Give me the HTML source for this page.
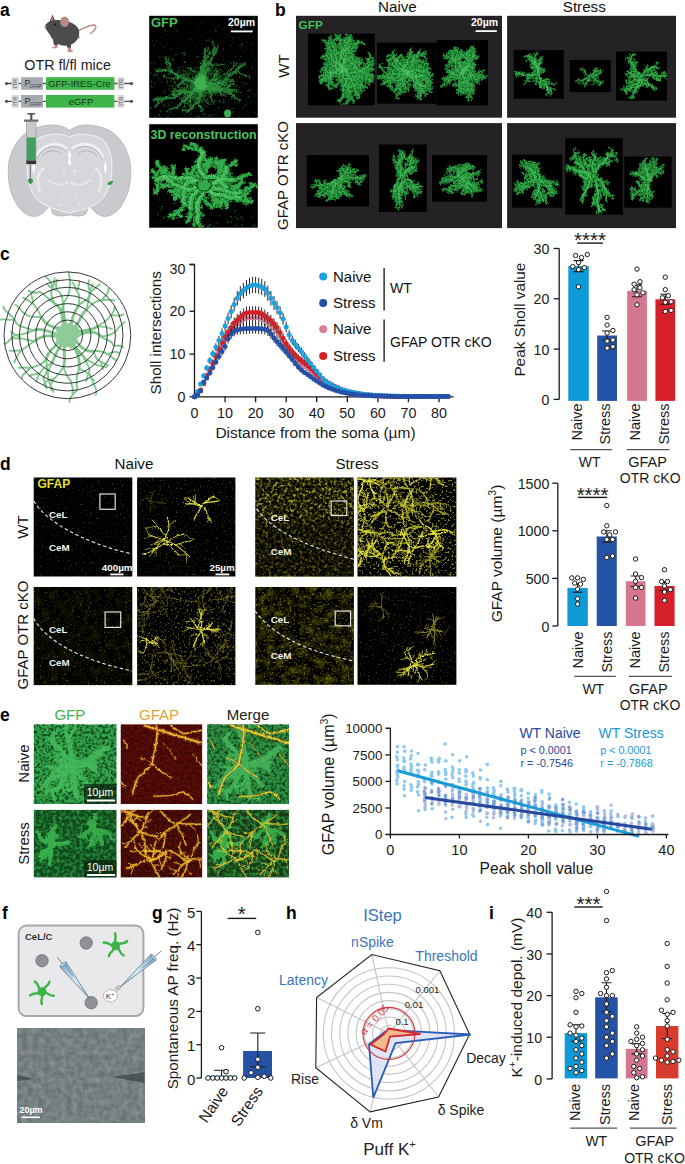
<!DOCTYPE html>
<html><head><meta charset="utf-8"><style>
html,body{margin:0;padding:0;background:#fff;}
body{width:685px;height:1164px;overflow:hidden;}
svg{display:block;font-family:"Liberation Sans", sans-serif;}
</style></head><body>
<svg width="685" height="1164" viewBox="0 0 685 1164">
<rect x="149.2" y="15.8" width="108.6" height="102.0" fill="#000"/>
<rect x="149.2" y="124.2" width="108.6" height="103.5" fill="#000"/>
<rect x="296" y="15.8" width="206.0" height="101.9" fill="#242224"/>
<rect x="507.1" y="15.8" width="168.9" height="101.9" fill="#242224"/>
<rect x="296" y="123.1" width="206.0" height="105.0" fill="#242224"/>
<rect x="507.1" y="123.1" width="168.9" height="105.0" fill="#242224"/>
<defs><path id="D10" d="M4 3l5 0l5 2l3 5l3 3l2 5l2 5l4 3l5-1l5 3l1 5l4 3l4 3M5-1l4 3l4 4l5 1l4 3l5-1l5-2l4 2l5 1l5-1l5-3l4-3l3-4l5-3l5 1l4-3l2-5l4-2M-1-5l5-1l4 2l4 3l3 5l1 5l2 5l-2 5l-3 4l-2 5l2 5l-2 4l-4 4l-2 5l-1 5l3 5M4 2l2 5l2 4l4 3l3 5l3 4l5 1l4 3l2 5l3 4l1 6l3 4l1 5l2 4l-1 6l3 4l6 0M1-6l4 4l4 2l5-1l5 0l5-1l6 0l4-3l5 0l4 3l3 4l5 1l5 3l3 4l1 5l5 3l4 3M2 1l-2 5l3 4l1 5l2 5l3 4l4 4l1 5l-3 4l1 5l3 5l4 3l2 5l3 4l0 5M-2 1l-6 0l-3-3l-3-5l-5-1l-6 0l-4 3l-2 4l1 5l2 5l0 5l0 6l-1 5M4 5l-5 1l-5-2l-5-1l-5 2l-5 0l-4 3l-4 4l-3 4l-3 4l1 6M3 4l-4 4l-5 2l-5 1l-4-2l-5 1l-6 1l-4-2l-6-1l-4-3l-2-5l0-5M0-4l-3-4l1-5l-3-5l0-5l2-5l2-5l0-5l1-5l2-5l0-5l2-4M2-2l-4-3l-3-5l-3-4l-3-4l-1-5l-2-5l0-5l-3-4l-2-4l0-5l0-6l-2-4l-3-5l-3-4l1-5M-4 1l-5-1l-5-3l-2-5l2-5l-2-5l-4-4l-4-2l-2-5l-1-5l-2-5l1-5l-2-5l-3-4l-2-4l-5-3M3-3l0-6l2-5l1-5l4-4l0-5l0-5l-4-3l-1-6l3-4l4-2l6 0l5 1l4-3l3-4l5-2M3-5l-1-5l3-4l2-5l-1-5l-4-3l-1-5l-2-5l1-5l4-3l3-5l4-2l6-1l4-2l2-5l2-5l2-5M-3-1l1-5l2-4l4-4l3-4l5-1l5 0l5 1l4 4l5 0l5 2l3 4l2 5l3 4l5 1M2 3l4-3l3-4l2-5l0-5l0-5l0-5l-1-5l1-5l2-5l0-6l-2-5l0-5l1-5l0-5l-3-5"/><path id="D11" d="M9 3l5-2l5-2l3-4l6 0l5-1M17 10l3 4l5 2l2 4l5 2M20 13l5 3l5 2l2 4l2 5M24 23l5-1l3-4l3-5M28 26l3 4l1 5l-2 5M33 25l1 5l2 5l0 5M38 28l5-1l4 4l5 1l3 5l3 3M39 33l-5 1l-2 5l2 5l3 4M43 36l5 2l5 1l4 4l4 3M9 2l-2 5l3 5l-1 5l3 4M13 6l3 4l1 5l1 5l3 4l5 1l5-2M18 7l4 3l2 4l5 2l3 5l2 4M32 7l5 2l5 1l4 3l4 3l6 0l4 2l3 5M36 9l1 5l3 4l0 6l-3 4M41 10l4 4l3 5l4 2l3 5l0 5l-2 5l-4 4M51 6l5-1l5 1l4 3l3 4l0 6l0 5l-1 5l-2 5M55 3l4-3l4-4l5-1l5-3l2-4l1-5M63-4l4-3l5-2l3-4l3-4M68-3l5 1l5 0l5 1l5 1M72-6l4-3l5-2l5-1M74-11l1-5l-1-5l1-5l2-5l1-5l-1-5M78-13l1-6l4-3l1-5M8-4l3-5l2-5l3-4l5-2l5 0l5-1M16 9l-2 5l2 4l-1 6l-2 5l-1 5l-4 3l-4 2M18 14l4 3l4 2l5 1l6 1l5 2l4 2M16 19l5 2l5 2l3 4l2 4l3 5l4 3l1 5M13 23l2 5l5 2l3 4l4 4l0 5l-4 4l-4 2M5 46l0 5l-2 5l2 5l2 5M4 51l-1 5l1 5l0 6l1 4M7 56l0 5l-1 5l-5 2l-1 5l-2 5l-1 5M8 11l5 1l5 2l5-1l4 4l5 1l5 1M12 14l1 5l1 5l1 5l4 3l1 5l2 5l3 4M18 23l-1 5l-1 5l3 4l0 6l-4 4l-3 3M23 24l5 1l5-1l5-1l3-4l3-4l4-4M27 27l5 2l3 4l3 4l3 5l4 3l5 1M29 32l-2 4l0 5l2 5l4 3l6 0l4-3l4-3M32 36l5 0l4 3l5 1l5 3l2 5l-2 5l3 4M37 51l-1 5l0 5l4 3l5 3M47 65l2 5M5-2l5-2l4-3l5 0l5 1l5 3l4 3M14-1l5 2l3 5l2 4l5 2M24-2l6 1l3 4l4 2l4 4l4 4M30-2l4 2l3 4l1 6l2 4l5 3l3 4M34-5l5-1l4-3l5-2l3-4l5-2M43-2l5 0l5 2l5-1l6 1l5 1l4 3M46 2l2 5l1 5l3 4l5 3l5 2l5-2l4-3M51 3l5 3l5 0l5 2l4 4M56 6l1 5l0 5l4 5l3 3l5 3M59 10l4 4l4 2l5-1l4-3l6 0l3 4M60 15l4 4l5 1l3 4l4 5l4 2M65 18l5-2l5 0l5 2l5 0M69 21l4 3l5 2l5 2M0 6l0 5l1 5l1 5l-1 5l-3 4M3 10l-5 3l-5-1l-5-1l-5 3l-5-2M4 15l0 5l1 6l-2 4l1 5l1 5l2 5M6 20l4 2l2 5l3 5l3 4M9 24l4 3l3 5l4 2l6 0l4 2M14 33l3 4l-1 5l1 5l2 5M11 37l3 5l4 2l5 2l5 0M12 42l3 5l0 5l0 5l1 5l4 3l1 5M15 47l-1 5l0 5l2 5l-1 5M24 59l-1 5l3 4l2 5l3 4l3 4M24 64l-2 5l-1 5l-4 3l-3 4l-2 5M-8 1l-2 5l-4 2l-5-1M-11-2l-2-5l-2-5l0-5l-2-5l-4-3l-4-3M-19-8l1-5l1-5l4-4l1-5M-25-8l-2-5l0-5l-2-5l-4-3l-5-2M-31-1l-4 3l-4 4l-4 3M-28 9l5 2l4-4l-2-5l1-5M-28 14l-5 3l-4 2l-5 0l-5 2l-4 4l-5 1M-28 20l-2 4l-3 5l-1 5l-1 5l0 5l3 4M-29 25l1 5l3 4l2 5l4 3l5 2M-1 6l-5 1l-3 4l-5 2l-5 0M-16 5l-4 4l-1 5l-3 4M-21 5l-1 6l-3 4l-5 1l-4 2M-25 8l-4 3l-3 5l-1 5l0 5M-29 12l-5 2l-5-1l-4-3M-32 16l-5-1l-6 0l-4-3M-35 20l-5 1l-4 3l-5 2l-4 3l-4 4M-34 26l-5 1l-5 1l-5 0M-1 8l-1 5l-3 4l-5 2M-6 10l-1 5l0 5l3 5l-2 4l-1 6M-15 9l-5-2l-5 2l-3 4l-4 3M-20 10l-4-3l-2-5l-3-4M-26 11l-3-3l-2-5M-36 8l-1 5l-4 3l-5 0l-4-3M-42 0l-5 2l-5-2M-42-5l4-3l-1-5l0-6M-3-8l-5-2l-5 1l-4-3l-6 0M-5-18l-1-5l1-5l0-5l-2-5l-4-3M-5-23l-1-5l1-5l3-4M-3-28l5-2l4-3l5 0l5-2M0-43l-5-1l-6 0l-4-3M2-48l-1-5l2-4l4-3l6-1M2-53l-5 0l-5-3l-5 0l-5 1M4-57l5-3l2-5l0-5M-2-5l-5-1l-5-3l-2-5l-1-5M-5-10l-3-4l-4-3l-3-5l-4-3l-3-4l-4-3l-5-1M-8-14l-5-1l-4 3l-6 0l-4-2M-11-18l-3-4l1-5l0-5l-1-6M-14-33l2-5l-2-5l0-5l-2-5l-4-2l-5 0M-21-56l-5-3l-4-3l-5-2l-4-3l-4-4l-3-3M-27-65l0-6l-2-4l-4-4M-26-70l5-2l3-4l4-3l4-4l5-1l3-4M-14-3l-5-2l-5 0l-4 3l-1 5l-5 1l-5 1M-16-8l-4-3l-1-5l1-5l-3-5l-2-4l-2-5M-14-13l0-5l0-5l-3-5l0-5M-20-22l-3-3l-5-1l-5-3l-4-3M-24-24l-3 5l-1 5l-5 1l-4 4l-5 1l-4 4M-26-29l0-5l0-5l-1-5l-4-4l-4-3l-3-4l-1-5M-27-34l4-3l1-5l-1-5l2-5l3-4M-29-39l-5 1l-4 3l-5 1l-5 1l-4 4M-33-53l3-4l4-3l4-3M-40-60l2-5l5-2l5-1M3-9l4-3l5-1l4-4l4-2l6-1M6-19l-1-5l0-5l4-4l0-5l3-4M10-23l4-3l5 0l3-3l6-1l5 0M10-28l-4-2l-6 1l-5 1l-5-1M10-33l-1-5l-1-5l-4-4l-1-5M6-36l3-5l5-2l5 1l4-3l6-1l5 1l4-2M5-42l5-1l4-4l2-4l-1-5l-2-5M8-46l4 2l5 3l5 0l5 0M12-48l4-4l4-3l5 0l5-3M18-48l4 3l3 4l4 3l1 5l0 6l4 3M23-47l3 4l1 5l1 5l0 5l4 4l5 1l5 0M27-50l1-5l3-4l5-2l5-2M2-10l-1-5l3-4l3-5l4-3l4-3M5-14l5-2l5-2l2-5l-1-5M7-19l-1-5l-3-4l2-5l4-4M2-27l-4 2l-5-2l-4-3l-4-4l-4-2l-5-2M1-32l-4-4l-2-4l2-5l3-4M0-42l2-5l5-2l5-2l4-3l2-5l4-3l4-4M7-50l-3-4l-5-2l-2-5l-3-4l2-5l1-6l-2-4M11-52l5-3l2-5l-1-5l-3-4l-4-3M17-53l-1-5l2-5l0-5l3-4l0-5l2-5M21-55l3-5l0-5l-1-5l0-5l-2-5M23-60l0-5l1-5l0-5l2-5l-1-5M25-65l5 1l5-2l5 2l5-2l4-3l5 0M4-14l4-3l0-5l3-4l0-6l-2-4M12-19l2 5l5 2l5-3l4-3l5 1M17-19l2 5l4 4l5 1l5 2l3 4M22-18l3 5l4 3l5 1M26-14l5 0l4-4l4-3l4-3l4-3M31-14l5-2l5-2l5-1l4-4M36-12l3-4l5-1l5 0l5-1M39-8l-2 5l-2 5l2 5l4 3l1 5M41-3l-4 4l-3 3l-3 5M44 1l5 1l4 4l2 4l1 5l0 6l-1 5M49 2l5 2l5 1l5-2l4-4l5 0l4-2M6 0l5 1l5 1l4 3l4 4l5 2M9-4l5-2l3-4l2-5l5-1l4-3M11-9l4-4l3-4l3-4l4-3M11-14l3-5l4-2l3-4l0-5l4-3M11-24l0-6l3-4l1-5l2-5l3-4l5-2l4-3M10-29l0-6l-3-3l-3-5l-2-5l-2-4l-1-6M11-34l0-6l-3-4l-3-4l-1-5l-2-5l-2-5M13-39l-3-4l-5-3l-3-4l-5-2M11-50l5 0l6 0l3-4l4-3M11-55l-2-4l-2-5l-1-5l3-5M12-60l1-5l3-5l2-4l2-5M12-65l-3-4l-3-4l-5-2l-5 1l-4-4M9-70l3-4l3-5l-1-5l-2-5"/><path id="D12" d="M9 3l1 5M14 1l0-5M19-1l-4-5M22-5l-4-7M28-5l4 4M33-6l3-9M14 5l1 6M20 14l-2 3M25 16l-2 6M27 20l-2 8M32 22l1 8M20 13l-3 4M25 16l-4 6M30 18l7-6M34 27l4 0M22 18l6-2M24 23l-3 3M29 22l9 3M32 18l8-2M35 13l-2-4M28 26l5-6M31 30l6 0M30 40l3 6M34 30l-5 6M36 35l-6 4M36 40l6-1M38 28l-3 6M43 27l7 6M47 31l6-2M52 32l0 7M55 37l0 8M58 40l6 0M39 33l-4 4M34 34l-2-7M32 39l4 8M34 44l-4 4M37 48l-1 7M43 36l9-4M48 38l7-7M53 39l4-4M57 43l3-2M61 46l9-2M47 39l0 5M9 2l-3 5M7 7l-6 1M12 21l-4 4M13 6l9-2M16 10l0 5M17 15l-3 4M18 20l4 2M21 24l4-2M26 25l2 9M31 23l9 3M18 7l1-6M22 10l-5 6M24 14l7 1M29 16l4-2M32 21l-7 6M34 25l-2 7M27 9l1-5M32 7l-1-5M37 9l6-4M42 10l3 7M46 13l4 0M50 16l7-5M56 16l-1 6M60 18l3-9M63 23l6 2M36 9l4-5M37 14l8-1M40 24l9 4M37 28l-9-1M41 10l-2 4M45 14l5-5M48 19l4-3M52 21l1 9M55 26l7-1M55 31l-6 6M53 36l7 7M46 9l6 6M51 6l6 3M56 5l3 8M61 6l0-7M65 9l-4 6M68 13l7-4M68 19l8 3M68 24l7 4M65 34l7 3M55 3l4 6M59 0l4 0M63-4l-3-6M68-5l0-5M73-8l6 4M75-12l8-1M76-17l9 3M58-1l-3-3M63-4l2 5M67-7l-2-5M72-9l-4-6M75-13l-5-7M78-17l10 0M68-3l1-5M73-2l4-4M78-2l4-4M83-1l0 6M72-6l6 3M76-9l1-5M81-11l4 2M86-12l3-3M74-11l-4-4M75-16l5-2M74-21l-7-7M75-26l-7-1M77-31l4 2M78-36l-7-7M78-13l-4-6M79-19l-9 0M83-22l9 0M84-27l4-3M4-6l2-6M8-4l8-4M11-9l6 0M13-14l-2-9M16-18l6 0M21-20l-1-5M26-20l1 7M31-21l2 10M15 4l-7 7M16 9l-9 0M14 14l3 5M16 18l-8 1M13 29l4 6M12 34l5 2M8 37l-6 1M4 39l-5-2M18 14l8 1M26 19l0 7M31 20l6 7M37 21l0 8M42 23l-3 6M46 25l-1 9M16 19l-5 1M21 21l-3 7M26 23l2-9M29 27l-2 8M31 31l-5 7M34 36l5 2M38 39l-5 5M39 44l-6 2M13 23l-5-5M15 28l-3 8M20 30l2-4M27 38l0 8M27 43l-8 0M23 47l4 8M19 49l2 4M11 28l-4-2M13 33l5 2M11 37l-9-1M7 41l-8 1M5 46l-7 4M5 51l4 5M5 61l5-3M7 66l-3 6M4 51l7 3M3 56l5 5M4 61l5 0M4 67l8 3M5 71l-3 3M7 56l5 2M7 61l-3 4M6 66l3 3M1 68l-1 4M0 73l-8 3M-2 78l-7 1M6 7l-2 7M8 11l-3 5M13 12l2 4M23 13l0-4M27 17l6-3M32 18l3-8M37 19l2 5M12 14l-1 10M13 19l8-1M14 24l9 1M15 29l-6 4M19 32l6-5M20 37l9 0M22 42l-9 3M25 46l10 1M15 19l5-3M18 23l6-3M17 28l3 3M16 33l-8-2M19 37l-6 3M19 43l4 5M15 47l-5-4M12 50l2 6M23 24l-2 5M28 25l0 9M33 24l-1-4M38 23l1-6M41 19l6 6M44 15l-2-7M48 11l-7-5M27 27l8-2M32 29l1-4M35 33l-1 5M38 37l-8 3M41 42l-6 3M50 46l3-7M29 32l5 1M27 36l6 4M27 41l7 1M29 46l7 4M33 49l-2 7M39 49l-2-9M43 46l8 5M47 43l5 2M32 36l-1 9M37 36l4 3M41 39l4-7M46 40l5 8M51 43l-3 6M53 48l8-3M51 53l-5 0M54 57l8-6M33 42l-7 4M36 46l6-2M37 51l6 5M36 56l-5 1M36 61l4 2M40 64l6-8M45 67l4-8M38 61l-5 3M47 65l-1 8M49 70l-8 2M5-2l6-4M10-4l-4-8M14-7l-2-6M19-7l-2 9M24-6l1-5M29-3l-2 7M33 0l5-8M9 0l1 4M14-1l-1-4M19 1l6 0M22 6l7-4M24 10l4-3M29 12l3-6M19-1l4 9M30-1l3-4M33 3l-2 7M37 5l5-1M41 9l-3 5M30-2l0 7M34 0l-2 8M37 4l-1 5M38 10l-5 2M40 14l6-4M45 17l7-7M48 21l-4 2M34-5l0-7M39-6l3-4M48-11l2 7M56-17l5 3M48-2l4 7M53 0l5 7M58-1l5-4M64 0l4 7M69 1l2 9M73 4l7-5M46 2l-4 8M48 7l6-2M49 12l5 5M52 16l7-2M57 19l-3 4M62 21l3 5M67 19l-1-5M51 3l6-3M56 6l3-4M61 6l7-5M70 12l6-6M56 6l-2 9M57 11l-9 1M57 16l7-1M61 21l-5 4M64 24l-6 4M69 27l-2 9M59 10l-3 4M63 14l0 5M67 16l3-7M72 15l-4-8M76 12l8 5M82 12l2 4M85 16l-6 6M60 15l-4 5M64 19l7-1M69 20l6-4M72 24l-6 4M76 29l-1 9M80 31l5-1M65 18l3-4M70 16l4-9M80 18l2 4M85 18l1 9M69 21l9-4M73 24l-6 8M78 26l3-3M0 6l-4 2M1 16l4 3M2 21l-9 3M1 26l-6 1M-2 30l-7 1M3 10l-5 6M-2 13l0 9M-7 12l-3 6M-12 11l-3 4M-17 14l-5-2M-22 12l-3 8M4 15l-5 5M4 20l6 0M5 26l7 1M3 30l2 8M4 35l-5 5M5 40l7-3M7 45l-5 1M6 20l9 1M10 22l3 6M12 27l7 3M15 32l-4 4M18 36l9 0M9 24l5 1M13 27l-1 7M16 32l-4 8M20 34l1 4M26 34l-1 7M30 36l0 9M13 28l7-1M14 33l-9 0M17 37l-2 9M19 52l9 1M11 37l3 8M14 42l8-5M18 44l2-4M23 46l-3 4M15 47l-3 3M15 52l-4 2M15 57l-5 1M16 62l-6 0M20 65l4-4M21 70l-4 8M15 47l5-4M14 52l-6 3M14 57l3 4M16 62l-3 3M15 67l4 8M19 50l6-6M21 55l5 0M24 59l4-3M23 64l3 2M26 68l-1 7M28 73l-5 5M34 81l-2 4M24 64l8 5M22 69l-7-1M21 74l4 2M17 77l0 10M12 86l-8 0M-8 1l1-7M-14 8l-2-5M-19 7l-9 4M-11-2l2-7M-13-7l-5 2M-15-12l-5 0M-15-17l4-5M-17-22l-4-2M-21-25l3-5M-25-28l-6 0M-14-7l4-4M-19-8l0 4M-18-13l-4-1M-17-18l6 3M-13-22l-7-5M-25-8l0-5M-27-13l-6 0M-27-18l-8 0M-29-23l7-6M-33-26l-4 7M-38-28l-6 3M-29-5l-8-5M-31-1l3 3M-35 2l-7-5M-43 9l-4-8M-30 4l7-1M-28 9l-6 3M-23 11l4-5M-19 7l-6-7M-21 2l4-1M-20-3l6-3M-28 14l6-1M-33 17l-2-6M-37 19l1 5M-42 19l1 4M-47 21l-2 9M-51 25l1 4M-56 26l-4-8M-28 20l5 0M-30 24l1 6M-33 29l-6 1M-34 34l8 4M-35 39l-6 1M-35 44l5 6M-32 48l8-1M-29 25l9 2M-28 30l-2 4M-25 34l-6 3M-23 39l7-2M-19 42l8-4M-14 44l2-8M-1 6l-4-6M-9 11l5 7M-14 13l0 4M-19 13l-4 3M-6 4l-1-5M-11 3l-1 8M-16 5l-6-5M-20 9l1 8M-21 14l-5 4M-24 18l-6-4M-22 11l-4 3M-25 15l4 5M-30 16l-6-5M-34 18l-2 8M-25 8l-4-7M-29 11l0 6M-32 16l-8 4M-33 26l4 6M-34 14l-3 6M-39 13l-2-3M-43 10l1-5M-37 15l-5 5M-47 12l2-5M-35 20l4 8M-40 21l-4 5M-44 24l-1 4M-49 26l-2 4M-53 29l0 7M-57 33l-4-5M-34 26l-9 4M-39 27l0-4M-2 13l-6 1M-5 17l2 5M-10 19l-6-7M-7 15l1 4M-7 20l-6 4M-6 29l-8-3M-7 35l-6 4M-11 11l-4 8M-15 9l-1-4M-20 7l4-7M-25 9l4 9M-32 16l-8-2M-24 7l3-3M-26 2l6-1M-29-2l-8 2M-29 8l1-5M-36 8l-1 4M-37 13l5 1M-46 16l-6 5M-50 13l-7 3M-40 5l-9 3M-42 0l-5 3M-47 2l-3-3M-52 0l-6 7M-42-5l5-5M-38-8l-4-9M-39-13l3-3M-39-19l3-3M-3-8l1-4M-8-10l-6 3M-13-9l-3 5M-17-12l1-5M-2-13l-8-6M-5-18l-7-3M-6-23l4-4M-5-28l8 4M-5-33l-9 3M-7-38l8-2M-11-41l-8 1M-5-23l7-4M-6-28l5-4M-2-37l-6-8M-3-28l5 2M2-30l1-9M6-33l5 2M16-35l3 8M-1-33l6-4M-1-38l5-7M0-43l-6-5M-5-44l-1 9M-11-44l0 7M-15-47l-1-10M2-48l10-2M1-53l-7-3M3-57l-7-6M7-60l3 4M13-61l1 5M2-53l5-3M-3-53l-2 5M-8-56l-1-8M-13-56l-3-8M-18-55l1 7M4-57l-2-9M9-60l4 7M11-65l6-1M-2-5l-4 2M-7-6l-4 4M-12-9l-3 8M-14-14l6-7M-15-19l5-1M-5-10l1-4M-8-14l-6 6M-12-17l2-6M-15-22l-8 4M-19-25l-7 7M-22-29l-4 4M-26-32l-4 5M-31-33l-2 6M-8-14l-10 1M-13-15l3-7M-17-12l-2 5M-23-12l-1 6M-27-14l-2 5M-11-18l0-4M-14-22l-10 2M-13-27l5 3M-13-32l6-4M-14-38l-5-1M-12-23l5-6M-14-28l-8-4M-14-33l6-1M-12-38l-4-1M-14-43l-6 1M-14-48l-5-4M-16-53l3-5M-20-55l6-7M-25-55l-6-7M-17-37l2-5M-19-41l-6 2M-19-46l-4-3M-19-52l-7-7M-21-56l3-6M-26-59l4-8M-30-62l-7 7M-39-67l-3 3M-43-71l-4 2M-46-74l-8 1M-24-61l6-7M-27-65l4-9M-27-71l-9-1M-29-75l-7 3M-33-79l5-5M-26-70l-9 0M-21-72l2-6M-18-76l4 1M-10-83l-8-6M-5-84l1-9M-2-88l-6-6M-9 0l3-5M-14-3l4-5M-19-5l-2-5M-24-5l-4 8M-29 3l3 6M-34 4l-8-4M-39 5l-5 8M-20-11l-6 3M-21-16l-5-1M-20-21l-7 0M-23-26l4-8M-25-30l-6-2M-27-35l-4 0M-14-13l-4-7M-14-18l-8 1M-14-23l-7 1M-17-28l4-7M-17-33l-8-1M-16-18l4-3M-20-22l-5 5M-23-25l-8 5M-28-26l-3-5M-33-29l0-9M-37-32l-2-8M-24-24l-1-6M-27-19l2 7M-37-9l-7-3M-42-8l-6-6M-46-4l-6 0M-26-34l4-4M-27-44l-6-3M-31-48l-5 7M-35-51l-6 7M-38-55l-6 4M-39-60l3-4M-27-34l5-3M-23-37l9 3M-23-47l8-4M-21-52l5-1M-18-56l6 5M-29-39l-7-3M-38-35l-5-5M-43-34l2 5M-48-33l-2 5M-28-44l5-1M-33-53l-5-1M-30-57l-4-8M-26-60l9 1M-22-63l-2-5M-35-57l5-2M-40-60l1-4M-38-65l8 4M-33-67l7 2M-28-68l0-5M7-12l7 6M12-13l3-7M16-17l-6-8M20-19l4 5M26-20l4 6M5-14l-6-1M6-19l10-2M5-24l5 0M5-29l-8-2M9-33l0-4M9-38l-4-1M12-42l5 4M22-29l0-9M28-30l4-8M33-30l2-4M6-30l0-10M0-29l-6 6M-5-28l-6 7M-10-29l-3 3M10-33l9-4M9-38l-7-6M8-43l6-2M4-47l-8 3M3-52l-7 2M6-36l0-4M9-41l5 0M14-43l-3-9M19-42l0-8M29-46l0 6M38-47l-1-6M5-42l-9-3M10-43l0-4M14-47l-4-5M15-56l9-2M13-61l6-2M12-44l2 5M17-41l4-1M22-41l1-6M27-41l4-4M12-48l0-7M16-52l-3-7M20-55l-3-6M25-55l2 5M30-58l-1-5M18-48l4 9M25-41l-5 6M29-38l5 0M30-33l-4 3M34-24l8-3M23-47l2 6M26-43l5-3M27-38l-5 3M28-33l9 3M37-23l3 6M42-23l0-7M27-50l4 2M28-55l6-5M31-59l-8-4M36-61l7 5M41-63l2-9M30-54l-2-6M35-56l6 3M2-10l5-8M1-15l10 0M4-19l-1-5M7-24l8 0M11-27l-4-8M15-30l6 3M5-14l-3-8M10-16l2 7M15-18l5 7M17-23l-4-1M7-19l-4-1M6-24l4-5M3-28l4-7M5-33l-5-5M9-37l0-8M2-27l-2-6M-2-25l-3 5M-7-27l2-4M-11-30l-7 5M-15-34l-6 7M-19-36l3-6M-24-38l4-7M1-32l-9 2M-3-36l0-5M0-49l8 1M-1-37l-8 3M0-42l4-3M2-47l9 3M7-49l1-6M12-51l2 4M16-54l0-6M18-59l5 1M22-62l-6-7M26-66l-6-5M4-45l-7-6M7-50l-5-2M4-54l-9 3M-1-56l-3 9M-3-61l-6 0M-6-65l7-7M-4-70l-4-6M-3-76l-9-4M-5-80l4-9M11-52l1-4M16-55l4 2M18-60l-4-2M17-65l6-5M14-69l-6-1M10-72l6-5M18-63l4-2M18-68l5 0M21-72l6 3M21-77l-6-2M23-82l-6-1M21-55l1-6M24-60l-8-4M24-65l-5 1M23-70l6-7M23-75l3-4M21-80l7-4M23-65l-7-2M26-80l-4-3M25-85l-10-1M25-65l7 4M35-66l-1-6M40-64l4-6M45-66l1-9M49-69l8 3M54-69l8 6M27-70l6-3M0-10l7 5M4-14l1-8M8-17l9 3M8-22l6-1M11-26l6 0M11-32l9-1M9-36l-4-1M7-18l8 0M12-19l4 3M14-14l9 2M19-12l4 7M24-15l-1-8M28-18l4 3M33-17l8 6M17-19l-3-9M19-14l-3 4M23-10l-8 4M28-9l7-5M33-7l4 6M36-3l-3 5M22-18l0 5M25-13l6 2M29-10l-2 8M31-14l3 9M35-18l9 1M39-21l2-8M43-24l3 5M47-27l3 4M31-14l0 9M36-16l3 3M41-18l3-5M46-19l-3-8M50-23l-3-7M36-12l1 7M44-17l3 9M49-17l4-8M54-18l3-8M39-8l6-2M37-3l2 5M35 2l-7-3M37 7l-7 7M41 10l-4 6M42 15l6 5M41-3l-9 3M37 1l-7-4M34 4l-6-4M31 9l-5-2M49 2l-2 8M53 6l-5 4M55 10l5-3M56 15l-5 0M56 21l6 4M55 26l6 3M49 2l-3 9M54 4l5-7M59 5l-2 4M64 3l1-4M68-1l10 0M73-1l-1 7M77-3l2-6M6 0l3 4M11 1l1-5M16 2l4-4M24 9l7-2M29 11l6-5M9-4l7 4M17-10l4-1M19-15l-3-2M24-16l1 5M28-19l5 1M11-9l8 4M15-13l5-1M18-17l-4-4M21-21l5 0M25-24l4 5M11-14l5 0M14-19l-8-6M18-21l3 4M21-25l7 1M21-30l8-3M25-33l6 2M11-19l-4-3M11-24l-3-5M11-30l-7-1M14-34l7 0M15-39l-6-2M17-44l-7-5M25-50l4-5M29-53l2-6M10-35l-7-1M7-38l3-6M4-43l4-4M2-48l-6 3M-1-58l-6-2M11-34l6-2M11-40l3-3M8-44l-6 3M5-48l-7 2M4-53l-6 1M2-58l-6 4M0-63l7-4M13-39l-4-3M10-43l6-7M5-46l5-6M2-50l-6 1M-3-52l0-9M13-45l-7-2M16-50l4-6M22-50l1-4M25-54l9-1M29-57l8 5M11-55l3-3M7-64l7-5M6-69l3-5M9-74l7 1M12-60l9 1M13-65l7-6M16-70l9 3M18-74l-3-7M20-79l-7-4M9-69l6-3M6-73l5-7M1-75l-8 2M-4-74l-3-6M-8-78l-6 5M9-70l5-8M12-74l-5-5M14-84l-7-7M12-89l6-4"/><path id="D20" d="M2 2l5-3l4-3l4-3l6 0l4-2l4-3l4-4l1-5l5-2l4-3l5-3l5 0l5 0M1-5l3 4l2 5l2 5l-2 5l-2 4l-3 4l-3 5l-1 5l-3 4l-5 2l-4 3l-5 0l-5-1l-5 2l-2 5l-5 3M-2-4l5 2l5 2l5 0l5-1l4-4l4-3l6 1l3 4l6 0l5 1l5 0l4 2l5 1M-5-1l-2 5l2 5l2 4l2 5l2 5l4 3l5 2l5 2l2 5l-1 5l-3 5l1 5l4 3l5 2M-2-5l-4 4l-5 1l-4 4l-3 4l-4 3l-5-1l-6-1l-5 1l-5-1l-5-1l-5-2M4-3l-5 1l-5-2l-4-3l-5-2l-5 0l-5 2l-5 0l-5-1l-5-1l-6 0l-4 2M0-3l-5 0l-5-1l-4-3l-2-5l-1-5l-2-5l-2-5l-2-4l-3-5l1-5l4-4M-3-3l-5 2l-4 3l-5 0l-5 1l-5 1l-5-2l-5 1l-5-1l-3-5l-3-4l-5-2l-5-1l-5 3M3 2l-5 2l-3 4l-4 4l-3 4l-1 5l-1 5l-3 4l-5 2l-4 3l-2 5l-2 4l-5 2l-5-1l-4-3l-6-1M1 0l-1-5l-4-4l-1-5l1-5l-1-5l1-5l-2-4l-3-5l-1-5l3-4l-1-5l-2-5l-1-5l-2-5l2-5M-6 5l-4-3l-5-2l-4-3l-3-4l-1-5l2-5l4-3l2-5l1-5l1-5l2-5l4-3M3 4l5-3l2-5l4-3l5-3l5 1l4 3l5 3l4 3l3 4l0 5l3 5l5 1l5 2l5 1l5 2l2 5M2 0l1-5l-1-5l2-5l4-3l2-5l5-3l4-2l6 1l4-2l5-3l1-5l4-4l5-1l5 0l5 2l4 3M3-5l3-4l3-4l5-3l5-1l5 2l4 2l6 1l3-4l2-5l2-4M0 6l4-2l6 1l4-2l6-1l5-1l4 3l4 3l6-1l4-3l5 1l5-2l5 0l4-3l5-2l5 1"/><path id="D21" d="M7-1l5 0l4 3l5 2l4-2M29-12l6 1l5 0l3 4M43-26l5 2l5-2l5 1l5 2l2 5l5 1M48-29l1-5l4-3l2-4M53-29l4 3l3 4l4 4l1 5l0 5l-1 5M8 9l-2 5l1 5l1 5l-1 5l1 5M6 14l-2 4l-4 4l0 5l-3 5l-5 3M4 18l-3 5l-2 4l-2 5l2 5l4 3l1 5l-2 5M1 22l-5 3l-1 5l-3 4l-3 4l-5 2l-5-2l-4 3M-6 36l3 4l3 4l4 3l3 5l-1 5l-2 4M-15 41l-5 1l-3 4l-3 4l-3 5l-1 5l-2 4M-20 41l-2 5l1 5l3 4l2 5l3 4l5 1l6 1M-30 42l-4 3l-5 2l-4 3l-2 5M-32 47l3 4l1 5l-1 5l-5 3M-37 50l-4-2l-5 1l-5 2l-2 5l-3 4l-5 2M3-2l5 1l6 0l4 2l3 5M13 0l3 5l1 5l1 5l2 5l5 1l5 2M22-5l5 0l4-3l2-5l-1-5M26-8l6 0l4-3l3-4l4-4l5-1M35-3l5 2l3 4l2 5M46-2l5-2l5 0l5 1l4 4l0 5M51-2l0-6l-3-4l3-5l3-4l5-2M55 0l4 4l3 5l4 2l5 3l2 4M60 1l5 3l5-2l3-4l5-2l3-4l5-1M-7 4l-4 2l-5 0l-5-1l-5-2M-5 9l-1 5l3 4l2 5l-2 5M-3 13l-2 5l0 5l3 4l3 4l6 1l4 3M-1 18l5 2l4 3l3 4l-1 5l2 5M1 23l5 0l5 3l1 5l3 4M10 28l2-5l4-4l2-5M15 30l4 3l5 2l5 0l5 3M17 35l-1 5l-2 5l-1 5l3 4l4 4M13 45l-5 0l-5 0l-6-1l-5 0M14 50l-5 2l-1 5l-1 5l1 5M18 53l5-2l5-1l4-4M23 55l-1 5l-1 5l-1 5l0 6M-6-1l0 5l-4 3l-6 0l-4-3l-5 1M-11 0l-4 3l-1 5l-1 5l-2 5l-2 5M-15 4l0 5l4 4l2 5l2 4l4 3M-18 8l-4 2l-2 5l-1 5l-3 5l-4 2M-27 10l-5-2l-4-4l-5 1l-5 0l-5-1M-33 9l-3-3l-3-5l-1-5l-5-2M-38 10l-5-1l-4-2l-2-5l1-5l-4-5M-43 9l-5 2l-5-1l-5 0l-5 0l-5-2M-6-4l-3-4l-2-5l0-5M-10-7l-5-1l-5 1l-5 2M-15-9l-5-2l-4-4l-2-4l-2-5M-20-9l-1 5l3 5l3 4M-30-7l-5-1l-4-4l0-5l2-5M-35-8l-3 4l-2 5l-3 4l-5 2l-2 5M-40-9l-5-3l-2-4l0-6l-3-4M-50-7l-5 2l-5 1l-4 3l-2 5l-3 5M-10-4l-5 2l-5-3l-3-4l-3-4M-14-7l-4-4l-5 0l-4-3M-16-12l3-4l2-5l0-5M-19-22l-3-5l-2-4l-1-5l3-5M-21-27l-5 0l-5 2l-5 2l-5-1M-23-31l2-5l-2-5l-5-2l-2-5l-3-4M-26-36l-1-5l1-5l-1-5M-21-45l2-4l2-5l3-5l4-3l3-4M-12 2l-4-3l-5-2l-5-3l-3-3l-4-4l-5-2M-27 4l-4-3l-5-3l-4-3M-32 2l1-5l-4-4l-3-4M-45-3l-1-5l-1-5l-4-3l0-5l1-6l3-3M-48-7l-4-3l-6-1l-3-4l-5-1l-5-3l-3-4M-53-9l-5 1l-5-3l-5 1l-5 2l-5 1M-63-7l-3 4l0 5l-1 5M-2 4l-1 5l-4 3l-3 5l0 5l2 5l3 4M-5 8l-2 5l-5 2l-5 1l-3 4M-12 16l-3 4l-5 3l-4 2l-4 4l-4 3l-3 4l-5 2M-13 21l2 5l-1 5l-4 4l-2 4l-2 5l-4 4l-5 1M-14 26l-4 2l-3 4l-5 2l-5 3M-17 30l-4 3l-3 5l0 5l0 5l-1 5M-22 32l-4-2l-5-3l-3-4l-5-1l-5 2l-5 0l-5 3M-26 35l-4-3l-4-4l-3-4l0-6l1-5l-4-4l-4-3M-28 40l-2 4l0 6l0 5l-1 5l0 5l-1 5l-5 3M-30 44l-4 4l-5 2l-5 2l-3 3l0 6M-35 46l-3-4l0-5l-3-5l-2-5l-5-1l-5-2l-5 1M-44 42l-5-1l-6 0l-4-2l-6 0l-4-3l-5 1l-5-1M0-5l-4-3l-3-4l-4-4l-5-1M-4-19l3-4l2-5l1-5l3-4M-5-24l0-5l1-5l0-5l2-5l3-4l2-5l4-4M-4-29l-3-4l-3-4l-3-4l-1-6M-6-33l3-4l4-4l5-2l5 1l5 1M-9-38l-5-2l-4-3l-5-3l-4-2l-4-3l-2-5l-4-4M-10-43l-4-3l-5 0l-5-2l-4-3l-5-2M-7-47l5-2l5-2l4-2l6 0l3-3l1-5M-8-52l-5 0l-4 3l-2 5l-4 3M-13-67l5-2l5 1l5-1l4-3l5-1M-11-72l4-2l5-2l4-3l3-4M-19-3l-4 4l-2 5l-4 3l-5 2M-21-17l0-5l2-4l-1-5M-17-20l1 4l1 6l3 4M-14-30l0-5l1-6l-4-4l0-5M8 1l5 0l5 0l5-2l4-2l2-5M10-4l5 2l5-1l6 1l4 3l5-1l4-4l0-5l4-3M19-10l4-3l3-4l2-5l5-1l4-3l2-5l0-5M24-9l4 3l6-1l5 0l5-2M40 4l4 3l4 4l5 1l3 4l2 5M48 15l5 1l5 1l5 1l5-2l4-4l5-1l5 2l4 3M58 18l5 2l3 4l1 5l2 5l4 3M63 20l5 1l4 3l4 3l2 5l3 4M3-5l0-5l-3-5l1-5l-3-4M2-10l5-2l2-4l1-6l2-4l4-4l3-4M4-15l2-5l4-2l2-5l4-3l4-4l-1-5l-1-5l-1-6M10-23l2-5l0-5l3-5l4-3l5 0M15-26l3-3l5-1l5-2l5-1l3-5M19-28l5-2l5 0l4-3l3-5l3-4l1-5M25-27l3-4l3-4l1-5l-3-5l-3-4l-2-5l0-5l1-5M34-32l5 1l4-3l2-4l-1-5l-2-5l-4-3l-5-2M35-37l0-5l3-4l1-6l4-3l5 0M39-41l5 1l5-2l5 0l5 2l3 4l2 5l6 1M58-37l4 3l3 5l1 5l4 3M6-9l-2-5l1-5l-2-5l2-5M9-13l5-2l3-4l3-4M14-16l-3-4l-2-5l-5-2M24-15l2 5l3 4l3 4l2 5M10 5l4-3l4-3l5 1l4-3l3-4M14 3l2-5l0-5l0-5l-2-5M25 1l4 3l5 2l3 4l1 5l4 4l5 1M33 7l5 3l5 2l5 1l5-1l5 0M39 6l5-1l4 3l5 0l5 3l5-1l5-2M43 3l2-4l4-4l0-5l0-6l-3-4l-4-3l-2-5M48 4l5 2l3 4l3 4l4 3l5 3l5 3l4 1M53 2l3 4l3 5l4 2l2 5l5 3l4 3M58 2l3 5l4 3l5-1l5-1l4-4M62-1l5-3l5-1l5-1l5 2l4 2M67-3l3-5l3-4l3-4l0-5l-3-5l-4-4"/><path id="D22" d="M7-1l-1-5M12-1l1-7M16 2l-2 4M21 4l5-8M25 2l4-9M11-4l4 2M15-7l-3-4M21-7l5-4M29-12l5 3M40-11l2-6M43-7l8-5M33-16l5 0M34-21l-7-3M39-23l-5-6M43-26l-3-4M48-24l3-8M53-26l6 1M63-23l2 8M65-18l5-4M70-17l0 9M48-29l8 2M49-34l6-3M55-41l-3-7M53-29l0-5M57-26l0 8M60-22l3-2M64-18l3-4M65-13l4 2M64-3l-4-2M58-29l-1 6M4-1l-5 5M6 4l-6 7M8 9l-4 1M6 14l-5 1M7 19l3 4M8 24l8-2M7 29l-8 5M8 34l4 3M6 14l4 3M0 22l-7-1M0 27l4 4M-3 32l2 8M-8 35l-6-3M4 18l7 4M1 23l0 7M-1 27l-4 1M-3 32l-6 2M-1 37l-3 3M3 40l9-1M2 50l3 9M1 22l1 7M-4 25l-7-3M-5 30l3 4M-8 34l-4 1M-11 38l-5 1M-16 40l-4-3M-21 38l2-5M-25 41l-2 6M-2 27l-8-5M-3 32l6-1M-6 36l4 3M0 44l7 1M4 47l-4 4M7 52l-6 8M-11 38l4 6M-15 41l3 7M-20 42l-5-4M-23 46l1 9M-26 50l7 7M-29 55l8 5M-30 60l-4 3M-32 64l-4-2M-20 41l-2-6M-22 46l-9-3M-21 51l5-1M-18 55l0 8M-16 60l8 0M-13 64l-6 4M-8 65l5 6M-2 66l0-5M-25 40l-1-4M-30 42l-4-5M-34 45l5 8M-39 47l-4 8M-43 50l5 5M-45 55l5 2M-32 47l4 3M-29 51l7 0M-29 61l-6 2M-34 64l-7 0M-37 50l-9-3M-41 48l-1-7M-51 51l2 9M-53 56l-5 1M-56 60l0 8M-61 62l1 7M3-2l1-4M8-1l3-9M14-1l6 5M18 1l-1 6M21 6l8 1M8 0l2-5M13 0l1-4M16 5l8-6M18 15l7-3M20 20l-6 3M25 21l4-2M30 23l3 6M18-1l4 5M22-5l7 7M27-5l3 4M31-8l2-6M33-13l-3-3M32-18l-9 3M26-8l3-9M32-8l2 8M36-11l4 7M43-19l7 3M48-20l0 9M32-7l-2 9M35-3l3-3M40-1l3 6M43 3l-4 4M45 8l9 1M46-2l1 5M51-4l7 6M56-4l1-6M61-3l-1 8M65 1l4-6M65 6l8 4M51-2l2-4M48-12l-8 2M51-17l8-1M54-21l5 4M59-23l1 8M55 0l6-1M59 4l3-3M66 11l-1 8M71 14l4-6M73 18l5-4M60 1l8-5M65 4l5-7M78-4l2 6M81-8l8-3M86-9l2-7M-7 4l5 6M-11 6l4 9M-16 6l0-9M-21 5l2-5M-5 9l9-3M-6 14l6 6M-3 18l-6 8M-1 23l7 3M-3 28l-8 4M-3 13l8 2M-5 23l-8-1M-2 27l6-6M1 31l-4 4M7 32l0-7M11 35l-3 9M-1 18l6 2M4 20l0 5M8 23l2-5M11 27l-3 6M10 32l-7 4M12 37l-7 4M1 23l7-1M6 23l3-7M11 26l-4 4M12 31l-5 6M15 35l-2 9M5 26l-3 3M10 28l3 7M12 23l7 2M16 19l8 2M18 14l-3-4M15 30l1 10M19 33l0 8M24 35l1 9M29 35l-2-9M34 38l4-2M17 35l-8 6M16 40l6 1M14 45l4 8M13 50l8 2M16 54l0 8M20 58l7-3M16 40l-5 1M13 45l7 3M3 45l-4 5M-3 44l1-7M14 50l8 6M9 52l-4-6M8 57l-5 2M7 62l-7 7M18 53l4-5M23 51l1 7M28 50l2 4M32 46l-2-5M23 55l5-2M22 60l6 3M21 65l-7 4M20 70l4 8M20 76l10 0M-6-1l0 8M-6 4l6 0M-10 7l1 8M-25 5l-3 9M-11 0l-5 8M-15 3l-5-5M-16 8l7 5M-17 13l-9 3M-19 18l-6 2M-21 23l6 7M-15 4l1 5M-15 9l-4 1M-11 13l-2 4M-9 18l-5 8M-7 22l-2 4M-3 25l8-1M-18 8l-4-5M-24 15l6 4M-25 20l6 1M-28 25l3 7M-32 27l1 7M-22 11l3 3M-27 10l-2 4M-32 8l-2 8M-36 4l1-9M-41 5l-4-7M-46 5l0-9M-51 4l-4-8M-33 9l-5 4M-36 6l-5 8M-39 1l4-5M-40-4l-7-6M-45-6l-8 2M-38 10l-3-3M-43 9l0-5M-47 7l-7 1M-49 2l8-2M-48-3l9 0M-52-8l1-6M-43 9l-2 6M-48 11l-1-5M-53 10l-6 6M-58 10l-4-2M-63 10l-5-6M-68 8l-5 0M-48 8l-1-7M-53 6l1-6M-1-2l0 9M-6-4l-1 4M-9-8l-9 3M-11-13l-4 2M-11-18l6-1M-15-8l-1 9M-20-7l-6-6M-25-5l2 6M-15-9l1-5M-24-15l1-5M-26-19l-4-1M-28-24l-9 4M-20-9l-2 8M-21-4l-5 3M-15 5l-4 5M-25-7l-3-7M-30-7l-2 10M-35-8l-3 4M-39-12l-9 3M-39-17l6-6M-37-22l-4-8M-35-8l4-8M-38-4l-7-3M-40 1l-5 2M-43 5l8 4M-48 7l-3-6M-50 12l-5 1M-45-12l-6 5M-47-16l-6-2M-47-22l-7 0M-50-26l6-2M-46-9l-6 6M-50-7l-1 5M-55-5l-1-9M-60-4l-4 6M-64-1l-4-2M-66 4l-5 1M-69 9l7 2M-5-3l-4 7M-10-4l-3 9M-15-2l-2 4M-20-5l-7 5M-23-9l-5 3M-26-13l1-6M-14-7l5-8M-18-11l-7 7M-23-11l-6 6M-27-14l-7 2M-16-12l9-2M-13-16l-3-8M-11-21l9 2M-11-26l6-1M-17-17l5-7M-19-22l3-9M-24-31l-9 3M-25-36l-4-4M-22-41l-3-7M-26-27l-1 5M-31-25l-6-5M-41-24l-4-4M-23-31l5-1M-21-36l-4-8M-23-41l-7 0M-28-43l3-5M-30-48l1-9M-33-52l-6 3M-26-36l-9-2M-27-41l-8-5M-26-46l-6-5M-27-51l-6-3M-25-41l6-6M-21-45l5 5M-19-49l4-2M-17-54l-3-5M-14-59l4 2M-10-62l9 4M-7-66l0-4M-8-1l-1 5M-12 2l2 4M-26-6l2-6M-29-9l-1-4M-33-13l-3 5M-38-15l-1-4M-17 2l-1 9M-22 3l-3-6M-36-2l4-3M-40-5l-4 5M-32 2l2-9M-31-3l-6-2M-35-7l-4 5M-38-11l0-9M-37 3l-4-2M-42 2l-5 6M-45-3l-5-1M-46-8l-5 1M-47-13l-9 1M-51-16l-1-7M-51-21l5-8M-50-27l6-3M-47-30l-1-4M-48-7l-3 5M-52-10l1-5M-58-11l-4-6M-61-15l0-9M-66-16l-3 6M-74-23l3-6M-58-8l-7-6M-63-11l-2-6M-68-10l-5-8M-78-7l2 7M-63-7l-5-7M-66-3l6 6M-67 7l6 5M-3 9l3 7M-10 17l-6-3M-10 22l8 3M-8 27l10 0M-5 31l-6 7M-5 8l-9-1M-7 13l-9-1M-17 16l-4-6M-20 20l-4-5M-9 12l0 9M-12 16l-5-5M-20 23l4 6M-24 25l-9-3M-28 29l7 4M-32 32l0 4M-35 36l-4-1M-40 38l1 5M-13 21l-8 1M-11 26l5 4M-12 31l-8-2M-18 39l2 8M-20 44l-6 0M-24 48l3 6M-29 49l-2 5M-18 28l-6-4M-21 32l-6 0M-26 34l-7-6M-31 37l-6-8M-17 30l3 5M-21 33l-8-3M-24 38l0 8M-24 43l5 6M-24 48l-5 2M-25 53l3 6M-22 32l-7-2M-26 30l-4 3M-31 27l-5 1M-34 23l-6 2M-39 22l-4 8M-44 24l2 8M-49 24l-1-6M-54 27l-2-6M-26 35l-5-2M-30 32l6-7M-34 28l-8 0M-37 24l-5 4M-37 18l9 0M-36 13l-8-4M-40 9l8-5M-44 6l-3 6M-28 40l8 3M-30 44l-7-1M-30 50l5 3M-30 55l-6 0M-31 65l9 1M-32 70l-6 5M-37 73l-1 5M-30 44l2 4M-34 48l-5-2M-39 50l-2 4M-44 52l-2 9M-47 55l-7-6M-47 61l-5 4M-38 42l-8 5M-38 37l-6-1M-41 32l0-4M-43 27l-6 2M-48 26l3-8M-53 24l-1-5M-58 25l-5 6M-44 42l-1-6M-49 41l0-7M-55 41l1 6M-65 39l-2-5M-69 36l-7 5M-74 37l-7-4M-79 36l3-8M-50 41l3-6M0-5l-5 1M-4-8l2-8M-7-12l-4 3M-11-16l1-5M-16-17l-1-6M-4-9l-1-7M-4-19l8-4M-1-23l5 2M1-28l5 0M2-33l-8-2M5-37l-5-5M-5-24l-5-4M-4-34l-5-1M-4-39l-7-5M-2-44l-4-3M1-48l6 0M3-53l-6-2M7-57l9 4M-4-29l10 1M-7-33l-8-1M-10-37l0-7M-13-41l-4 3M-14-47l-6-1M-6-33l-8 1M-3-37l-3-6M1-41l4 0M6-43l5 3M11-42l-1 6M16-41l7-5M-14-40l4-5M-18-43l2-4M-23-46l-5 6M-27-48l0-6M-31-51l-8 3M-37-60l-2-7M-10-43l8-2M-14-46l-8 5M-19-46l0-7M-24-48l-8 3M-28-51l-4 8M-33-53l6-8M-7-47l-1-5M-2-49l4 4M3-51l0-5M7-53l6 4M13-53l-1-9M17-61l4-2M-8-52l5 0M-13-52l0-6M-17-49l-4-3M-23-41l4 8M-10-57l-7 4M-11-62l5-3M-13-67l6-3M-8-69l5 3M-3-68l3-5M2-69l3-8M6-72l6 1M11-73l8 4M-11-72l-4-9M-7-74l2 9M-2-76l0-5M2-79l-3-6M5-83l-4-5M-10 2l0-4M-15 0l-5 5M-19-3l-4 4M-23 1l-7-1M-25 6l5 7M-29 9l4 5M-34 11l3 6M-22-7l4-8M-23-12l-6 0M-21-17l-5-3M-21-22l-4 1M-19-26l-8-5M-20-31l-7-2M-17-20l-4-5M-16-16l-6 3M-15-10l-5 2M-14-35l5-1M-13-41l-7-4M-17-45l-3 3M-17-50l4 0M-13-35l6-2M-11-40l6 1M-7-43l-5-5M8 1l6 3M13 1l3-4M18 1l4 8M23-1l-5-8M27-3l0-8M29-8l5 0M10-4l6 3M15-2l5-3M20-3l1-4M26-2l2 5M30 1l4-2M35 0l3 4M39-9l-8 1M14-7l-6-5M19-10l-5-6M23-13l6 2M26-17l6 0M28-22l9-1M33-23l2 5M37-26l7 6M39-31l6-2M39-36l4-5M28-6l2 6M34-7l0 7M39-7l3 6M44-9l3 7M28-6l10-1M33-3l0 4M37 0l4-1M40 4l5-1M44 7l4-1M48 11l-3 5M53 12l8-4M56 16l7 1M58 21l-6 0M40 9l4 4M48 15l1-9M53 16l-1 8M58 17l4-7M63 18l0 8M68 16l-1-6M72 12l5 0M77 11l0-8M82 13l7-5M53 17l0 6M63 20l2-6M66 24l-5 3M67 29l9 1M69 34l-7 4M73 37l4-7M63 20l7-4M68 21l5-7M72 24l0 8M76 27l-3 3M78 32l-8 4M81 36l3-3M65 25l5 0M3-5l-7-3M3-10l5-3M0-15l-5-1M1-20l8 2M-2-24l1-5M2-10l-3-3M7-12l3 8M9-16l-8-5M10-22l5-4M12-26l5-1M16-30l5-2M19-34l5 4M4-15l-2-4M6-20l7-1M10-22l-2-9M12-27l5 1M16-30l9 2M20-34l3 4M19-39l-6-7M18-44l-5 1M17-50l-5 1M8-18l9 0M12-28l-4-4M12-33l-5-8M15-38l-7-6M19-41l-1-4M24-41l3-7M15-26l7 2M18-29l7 2M23-30l1-6M28-32l2-4M33-33l1-5M36-38l-3-9M19-28l4 3M24-30l1-5M29-30l5 7M33-33l3 4M36-38l3 2M39-42l7-1M25-27l5 4M28-31l-2-8M31-35l-3-6M29-45l7-5M24-54l-7 1M24-59l8-4M29-29l6 6M34-32l9 2M39-31l0 7M43-34l0-5M45-38l8-4M42-48l-7 3M38-51l3-4M33-53l-2-6M35-37l-3-3M35-42l4-4M38-46l8 3M39-52l-9-4M43-55l1-5M39-41l1-6M44-40l-1 5M49-42l-3-4M59-40l4-8M64-31l-6 7M70-30l1-5M44-42l-1-4M49-42l4-7M54-40l9-4M58-37l-4 5M62-34l-5 5M65-29l7 2M66-24l10 1M70-21l4-4M6-9l0-9M5-19l-5-3M5-29l4-3M9-13l-5-2M14-15l4 3M17-19l4 2M20-23l-5-5M14-16l1 5M9-25l6-3M4-27l-5 7M19-17l0 6M24-15l1 5M26-10l-8 3M29-6l9 2M32-2l-5 4M34 3l6-2M28-13l6-2M37-16l2-8M41-25l-4-5M4 4l0-4M10 5l0-5M14 2l3 7M18-1l0-5M23 0l4-9M27-3l-1-9M30-7l-7-6M14 3l5 1M16-2l7-5M16-7l-5-8M16-12l-4-2M14-17l-8-3M20 2l4 4M25 1l6 3M29 4l-4 6M34 6l7-6M37 10l4-1M38 15l-3 3M47 20l5-7M29 4l-1 4M33 7l3-6M38 10l4-2M43 12l4 8M48 13l0 5M53 12l2-4M58 12l-2-9M39 6l4-4M44 5l-1-8M48 8l-3 6M58 11l3-8M63 10l6-7M68 8l6 5M43 3l1-8M45-1l5-1M49-5l0-7M49-10l-7 0M49-16l-4 1M46-20l-6 1M42-23l-5 7M40-28l-10 0M48 4l-3 6M53 6l2 5M56 10l-3 4M59 14l-1 6M63 17l6-8M68 20l0 8M77 24l-1 9M53 2l6 3M56 6l10 2M59 11l-7 3M63 13l-1 8M65 18l-2 5M70 21l3 6M74 24l3 9M61 7l-6 7M65 10l-1 6M70 9l3-9M75 8l-1-5M79 4l-4-4M67-4l1-6M72-5l5-7M77-6l4-8M86-2l9-2M67-3l-1-7M70-8l8 3M73-12l4 0M76-16l6 0M76-21l-8 0M73-26l5-2M69-30l-7-1M72-2l0-5"/><path id="D30" d="M-5-1l2-5l-2-5l-2-4l-5-3l-3-4l0-6l-3-4l-5-1l-4-4l-5-1l-5-2l-2-5l-5-2l-5 1l-5 0M1 3l4 3l2 5l-1 5l-2 5l-2 4l-3 4l-1 5l0 6l3 4l4 3l3 4l5 2l4 3l5 1M-5-2l-1 5l-2 5l-3 4l1 5l-4 4l-5 1l-5 0l-5-1l-6 0l-5 0l-5 0l-4-3l-3-4l-5-2M1-2l5 1l6 1l4-3l5 0l4-3l4-4l4-2l5-2l5-2l5 1l5 2l5 2l4-2l4-4l5-2M3-5l-1 5l-1 6l-3 4l-2 5l-3 4l-3 4l1 6l2 5l2 4l-2 5l-5 2l-5 1M4 4l2 5l4 3l3 4l5 1l5 0l5-2l4-3l3-4l5-3l2-5l2-5l5-2l4-2l5-2l6-1M-4 2l-5 1l-5-2l-5 2l-4 3l-5 1l-3 4l-3 4l-2 5l-4 4l-3 4l-5 1l-5-2l-5 2l-5-2l-4 2l-6 0M-3-3l-5-1l-4-4l-2-4l1-5l5-3l3-4l4-4l5-2l5-1l3-4l5-3l1-5M3 3l-5 1l-5-3l-5-1l-5 2l-4 3l-5 0l-5-1l-4 3l-5 3l-3 4l0 5l-1 5l-3 4l-3 4l-3 4M-2 2l-5-2l-2-5l0-5l-2-5l-2-5l-3-4l-5-1l-3-4l-4-3l-6 1l-4-3l-3-5l0-5l-3-4l-4-4l-5 0l-4-4M-2-1l-4-3l-1-5l0-5l3-4l4-4l5-2l2-4l5-2l5 1l5 3l3 3l2 5l2 5l2 5l-1 5l2 5M-2 2l-3-4l-5-2l-4-3l-1-5l-1-6l2-4l2-5l3-5l-1-5l0-5M3-4l-2-5l-3-3l-5-2l-5-1l-5-2l-5-3l-4-3l-4-2l-6 0l-4 3l-4 3l-2 5l-4 3l-5-1M1 2l6-1l5 1l4-2l5-3l5 1l3 5l3 4l-1 5l4 5l4 2l5-1l3-5l3-4l0-5M-2-4l5-2l2-4l2-5l3-4l4-3l1-5l4-4l3-4l3-5l4-2l2-5l-1-5l-2-5l-2-4"/><path id="D31" d="M-5-11l-1-5l2-5l-2-4l2-6l-3-4l-1-5M-7-15l5-2l5 2l4 3l5 2l5-1l3-4l1-5M-12-18l-5-1l-5 1l-5 1l-5 1l-4-3M-15-22l0-6l1-5l-2-5l-2-4l-5-3M-27-37l-4 4l-5 0l-5 2l-5 1M-32-38l-5 0l-6-1l-4-3l-2-5M-44-47l-2 5l-5 0l-5-2l-4-3l-5-3l-3-4M-49-46l-4 3l-5 1l-5 0l-5-3M5 6l5 2l5-1l5-3l3-4l4-2M7 11l5-2l5 3l4 3l5 2M-1 29l-4 4l-5 1l-5 2l-5-1l-5 0l-5 1M-2 34l-2 5l-3 5l-1 5l-3 4l-4 4M-2 40l1 5l2 5l1 5l3 3M1 44l5 3l3 4l0 5l-1 5l3 5l1 5M5 47l5 3l2 4l0 6l-2 4l-4 4l-4 4M13 53l4 4l4 3l4 3l1 5l-2 4l1 6l4 3M-6 3l-4 3l-5 0l-5-1l-4-3l-5 0l-6-1M-8 8l-5 2l-5-1l-4-3l-4-4l-5-1l-5 1M-11 12l3 4l3 4l5 3l5 2l5-1l5 0M-35 21l-3 4l-4 3l-5 1M-40 21l-4 3l-1 5l1 5l2 5l1 5M-45 21l-4 4l-5-1l-5 2l-5-1l-3-5M-49 18l1-5l1-5l-1-5l0-5l-3-4l-5-1l-3-4M-52 14l-3-4l-4-4l-5 1l-5 2l-5 1M-57 12l-5-1l-5 1l-5 2l-5 0M6-1l5-3l4-2l6 0l4 2l3 4M16-3l1-5l5-2l5-1l5-2l5-2l4-3l4-4M25-6l5 0l6 0l4-2l5-3l2-5M29-10l5 0l4-1l3-5l5-1M33-12l1-5l4-3l5-3l2-5l3-4M43-16l4-3l5-2l4-3l5-3l3-4M58-11l2 5l3 4l1 5l-1 5l-1 5M62-13l-1-5l-2-5l-1-5l1-5M66-17l3 5l4 3l5 1l5 0l6 0M-2 10l3 5l4 2l4 4M-4 15l-5-2l-5-1l-4-2l-6-1l-5 1M-7 19l4 4l2 4l5 3l3 4l1 5M-10 23l3 5l2 5l4 3l5 0M-9 29l0 5l1 5l-3 4M-7 34l0 5l-4 3l-4 3M-5 38l5-1l5-1l5-1l5 2M-12 45l-2 5l-4 4l-5 2l-5-1l-5 0M6 9l5-1l5-1l5-2l5-2l5 1l5 2M13 16l2 5l-1 5l-4 4l-5 1l-3 4M28 15l5 0l5 2l5 0l5-3l5 2l4 3M35 8l-1-5l1-5l-3-5l-3-4l-1-5M40 5l5 1l5 1l5 1l4 3M42 0l4-3l3-4l6-1l3-4l-1-5M44-5l2-4l4-4l1-5l0-5M49-7l4 2l6-1l4-2l2-5l2-5M53-9l3-5l-1-5l-1-5l3-5M64-12l5-1l4-2l5-2l3-4M-9 3l-3-5l-5-2l-1-5l-2-5l-3-5l-4-3M-14 1l-4 4l-3 4l0 5l3 4l2 5l3 4l5 3l3 4M-23 6l-5 2l-5 0l-3 4l-5 3l-5 1l-5-2l-3-4M-31 11l-5 1l-5-1l-5-3l-1-5M-34 15l-5 1l-4-3l-5-2l-5-1l-5 0l-5 1M-40 24l-1 5l2 5l2 5l-1 5M-43 28l-3 4l-3 4l-4 4l-3 4l-4 3l-4 3M-53 27l-4-3l-5-2l-5 1l-4 3M-58 29l-2 4l-2 5l-5 2l-5-1M-67 29l-4-4l-1-5l-3-5l-4-3M-8-4l-3 4l-3 4l-4 4l-2 5l-3 4l-2 5M-14-12l-2-5l1-6l0-5l-3-3l-4-5M4-30l0-5l2-5l2-4l5-2l5 0M9-31l2 4l5 1l4-2l2-5M17-38l4-3l4-2l2-5l3-5l4-2M-7 1l-5 2l-5-2l-4-2l-4-3l-4-3M-21 5l-2 5l-5 2l-4 3l-3 4l-3 4l-5 3l-3 5M-26 5l-5 0l-4 4l-3 4l-5 1M-31 4l-5 1l-5-1l-5-2l-4-4M-35 7l-4-4l-3-4l-4-4l-5-1l-4-3l-5-1l-4-3M-40 10l-3 4l-2 5l-4 2l-5 2l-5 0l-5 1l-5-2M-43 14l-5-3l-3-4l-4-3l-3-4l-3-4l-4-4M-43 19l2 5l2 4l0 6l1 5l-1 5M-53 36l-4 4l-1 5l-1 5l0 5l-4 4M-13-20l1-5l-3-4l0-6l-2-4M-21-25l1-5l4-4l3-4l5-3l5 0l5 2l5-1M-24-29l-4-3l-5 0l-6 1l-3 4l-2 5l-4 3l-5 0M-28-32l-1-5l-4-4l0-5l0-5l-1-5l-1-5l-4-4M-38-34l-4 3l-5 2l-4 2l-3 4l-3 5M-57-56l-4 3l-5-1l-5 0M-7-9l-3-5l-5-2l-5 0l-5 0l-4-3l-2-5l1-5M-7-14l3-4l2-5l1-5l0-5M-4-18l0-5l-4-4l-3-4l-4-3l-2-5l1-5M0-22l5-1l5 2l5-3l5 0M5-24l5 1l5 1l5 3l4 3l4 4M7-28l-3-4l-1-5l2-5l4-3l5-2l3-4M17-29l2 4l4 4l5 2l5 2l3 4M22-26l1 5l0 5l0 5l1 5l0 5l-2 5M29-13l5 2l2 5l5 3l5 0l5 0l5-2M31-8l-4 3l-5-1l-4-4l0-5l4-4l4-4M30-3l4 4l3 4l3 4l5 1l5 1l4 4l5-1M32 2l5 1l5-3l5 1l5 1l5-2M-5-2l-5 2l-5 0l-5 2l-4 4l-2 4M-10-4l-5-2l-5-1l-5 1l-4 2l-4 4M-15-12l-3-5l-2-5l-1-5M-14-22l0-5l1-6l1-5l2-5M-12-27l3-4l2-5l4-3M-9-32l-4-3l-4-4l-2-4l-3-5M1-9l-5-2l-5 1l-4-3l-5-2l-5 2l-3 4l-5 0M-2-12l-4-4l-3-4l-2-5l-4-4l0-5l-1-5l-2-5M-12-15l-4-4l-4-3l-5-1M-17-17l-5 2l-5 1l-5-2l-5 0l-5-1M-30-25l-5-3l-5-1l-3-4l-4-4l-5-1l-5 0M-36-25l-5-2l-3-4l-4-2l-5 1l-5-2l-3-4l-3-5M-40-22l-3-4l-5-2l-5-2l-5 1l-5-2M-46-14l0 5l-5 3l-4 2l-5 1l-5 2M7 1l5 0l5-2l4-3l4-3l2-5M21-3l5 2l5 0l5-1l4-4l5-1l4 3M29 3l3 4l2 5l0 5l0 5l-1 5l-3 5M32 7l5 1l4 3l5 0l5 2l4-2l6 0M31 12l6 1l4 2l5 2l5 2l4 3l1 5M35 17l0 5l-1 5l-3 4l0 6l3 4M39 19l5 1l5 2l5 1l4 3M44 18l3-5l4-4l4-2l5 3M50 9l-1-5l3-4l3-5l4-3l4-3l3-5M50 4l5-2l4-3l2-5l1-5M3-6l0-5l4-4l4-3l1-5l-2-5M10-19l1-5l-3-5l-1-5l-4-3M14-22l5-3l2-5l1-5l-1-5l2-4l5-2M19-31l-2-5l-2-5l0-5l4-4l2-4l2-5M22-35l5 1l5 1l4 4l5 2l3 4l4 4l3 4M29-42l6-1l2-4l0-5M31-47l-5-1l-1-5l-3-5l-3-4l-2-4l2-5l1-5M30-52l-3-4l-5-2l-5-1l-5-2l-2-5l0-5M26-61l2-5l-1-5l1-5l1-5"/><path id="D32" d="M-3-6l-4-2M-5-11l-7 1M-6-16l-6-2M-4-21l-5-6M-6-25l-5-1M-7-35l4-4M-8-40l-8-4M-7-15l3-5M-2-17l1 7M3-15l3 4M7-12l5-3M12-10l5-3M17-11l1-5M21-20l8-6M-12-18l6-8M-17-19l3-8M-22-18l-3-3M-27-17l2 4M-32-16l0 10M-36-19l2-7M-15-22l-8 2M-15-28l-8 1M-14-33l-5-1M-16-38l-8-1M-18-42l8-4M-23-45l-1-5M-15-28l3-6M-18-32l5-4M-23-33l3-6M-27-37l-5 3M-31-33l3 6M-36-33l1 7M-41-31l-6 7M-46-30l-5-8M-32-38l-3 4M-37-38l-3-4M-43-39l0-7M-47-42l-2 5M-49-47l-7-5M-37-40l1-4M-39-45l-4-2M-44-47l1-5M-46-42l-4-2M-51-42l-4-6M-56-44l-2 6M-60-47l2-5M-68-54l5-4M-49-46l-2-10M-53-43l-1 4M-58-42l-2-4M-63-42l-2-6M-68-45l-2-8M-54-46l-3 7M5 6l-3 7M10 8l7-7M15 7l1 7M20 4l-1-8M23 0l8-1M27-2l1 5M7 11l-4 2M12 9l5 5M17 12l6-1M21 15l7-3M26 17l5-3M6 16l-6 1M2 25l3 3M-1 29l-6-3M-5 33l-8-5M-10 34l-5-4M-15 36l-1 6M-25 35l-3-6M-30 36l3 9M-4 39l-4-2M-7 44l-6 0M-11 53l-7-2M-15 57l-5-3M-2 40l9 4M-1 45l7 1M1 50l-1 4M2 55l6 5M5 58l4 0M1 44l-3 8M6 47l1 7M9 51l7-5M8 61l4 5M11 66l6-2M12 71l-6 5M5 47l-1 4M10 50l1 9M12 54l6-3M12 60l-5 3M10 64l5 2M6 68l-5-6M8 51l8-2M13 53l-1 7M17 57l6-8M21 60l-4 4M25 63l3 7M26 68l-4 5M24 72l-8-3M25 78l4 2M29 81l-4 6M17 56l6-2M22 57l0-8M-6 3l-8 0M-10 6l-4-1M-15 6l0-5M-20 5l-1 6M-24 2l-2-6M-35 1l-4 4M-8 8l-7-5M-18 9l-6 7M-22 6l4-7M-26 2l3-7M-36 2l-5 7M-8 16l-4 2M0 23l-3 7M5 25l-1 5M10 24l8 5M15 24l3-6M-10 17l6-2M-14 21l-10-1M-19 22l-7-4M-29 21l-4 3M-35 21l-5 4M-38 25l-6 0M-42 28l-4-1M-47 29l-2 9M-40 21l-4-9M-44 24l4 5M-44 34l8 0M-42 39l-1 6M-41 44l4 2M-45 21l-2 8M-49 25l-7-3M-54 24l2-9M-59 26l-9-2M-64 25l3-6M-67 20l2-5M-49 18l-8 5M-48 13l5-3M-47 8l-3-4M-48 3l4-3M-48-2l5 1M-51-6l5-5M-56-7l-4 5M-59-11l3-4M-52 14l-5-2M-55 10l0-10M-59 6l-10 1M-64 7l0 5M-69 9l-7-6M-74 10l-3-7M-57 12l2-4M-62 11l-7 4M-67 12l0 8M-72 14l-4 6M-77 14l-5 4M6-1l0 9M11-4l4 3M15-6l4-7M21-6l4-3M25-4l5-4M28 0l-4 2M16-3l6 5M17-8l-4-8M22-10l5 7M27-11l2 6M32-13l8 3M41-18l-3-6M45-22l10 2M21-3l-2-10M25-6l-1-5M30-6l5-5M36-6l3-5M40-8l-4-8M45-11l-3-9M47-16l6 1M29-10l-5-6M34-10l2-8M38-11l7 7M46-17l-1-8M33-12l4 1M38-20l-3-7M43-23l0-4M45-28l-7-6M48-32l-4-5M38-14l5 2M43-16l2-8M47-19l6 5M52-21l1-9M56-24l-2-4M61-27l-2-7M64-31l8 1M48-15l0 6M53-13l2 5M58-11l1 6M60-6l5-2M63-2l0 6M64 3l-6 6M62 13l4 6M62-13l-2-7M61-18l4-2M59-23l5-6M58-28l7-5M59-33l-3-5M66-17l5 7M69-12l7-3M73-9l1 8M78-8l-2 9M83-8l4 5M71-19l-3-9M2 0l4 7M1 6l-6-2M-2 10l-4 1M1 15l-7 6M5 17l4-6M9 21l5-1M-4 15l-7 1M-9 13l-3 6M-18 10l-2 5M-24 9l-1 7M-29 10l0-7M-7 19l-3-3M-3 23l0 7M4 30l-4 9M7 34l-2 9M8 39l-3 7M-10 23l-5 1M-7 28l-5 5M-5 33l-4 1M-1 36l6-4M4 36l5-6M-9 29l5 1M-9 34l8-1M-7 34l-5 8M-7 39l8 2M-15 45l0 10M-5 38l-7 2M0 37l3 5M5 36l2 5M10 35l4 8M15 37l1-5M-7 43l-8-5M-12 45l3 4M-14 50l-5-3M-18 54l-9 2M-23 56l1 7M-28 55l3-8M-33 55l-1 4M-17 46l-3 8M6 9l6 0M11 8l2-7M16 7l-2-6M21 5l9 4M26 3l5 2M31 4l3 4M36 6l5-4M10 12l7-3M13 16l6 1M14 26l-7 2M10 30l0 9M5 31l-1-5M2 35l0 5M18 17l9-4M23 17l3-7M28 15l-2-6M33 15l-2 7M38 17l4-3M43 17l-1-7M48 14l-2-8M53 16l-1 7M57 19l5-7M32 12l4 2M35 8l6 3M34 3l-10 2M35-2l-8-1M32-7l4-4M29-11l6-4M28-16l9-1M40 5l6 3M45 6l5-6M50 7l3 6M55 8l-2 8M59 11l5-2M42 0l-8-6M46-3l5 5M49-7l-4-9M55-8l3 7M58-12l7 1M57-17l4-3M44-5l-5-9M46-9l-2-7M50-13l3 3M51-18l6-2M51-23l-7 2M49-7l2-9M53-5l5-2M59-6l2 10M63-8l3 4M65-13l7 2M67-18l-8-5M53-9l6 6M56-14l5-2M55-19l-5-1M54-24l6-1M57-29l-5-3M58-11l2 8M64-12l4 3M69-13l4 2M73-15l5 3M78-17l-2-4M81-21l7 2M-9 3l-4-7M-17-4l-6 2M-18-9l-9 4M-20-14l3-3M-23-19l2-4M-27-22l4-5M-14 1l-6 8M-18 5l-5-2M-21 9l-6 1M-21 14l9 3M-18 18l-6 8M-16 23l9-1M-13 27l7 0M-5 34l-5 4M-28 8l-1-4M-33 8l-3 6M-36 12l-6-2M-41 15l-6-3M-46 16l-3-3M-51 14l-2 6M-54 10l-6 3M-28 7l-3-6M-31 11l-8-6M-36 12l-1-4M-41 11l-7 6M-46 8l4-8M-47 3l6-2M-34 15l-4-1M-43 13l-5 2M-48 11l2-8M-63 11l4 7M-36 20l-7-3M-40 24l-7-5M-41 29l8 2M-39 34l-8 5M-37 39l7-2M-38 44l6 8M-43 28l-5-2M-46 32l-8-5M-49 36l-7-5M-53 40l2 8M-56 44l3 9M-60 47l4 4M-48 29l-6-3M-53 27l-3-6M-57 24l3-5M-62 22l-8 5M-67 23l-4-4M-71 26l0 8M-58 29l-7-4M-60 33l4 9M-62 38l-6-1M-67 40l2 9M-72 39l-4-6M-63 27l-2-7M-67 29l-6-6M-71 25l1-8M-72 20l8-4M-75 15l7-4M-79 12l-3 3M-8-4l0-5M-11 0l0 5M-14 4l2 8M-18 8l-7-4M-20 13l-9-3M-23 17l6 5M-25 22l7 4M-12-8l-2-10M-14-12l3-4M-16-17l5-7M-18-31l-8 0M-13-17l-5-2M-8-20l1-6M-5-24l-8-6M-1-28l-3-8M4-30l5 2M4-35l6 1M6-40l7 3M13-46l1 6M18-46l6-8M11-27l7 3M16-26l2-5M22-33l5-4M17-38l10-1M21-41l-3-4M25-43l-3-7M27-48l8 1M30-53l6 0M34-55l6 4M18-43l9 3M-2 4l0-5M-7 1l-5 5M-12 3l-2-5M-17 1l-1-5M-21-1l-3 4M-25-4l0-9M-29-7l3-5M-12 0l-1-6M-17 2l-3-3M-21 5l5 4M-23 10l8 4M-28 12l1 9M-32 15l-8-2M-38 23l-9-4M-43 26l-5-6M-46 31l-6-4M-26 5l-5-5M-31 5l1-5M-35 9l-3-2M-38 13l3 6M-43 14l-5-5M-31 4l-2-4M-36 5l-2 7M-41 4l1-4M-46 2l-7 6M-50-2l-1-9M-35 7l-2-8M-39 3l4-5M-42-1l-10 0M-46-5l3-9M-55-9l-6 6M-60-10l-3-4M-64-13l-6 5M-40 10l-4-3M-43 14l-7-1M-49 21l-4-2M-54 23l-8-5M-59 23l-5 7M-64 24l2 8M-69 22l-3-7M-43 14l5 3M-48 11l4-8M-51 7l-7 5M-55 4l-4 7M-58 0l2-6M-61-4l2-8M-65-8l-5 3M-43 19l7 2M-41 24l7-2M-39 28l7-6M-39 34l-6-1M-38 39l5 4M-39 44l7 5M-44 24l3 3M-47 28l-9 0M-53 36l-5 0M-57 40l-3-4M-58 45l5 3M-59 50l8 0M-59 55l3 5M-63 59l-6 0M-7 0l2-8M-9-5l3-7M-9-10l-6-1M-11-15l7-3M-13-20l-9-4M-12-25l6-2M-15-29l-5 0M-17-39l-5 0M-16-24l1-9M-21-25l-4 6M-20-30l9-1M-16-34l6 6M-13-38l-7-4M-8-41l7 5M2-39l1 6M7-40l-2-8M-24-29l5-6M-28-32l-1-6M-33-32l0-10M-42-27l-9-2M-44-22l-4 2M-48-19l-1 8M-53-19l-2-9M-28-32l2-8M-33-41l0-5M-33-46l-6-2M-33-51l-7-4M-34-56l-8 3M-35-61l-5 1M-39-65l-1-4M-34-31l-4-6M-38-34l-4 5M-42-31l-5-8M-47-29l4 7M-54-23l5 7M-57-18l1 4M-41-39l5-4M-41-44l5 0M-44-48l6-8M-48-52l5-7M-53-52l-1-6M-57-56l-5 1M-61-53l2 7M-66-54l-2 5M-71-54l-2 10M-6-4l-6 3M-7-9l9-4M-15-16l1-8M-20-16l-4-4M-25-16l-5 3M-29-19l4-5M-30-29l-6 1M-7-14l-5 0M-4-18l6 2M-2-23l9-3M-1-28l-6-7M-1-33l-8-3M-4-18l8 5M-4-23l8 1M-8-27l-5 3M-11-31l5-7M-15-34l-6 2M-17-39l-7-2M0-22l-5-5M5-23l3-9M10-21l2-5M15-24l-4-5M10-23l7 6M15-22l2 4M20-19l-4 7M24-16l4-4M28-12l10 1M7-28l-6-5M4-32l6-6M3-37l7-6M5-42l8-5M9-45l4 2M14-47l0-5M17-51l6-2M12-30l0-5M17-29l4-5M19-25l6-4M23-21l-2 7M28-19l-2 8M33-17l-1 10M22-26l-1 6M23-21l-9 3M23-16l3 4M23-11l-6 1M24-6l-4 4M24-1l4 3M22 4l-5-1M25-23l4-3M27-18l6-3M34-11l8-3M36-6l-9 5M41-3l-3 7M46-3l3 4M51-3l2 9M56-5l2-7M31-8l-4 6M27-5l-9 0M22-6l-7 7M18-10l4-6M18-15l4-2M22-19l5 4M26-23l-2-4M30-3l6 1M34 1l-2 8M37 5l4-2M45 10l-1-8M50 11l2 4M54 15l-3 3M59 14l5-9M32 2l-6 6M37 3l1-9M42 0l4 5M47 1l0 8M52 2l4-6M57 0l5 7M-5-2l-8 5M-10 0l-3-8M-15 0l-4 7M-20 2l5 9M-24 6l2 9M-15-6l-5 8M-20-7l-3-8M-25-6l3 7M-29-4l-4-2M-33 0l2 9M-14-7l-6 0M-15-12l-5-2M-18-17l5-3M-20-22l-6-2M-21-27l-5-4M-13-33l6 1M-12-38l-2-5M-10-43l-4-9M-12-27l-2-5M-9-31l-5-7M-7-36l-2-6M-3-39l9 3M-9-32l4 1M-13-35l-5 3M-17-39l-2-8M-19-43l-8 5M-22-48l7-4M-10-37l-5-3M-10-42l6-5M1-9l7-5M-4-11l1-5M-9-10l0 7M-13-13l-3-8M-18-15l-4-9M-23-13l-3 5M-26-9l2 4M-31-9l1-6M-2-12l7-5M-6-16l6-3M-9-20l-5 2M-11-25l-6 1M-15-29l-6-1M-15-34l-8 1M-16-39l-8-2M-18-44l3-10M-7-14l1-5M-16-19l-6 1M-20-22l-4 8M-25-23l0-10M-17-17l-1-7M-22-15l3 8M-27-14l-6-3M-32-16l1-6M-37-16l1-10M-42-17l-2-7M-22-20l0-7M-26-23l-7 5M-30-25l-1-9M-40-29l-6-8M-43-33l8-5M-47-37l-1-6M-57-38l0-5M-41-27l-5-6M-44-31l1-8M-48-33l2-5M-53-32l-5-4M-58-34l3-7M-61-38l-8 1M-64-43l-5-1M-40-22l-2-4M-43-26l-5 2M-48-28l-2-7M-53-30l-2-8M-63-31l-4 3M-44-19l-5 1M-46-14l-5 0M-51-6l-1 5M-55-4l2 3M-60-3l-8-5M-50-11l2 7M-55-12l-6 5M7 1l1-4M17-1l0-6M21-4l8 5M25-7l-2-3M27-12l7 0M12 2l7-7M16 0l3 8M21-3l2 5M31-1l5-6M36-2l3 6M40-6l3 4M45-7l4 5M49-4l-5 7M26-2l-3 9M34 12l8-4M34 22l9-1M33 27l4 5M30 32l2 8M32 7l6-1M37 8l1 9M46 11l6-7M51 13l4-1M61 11l2 5M31 12l-5 4M37 13l3-5M41 15l0 4M46 17l0 9M51 19l3-9M55 22l-6 7M56 27l8 0M35 17l9-2M35 22l-3 4M34 27l4 4M31 31l-8 0M31 37l-5 4M39 19l5-1M49 22l1 8M54 23l4 8M58 26l5 1M47 13l-3-9M51 9l6 8M55 7l7 4M60 10l-3 6M47 13l-4-9M50 9l-6-5M49 4l-4-2M52 0l-2-5M55-5l4 1M59-8l-2-7M63-11l-4-7M66-16l7 1M50 4l5-4M55 2l1 9M59-1l4 5M61-6l6 3M3-6l0-5M3-11l-6-2M7-15l-7-6M11-18l6 1M12-23l9 2M10-28l-4-2M5-10l-3-8M7-15l8 0M10-19l9 3M8-29l-8 6M7-34l-8-1M3-37l0-8M14-22l6 8M19-25l2-5M21-30l-4-5M22-35l6 3M21-40l-8-5M28-46l1-9M19-31l9 3M17-36l6-1M15-41l2-7M15-46l-5-6M19-50l0-7M21-54l8 2M23-59l-8-5M22-35l-9-4M27-34l1 8M32-33l4 7M36-29l7 1M41-27l2-7M44-23l9-3M48-19l-3 3M51-15l8-1M25-40l-2-5M29-42l1-5M35-43l1 5M37-47l6-1M37-52l8-5M31-47l-4-3M26-48l-1-5M25-53l-4-1M22-58l-8 3M19-62l5-3M17-66l9-4M19-71l-8-3M20-76l7-2M30-52l4-6M27-56l-7 0M22-58l-7 3M17-59l-2 6M12-61l-9 2M10-66l-7 2M10-71l-5-8M28-57l-9-2M26-61l3-6M28-66l8 0M27-71l5 0M28-76l-4-4M29-81l-4-9"/><path id="S10" d="M-5-1l3-5l2-5l-1-6l-3-5l-3-4l-1-6l-4-4l-2-5l-2-5l-2-5M-3-1l2 5l4 4l1 6l2 5l-1 6l2 5l-1 6l-1 5l0 6M-2 3l3 5l4 4l2 5l5 4l5 2l5 2l4 4l2 6l1 5l2 5l2 5l0 6l-1 5M-2 0l-6 1l-5-1l-6 0l-5 2l-6 1l-5-1l-5-1l-6 1l-6 0l-5-1l-5-3l-5-1l-5-2l-6 0l-5 1M5-4l-4-3l-3-5l-1-6l-3-5l-4-4l-3-4l-4-4l-4-4l-3-5l1-5l-2-6l-2-5l-5-3l-4-4M2-5l-4-4l-2-5l0-6l-3-5l-1-5l0-6l-3-5l-2-5l-1-5l-1-6l-1-5M-6 3l1-6l2-5l1-5l1-6l0-6l0-5l2-5l3-5l2-5l-1-6"/><path id="S11" d="M-2-6l3-5l4-4l5-2M0-11l4-4l5-3l4-3M-7-26l-6-1l-5 0l-6 1M-14-41l-6 1l-5 2l-6 1M-1 4l-3 5l-4 3l-6 2M5 25l-3 4l-1 6M5 12l1 6l0 5l0 6l0 5M7 17l4 4l5 4l3 4l2 5M12 21l3 4l5 3l5 2M17 23l6-1l5-2l5-3l5 1M22 25l0 6l0 6l-2 5l0 5M26 29l5 2l5 2l6 0l6 0l5 2l4 4M33 50l5 3l6 0l5 1l6 0l5 3M33 56l6 1l4 4l4 4l3 5M32 61l3 5l4 4l3 5M-8 1l0 6l1 5l0 6l0 6l-3 5l-2 5M-13 0l-4 4l-5 3l-5 1l-5 2l-4 5M-24 2l-3 4l-5 4l-5 0l-6-1M-35 2l-3 5l-3 5l-2 5l-1 6l-4 4l-1 5M-40 1l-6 2l-5 0l-6 0l-5 0l-6-1l-5-1l-6-1M-72-5l-6-2l-5 0l-5-3M-78-5l-4 4l-5 2M1-7l0-6l-3-5l-2-5l-3-5M-6-23l-5 0l-6 0l-6 0l-5-2M-13-31l1-6l3-4l2-6l-1-5M-24-44l-4-4l-4-4l-4-4l-2-5l-3-4l-1-6M-25-55l-4-4l-4-3l-5-3l-5-2l-6-1M-2-9l-5 1l-5-2l-5-3M-4-14l-3-5l-5-3l-3-5l-5-3M-4-20l-5-3l-6 0l-5-3M-8-36l4-3l5-3l5-2M-16-62l3-5l3-5l3-5l3-4M-5-3l4-3l5-4l4-3l4-4M-3-8l6 0l5 2l6-1l4-2M-1-25l-2-5l-2-5l-2-5l-3-5M6-45l-1-6l-1-5l1-6"/><path id="S12" d="M-2-6l9 5M1-11l-9-5M5-15l11 2M4-15l6 0M9-18l-1-9M13-21l10 2M-1-17l8-5M-4-22l-6 0M-7-26l3-4M-24-26l-3-11M-12-36l-6 4M-20-40l-2 4M-25-38l-1-8M-31-37l-3 4M-16-46l-8 0M-18-51l6-3M-1 4l-7 3M-4 9l-4 1M-8 12l-4-8M3 8l-1 11M4 14l-9 2M6 19l-5 5M5 25l6 10M2 29l-10-5M1 35l5 10M6 36l6 7M5 47l10 4M5 12l-1 12M6 23l-9 4M6 29l11 2M6 34l5 2M7 17l-5 11M11 21l-3 7M16 25l8-8M19 29l-6 9M21 34l-6 4M25 30l-3 11M17 23l5-4M23 22l1 12M28 20l5 11M38 18l1 10M22 31l-5 5M20 42l-6-3M20 47l-7 5M26 29l-2 7M31 31l-4 9M36 33l-4 9M42 33l3 3M48 33l5 4M53 35l3 5M57 39l7-6M29 40l5 0M31 45l10 4M33 50l-4 6M44 53l6-6M39 57l4 8M43 61l4-4M35 66l-7 10M39 70l8-3M42 75l6-3M-7 12l5 3M-7 18l-9-1M-7 24l-10-2M-10 29l-9-4M-12 34l5 5M-13 0l5-10M-17 4l-7-5M-22 7l3 9M-27 8l2 8M-32 10l-4-4M-36 15l1 12M-19 0l1 5M-27 6l-4-4M-32 10l7 7M-37 10l-2-9M-43 9l-2 7M-30 3l-7-7M-35 2l-4 5M-38 7l5 2M-43 17l6 8M-44 23l10 1M-48 27l-6-3M-49 32l-8 6M-40 1l-7 6M-46 3l1 9M-51 3l-6-6M-57 3l-6-8M-62 3l2-10M-68 2l-3-6M-73 1l-1-11M-46 2l2 5M-52 2l0-5M-57 1l-3 3M-62-2l4-7M-67-3l-5-4M-72-5l-4 3M-78-5l-7-5M-82-1l0 12M-83-4l-1 5M1-7l4-11M1-13l8 2M-2-18l-9-2M-4-23l5-1M-3-18l-10-3M-11-23l-1 9M-23-23l-5-6M-28-25l-3 3M-10-27l6-4M-12-37l8-1M-9-41l-2-4M-7-47l-2-4M-8-52l11-2M-17-35l8-6M-21-39l-5 5M-24-44l-5 3M-28-48l-4 4M-36-56l-11 5M-38-61l7-7M-41-65l1-8M-23-49l-11 2M-25-55l-9 1M-29-59l0-4M-33-62l6-9M-38-65l-3 3M-49-68l-3 5M-36-67l3-9M-7-8l-2-7M-17-13l-7 8M-4-14l5-1M-7-19l3-8M-12-22l2-6M-15-27l8-6M-20-30l-5 11M-4-20l-9 0M-9-23l3-9M-15-23l-1 5M-20-26l1-6M-7-25l-8 4M-8-36l-4-2M1-42l11 4M-11-41l2-5M-14-51l3-6M-15-57l-10-4M-16-62l-7 0M-13-67l-3-3M-10-72l-8-7M-7-77l-1-4M-4-81l8 0M-5-3l-11-3M-1-6l7 5M4-10l-6-7M8-13l-1-6M-3-8l9 6M3-8l3 11M8-6l1-6M14-7l2-6M18-9l-2-9M-1-19l11-2M-1-25l9 1M-5-35l3-10M-7-40l2-5M-10-45l7-3M-1-30l-7-2M4-40l-1-5M6-45l-4-6M5-51l5-1M4-56l8-2M5-62l10-4M5-51l9-5"/><path id="S20" d="M1 4l5 0l6 1l5 0l5 3l4 4l4 3l6 2l5 0l6 1l5-1M-5 6l5 3l4 4l3 4l4 4l5 3l5 2l3 5l3 5l4 4l2 5l2 5l-1 6l-2 5l-4 4l-4 4M-2 3l-4 4l-3 4l-3 5l-2 6l-4 4l-5 2l-6 0l-4 3l-5 2l-6 1l-5 2M6-4l-5-3l-5-1l-6-2l-4-3l-6-2l-4-3l-5-3l-4-4l-2-5l-1-6l-1-5l1-6M1 3l-5-4l-2-4l-5-4l-4-3l-4-4l-5-2l-4-5l-4-4l-3-5l0-5l0-6l-2-5l-2-5l-1-6M5 2l-1-5l-3-5l-3-5l0-6l-1-5l-3-5l-3-5l-4-3l-2-6l-4-4l-2-5M2-2l4-4l3-4l2-6l3-4l5-2l4-4l5-3l4-4l3-5l3-4l3-5l5-3l5-3l4-3l5-3"/><path id="S21" d="M17 5l6 0l5-1l5-2M47 18l3 4l3 5l4 4l4 3M52 17l5 3l5 3l4 4l5 3l5 0M16 24l5-3l5-2l4-4l4-4l3-5l5-2M27 36l6 1l5 2l6 0l5-1l6 0M33 45l2 5l4 4l5 3l4 4l4 4M28 65l4 5l3 4l4 5M-29 28l-3 5l-4 3l-5 3l-3 5l-4 4M-38 33l-3 5l-1 5l-2 6l-4 4M-44 34l-5 3l-4 4l-5 2M-4-8l0-6l-2-5l0-6l-4-4M-24-18l-5-2l-5-3l-6-1l-5-2l-6 0M-33-25l-5-2l-5-3l-5-3M-36-36l3-5l4-4l2-5l0-6l-1-5M-4-1l2-5l1-5l0-6l-3-5M-6-5l-2-6l-2-5l0-6l0-5l-2-5M-11-9l-3-4l-4-4l-4-4l-5-2l-6-2l-5 1M-19-16l-4-4l-6-1l-4-5l-4-3l-6-1l-5-1l-4-3M-32-27l-5-1l-6-2l-3-4l-6-2l-5-2l-5-2M1-8l-4-4l-5-3l-2-5M-2-13l-2-5l0-5l-1-6l1-6l-1-5M-2-19l0-5l4-5l3-4M-3-24l-6-1l-5-1l-6-1M-13-37l-4-4l-4-4l-2-6l1-5M-19-47l-1-5l1-6l2-5M-21-52l-5-2l-4-4l-5-3l-5-2M6-6l4-4l5-3l3-5l5-2l5-1M14-20l3-5l0-6l-1-5l-3-5l-3-4M23-26l4-4l4-4l2-5l3-5l4-4M28-29l5 3l5 3l5 2l6 1l5 1l6 0M41-47l5-2l6 2l5 1l6 2l5-2M46-50l2-5l0-6l1-5l0-6M51-53l5 1l6-1l5-1M60-59l4 2l5 4"/><path id="S22" d="M6 4l1-5M12 5l1 10M17 5l1 5M28 4l3-11M33 2l-2-4M22 8l6-8M26 12l-5 7M30 15l-3 11M36 17l5-7M47 18l0-9M50 22l6-3M53 27l5-1M57 31l12 0M61 34l-2 8M52 17l7 8M57 20l-1 7M62 23l8-3M66 27l4-2M71 30l2-7M0 9l-7 6M7 17l5 1M11 21l5-3M16 24l4-5M21 21l2 9M26 19l1-4M30 15l-7-6M34 11l6 1M37 6l5 3M42 4l8 8M24 31l-3 4M27 36l9-1M44 39l8 6M49 38l7 9M55 38l2-10M31 40l-1 10M33 45l-3 7M35 50l9-2M39 54l4-5M48 61l10-4M52 65l7-5M35 50l-8 7M34 56l4 2M32 61l-5-3M28 65l-4-2M32 70l9 1M35 74l-6 4M39 79l-3 4M-14 22l6 4M-18 26l7 9M-23 28l4 6M-29 28l-3-6M-32 33l-12-3M-36 36l-2 5M-41 39l-6 0M-44 44l-4 2M-48 48l-4-5M-33 31l-4-5M-38 33l-4 8M-42 43l-6 3M-44 49l-9 3M-48 53l5 8M-49 37l-3 9M-58 43l5 7M-49 36l-3 6M-4-8l-2-6M-4-14l6-6M-6-19l5-2M-10-10l3-6M-29-20l5-10M-34-23l3-4M-40-24l-8 5M-45-26l-2 5M-29-21l-7 8M-33-25l2-8M-35-30l-5-2M-36-36l-9 3M-33-41l7-3M-29-45l8 6M-27-50l9 3M-28-61l-5 1M-37-41l-11 4M-4-1l-8 6M-1-11l-6-8M-1-17l9 0M-4-22l4-6M-8-11l-8 0M-10-16l-4-1M-10-27l-7-5M-12-32l6-8M-14-13l3-3M-22-21l-4 4M-27-23l-7 9M-33-25l-7 3M-33-26l-7 9M-37-29l-5 6M-43-30l-4 4M-48-31l-4 8M-52-34l-4 6M-24-18l-1 4M-28-23l2-8M-32-27l-6 6M-37-28l-3 8M-43-30l-5-11M-46-34l3-4M-52-36l-7 8M-57-38l-10 7M-35-32l8-5M-35-37l6-3M-37-48l-4 2M-40-59l3-6M4-3l8-3M1-8l-6 2M-3-12l-3 4M-2-13l5-2M-4-18l1-7M-4-23l8-4M-4-35l-6-5M-2-19l-8-1M-2-24l11 3M5-33l1-9M-9-25l-4 2M-6-29l2-6M-9-34l-10 3M-13-37l-6 0M-17-41l2-4M-23-51l-9-2M-22-56l5-5M-19-47l5-6M-20-52l7-9M-19-58l9-5M-17-63l8 1M-26-54l2-6M-30-58l-4 2M-40-63l-1-10M10-10l-7-9M15-13l7 6M18-18l-1-7M23-20l11 1M9-10l10-3M17-31l-4-3M16-36l-7-1M13-41l5-3M19-22l7 8M23-26l8 3M31-34l9-1M33-39l8 1M36-44l10-1M40-48l1-8M33-26l0 4M38-23l1 11M43-21l5-7M49-20l5-5M60-19l3 9M35-38l8 1M38-42l-2-5M46-49l3-9M63-44l2 9M68-46l-5-10M46-50l5 8M48-61l-10 0M49-66l-4-4M49-72l-10 1M51-53l-7-8M56-52l5-6M62-53l0 8M55-56l9 3M60-59l-6-8M64-57l2 9M69-53l-4 4"/><path id="S30" d="M-4 1l2 5l-1 5l-1 6l-2 5l1 6l1 5l1 6l-1 5l1 5l-1 6l-1 5l0 6M2 3l4 3l5 3l5 3l5 0l6 3l5 2l5 3l5 1l5 2l5 3l5 2M1 4l2 5l1 6l4 4l2 5l-1 6l-2 5l-3 5l-2 5l-5 4l-1 5l0 6l-2 5l-2 5M5 5l0 5l-3 5l-1 6l-3 4l-3 5l-4 4l-5 3l-2 5l-4 4l-1 6l-1 5l0 6M6 5l-6-1l-5 0l-6 2l-5 1l-5 3l-6 0l-5-1l-5-3l-6-2l-5 1M-3 4l-3-5l-4-3l-6 0l-5-2l-5-3l-4-4l-4-3l-3-5l-4-4l-4-4l-5-3l-5-1l-6 0M5 0l3-5l4-3l5-3l6-1l5-2l4-4l6-1l5 0l6-1l5 0l6-1l4-3l6-2l5-2l5-3M-3-1l4-4l2-5l3-5l1-5l3-5l3-4l5-3l4-5l3-5l4-3l6-1"/><path id="S31" d="M-4 17l-6 1l-5 1l-5 3l-3 5l-4 3l-4 4M-3 39l-1 5l-1 5l0 6l3 5M-3 49l2 5l1 6l0 6M-5 66l-1 6l-2 5l-1 5l0 6M6 6l5 2l5 3l5 2M11 9l5-3l5-3l5 0M52 26l5-2l6 0l5 0M4 15l0 5l-3 5l-3 5l-5 3l-4 4M8 19l5 2l5 1l6-1M10 24l5 0l5-3l6 1l5 3l5 3M9 30l-3 5l-4 3l-5 3l-3 5l0 6l-1 5M-6 65l0 6l1 5l1 6l2 5M5 10l-5 3l-5 3l-5 3l-4 3M2 15l2 6l0 5l-2 5l-4 4M-9 34l3 5l3 4l1 6M-14 37l-5-1l-6-2l-5 2l-5 2l-5 3l-5 1M-20 46l-5 1l-5 2l-4 4l-5 4M-21 52l-4 4l-5 3l-3 4l-4 4l-3 4M-22 57l-5 2l-5 2l-5 3l-5 2l-4 4l-5 3M-22 63l-5 2l-4 5l-4 4M0 4l-5-2l-5-3l-5 0M-5 4l-5-2l-5-4l-3-4M-16 7l-4 5l-2 5l-1 5M-21 10l-4 4l-5 2l-6 1l-5-1M-32 9l-5 4l-3 4l-3 5M-48 5l-2 5l-2 5M-6-1l-5 1l-6 1l-5 2l-5 0l-5 3l-5 3M-10-4l-6 2l-5 1l-6 1l-5 3M-16-4l-5-2l-6 0l-5 1l-6 0l-5 2M-21-6l-2-5l-4-3l-6-3M-26-9l-4-3l-5-4l-4-3l-6-1l-4-4M-30-13l-2-5l-2-5l-3-5l-2-5l-1-6M-37-21l-1-5l-2-6l-1-5l-2-5l-2-6M-50-32l-3-4l-5-3l-5-3l-5-2l-5-3M-55-33l-1-6l-2-5l-1-6l0-5l2-5l4-5M12-8l6-1l5-2l4-4l3-4l4-4l5-3l3-5M28-14l6 0l5 1l5 2l6 2l5 1l5-1l6-2M32-18l6 2l5 0l6 0l5-3M38-19l5 1l5-3l6-2l5-1M49-20l4 4l2 5l5 3l5 2l6-1M70-26l0-6l1-5l2-6l1-5M80-31M6-15l0-5l1-6l0-5l0-6l2-5M7-20l6-1l4-3l2-5l3-5l4-4M18-32l5 2l6-1l4-3l3-5M29-45l2-5l2-5l3-5l0-6M35-46l5-1l6 1l5-2"/><path id="S32" d="M-2 6l-5 8M-3 11l6 10M-4 17l-6-3M-10 18l-1 4M-15 19l-4 11M-20 22l-10-6M-23 27l6 6M-31 34l-10-5M-5 28l-3 4M-4 33l9-4M-3 39l8-3M-4 44l4 7M-2 60l8-3M-1 54l-2 5M0 60l6 4M-4 55l5 2M-5 60l-6-1M-6 72l5 5M-8 77l5 5M-9 82l5 9M-9 88l11-3M6 6l6-7M11 8l-3 9M21 13l0 6M11 9l0 6M21 3l8 8M26 3l0 12M16 12l8-3M21 12l-3 9M27 15l4-1M37 20l-3 10M42 21l1-4M47 23l3-9M52 26l8-4M57 24l6 10M68 24l-1 5M57 28l8-6M4 15l7 1M1 25l4 2M-2 30l2 6M-7 33l0 4M-11 37l0 4M13 21l3 10M18 22l2 6M24 21l2 6M10 24l9-5M15 24l3 9M20 21l2 5M26 22l5-8M36 28l-6 7M9 30l-7 4M6 35l-9-5M2 38l-8 1M-3 41l-3-10M-6 46l6 4M-6 52l-11-3M-7 57l6 2M4 40l-8-5M-3 49l-7-8M-4 54l-10-5M-4 60l-11 0M-6 65l-7 1M-6 71l7 7M-2 87l-12 2M-8 70l5 5M-5 16l-2-5M-10 19l-9-2M4 21l6-1M4 26l-10 4M-2 35l6 4M1 21l6 0M-9 34l-5-2M-3 43l7-6M-2 49l6-1M-19 36l-3 4M-25 34l-7 9M-30 36l-8-6M-40 41l-8-7M-45 42l-2-9M-16 42l3 5M-20 46l-11-1M-25 47l-1-9M-30 49l-7-2M-34 53l-6-3M-25 56l-4-4M-30 59l0 6M-33 63l2 6M-37 67l-5-3M-27 59l-3-5M-32 61l-5 6M-42 66l-7-9M-51 73l-7-5M-31 70l2 8M-35 74l6 8M0 4l-2-12M-5 2l-6 9M-10-1l0-5M-15-1l-7-5M-5 4l-7-7M-18-6l0-4M-11 6l-3 4M-16 7l-2-6M-20 12l0 10M-22 17l7 10M-21 10l-3-4M-36 17l2 11M-32 9l-2 11M-37 13l0 10M-43 4l-4 1M-48 5l-7-4M-50 10l-6 3M-52 15l-9-3M-11 0l-7-5M-17 1l0 9M-22 3l3 6M-27 3l-6-6M-32 6l-11-3M-37 9l-5-1M-10-4l4-5M-16-2l-5-2M-21-1l-1 10M-32 3l3 4M-16-4l-4 5M-21-6l2-5M-27-6l-1 5M-38-5l-3-11M-43-3l-6-9M-21-6l-4 5M-27-14l-10 3M-30-12l2-7M-35-16l-8 4M-39-19l-1-4M-45-20l-2 4M-49-24l2-10M-32-18l-8 4M-34-23l-9 2M-39-33l-6 2M-40-39l5 0M-34-16l-1-7M-37-21l-6 2M-40-32l9-3M-41-37l7-7M-43-42l-7 2M-45-48l-4-2M-41-25l6-10M-45-29l-4 6M-53-36l10-5M-58-39l2-7M-68-44l5-9M-73-47l-4 11M-55-33l-6 5M-59-55l-10-6M-57-60l8-2M-53-65l6-2M-61-33l-1-4M8-5l-10-3M12-8l8 2M34-23l-3-7M42-31l5 5M23-12l5 3M39-13l8-9M44-11l2-4M50-9l0 5M55-8l1-5M38-16l6-3M43-16l6 8M49-16l0 7M54-19l-4-9M38-19l-2-9M43-18l6 8M48-21l0-11M59-24l5 4M43-19l1 8M53-16l11 0M60-8l7-3M54-20l2-7M60-21l1 11M64-24l4 8M70-32l-7-6M73-43l9 5M75-28l9 6M80-31l11 2M6-15l-6-8M6-20l-5-5M7-31l11-3M7-37l-4-3M9-42l-2-5M7-20l11-1M13-21l7 4M17-24l-1-9M19-29l8-5M10-25l8 8M18-32l4 3M23-30l-4 11M29-31l-1 8M36-39l4 1M22-37l8 6M25-42l6 0M31-50l8 2M36-66l7-1M35-46l4-11M46-46l7-5"/><path id="M10" d="M-4 2l5 1l5 3l2 5l2 5l2 5l-1 5l-3 4l-1 6l-3 4l-1 6M-4 1l2 5l0 6l3 4l5 4l3 4l3 4l4 4l2 5l2 5l2 4l3 5l5 3M0-3l6 1l5-1l5 0l5 3l5 1l5 2l4 4l1 6l0 5l-2 5M-3 3l-3 4l-2 6l-5 2l-2 5l-2 5l-1 5l3 5l-1 6l1 5l-2 5l0 5M-3 3l-3 4l-1 6l-3 4l1 6l-1 5l-4 4l-2 5l-4 3l-1 6l0 5l0 5l-1 6l-2 5M-5-4l-5 2l-4 4l-1 5l-4 5l-3 4l-5 1l-4 4l-3 4l-5 3l-4 4l-4 3l-4 4l-3 5l-3 4l-3 4M2 4l-6 1l-5 0l-5 2l-5 0l-6 1l-4 3l-5 2l-6 0l-5 0l-5 2l-5 2l-5 2l-6-1l-4-2M4 2l-5 2l-3 4l-2 5l-2 5l-3 5l-2 5l0 5l-2 5l2 6l-1 5M3-4l1-5l3-5l2-5l3-4l5-2l5-3l5 0l5-3l5-2l5-2M4-5l4-4l6 0l5 0l6-1l4-3l5-1l6-1l5 3l5 2l5-1l5-2l5 2l5 1l5-2l6-1M-3 0l3-4l4-4l3-4l5-3l3-4l3-4l4-4l2-5l1-5l3-5l3-5l1-5"/><path id="M11" d="M1 3l4 4l4 4M6 6l5-2l5-1l5-3l5-1M10 16l0 5l0 5l0 6M12 21l5 0l6 1M11 26l-4 3l-2 5l-2 5l-1 6M8 30l-3 5l-3 4M7 36l4 3l2 5l-1 5l-2 5l0 6M-2 6l4 4l4 4l2 5l0 5M-2 12l5 3l2 5l2 5M6 20l-3 4l-3 5l0 5M18 37l-3 5l-4 3l-5 1M20 42l4 2l5 3l2 5M22 46l1 6l2 5l5 2M30 54l4 3l6 1l5 0M6-2l3-5l0-5l0-5l3-5M16-3l4 4l5 1M21 0l5-1l5-1l4-4l3-4l5-2M-6 7l3 4l3 5l1 6l1 5M-18 30l1 6l2 4l5 4l2 4l4 4M-17 51l0 5l-1 6l-2 5l0 5M-17 56l2 5l1 6l-2 5M-6 7l-5-1l-5 2l-3 5l-5 2M-9 23l-1 5l3 5l0 5l0 5M-10 28l-2 5l-5 3l-5 1l-3 4M-14 32l2 5l-2 5l-1 5l-1 5l-4 4M-16 37l-6 0l-5 2l-4 3l-5 1M-20 40l-5 1l-3 5l-2 5l-1 5M-21 46l-5 3l-5 0l-5 0l-6 1l-3 4l-2 5M-21 51l6 0l4 3l4 3l3 5l-1 5l0 6M-24 67l-5 1l-2 5l-2 5M-10-2l1 6l3 4l3 4l2 5l1 6l-1 5l2 5M-22 16l-5 0l-5 2l-4 4l0 5l3 5l2 5M-31 21l-5-1l-5 0l-6-1l-5 1l-5 0M-39 28l-4 4l-5 1l-5-1l-6-2M-43 32l-5 2l-3 4l-1 5l-4 5l-4 2M-47 35l2 5l4 5l3 3l4 5M-51 39l-4 3l-3 4l-6 2l-4 3l-5 2M-54 44l0 5l-1 5l-5 3l-2 5M-4 5l-5-1l-5-1l-6 0M-9 5l-1 6l1 5l0 5l2 5l0 6l0 5M-14 7l-2 6l1 5l-2 5l-3 4M-34 13l-4-4l-4-4l-2-5M-45 13l-2 5l-2 5l-5 3l-4 3M-55 17l-2-5l-1-5l-3-5l-5-3l-5-2M-66 18l-4 3l-6 0l-5 3l-5-1M-4 8l-1 6l-3 4l0 5M-8 18l-6 1l-5-1l-6 0M-13 28l-5-1l-5-3l-5 0M-13 33l3 5l5 3l3 4M-15 38l4 4l0 6M-14 49l4 2l5 3l5 2M7-14l3-4l5-2l5-1l5-1M12-23l0-5l-2-5l-4-3M27-28l-1-5l-4-4l-3-4l-1-6M37-33l4-3l4-4l4-3l4-4M42-35l5-1l5 0l5-2l5-3M19-9l5-3l5 0l6-1l5-1l4-4l5-1l4-4M25-10l0-6l-1-5l-3-4l-3-5l1-5l-1-5M50-10l4 3l4 3l3 5l1 5l3 5l1 5M55-11l5-3l5 1l5 0l5-2l6 0l5-1M65-11l3 4l4 4l0 5l-1 6l-1 5M81-13l1-6l4-4M0-4l5 2l4 4l4 3l2 5M7-12l0-6l0-5l-1-5l1-6l0-5l-1-5M12-15l5-1l5-2l5-2l5-2l5-3l4-3M15-19l-3-5l-2-5l-1-5l-2-5M22-27l-2-5l-2-5l-3-5l0-5l-3-5M24-32l-4-4l-3-4l-2-5l-2-5M28-42l-1-6l-1-5l-2-5M31-47l1-5l2-5l4-4"/><path id="M12" d="M1 3l1-5M5 7l4-7M9 11l0 5M6 6l1 4M11 4l0-8M16 3l6 7M21 0l-1-5M26-1l2 5M8 11l-2 6M10 21l10 0M10 26l6 0M10 32l-5 4M12 21l-5 6M17 21l5 4M7 29l-1 5M5 34l2 4M3 39l-7-3M2 45l7 6M8 30l-6-1M5 35l-4-1M2 39l-4-2M7 36l-7-3M11 39l8-1M13 44l5-1M12 49l6 2M10 54l-9 0M10 60l-8 1M4 40l8 5M3 46l-10 0M-2 6l-6 1M6 14l-3 3M8 24l-7 0M-2 12l-8 4M5 20l-5 4M7 25l8-3M1 16l9-1M6 20l-2 8M0 29l-8-5M0 34l9-1M9 24l7 0M12 28l-4 3M16 32l6-4M18 37l7-1M6 46l-4-2M20 42l5 0M24 44l4-2M29 47l6-4M31 52l10-2M22 46l-4 7M23 52l7 6M30 59l4-2M30 54l-2 4M34 57l2 9M45 58l-1 5M6-2l0-8M9-7l-4-2M9-12l-5-2M9-17l7-1M11-3l3-8M16-3l-2 9M20 1l-5 7M25 2l2 5M26-1l5 5M31-2l5-7M35-6l6 0M38-10l-6-6M43-12l3 6M26 1l8-4M31 3l2-8M35 7l4 0M36 13l-7 4M36 18l4 2M34 23l6 3M-6 7l-9 2M-3 11l-5 7M0 16l-1 5M1 22l-5 5M2 27l7-3M-8 13l-6 4M-13 15l-8-5M-15 20l-4-3M-17 36l6 2M-15 40l-7 5M-4 52l-3 9M-16 41l6 1M-15 46l-4 5M-17 51l-8-5M-17 56l-9 4M-18 62l-5 3M-20 72l-8 2M-17 56l8 5M-15 61l5 1M-14 67l-5 6M-16 72l-8 1M-6 7l0 9M-16 8l-1-7M-24 15l-1-5M-7 13l8 0M-10 17l0 5M-9 23l7 1M-10 28l-6 4M-7 33l-2 5M-7 38l4 1M-7 43l4 5M-10 28l-6 3M-12 33l1 6M-17 36l-2-5M-22 37l-4 9M-25 41l6 4M-14 32l3 3M-12 37l-9 4M-14 42l6 4M-15 47l-9-3M-16 52l4 5M-20 56l2 8M-16 37l1 7M-22 37l-5-6M-27 39l-9-3M-31 42l-6-2M-36 43l0-6M-20 40l-1 5M-25 41l-6-4M-30 51l5 3M-31 56l6 3M-21 46l6 4M-26 49l2 10M-31 49l-3 7M-36 49l-1 6M-42 50l-2-5M-45 54l1 9M-47 59l-6-4M-21 51l-5-1M-15 51l6-5M-11 54l8-4M-7 57l8 0M-4 62l-2 4M-5 67l9 2M-5 73l-3 3M-21 56l-4 5M-22 62l4 4M-24 67l4 6M-29 68l-2-5M-33 78l-6 0M-10-2l-3-4M-9 4l8 4M-3 12l0 8M-1 28l5 0M1 33l5 1M-14 2l-1 7M-15 7l5 4M-19 12l-6-3M-22 16l-1 10M-27 16l-2-4M-32 18l-5-6M-36 22l-6-4M-36 27l-9 1M-33 32l10 2M-27 17l-4 5M-36 20l0-5M-41 20l-7-7M-52 20l1 4M-34 25l1 7M-39 28l-2-7M-43 32l-10-2M-53 32l-5 3M-59 30l2-4M-43 32l0 7M-48 34l-4-6M-52 43l2 5M-56 48l-3-3M-47 35l-9-2M-45 40l8-1M-41 45l-4 3M-38 48l5-7M-34 53l-7 5M-51 39l-10-1M-58 46l-8-5M-64 48l-4 6M-73 53l1 6M-54 44l-7-1M-54 49l6 4M-55 54l2 4M-60 57l2 4M-62 62l7 4M-57 48l7 5M-60 52l1 4M-4 5l1 8M-9 4l2-8M-14 3l0-4M-20 3l-4 7M-9 5l-1 6M-10 11l7 5M-9 16l-7 0M-9 21l5-1M-7 32l6 2M-7 37l7 3M-14 7l-2-7M-16 13l4 4M-15 18l-4 5M-17 23l5 6M-20 27l-8-1M-19 7l1 8M-25 8l-5 9M-29 11l2 10M-34 13l-5 8M-38 9l-7 3M-42 5l-1-5M-44 0l7-3M-45 13l-1 7M-47 18l3 6M-49 23l-8-1M-58 29l-3-4M-50 15l0 5M-55 17l1 9M-57 12l-7 2M-58 7l3-3M-61 2l3-4M-66-1l-3 9M-71-3l-3 7M-60 19l2 5M-66 18l-2-6M-70 21l-5-8M-76 21l-5-6M-81 24l2 6M-4 8l4 3M-5 14l9 3M-8 18l3 4M-8 23l5 2M-6 13l-7 0M-8 18l6 7M-14 19l-5-8M-19 18l-1-4M-25 18l0-5M-11 23l1 8M-18 27l-2-7M-23 24l0-7M-28 24l-2 9M-13 33l-7 7M-10 38l-1 4M-2 45l-5 6M-15 38l4 7M-11 42l9-2M-11 48l-5 1M-13 44l7 1M-14 49l-4 1M-10 51l3-7M-5 54l3-9M0 56l5 7M4-9l-4-1M7-14l3 3M10-18l8 0M15-20l2-9M20-21l6-7M25-22l6 6M9-19l4-1M12-23l6 6M10-33l-5 2M6-36l-1-9M17-25l4 8M22-28l4 2M27-28l2-4M26-33l-6 0M22-37l5-5M19-41l-5 0M18-47l6-4M32-31l4 2M37-33l2-7M41-36l-1-9M49-43l1-4M53-47l0-4M42-35l3 9M47-36l1-10M52-36l-1 6M57-38l3-5M8-9l5 0M14-9l2 6M19-9l6 4M24-12l-2-4M29-12l0 5M35-13l1 8M40-14l1-8M44-18l0-7M49-19l3-6M53-23l5 2M25-10l8 5M25-16l5-2M24-21l7-7M21-25l1-8M18-30l-9 1M19-35l9-3M18-40l-7 2M29-13l-5-8M34-14l0-8M40-15l0-7M45-12l1 9M50-10l3 7M61 1l-7 5M62 6l-9 4M65 11l-2 4M66 16l5-2M55-11l4 9M60-14l-2-4M65-13l4-5M70-13l5-4M75-15l3-7M81-15l-1-6M86-16l3-9M60-13l4 8M65-11l-2 4M68-7l6 2M72-3l6-2M72 2l9-1M71 8l-7-3M70 13l5 2M70-10l5-4M75-12l7 3M81-13l2 7M82-19l-5-2M86-23l6 3M0-4l10-1M5-2l4-2M9 2l8-3M13 5l3-8M15 10l-2 5M4-8l-6-6M7-12l-2-4M7-18l8 1M7-23l5-4M6-28l4-2M7-39l7 0M6-44l7-6M17-16l5 5M22-18l5 5M27-20l7 3M32-22l0-5M37-25l-6-8M41-28l6 6M15-19l7 6M9-34l-5-1M7-39l-10 0M18-23l4-1M20-32l9-3M18-37l-5-1M15-42l-4-1M15-47l9-1M12-52l1-5M24-32l-9-4M15-45l-5-1M13-50l-8 3M25-37l4 2M28-42l9-1M27-48l5-3M24-58l-9-1M31-47l5 0M32-52l9 0M34-57l-2-6M38-61l-2-7"/><path id="M20" d="M4 6l4 2l3 5l3 4l4 4l2 5l-1 5l3 5l1 5l3 4l4 4l1 5M3 3l5 2l4 3l1 6l4 3l4 4l2 5l4 3l4 3l6 0l5 2l4 3l5 3M0 3l4 4l5 3l5 1l5 3l5 2l3 4l2 5l4 3l5 2l6 0l5 2l5 2l5 1l4 3M-3 6l-1 5l-1 5l3 5l5 3l3 4l2 5l3 5l3 4l4 4l4 4M-6 4l-4 4l-6-1l-5 3l-5-1l-5 1l-5 2l-5-2l-4-4l-4-4l-2-5l-4-3l-3-5l-3-5l-4-3l-5-2l-3-4M-4-1l-5 3l-5 1l-6 0l-5-2l-5-2l-4-3l-5-1l-5 3l-4 4l-5 1l-5-2M2-3l-4-3l-5-3l-3-4l-2-5l-1-5l-3-4l-2-5l-5-4l-3-4l-4-3l-5-3l-3-4l-4-4l-3-5M5-2l1-5l2-5l3-5l2-5l3-4l5-3l5 1l5-3l3-5l4-3l5-3l2-5l1-5M-3 3l-2-5l-4-4l-3-4l-2-5l0-6l-1-5l0-5l1-6l-2-5l-1-5l3-5l1-5M6 3l4-3l4-4l4-4l5-1l5-3l3-4l5-3l2-5l0-5l4-4l4-3l6 1l4-3l4-4"/><path id="M21" d="M8 8l4 4l5 2l5 2l6 0M11 13l3 4l3 5l0 5l2 5M14 17l5-1l5-1l6 0l4 4l5 2M20 26l5 3l4 3l2 5l-2 5l-4 4M19 31l2 5l3 4l4 4M23 41l3 5l4 2l5 3l4 4l3 4M26 45l3 5l3 4l2 5M8 5l4-3l3-5l1-5l3-5l1-5M12 8l5 2l5 1l5-1M13 14l1 5l1 5l3 5l1 5l1 6M17 17l3 5l0 5l0 5M37 32l3 5l1 5l3 5M42 34l5-2l5-1l5 3M46 37l-1 6l-2 5l-3 4l-3 5l-5 3M9 10l3-5l4-4l4-2l6 1l5 0M14 11l4 3l3 5l5 3l2 5M19 14l5-1l5-2l5 2M24 16l4 3l6-1l5 0l5 0M27 20l5-2l4-4l3-4l4-4l4-4l1-5M33 28l3 5l-1 5l0 6l-2 5l-2 5M49 32l4 3l2 5l0 6l-2 5M54 34l5-1l5 2l6-1l5-1l5 0M59 35l4 3l5 3l5 2l5 0M63 38l-2 5l1 5l3 5l5 3M-4 11l-6 0l-5 1l-3 4l-2 5M3 24l5-2l5-2M6 28l5-1l6 0l5 1M11 38l3 4l4 4l3 4M18 46l1 6l0 5l0 5M-10 8l1 5l3 4l4 4l2 5l4 3M-16 7l-5 1l-5 0l-6 0l-5 2l-5 1M-26 9l-2-5l-3-4l-5-3l-5 1M-36 12l-6-2l-5-2l-3-4l-3-4M-41 10l-1-6l1-5l-3-4l-3-5l-4-3l-5-2l-5-2l-5-2M-45 6l-5 3l-3 4l-5 2l-5-2l-5-2l-5 3l-6-1M-51-3l-1-6l0-5l0-5l-3-4l-6-1l-4-4l-3-4M-55-6l-5-2l-5-3l-3-4l-3-4l-5-2M-58-11l-6 0l-5 0l-5-2l-4-4M-61-16l2-4l3-5l5-3l4-3l2-5l-1-6l-2-4l-5-3M-9 2l-4-4l-3-4l-4-3l-5-2M-14 3l-6-1l-4 3l-5 2M-20 3l-3-4l-3-4l-4-3M-25 1l-5 0l-4 3M-30-1l-5 1l-5 0l-5-2l-3-5M-44-2l-1 6l-2 4l-5 2l-5 3M-48 2l1 6l0 5l0 5M-7-9l-5-2l-3-5l-4-3l-5-2l-5 0l-5-1M-13-23l2-5l3-4l5-3l3-4M-16-27l-1-6l3-4l5-3l2-5l0-5M-18-32l-6-2l-5 2l-4 3l-2 5M-23-36l-2-4l-4-4l0-6l-3-4l0-6l-3-4M-26-40l-4-3l0-6l2-5l1-5l-3-5l-4-4M-30-43l-1-6l1-5l1-5l2-5M-35-46l-5 1l-5 0l-4-4l-2-5l-2-4l-3-5M21-29l4-4l5-1l5 0M31-31l4 4l5 2l5 1M43-42l5 2l5-1l5-3l3-5l2-5M46-52l0-5l2-5l2-5M-9-6l1-5l4-4l2-5M-14-21l2-4l0-6l-3-4l-2-5M-15-26l3-5l2-5l-2-5l-1-5M-15-31l-5-3l-4-3l-5-3l-5-2M-14-37l-2-5l-1-5l-5-3M-16-42l4-3l4-3l3-5l3-4l1-5M-17-47l-4-2l-5-3l-4-3M-13-57l-4-4l-3-4l-3-4l-3-5M14-4l3 4l5 3l5 3l4 3M28-12l4 4l5 2l4 3l3 5l4 3l3 4M36-19l5-2l4-3l5-3l5 0M38-24l5-1l6 0l5-1l5-3l5 0l5 1M38-29l-2-5l-1-5l1-5l2-6l-2-5M52-35l3-4l6-1l4 2l6-1M60-42l1-6l1-5l4-4"/><path id="M22" d="M8 8l1 4M12 12l0 7M17 14l7-4M28 16l3-4M11 13l6-2M14 17l0 7M17 22l-2 7M17 27l-3 3M19 32l6 2M14 17l5-5M19 16l3 8M24 15l7 2M30 15l6 8M34 19l10 1M18 21l2-4M20 26l-5 5M25 29l5-5M29 32l-2 6M31 37l9 1M29 42l-7 5M25 46l3 6M19 31l-7 1M21 36l7 0M24 40l-4 4M28 44l-1 6M22 36l6 3M30 48l3-3M35 51l0 6M39 55l-1 4M42 59l9-2M26 45l5-1M29 50l5-1M34 59l7 0M30 49l4-3M31 54l-6 0M8 5l4-4M12 2l-4-5M16-8l9-4M19-13l5 5M20-18l4-3M12 8l-3 9M17 10l-1 7M22 11l2 8M27 10l3-5M14 19l7-2M15 24l6 3M18 29l-6 7M19 34l-9 0M20 40l-8 1M20 22l4 0M20 27l-7 3M20 32l4 0M21 21l4-4M27 29l-2 9M31 32l8-4M37 32l5-4M40 37l0 8M41 42l7 3M44 47l6-1M42 34l0 6M47 32l-2-7M52 31l1-8M57 34l4-8M46 37l-5 5M45 43l9 2M43 48l8 5M40 52l-9-1M37 57l2 5M51 40l5-5M4 7l3-5M9 10l-2 9M12 5l-4-3M16 1l-1-5M20-1l6 3M26 0l-1 9M31 0l3-5M14 11l2 5M18 14l6 0M21 19l-2 7M28 27l-4 1M19 14l-1 7M24 13l2 5M29 11l-5-8M34 13l5-8M24 16l3 7M28 19l3 9M34 18l1 4M39 18l0-6M44 18l-2 9M27 20l8-4M32 18l0-5M36 14l-1-5M39 10l8-1M47 2l-2-8M48-3l-4-3M29 25l-6 5M33 28l5-7M35 38l-6 4M35 44l5 8M33 49l4 3M38 30l3 5M44 30l2-4M49 32l-6 8M53 35l7-3M55 40l5 2M55 46l-4 2M54 34l8-3M59 33l4-4M64 35l6-5M70 34l5-8M59 35l-2 8M63 38l6-1M73 43l0 6M78 43l2 6M61 43l-6-1M62 48l-5 0M65 53l7 1M-10 11l-7-6M-15 12l1 7M-18 16l7 4M-20 21l6 5M-5 16l4 6M3 24l7-5M8 22l0-6M13 20l-6-7M6 28l5-4M11 27l1 7M17 27l2-5M22 28l-2 6M8 33l-3 7M11 38l5 0M14 42l-2 4M18 46l1 8M21 50l8-2M14 42l-8 5M18 46l7-6M19 52l-4 8M19 62l-6-2M-10 8l-1 8M-2 21l-3 6M0 26l9 1M4 29l3-6M-16 7l1-6M-21 8l-1 8M-26 8l-3-6M-32 8l-3-5M-42 11l-8-5M-21 10l-4 7M-26 9l1-9M-28 4l5-1M-31 0l5-2M-36-3l3-5M-41-2l-8-6M-31 10l1 7M-36 12l-1 7M-42 10l-5 4M-47 8l-3 4M-50 4l3-6M-53 0l2-7M-41 10l4-7M-42 4l7 1M-41-1l6-1M-44-5l-7 0M-51-13l-8 4M-56-15l-1 7M-50 9l4 6M-53 13l-5-2M-63 13l-4 9M-73 14l0 4M-49 2l-8-2M-51-3l6-6M-52-9l-4-3M-52-14l7 1M-52-19l-4-6M-55-23l-9-1M-61-24l1-4M-65-28l4-4M-68-32l-4 2M-60-8l-5 6M-68-15l5-4M-71-19l9-3M-76-21l-5 5M-58-11l2-8M-64-11l-5 6M-69-11l0 9M-74-13l-3 4M-78-17l-5 5M-61-16l6-3M-59-20l-8-5M-56-25l-2-6M-47-31l-3-4M-45-36l9 1M-46-42l-6-1M-48-46l4-6M-65-19l-5 3M-9 2l1 8M-13-2l1-7M-16-6l-9-3M-20-9l1-6M-25-11l-2 5M-14 3l-3-9M-20 2l0-6M-24 5l-1 10M-29 7l2 5M-20 3l-1 9M-23-1l1-6M-26-5l7-4M-30-8l-5 4M-25 1l-1 6M-34 4l1 4M-30-1l0-4M-35 0l0 7M-40 0l0 7M-45-2l-1-7M-48-7l2-9M-34-4l2-7M-39-5l-3-7M-44-2l1 5M-47 8l6 7M-57 13l1 10M-48 2l2 4M-47 13l8 2M-47 18l5 1M-53 3l-2-9M-58 1l-4-6M-2-6l-7 0M-7-9l-1 4M-12-11l-3-8M-15-16l4-4M-24-21l-6 3M-34-22l-5-6M-10-13l-9 1M-12-18l7-2M-13-23l5-4M-11-28l-4-5M-8-32l6 3M-3-35l3-7M0-39l-6-5M-16-27l1-5M-17-33l-4-4M-14-37l9 4M-9-40l-3-4M-7-45l6-1M-7-50l5-2M-18-32l-8-3M-33-29l3 7M-35-24l2 4M-23-36l-10 2M-25-40l-5 1M-29-44l-4 2M-29-50l-8-4M-32-54l-3 2M-32-60l4 1M-35-64l1-7M-26-40l4-4M-30-43l-5 1M-30-49l-4 0M-28-54l4 1M-30-64l-8 4M-34-68l0-5M-30-43l3-8M-31-49l-5 1M-29-59l9-4M-27-64l-1-6M-35-46l-4 4M-40-45l-3 7M-45-45l-3 5M-51-54l2-5M-53-58l-8-1M-56-63l-7-4M-38-50l2-9M-42-54l1-5M-45-59l2-4M6-7l6-3M11-17l-8-3M16-26l3 2M21-29l3 5M25-33l-2-8M30-34l3 4M35-34l5-6M26-28l6 7M31-31l0-8M35-27l-3 6M40-25l4-6M45-24l5-4M38-39l-3-7M43-42l-2-8M48-40l2 9M53-41l0-6M58-44l6 2M61-49l-2-7M63-54l-9-3M45-47l8 0M46-52l8 1M46-57l-5-2M50-67l6 4M-5-2l4-8M-4-15l-6-4M-2-20l9 0M-12-10l1-9M-14-15l2-3M-14-21l5 1M-12-25l-1-7M-12-31l4 1M-15-35l-6 3M-17-40l7-5M-15-26l3-3M-12-31l3 3M-12-41l3-4M-13-46l-7-2M-20-34l2-10M-29-40l-2-4M-34-42l-5 4M-16-42l-7-2M-17-47l5 0M-22-50l-6 3M-16-42l9-3M-12-45l5 2M-8-48l7 4M-2-57l-8-5M-17-47l9 1M-21-49l-2 8M-26-52l-3 6M-30-55l-7 5M-14-52l6 4M-13-57l6-6M-17-61l6-6M-20-65l-10-3M-23-69l-7 3M-26-74l2-7M10 0l-4-8M14-4l1-8M22 3l0 7M27 6l0 5M31 9l3 8M23-9l-3-6M28-12l6 1M32-8l-3 4M41-3l-2 8M44 2l-6 6M48 5l0 4M51 9l10 2M31-16l5-1M36-19l6 5M41-21l-5-6M45-24l-6-7M50-27l-5-5M55-27l6-6M38-24l5 2M59-29l6 3M64-29l4 3M69-28l-2 6M38-29l-9-2M36-34l-5 1M35-39l4-2M38-50l-6-7M42-33l4 4M46-36l5 3M52-35l1 5M55-39l-3-6M61-40l2-6M71-39l-2-5M60-42l-3-3M61-48l4-1M66-57l-3-5"/><path id="M30" d="M2 5l5-2l6 0l4-3l6 0l5 3l4 3l2 5l0 6l4 4l5 2l5 2M3-2l6 1l4 3l5 3l3 4l4 2l6 2l5 2l4 3l5 1l5 2l4 4l4 3l5 3l4 3l3 4M1-4l6 1l4 4l5 0l5 2l5 0l6-1l5 3l4 3l5 0l5 2l5 2l5 2l5 3l5 0M4-1l2 5l2 5l0 6l2 5l4 3l6 1l5-1l5 2l5 0l5 2l5 1l3 4M3 6l-3 4l-4 4l-1 5l-1 6l1 5l3 4l0 6l-2 5l-1 5l-1 5l3 5l0 6l3 4M-4-4l-4 3l-5 2l-4 4l-3 5l-1 5l-3 4l-4 4l-2 5l-4 3l-2 5l1 6M-5-4l-5-2l-4-4l-2-5l0-5l2-5l2-5l3-5l0-5l-2-5l-1-5M4-6l-5-3l-5-2l-4-3l-5-3l-3-5l0-5l-3-4l-5-3l-5-1l-5 2l-5 1l-4 4l-3 4l-5 2M-5 3l-1-6l-3-4l-1-5l1-6l3-4l-1-6l1-5l2-5l5-3l3-4l1-6l2-5l1-5l0-5M3-1l3-5l3-4l4-4l5-2l5-3l3-4l0-5l2-6l1-5l1-5M-1 2l-1-5l3-5l1-5l4-5l4-3l2-5l3-5l5-2l4-3l5-2l3-5M4-2l4-4l5-3l5-2l5 0l5 2l4 4l4 4l3 4l5 1l6 1l5-1l5 2l5 2l4 4"/><path id="M31" d="M7 3l-1-5l0-5l1-5l-2-5M23 0l3-4l0-5l-2-5l2-5l-1-6M28 3l5 0l5 2l6-1l5 1l4 3M34 11l5 3l5 0l4 3M38 21l4 4l5 0l4 4M43 23l1 5l4 3l5 3l4 4l4 3M48 25l5-2l5-2l3-5M9-1l2-5l3-4l4-4l3-4l5-2l6 1l5 1M13 2l5 0l6 1l3 4l6 2l5 0l4 3M21 9l0 6l0 5l-1 5l-3 4l0 6M31 13l-2 5l-2 6l-3 4l-3 5M36 15l3 4l2 5l5 3l3 4l3 5M40 18l5 0l5-1l5 2l6-1l5-2l5-2M45 19l2 5l-1 6l-2 5l-2 4l0 6M54 25l4 3l6-1l5-2l3-4M58 28l4-4l3-5l1-5l-2-5l3-5M63 31l3-5l1-5l3-5l1-5l3-5M70 38l2 5l5 3M7-3l4 4l1 5l4 4l3 5l1 5M11 1l2 5l-1 5l-3 5l-3 5l-2 4l-3 5M16 1l3-5l5-2l4-4l5 0M32 2l3 5l5 2l5 0l4-3l4-4l2-5M37 5l5 0l5-3l5 0l5-3l4-2l4-5M41 8l5 0l5-1l6-1l5-1l5-2M51 10l5-2l5 0l5-3M56 12l3 4l5 2l3 5l1 5l-1 5M66 17l5-2l5 3l5 0l6 0M71 17l6 1l5-1l4-3l3-5M6 4l0 5l4 4l3 5l1 5l3 5M8 9l5 2l5 3l2 5l3 4l3 5M8 15l2 5l2 5l2 5l2 4l5 4M20 24l5 1l5 1l3 5M30 25l4 4l5 1l6-1l5-1M40 27l-1 5l-2 5l2 5l0 6l-3 4M45 28l2 5l1 5l3 4M48 32l4 5l1 5l-2 5l-3 5l-3 4M0 10l-5 1l-4 4l-4 3l-5 3l-5 0M-4 14l-5 1l-5 1l-5-3M-5 19l-5 3l-5 1l-5 2l-6 2M-2 34l5 0l4 3l4 4l3 4l4 4l4 4M-2 40l5-1l5 3l3 4l0 6l3 4M-4 45l4 3l2 5l3 4l1 6l2 5l4 4M-5 50l-2 5l2 5l2 5l3 5M-3 60l-4 4l-5 2l-5 3l-4 4l-4 2M-8-1l-4 4l-1 5l0 5l0 6M-13 1l-6 0l-4 4l-4 2l-6 1l-5 2M-17 5l-5-2l-5 0l-5-3l-3-4M-21 15l-5-1l-5 3l-4 3M-24 19l1 6l1 5l1 5M-28 23l-5-3l-5 1l-5 1l-4 4l-2 5M-30 28l-2 5l-1 5l-5 3l-5 1M-34 31l-3 4l-6 2l-5-1M-36 36l-4 4l-4 3l-4 4M-9-40l-5 0l-5-3l-3-4M-11-45l0-5l0-6l3-5l3-4M-12-50l6-2l4-3l2-5M-1-9l-5-2l-3-4l-4-4l-5-2l-4-3l-2-5M-10-14l-2-5l-4-3l-2-5l0-6l-1-5l-3-4M-15-17l-5-1l-5 3l-4 3M-18-22l-5-1l-3-4l-2-6l1-5l-4-4l0-6l-2-5M-18-27l0-5l-1-6l2-5l4-4l1-5l0-6l-4-4M-31-35l-5 1l-5 1l-5 3l-5 0l-5-2M-45-28l-2 5l-2 5l-2 5M-48-24l3 5l0 5l1 5l-3 5l-2 5M-9-7l3-4l4-4l5-3l3-4l0-6l2-5M-10-12l-5-1l-4-4l-5-1l-6 0l-5 0l-4 3M-9-18l5-3l5-2l5 0l5 0l6 0l4-4M-7-28l4-4l4-3l6 0l5 2l5-2M-6-33l5-2l2-5l-1-6M-4-38l-1-5l0-5l0-6l0-5l3-5M1-41l1-5l3-4l5-3l3-5l-1-5l-2-5M7-56l1-5l3-5l4-3l5-2M8-61l-4-3l-4-4l-5-2l-5-3M6-6l4-3l3-5l3-4M9-10l-1-6l-4-4l-4-2M13-14l5-2l4-3l5-4M18-16l2-5l3-5l4-3l4-4M23-19l0-5l3-5l2-5M26-28l6-1l5 1l5 2M30-44l6-1l4-4l1-5l5-3M-2-3l-1-6l-1-5l-2-5M10-21l4 3l5-1l5-1M15-31l5-2l4-3l5-2l6 1M20-33l4-3l5-3M24-36l5-2l5-3l1-6l0-5l-1-5M29-38l5-2l2-5l5-3M32-43l5-1l5-2M8-6l4 3l2 5l5 3l6 0l4 2l4 4M13-9l4-3l5-2l2-5l5-2M23-11l4-4l5-1l4-3l5-2l6 0M28-9l3 5l1 5l4 4M32-5l5 1l5 0l6-1l4 3l6 1l5-1M36-1l5-1l5-1l5-2l5-2M39 3l4 3l4 4l2 5l2 5M44 4l5-2l6 0l5 2l2 5M55 4l-1-6l3-4l3-5l4-3l3-5l0-5l3-5M60 6l2 5l-1 5l-3 5l-3 4l-2 5l-1 5M69 12l3 4l5 1l4 5l4 3"/><path id="M32" d="M7 3l8 4M6-7l8-1M13 3l2 5M23 0l1-7M26-9l7 1M26-19l-6-6M25-25l-5-1M28 3l7-5M33 3l2 7M44 4l3-3M49 5l6-2M53 8l4-8M32 6l9-3M34 11l10 1M39 14l6-3M44 14l4-5M48 17l-3 6M34 17l-8-1M38 21l6 0M42 25l7 0M47 25l1 5M51 29l-2 8M43 23l5-1M44 28l8 0M48 31l8 0M53 34l3-3M57 38l-6 7M61 41l5-3M48 25l3 8M53 23l-2-7M58 21l3-6M61 16l-8-6M9-1l2 4M11-6l5 1M14-10l1-7M18-14l6 4M21-18l-1-8M26-20l5 6M32-19l3-4M13 2l1 9M24 3l2 9M27 7l-6 6M33 9l2 5M38 9l3-6M42 12l4-3M18 5l8-4M21 15l4 4M21 20l-3 4M20 25l9 3M17 35l9 2M25 11l3 8M31 13l3-5M27 24l-7 1M24 28l-7 1M21 33l5 3M36 15l2 4M39 19l8-5M41 24l9-1M46 27l-7 6M49 31l-4 5M52 36l5 0M45 18l2 7M50 17l5 4M61 18l5-5M66 16l3 3M45 19l5-4M47 24l-6 2M46 30l-4 4M44 35l4 6M42 39l4 6M42 45l9 1M50 21l7-2M54 25l4 0M58 28l4-2M64 27l-1-7M69 25l5 1M72 21l7 1M58 28l-3 9M65 19l8 2M66 14l6 1M64 9l7-2M67 4l9-1M63 31l1 9M66 26l5-1M67 21l-5-1M70 16l-1-4M71 11l6 1M74 6l6-1M67 34l7-5M72 43l-4 1M77 46l-1 6M7-3l5-5M11 1l4-6M12 6l-5 7M16 10l7-4M19 15l9 1M20 20l-9 2M11 1l-1 9M12 11l4 5M9 16l-4 1M4 25l-9 4M1 30l-6 1M16 1l-1 5M19-4l4 1M24-6l4 2M28-10l-3-2M33-10l7 4M26 3l1-5M32 2l6-7M35 7l6-2M40 9l-3 3M45 9l-1-5M49 6l-5-8M53 2l-1-5M55-3l-7-6M37 5l1 7M42 5l3 7M47 2l0-5M57-1l-7-6M61-3l7 5M65-8l8 4M46 8l1-7M51 7l1 6M62 5l2-8M67 3l-1-8M46 8l1 5M51 10l2-6M56 8l3-9M61 8l0 6M66 5l4 2M56 12l0-8M59 16l4-2M64 18l5-5M67 23l5-1M68 28l9-1M67 33l-6 3M66 17l7-5M71 15l1 6M76 18l-5 6M81 18l0-7M77 18l1-9M82 17l4-4M86 14l1-8M89 9l8 0M6 4l-5 5M6 9l7 5M10 13l7 1M14 23l-5 1M17 28l-7 7M8 9l7-4M13 11l-3 5M18 14l-4 6M20 19l-5 3M23 23l-9 4M26 28l-4 5M8 15l-4 4M10 20l-8 6M12 25l-2 3M14 30l-1 5M16 34l-5 8M21 38l4-6M10 20l-2 8M14 23l1 5M20 24l0-6M30 26l3-5M33 31l-7 4M25 23l6 5M30 25l2 8M39 30l2 7M35 25l4 3M40 27l-4 5M39 32l5 4M37 37l3 6M39 42l9 3M39 48l-7 0M36 52l4 4M47 33l-8 5M48 38l9-2M51 42l6-7M48 32l5-5M52 37l6-3M53 42l-5 2M51 47l2 4M48 52l4 7M45 56l-5 1M0 10l2 7M-9 15l7 6M-23 21l-2-7M-4 14l0 6M-9 15l0 7M-14 16l-5-5M-19 13l2-5M-5 19l-6-2M-10 22l-5-7M-15 23l-4 4M-20 25l-5-5M-6 25l3 6M-5 30l9 0M3 34l0-8M7 37l5-3M11 41l6-2M14 45l8-3M18 49l7-1M-2 40l-7 3M3 39l6 7M8 42l8-4M11 46l4 1M11 52l-5 1M14 56l8-6M-4 45l7 5M0 48l2 9M2 53l-7 2M5 57l-2 8M6 63l-3 3M8 68l-2 6M12 72l4-7M-5 50l-8 3M-5 60l-6 4M-3 65l-7 4M0 70l-3 6M-6 55l-8-3M-3 60l9 0M-7 64l0 7M-12 66l-5-4M-17 69l-7-2M-21 73l2 5M-3 66l-9 0M-8-1l-3-5M-13 8l3 7M-13 13l-3 3M-13 19l8 5M-13 1l2 7M-23 5l2 8M-27 7l-3 8M-33 8l-2-7M-38 10l-3 7M-17 5l4 7M-22 3l-2 6M-27 3l-1 5M-32 0l1-5M-35-4l-3 3M-20 10l-7 3M-21 15l-6 1M-26 14l-1-4M-31 17l-3 4M-35 20l0 8M-24 19l-9 2M-23 25l4 4M-22 30l-6 7M-21 35l-5 4M-28 23l3 5M-38 21l0 7M-43 22l-6-7M-49 31l8 6M-30 28l5 4M-32 33l-9-3M-33 38l-8 2M-38 41l6 7M-43 42l-4 4M-34 31l-4-6M-37 35l-10 1M-43 37l-2-8M-48 36l-1 9M-40 40l3 6M-44 43l4 6M-48 47l5 7M-35 42l6 0M-10-6l-7 5M-14-10l-4 1M-16-15l-7-2M-16-20l4 1M-14-25l-5-4M-12-30l-6-4M-9-35l5 5M-9-40l-5-1M-14-40l-2 3M-19-43l-5 5M-22-47l5-5M-11-45l-8 4M-11-50l-6-3M-11-56l-9-2M-5-65l-2-8M-12-50l-5-3M-2-55l9 1M0-60l7-1M-1-9l-5 8M-9-15l0-8M-13-19l1-8M-18-21l0-6M-22-24l-1-9M-24-29l-8 1M-6-11l-4 2M-10-14l-5 7M-12-19l-7 1M-16-22l2-4M-18-27l1-4M-18-33l-4-2M-22-42l-4 1M-20-18l-3-4M-25-15l-8-4M-29-12l3 6M-18-22l-6 1M-23-23l2-9M-26-27l-5 0M-28-33l4 0M-31-42l-9 0M-31-48l9-2M-33-53l3-3M-18-27l3-4M-19-38l-4-3M-12-52l-7-3M-12-58l9-4M-16-62l-7 5M-26-34l-3 9M-31-35l-4-6M-36-34l-4-4M-41-33l-2 5M-46-30l4 5M-56-32l-6 1M-36-33l-2 9M-41-32l-3-6M-45-28l-6-2M-47-23l-4 3M-49-18l-9-1M-51-13l-6-2M-48-24l5 4M-45-19l9 0M-45-14l-8 4M-44-9l5 3M-47-4l-5-3M-53-22l-4 6M-6-3l5-8M-9-7l2-4M-6-11l6 0M3-18l-1-7M6-22l8 1M6-28l7-1M8-33l-4-1M-10-12l-7-1M-15-13l2-5M-19-17l-5 0M-24-18l2-5M-39-15l-9-3M-9-18l-2-4M-4-21l8 6M1-23l0-5M6-23l0 5M17-23l1 9M21-27l6 5M-6-22l-3-4M-7-28l-5 0M-3-32l-3-5M1-35l6 7M12-33l3-4M17-35l5 5M-6-33l5-1M-1-35l8 4M1-40l-2-6M0-46l4-2M-4-38l5 0M-5-43l3-9M-5-48l-5 0M-5-54l-6-2M-5-59l-5 0M-2-64l0-6M2-46l-4-6M5-50l-2-9M10-53l2-6M13-58l9 1M12-63l3-5M10-68l7-2M4-45l-1-7M5-51l-5 0M7-56l-7-1M8-61l-5-2M11-66l8 2M15-69l5 6M4-64l1-6M-5-70l-1-6M-10-73l-6 5M8-66l4-5M10-9l9 1M9-10l-2-10M8-16l3-4M4-20l-8-1M0-22l-5 4M13-14l-6-6M18-16l2-5M22-19l-5-5M27-23l-6-5M20-21l7 0M23-26l5 1M27-29l1-10M31-33l-4-2M23-19l-4-4M23-24l6-6M26-29l0-4M28-34l-3-6M26-23l-1-9M26-28l9 1M32-29l2-8M37-28l-2 8M28-34l-5-2M29-39l-4-3M40-49l3 3M41-54l4-3M-2-3l-5-2M-3-9l9-2M-4-14l3-2M-6-19l-8-2M1-8l-4-5M6-18l-3-6M10-21l3 6M14-18l0 6M19-19l5 4M12-26l7 5M15-31l7 2M29-38l-2-4M35-37l0-10M20-33l2-9M29-39l1-5M24-36l0-6M29-38l4 6M34-41l4 2M35-47l-8-1M35-52l10 2M34-57l7-6M29-38l1 5M36-45l7 4M41-48l8 5M32-43l-5-2M37-44l-2-7M42-46l0-8M8-6l-5-9M12-3l6-2M14 2l-4 4M19 5l3-4M25 5l8 5M29 7l2 4M33 11l5-1M17-12l-3-6M22-14l5 5M24-19l5 0M29-21l3-7M18-11l8 4M23-11l2-3M27-15l9 0M32-16l6-7M36-19l0-6M41-21l7 6M47-21l8-5M28-9l6-2M31-4l-7 4M32 1l-4 8M36 5l9 1M32-5l-1 5M37-4l3-3M42-4l-1 9M48-5l5-6M52-2l3-6M58-1l3 8M63-2l1-8M36-1l6-3M41-2l3 7M46-3l1 6M51-5l8 4M56-7l6 3M39 3l7-2M43 6l4-1M47 10l-5 6M49 15l-5 3M49 2l6 8M55 2l7 6M60 4l6-5M62 9l7 1M50 5l1-6M60-11l5 0M64-14l0-5M67-19l9-1M67-24l8-2M70-29l-5-4M62 11l-3 3M61 16l-7 3M55 25l-4-6M53 30l-5-1M52 35l5 5M65 8l3-7M69 12l-2 4M72 16l-5 8M77 17l3 7"/><path id="R0" d="M-4 6l7 1l6-1l5-5l5-5l4-5l6-3l7 1l6 1l7 0M3-1l6 3l6 3l6 3l7 1l6 2l7 3l6 3l7 0l6-3M1 2l6 4l3 6l4 5l6 3l7 0l7 1l5 4l7 2l6-2l7 1M-4 1l-1 6l-5 5l-4 5l-5 5l-2 7l-1 7l-1 6l2 7M-6 1l-5 4l-6 3l-7 2l-6-2l-6-4l-6-2l-7-3l-4-5l-5-4l-6-4l-7 0l-6 4M5-2l-3 6l0 7l-3 6l-3 6l-3 6l-3 6l-1 6l0 7l1 7l1 7l-2 6l1 7M-5-3l-6-4l-7 0l-7 1l-5 5l-2 6l0 7l-1 7l0 6l-1 7l2 7M-5-4l-5-5l-6-2l-7-3l-7 0l-6 1l-7 0l-7-2l-6-2l-7 0l-6 2l-6 4M6-2l-4-6l-1-7l-2-6l-5-5l-1-7l-2-6l1-7l2-6l4-6l0-7l-3-5M-4 2l4-5l2-7l4-5l7-2l6 1l6 4l3 6l4 6l5 4M-3-2l7-1l7 0l6 0l7-3l4-5l3-6l4-5l2-7l0-7"/><path id="R1" d="M3 7l6 3l7-1l6 2l6 4l6 2M14 1l-3-6l-3-6l-5-5M23-9l2-7l4-6M42-10l7-2l6-1l6-4l7-2l6-3M49-10l7-1l6-1M15 5l7-2l6-3l6-2l7-2l5-5M21 8l-1 6l2 7l-1 7l1 7M28 9l4 6l2 6l-1 7l3 6M34 11l-2 6l-2 7l0 7l-3 6l0 6M41 14l5-4l7-3l4-5M47 17l6-3l7 1l7 1M54 17l6-3l6-3l6-3l6-4l5-5M60 14l5 4l2 6l3 7l6 3M7 6l7 0l6 2l7 2l6 3M10 12l1 7l3 6l2 6M14 17l1 7l2 7l0 6l-2 7M20 20l7 1l6 4l6 1M27 20l6 3l6 2l5 5M34 21l6 3l6 2l7-1M39 25l-1 7l-2 6l1 7M46 27l7 0l6-3l5-5l7-1M52 25l6 4l6 3l7 1l7 0M-5 7l-7-1l-6-2l-7-3l-6 0M-10 12l-7-1l-6 3l-7 1l-6-1M-14 17l-7 1l-6 2l-6 4M-19 22l3 7l0 7l-3 6l-1 6l-1 7M-21 49l-2 6l1 7l-2 7l-4 5M-17 8l-6-3l-5-5l-2-6l-2-7M-24 10l-5-4l-6-4l-4-5l-5-5l-4-5l-4-6l-5-4M-30 8l0-7l3-6l1-7l-2-7l1-6l-1-7M-42 2l-7 2l-6-2l-7 1l-7 1M-49-1l-6 1l-7 2l-6-2M-58-10l-2-7l-3-6l-1-7l-1-6M-71-14l-5-4l-4-6l-5-5M-77-10l0 6l1 7l0 7l-4 6M2 4l-7 0l-6-2l-4-6l-1-7l-4-5l-4-5M-1 17l-6-1l-6-4l-6-4l-4-5l-7-1l-5-4M-4 23l2 6l5 5l4 5l5 5M-7 29l-6 0l-7-1l-7 0l-6-2l-7-3l-5-4M-10 55l-3 6l-2 6l1 7l-2 7M-10 75l3 6l5 5M-11-7l-4 6l-3 6l-1 7l-1 7M-18-7l-7 1l-7-1l-6-3l-6-1l-6-3M-25-6l-3 6l-1 7l-1 7l-1 7l-2 6M-30-1l-5 4l-3 6l-5 6l-2 6l-2 7M-32 5l-1 7l2 6l4 5l2 7l-1 7M-32 12l4 6l5 4l4 5l5 5M-33 19l-7 1l-6-1l-6-4M-34 32l5 5l7 1l6 4l4 5l3 6l4 6M-32 39l-4 6l-3 6l-4 5l-6 3l-7 2M-10-9l0-6l-1-7l2-7l4-5l4-5l6-4M-16-11l-3-6l-1-7l3-6l1-7M-30-14l-4 6l-3 6l-2 6l-5 5l-6 3l-7 0M-43-13l-5-4l-3-6l1-7l1-7M-50-15l-5-4l-7-1l-7 0M-63-17l-3-7l-4-4l-2-7l-4-6l-1-6M-69-15l-7-1l-7 0M2-8l-6-1l-7-3l-4-5M-1-21l4-6l2-6l3-6l3-6M-6-26l4-6l2-7l5-4l2-7M-7-33l6-4l5-5l2-6l6-4M-6-52l7 1l6 3l6 2l7 0l7-1l6-2M-2-65l-4-5l-5-5l-4-5l-6-3M-5-70l-7-1l-7-1l-6-3l-6-3M0-3l-5-5l-2-6M13-17l6 2l7-2l6-1l7 0M19-16l4-6l2-7l1-6l-1-7M25-12l-3 6l-5 5l-3 6l-4 5M28-6l-4 6l-5 5l-3 6M32 0l6-4l4-5l4-6M37 4l7-2l7 1l6-4l5-4M4-3l4 5l4 5l6 4M11-3l3 6l5 5l6 3M17-3l6-3l7-1l7 2M28-11l0-7l4-5M31-17l0-7l-3-6l1-7l3-6M37-29l-5-5l-6-3l-5-4M37-36l6-3l5-4l4-6"/><path id="R2" d="M9 10l6-2M9 6l1 6M3-16l-5 4M19-4l-2-7M23-9l6 0M25-16l-5-3M29-12l8 4M49-10l1-4M62-12l2 8M15 5l5-4M21 8l3-8M20 14l4 2M21 28l-7 4M32 15l4 0M32 17l4 5M30 31l-6 3M27 43l-9-1M41 14l6-3M47 17l2 6M53 14l5 3M60 15l6-5M67 16l3-8M54 17l2 4M60 14l-3-7M66 11l3-6M78 4l-1-8M83-1l4 5M70 31l6-3M14 6l4 6M27 10l0 6M17 37l5 2M20 20l6-4M27 21l3 5M33 25l5-2M39 26l3-6M33 23l3 7M44 30l-7 6M53 25l6 5M46 27l1-5M53 27l0 5M64 19l2-8M71 18l4-5M52 25l5 7M58 29l4-4M64 32l7-4M71 33l-2 5M-5 7l-7 5M-12 6l-3 5M-10 12l4 7M-30 15l1-9M-36 14l-3-6M-14 17l6 5M-33 24l3 3M-19 22l-6-3M-16 36l-5 0M-19 42l-7-5M-20 48l7 4M-21 29l-5 2M-21 49l-4 8M-23 55l7 1M-22 62l-7 0M-28 0l-4 1M-39-3l-5 0M-27-5l-6-6M-26-12l5 1M-28-19l-5-2M-27-25l4-1M-36 4l3-5M-49 4l-5-4M-69 4l0-5M-68 0l-4-5M-64-30l4-3M-71-14l-3-5M-76 3l4 2M-76 10l-5-1M2 4l-8-3M-5 4l-1 8M-15-4l-6 4M-20-16l-6 4M-24-21l-3 3M-7 16l-2-8M-30 2l-3 4M-35-2l-5 5M-2 29l6-3M-7 29l-5-4M-20 28l-5 4M-33 26l-2 7M-10 35l-8-3M-10 55l5 1M-14 74l-3 4M-2 86l1 5M-11-7l-5 2M-38-10l-2 4M-25-6l1 7M-28 0l5 5M-31 21l6 0M-33 27l-5-2M-30-1l-7-5M-35 3l1 4M-38 9l6 4M-32 5l5 6M-33 12l7 6M-28 18l7-3M-33 19l4 6M-46 19l-2 4M-16 42l5-6M-12 47l8-2M-9 53l-1 6M-5 59l4 2M-36 45l2 5M-39 51l-8 1M-43 56l5 7M-49 59l-2 8M-10-9l5-6M-10-15l-7-3M-16-11l-3-8M-17-30l5 4M-34-8l-7-5M-37-2l-5-1M-50-30l-2-4M-49-37l-4-2M-55-19l-6 2M-69-20l-6-7M-56-17l-3 8M-63-17l-5-6M-66-24l7-4M-70-28l-4 2M-75-11l3 7M-11-12l-5 3M-1-21l2-4M0-39l-4-2M5-43l0-5M-7-33l5-6M-9-39l5-6M-8-46l-5-1M13-46l2 7M20-46l0-7M-2-65l-6-2M-11-75l-7 2M-5-70l-7-1M-31-78l-3 7M0-3l-2-5M26-17l2-6M23-22l5-1M26-35l-7-5M17-1l-7 0M42-9l7 0M37 4l4-6M44 2l3 3M4-3l1-9M12 7l-6 5M11-3l2-5M23-6l0-5M37-5l3 4M28-11l-1-7M32-23l0-5M31-17l-3-3M32-43l-5-5M35-22l8-1M32-34l-4 2M26-37l-7 2M48-43l5 3"/><clipPath id="cpa3d"><rect x="149.2" y="142" width="108.6" height="85.7"/></clipPath><filter id="rough2" x="-5%" y="-5%" width="110%" height="110%" color-interpolation-filters="sRGB"><feTurbulence type="fractalNoise" baseFrequency="0.5" numOctaves="2" seed="7" result="t"/><feDisplacementMap in="SourceGraphic" in2="t" scale="3" xChannelSelector="R" yChannelSelector="G"/></filter><g id="D1" fill="none" stroke-linecap="round" stroke-linejoin="round" transform="scale(0.5)">
<use href="#D12" stroke="#0b4d18" stroke-width="5.2"/>
<use href="#D12" stroke="#2fa645" stroke-width="3.0"/>
<use href="#D11" stroke="#0b4d18" stroke-width="6.2"/>
<use href="#D11" stroke="#2fa645" stroke-width="4.0"/>
<use href="#D10" stroke="#0b4d18" stroke-width="7.4"/>
<use href="#D10" stroke="#2fa645" stroke-width="5.2"/>
<use href="#D10" stroke="#6fd882" stroke-width="1.6" opacity="0.5" x="-1" y="-1"/>

</g>
<g id="D2" fill="none" stroke-linecap="round" stroke-linejoin="round" transform="scale(0.5)">
<use href="#D22" stroke="#0b4d18" stroke-width="5.2"/>
<use href="#D22" stroke="#2fa645" stroke-width="3.0"/>
<use href="#D21" stroke="#0b4d18" stroke-width="6.2"/>
<use href="#D21" stroke="#2fa645" stroke-width="4.0"/>
<use href="#D20" stroke="#0b4d18" stroke-width="7.4"/>
<use href="#D20" stroke="#2fa645" stroke-width="5.2"/>
<use href="#D20" stroke="#6fd882" stroke-width="1.6" opacity="0.5" x="-1" y="-1"/>

</g>
<g id="D3" fill="none" stroke-linecap="round" stroke-linejoin="round" transform="scale(0.5)">
<use href="#D32" stroke="#0b4d18" stroke-width="5.2"/>
<use href="#D32" stroke="#2fa645" stroke-width="3.0"/>
<use href="#D31" stroke="#0b4d18" stroke-width="6.2"/>
<use href="#D31" stroke="#2fa645" stroke-width="4.0"/>
<use href="#D30" stroke="#0b4d18" stroke-width="7.4"/>
<use href="#D30" stroke="#2fa645" stroke-width="5.2"/>
<use href="#D30" stroke="#6fd882" stroke-width="1.6" opacity="0.5" x="-1" y="-1"/>

</g>
<g id="S1" fill="none" stroke-linecap="round" stroke-linejoin="round" transform="scale(0.5)">
<use href="#S12" stroke="#0b4d18" stroke-width="5.2"/>
<use href="#S12" stroke="#2fa645" stroke-width="3.0"/>
<use href="#S11" stroke="#0b4d18" stroke-width="6.6"/>
<use href="#S11" stroke="#2fa645" stroke-width="4.4"/>
<use href="#S10" stroke="#0b4d18" stroke-width="9.4"/>
<use href="#S10" stroke="#2fa645" stroke-width="7.2"/>
<use href="#S10" stroke="#6fd882" stroke-width="2.2" opacity="0.5" x="-1" y="-1"/>
<circle r="8" fill="#2fa645" stroke="#0b4d18" stroke-width="2"/>

</g>
<g id="S2" fill="none" stroke-linecap="round" stroke-linejoin="round" transform="scale(0.5)">
<use href="#S22" stroke="#0b4d18" stroke-width="5.2"/>
<use href="#S22" stroke="#2fa645" stroke-width="3.0"/>
<use href="#S21" stroke="#0b4d18" stroke-width="6.6"/>
<use href="#S21" stroke="#2fa645" stroke-width="4.4"/>
<use href="#S20" stroke="#0b4d18" stroke-width="9.4"/>
<use href="#S20" stroke="#2fa645" stroke-width="7.2"/>
<use href="#S20" stroke="#6fd882" stroke-width="2.2" opacity="0.5" x="-1" y="-1"/>
<circle r="8" fill="#2fa645" stroke="#0b4d18" stroke-width="2"/>

</g>
<g id="S3" fill="none" stroke-linecap="round" stroke-linejoin="round" transform="scale(0.5)">
<use href="#S32" stroke="#0b4d18" stroke-width="5.2"/>
<use href="#S32" stroke="#2fa645" stroke-width="3.0"/>
<use href="#S31" stroke="#0b4d18" stroke-width="6.6"/>
<use href="#S31" stroke="#2fa645" stroke-width="4.4"/>
<use href="#S30" stroke="#0b4d18" stroke-width="9.4"/>
<use href="#S30" stroke="#2fa645" stroke-width="7.2"/>
<use href="#S30" stroke="#6fd882" stroke-width="2.2" opacity="0.5" x="-1" y="-1"/>
<circle r="8" fill="#2fa645" stroke="#0b4d18" stroke-width="2"/>

</g>
<g id="M1" fill="none" stroke-linecap="round" stroke-linejoin="round" transform="scale(0.5)">
<use href="#M12" stroke="#0b4d18" stroke-width="5.2"/>
<use href="#M12" stroke="#2fa645" stroke-width="3.0"/>
<use href="#M11" stroke="#0b4d18" stroke-width="6.2"/>
<use href="#M11" stroke="#2fa645" stroke-width="4.0"/>
<use href="#M10" stroke="#0b4d18" stroke-width="8.2"/>
<use href="#M10" stroke="#2fa645" stroke-width="6.0"/>
<use href="#M10" stroke="#6fd882" stroke-width="1.8" opacity="0.5" x="-1" y="-1"/>
<circle r="6" fill="#2fa645" stroke="#0b4d18" stroke-width="2"/>

</g>
<g id="M2" fill="none" stroke-linecap="round" stroke-linejoin="round" transform="scale(0.5)">
<use href="#M22" stroke="#0b4d18" stroke-width="5.2"/>
<use href="#M22" stroke="#2fa645" stroke-width="3.0"/>
<use href="#M21" stroke="#0b4d18" stroke-width="6.2"/>
<use href="#M21" stroke="#2fa645" stroke-width="4.0"/>
<use href="#M20" stroke="#0b4d18" stroke-width="8.2"/>
<use href="#M20" stroke="#2fa645" stroke-width="6.0"/>
<use href="#M20" stroke="#6fd882" stroke-width="1.8" opacity="0.5" x="-1" y="-1"/>
<circle r="6" fill="#2fa645" stroke="#0b4d18" stroke-width="2"/>

</g>
<g id="M3" fill="none" stroke-linecap="round" stroke-linejoin="round" transform="scale(0.5)">
<use href="#M32" stroke="#0b4d18" stroke-width="5.2"/>
<use href="#M32" stroke="#2fa645" stroke-width="3.0"/>
<use href="#M31" stroke="#0b4d18" stroke-width="6.2"/>
<use href="#M31" stroke="#2fa645" stroke-width="4.0"/>
<use href="#M30" stroke="#0b4d18" stroke-width="8.2"/>
<use href="#M30" stroke="#2fa645" stroke-width="6.0"/>
<use href="#M30" stroke="#6fd882" stroke-width="1.8" opacity="0.5" x="-1" y="-1"/>
<circle r="6" fill="#2fa645" stroke="#0b4d18" stroke-width="2"/>

</g>
<g id="R" fill="none" stroke-linecap="round" stroke-linejoin="round" transform="scale(0.5)">
<use href="#R2" stroke="#0a4416" stroke-width="6.8"/>
<use href="#R2" stroke="#33aa4a" stroke-width="4.6"/>
<use href="#R1" stroke="#0a4416" stroke-width="8.2"/>
<use href="#R1" stroke="#33aa4a" stroke-width="6.0"/>
<use href="#R0" stroke="#0a4416" stroke-width="11.0"/>
<use href="#R0" stroke="#33aa4a" stroke-width="8.8"/>
<use href="#R0" stroke="#86e696" stroke-width="2.6" opacity="0.5" x="-1" y="-1"/>
<circle r="12" fill="#33aa4a" stroke="#0a4416" stroke-width="2"/>

</g></defs>
<rect x="308" y="33.7" width="66.7" height="71.6" fill="#000"/>
<rect x="377" y="42.7" width="59.7" height="61.0" fill="#000"/>
<rect x="436.7" y="40" width="51.3" height="65.3" fill="#000"/>
<rect x="513.8" y="50" width="50.0" height="48.8" fill="#000"/>
<rect x="569.8" y="59.9" width="41.0" height="32.3" fill="#000"/>
<rect x="616" y="51.5" width="51.0" height="49.1" fill="#000"/>
<rect x="306.7" y="155" width="62.3" height="51.5" fill="#000"/>
<rect x="379" y="144.5" width="47.8" height="67.5" fill="#000"/>
<rect x="432" y="155" width="55.0" height="46.7" fill="#000"/>
<rect x="512" y="154.7" width="50.3" height="53.0" fill="#000"/>
<rect x="565.3" y="138.3" width="57.5" height="76.3" fill="#000"/>
<rect x="624.3" y="156.5" width="47.3" height="51.2" fill="#000"/>
<defs><clipPath id="cb0"><rect x="308" y="33.7" width="66.7" height="71.6"/></clipPath><clipPath id="cb1"><rect x="377" y="42.7" width="59.7" height="61.0"/></clipPath><clipPath id="cb2"><rect x="436.7" y="40" width="51.3" height="65.3"/></clipPath><clipPath id="cb3"><rect x="513.8" y="50" width="50.0" height="48.8"/></clipPath><clipPath id="cb4"><rect x="569.8" y="59.9" width="41.0" height="32.3"/></clipPath><clipPath id="cb5"><rect x="616" y="51.5" width="51.0" height="49.1"/></clipPath><clipPath id="cb6"><rect x="306.7" y="155" width="62.3" height="51.5"/></clipPath><clipPath id="cb7"><rect x="379" y="144.5" width="47.8" height="67.5"/></clipPath><clipPath id="cb8"><rect x="432" y="155" width="55.0" height="46.7"/></clipPath><clipPath id="cb9"><rect x="512" y="154.7" width="50.3" height="53.0"/></clipPath><clipPath id="cb10"><rect x="565.3" y="138.3" width="57.5" height="76.3"/></clipPath><clipPath id="cb11"><rect x="624.3" y="156.5" width="47.3" height="51.2"/></clipPath></defs>
<g clip-path="url(#cb0)"><g filter="url(#rough2)"><use href="#D1" transform="translate(341.4,69.5) scale(0.741,0.796) rotate(0)"/></g></g>
<g clip-path="url(#cb1)"><g filter="url(#rough2)"><use href="#D2" transform="translate(406.9,73.2) scale(0.663,0.663) rotate(40)"/></g></g>
<g clip-path="url(#cb2)"><g filter="url(#rough2)"><use href="#D3" transform="translate(462.4,72.7) scale(0.542,0.656) rotate(80)"/></g></g>
<g clip-path="url(#cb3)"><g filter="url(#rough2)"><use href="#S1" transform="translate(538.8,74.4) scale(0.542,0.542) rotate(0)"/></g></g>
<g clip-path="url(#cb4)"><g filter="url(#rough2)"><use href="#S2" transform="translate(590.3,76.0) scale(0.359,0.269) rotate(90)"/></g></g>
<g clip-path="url(#cb5)"><g filter="url(#rough2)"><use href="#S3" transform="translate(641.5,76.0) scale(0.546,0.546) rotate(20)"/></g></g>
<g clip-path="url(#cb6)"><g filter="url(#rough2)"><use href="#M1" transform="translate(337.9,180.8) scale(0.629,0.515) rotate(0)"/></g></g>
<g clip-path="url(#cb7)"><g filter="url(#rough2)"><use href="#M2" transform="translate(402.9,178.2) scale(0.478,0.690) rotate(70)"/></g></g>
<g clip-path="url(#cb8)"><g filter="url(#rough2)"><use href="#M3" transform="translate(459.5,178.3) scale(0.597,0.441) rotate(30)"/></g></g>
<g clip-path="url(#cb9)"><g filter="url(#rough2)"><use href="#M2" transform="translate(537.1,181.2) scale(0.559,0.559) rotate(200)"/></g></g>
<g clip-path="url(#cb10)"><g filter="url(#rough2)"><use href="#S3" transform="translate(594.0,176.4) scale(0.639,0.831) rotate(100)"/></g></g>
<g clip-path="url(#cb11)"><g filter="url(#rough2)"><use href="#M1" transform="translate(648.0,182.1) scale(0.499,0.552) rotate(150)"/></g></g>
<text x="298.5" y="28.7" font-size="11.8" font-weight="bold" fill="#47bf5c">GFP</text>
<text x="484.5" y="26" font-size="10.5" font-weight="bold" fill="#fff" text-anchor="middle">20µm</text>
<rect x="475.6" y="30.2" width="21.2" height="1.8" fill="#fff"/>
<path d="M150.8 27.4h0M164.5 27.4h0M239.8 116.4h0M243.3 82.1h0M170.3 109.5h0M256.6 36.0h0M206.1 88.8h0M199.9 29.6h0M229.9 111.7h0M226.3 71.0h0M228.9 100.0h0M246.2 42.3h0M170.9 37.8h0M242.2 47.3h0M209.4 38.5h0M223.4 101.1h0M198.2 56.7h0M177.6 108.0h0M161.2 95.8h0M196.2 23.9h0M208.0 65.3h0M238.4 50.1h0M165.0 114.9h0M158.1 76.3h0M233.4 63.0h0M223.5 113.1h0M252.5 63.4h0M182.4 60.6h0M239.2 45.3h0M205.9 99.7h0M229.9 36.3h0M217.4 59.0h0M153.7 46.4h0M196.5 75.9h0M225.2 16.0h0M151.3 98.6h0M240.4 56.8h0M151.8 80.5h0M197.0 90.3h0M200.6 110.2h0M203.2 117.1h0M166.2 115.0h0M164.2 29.5h0M254.4 57.4h0M212.4 21.2h0M175.1 93.6h0M159.6 70.8h0M254.7 37.0h0M228.1 61.5h0M181.4 117.2h0M257.3 117.1h0M190.5 86.9h0M209.1 79.9h0M162.4 36.9h0M202.8 66.1h0M162.2 19.0h0M246.5 67.2h0M196.1 47.6h0M154.4 86.7h0M170.0 30.3h0M150.8 63.4h0M182.2 60.9h0M168.9 101.0h0M247.6 84.6h0M210.3 92.7h0M255.6 70.8h0M224.9 85.0h0M195.0 93.4h0M252.1 50.4h0M223.7 57.0h0M250.7 94.0h0M183.6 80.9h0M194.2 76.8h0M202.9 23.4h0M211.2 85.0h0M216.9 31.8h0M185.5 54.9h0M199.1 71.9h0M245.6 104.0h0M230.8 27.6h0M244.4 29.5h0M159.2 79.6h0M202.6 73.2h0M208.0 17.5h0M211.0 64.2h0M246.0 104.2h0M185.4 51.3h0M160.7 37.4h0M161.4 51.5h0M175.9 41.8h0M177.1 70.9h0M187.6 94.6h0M163.8 107.2h0M186.4 22.5h0M197.8 27.5h0M248.0 38.0h0M226.9 107.5h0M246.3 31.4h0M155.7 50.0h0M196.3 67.6h0M184.3 74.4h0M179.6 95.3h0M150.9 40.1h0M192.9 76.4h0M175.5 103.9h0M157.0 116.9h0M185.4 107.6h0M157.9 35.8h0M200.6 67.5h0M193.1 94.7h0M178.2 48.5h0M237.8 79.1h0M218.2 111.3h0M212.5 88.6h0M244.6 64.8h0M233.1 38.6h0M172.4 114.6h0M167.8 73.0h0M240.4 47.9h0" stroke="#2f9a3e" stroke-width="1.0" stroke-linecap="round" opacity="0.4"/>
<path d="M165.4 91.2h0M252.5 101.1h0M228.3 35.7h0M256.8 96.2h0M216.9 71.4h0M197.5 96.1h0M160.2 115.8h0M215.7 80.6h0M187.2 17.1h0M154.9 78.3h0M189.3 94.3h0M181.6 64.1h0M212.1 57.0h0M164.7 20.8h0M193.7 70.7h0M228.0 50.4h0M209.6 95.7h0M212.7 104.4h0M221.8 50.8h0M240.9 71.7h0M209.1 76.1h0M241.9 115.0h0M207.2 99.0h0M198.5 34.3h0M169.8 29.8h0M218.3 45.4h0M237.1 102.1h0M157.4 58.0h0M205.0 32.4h0M227.0 105.6h0M165.6 86.2h0M166.8 63.5h0M215.0 53.8h0M231.5 54.7h0M237.8 117.1h0M173.7 63.8h0M239.0 117.1h0M226.3 37.4h0M215.6 91.3h0M239.0 91.4h0M255.8 67.9h0M218.9 52.8h0M208.9 84.3h0M160.9 29.1h0M189.1 39.5h0M155.1 43.7h0M187.9 74.3h0M229.9 27.2h0M188.0 110.1h0M177.7 46.1h0M150.6 113.8h0M188.0 67.5h0M177.0 68.2h0M247.9 103.3h0M213.8 85.8h0M209.0 117.5h0M186.8 83.5h0M216.0 113.9h0M218.5 59.6h0M252.0 96.5h0M194.0 39.6h0M165.8 101.4h0M249.6 75.0h0M167.1 92.9h0M182.9 38.5h0M249.1 58.9h0M165.0 102.5h0M162.1 99.0h0M180.3 91.5h0M236.1 60.7h0M234.8 24.4h0M152.2 18.4h0M178.9 33.5h0M183.3 56.3h0M199.6 96.2h0M254.6 24.9h0M216.6 76.0h0M243.9 114.9h0M202.5 36.7h0M252.9 54.4h0M201.7 72.6h0M190.2 99.7h0M154.8 69.0h0M242.2 85.1h0M176.1 46.6h0M230.2 90.0h0M212.9 67.6h0M239.0 97.3h0M190.1 28.8h0M190.9 107.1h0M243.3 34.7h0M245.3 107.4h0M244.3 84.3h0M211.8 43.6h0M168.7 114.4h0M191.8 39.9h0M241.9 83.7h0M249.1 113.8h0M237.5 77.2h0M218.2 38.7h0M245.7 99.7h0M224.8 28.8h0M237.0 85.3h0M253.2 48.8h0M195.7 91.1h0M204.0 90.1h0M173.8 47.9h0M255.4 93.6h0M192.3 101.4h0M231.0 62.0h0M155.1 98.4h0M228.5 70.2h0M220.8 79.3h0M185.6 52.9h0M227.5 94.5h0M223.7 67.7h0M181.1 74.6h0M212.3 83.7h0M248.1 96.4h0M245.3 23.2h0M229.4 91.2h0M216.7 82.1h0M203.8 88.6h0M150.2 89.0h0M165.5 39.5h0M203.5 92.1h0M184.9 54.8h0M163.6 64.1h0M171.2 70.5h0M239.5 116.1h0M181.1 74.7h0M211.1 58.2h0M216.5 100.3h0M225.1 52.9h0M200.6 53.8h0" stroke="#2f9a3e" stroke-width="1.0" stroke-linecap="round" opacity="0.2"/>
<path d="M207.4 61.4h0M170.9 49.5h0M164.4 89.6h0M232.4 41.9h0M168.5 20.6h0M217.0 64.7h0M190.5 92.9h0M175.7 87.6h0M156.2 41.2h0M242.3 21.8h0M184.3 55.5h0M190.7 39.2h0M225.9 78.0h0M244.2 52.1h0M242.1 95.8h0M246.7 49.0h0M152.5 40.4h0M214.5 43.8h0M224.6 79.5h0M250.3 33.3h0M196.3 116.6h0M169.8 108.3h0M221.8 56.3h0M176.9 30.4h0M236.7 72.7h0M185.8 93.5h0M157.3 100.1h0M170.4 25.1h0M202.0 44.0h0M239.3 112.6h0M231.5 77.0h0M154.8 63.4h0M255.2 60.8h0M242.4 77.9h0M188.5 115.2h0M191.0 87.4h0M193.8 104.2h0M224.8 66.3h0M196.7 108.7h0M237.6 66.2h0M241.0 46.3h0M170.8 71.3h0M154.5 45.1h0M231.1 45.7h0M229.1 50.6h0M247.0 73.1h0M176.4 75.4h0M226.9 34.7h0M252.1 36.8h0M239.8 37.3h0M212.8 30.2h0M173.6 69.9h0M163.7 70.2h0M218.0 25.9h0M177.3 29.8h0M163.4 16.6h0M234.2 109.1h0M170.0 113.4h0M189.8 100.0h0M221.6 97.0h0M162.1 60.7h0M188.4 45.3h0M157.5 77.8h0M212.4 67.6h0M161.8 46.2h0M204.4 101.5h0M198.4 84.9h0M176.2 30.8h0M232.5 38.0h0M243.5 108.1h0M214.3 42.2h0M257.4 114.6h0" stroke="#2f9a3e" stroke-width="1.0" stroke-linecap="round" opacity="0.5"/>
<path d="M159.6 18.1h0M247.8 91.0h0M215.8 31.1h0M151.0 72.8h0M185.8 97.7h0M173.5 21.7h0M208.5 40.2h0M187.3 103.4h0M238.7 71.0h0M252.0 67.4h0M254.3 17.4h0M161.7 82.3h0M214.0 103.4h0M163.7 106.0h0M185.9 101.2h0M235.4 56.4h0M205.6 50.1h0M168.8 104.8h0M203.6 82.3h0M198.8 103.4h0" stroke="#2f9a3e" stroke-width="2.0" stroke-linecap="round" opacity="0.3"/>
<path d="M172.2 38.0h0M154.0 50.1h0M185.7 88.4h0M203.3 96.0h0M238.1 46.3h0M224.6 69.2h0M167.4 102.6h0M164.7 54.6h0M188.8 56.7h0M179.5 34.4h0M214.9 101.9h0M159.9 74.3h0M208.1 111.5h0M152.0 97.5h0M195.0 47.8h0M201.6 22.3h0M208.4 95.9h0M225.9 90.9h0M181.7 99.3h0M215.0 109.7h0M248.2 83.0h0M199.8 88.7h0M210.7 115.6h0M198.4 32.1h0M192.6 63.2h0M176.9 23.0h0M210.6 31.6h0M158.9 23.5h0M214.6 104.6h0M212.8 24.3h0M235.3 83.1h0M187.5 55.0h0M247.7 98.7h0M210.4 37.5h0M189.7 112.5h0M182.7 57.3h0M157.8 99.2h0M248.2 34.5h0M233.4 64.5h0M254.6 95.9h0M246.0 66.2h0M177.1 103.1h0M191.4 108.8h0M218.1 108.8h0M235.6 20.5h0M164.1 35.0h0M228.5 87.8h0M207.6 51.5h0M234.0 108.7h0M256.4 115.0h0M250.8 103.0h0M185.0 48.9h0M253.0 16.1h0M211.6 39.5h0M165.8 42.0h0M245.3 51.8h0M166.6 34.9h0M247.7 109.9h0M182.7 95.0h0M244.5 67.2h0M170.7 112.5h0M201.8 35.1h0M223.7 29.6h0M223.3 38.4h0M225.7 65.0h0M158.3 58.2h0M239.3 59.1h0M178.1 82.4h0M231.4 45.0h0M212.6 102.6h0M185.2 103.5h0M198.4 23.6h0M255.9 85.7h0M236.3 78.2h0M241.9 92.1h0M246.5 94.3h0M219.9 111.2h0M178.6 111.9h0M215.1 51.2h0M214.2 66.9h0M177.0 31.3h0M219.1 26.3h0M237.6 55.2h0M221.2 72.3h0M244.3 36.3h0M254.0 86.8h0M239.1 19.3h0M195.3 72.7h0M185.7 93.4h0M174.1 48.6h0M167.0 106.2h0M214.9 107.1h0M160.6 44.2h0M206.5 95.7h0M246.7 32.3h0M162.8 63.5h0M250.5 55.6h0M187.1 49.8h0M246.6 97.3h0M229.0 33.7h0M230.2 27.2h0M214.4 78.2h0M183.4 53.7h0M188.7 66.4h0M244.2 75.4h0M216.2 114.5h0M236.3 103.9h0M216.6 52.7h0M205.2 24.9h0M182.8 42.9h0M214.9 33.1h0M214.2 90.3h0M154.0 60.7h0M170.2 57.0h0M202.3 95.4h0M217.1 20.5h0M185.1 89.7h0M247.7 22.7h0M183.2 101.4h0M252.0 18.1h0" stroke="#2f9a3e" stroke-width="1.0" stroke-linecap="round" opacity="0.3"/>
<path d="M219.4 100.9h0M219.3 83.2h0M241.9 44.5h0M184.7 62.0h0M231.9 98.4h0" stroke="#2f9a3e" stroke-width="2.0" stroke-linecap="round" opacity="0.5"/>
<path d="M159.8 56.5h0M223.4 48.9h0M201.1 85.6h0M218.9 107.6h0M224.6 112.5h0M151.1 107.7h0M165.5 30.7h0M170.3 81.6h0M153.9 75.8h0M232.5 111.9h0M168.7 74.3h0M187.2 84.6h0M166.5 96.9h0M231.5 26.8h0M184.5 52.7h0" stroke="#2f9a3e" stroke-width="2.0" stroke-linecap="round" opacity="0.4"/>
<path d="M251.4 44.6h0M218.2 95.7h0M193.4 77.6h0M257.4 89.4h0M196.0 107.3h0M222.8 80.1h0M175.7 16.0h0M209.1 88.9h0M228.4 79.5h0M215.5 29.0h0M171.0 111.4h0M205.3 77.1h0M195.4 76.4h0M198.6 62.1h0" stroke="#2f9a3e" stroke-width="2.0" stroke-linecap="round" opacity="0.2"/>
<defs><filter id="rough" x="-5%" y="-5%" width="110%" height="110%" color-interpolation-filters="sRGB"><feTurbulence type="fractalNoise" baseFrequency="0.6" numOctaves="2" seed="4" result="t"/><feDisplacementMap in="SourceGraphic" in2="t" scale="4" xChannelSelector="R" yChannelSelector="G"/></filter></defs>
<defs><clipPath id="cpagfp"><rect x="149.2" y="15.8" width="108.6" height="102"/></clipPath></defs>
<g clip-path="url(#cpagfp)"><g filter="url(#rough)">
<path d="M202.0 87.9h0M200.0 85.7h0M205.4 85.5h0M200.5 84.2h0M201.5 85.4h0M200.2 86.1h0M195.5 88.1h0M203.1 91.9h0M202.3 86.5h0M205.0 87.5h0M201.9 87.1h0M197.9 85.3h0M201.6 91.1h0M205.1 82.5h0M203.0 85.1h0M204.5 89.8h0M202.1 91.5h0M206.7 86.1h0M205.8 88.4h0M206.7 87.3h0M206.5 89.0h0M209.8 93.8h0M204.4 89.4h0M209.3 85.2h0M209.6 83.9h0M207.0 85.6h0M212.6 85.1h0M206.6 92.3h0M212.4 81.9h0M208.2 85.2h0M209.3 90.8h0M213.3 91.7h0M210.1 82.8h0M212.1 91.3h0M208.1 86.8h0M213.0 87.8h0M218.4 85.1h0M216.4 92.5h0M213.1 87.5h0M211.9 86.0h0M214.3 89.1h0M217.1 84.9h0M215.6 91.6h0M208.6 91.7h0M216.2 92.0h0M218.7 82.7h0M216.5 93.1h0M217.7 89.3h0M212.9 84.2h0M215.7 88.8h0M203.7 88.1h0M204.0 83.9h0M198.4 86.9h0M202.0 88.4h0M201.2 90.8h0M202.6 86.7h0M197.1 84.8h0M204.5 88.1h0M206.2 86.8h0M207.1 84.5h0M197.2 89.4h0M204.8 90.2h0M205.6 92.2h0M207.2 89.6h0M205.6 83.8h0M206.2 89.3h0M209.0 83.4h0M204.6 85.2h0M208.7 89.4h0M206.2 90.9h0M208.0 91.7h0M201.9 89.6h0M208.6 88.9h0M209.8 89.5h0M207.4 85.2h0M206.4 86.3h0M209.7 86.6h0M212.3 93.1h0M209.9 85.6h0M209.0 84.3h0M214.5 89.3h0M212.8 83.1h0M211.1 85.8h0M214.3 85.5h0M218.6 87.8h0M215.0 85.8h0M215.6 86.2h0M214.4 89.9h0M212.7 85.0h0M214.6 86.7h0M217.2 82.1h0M215.7 82.9h0M217.0 84.4h0M210.4 86.2h0M215.8 85.1h0M212.4 81.8h0M216.1 86.5h0M212.7 82.4h0M217.7 89.6h0M221.0 91.3h0M202.4 85.5h0M202.5 82.3h0M203.1 85.5h0M204.9 81.1h0M200.9 85.2h0M202.0 84.5h0M201.8 82.7h0M203.3 85.1h0M203.3 85.1h0M200.6 84.2h0M202.5 85.9h0M207.3 85.5h0M202.7 84.1h0M205.1 81.4h0M210.1 89.9h0M205.6 90.1h0M207.1 88.8h0M210.2 83.0h0M209.3 84.6h0M203.4 87.3h0M205.7 89.6h0M206.9 87.3h0M206.7 84.5h0M205.0 83.8h0M209.3 86.3h0M204.8 85.0h0M213.1 87.6h0M209.7 90.4h0M210.3 83.5h0M209.7 89.5h0M212.4 92.6h0M210.0 88.9h0M214.4 86.0h0M204.8 85.6h0M208.1 84.4h0M211.1 91.4h0M211.8 93.0h0M212.5 90.9h0M215.2 93.8h0M208.8 92.3h0M212.9 89.3h0M213.0 84.8h0M208.5 91.6h0M213.1 86.9h0M216.4 86.0h0M217.4 89.9h0M220.3 88.9h0M213.6 92.5h0M214.6 90.5h0M209.2 92.0h0M200.3 82.4h0M203.2 90.3h0M200.4 92.4h0M198.6 86.8h0M199.6 86.0h0M202.5 84.9h0M196.4 86.8h0M200.4 87.7h0M195.7 86.8h0M202.2 85.4h0M202.9 89.2h0M199.8 84.9h0M195.3 93.4h0M202.5 84.4h0M200.0 88.7h0M204.6 89.9h0M200.2 88.5h0M205.5 93.4h0M203.0 90.3h0M197.1 91.8h0M200.4 93.5h0M199.3 90.8h0M203.5 93.7h0M203.1 98.0h0M200.9 92.6h0M195.2 91.5h0M200.3 92.8h0M196.1 91.6h0M201.3 94.7h0M205.4 95.1h0M196.6 95.6h0M199.2 95.7h0M199.7 97.5h0M195.8 95.7h0M198.8 95.8h0M196.1 96.3h0M194.7 98.1h0M198.3 97.7h0M196.0 94.2h0M197.7 96.5h0M196.9 97.4h0M197.1 98.5h0M193.1 98.1h0M198.5 100.1h0M190.5 98.5h0M192.7 98.4h0M195.6 100.0h0M193.6 96.6h0M197.4 95.0h0M189.9 97.9h0M196.4 93.2h0M205.7 82.1h0M198.3 83.3h0M201.5 86.8h0M196.7 81.7h0M200.4 86.4h0M195.3 85.5h0M198.8 89.5h0M195.8 89.7h0M197.4 85.0h0M199.5 87.0h0M196.1 93.2h0M198.1 89.3h0M201.4 89.1h0M196.9 86.3h0M198.2 89.2h0M196.8 87.8h0M195.4 87.5h0M191.8 87.9h0M195.3 85.7h0M193.3 88.8h0M199.3 89.0h0M195.3 93.4h0M191.7 89.1h0M194.1 92.3h0M191.7 91.9h0M195.8 94.3h0M196.6 94.2h0M193.2 94.1h0M193.4 91.5h0M196.2 93.0h0M187.7 90.7h0M194.2 90.7h0M192.8 92.6h0M196.6 87.4h0M188.1 95.5h0M188.3 92.1h0M193.7 96.9h0M189.4 93.5h0M190.6 88.9h0M188.8 95.7h0M187.3 96.6h0M189.5 93.1h0M190.3 96.5h0M188.2 94.6h0M186.5 99.2h0M187.4 96.3h0M186.5 97.6h0M186.4 94.0h0M189.6 91.8h0M199.9 88.5h0M200.4 85.4h0M200.8 90.9h0M194.6 90.5h0M199.4 86.7h0M200.6 88.5h0M200.3 83.4h0M196.8 87.7h0M196.6 87.7h0M197.6 92.1h0M192.5 89.7h0M194.4 89.3h0M195.1 85.3h0M195.1 87.7h0M195.6 89.2h0M196.9 89.9h0M194.9 87.2h0M190.6 86.4h0M199.4 88.4h0M191.8 87.6h0M192.0 86.6h0M189.7 95.5h0M190.2 88.9h0M192.0 86.1h0M195.1 91.5h0M188.8 90.4h0M190.6 92.2h0M190.8 87.2h0M187.3 94.9h0M191.4 89.4h0M191.4 89.4h0M192.7 93.4h0M186.4 88.6h0M192.4 93.6h0M190.6 93.0h0M184.6 96.5h0M191.6 91.3h0M192.6 93.1h0M192.3 94.0h0M184.3 88.6h0M187.3 92.1h0M183.6 90.8h0M185.6 89.3h0M184.8 94.7h0M187.8 91.2h0M186.9 93.0h0M182.8 90.1h0M181.8 89.1h0M184.3 88.0h0M184.8 92.7h0M178.2 91.6h0M178.6 86.6h0M179.8 87.9h0M185.3 96.0h0M184.0 92.6h0M184.3 91.3h0M182.0 91.8h0M181.4 98.4h0M181.0 89.3h0M183.1 88.4h0M184.9 92.4h0M181.0 94.0h0M179.2 91.5h0M175.5 96.5h0M174.7 92.0h0M195.5 81.9h0M203.2 84.4h0M200.7 88.8h0M200.1 84.5h0M200.7 85.0h0M194.0 84.0h0M190.1 85.7h0M194.8 84.1h0M196.1 84.6h0M198.1 81.9h0M195.7 81.0h0M198.6 80.5h0M197.1 84.8h0M196.6 82.6h0M190.9 80.6h0M193.7 82.1h0M189.5 82.2h0M191.3 84.0h0M194.0 82.3h0M196.4 81.4h0M190.1 81.7h0M188.7 77.2h0M192.0 82.0h0M195.7 82.3h0M192.2 84.2h0M191.0 80.1h0M187.1 83.6h0M185.6 79.2h0M190.0 77.6h0M185.5 78.0h0M186.3 82.0h0M184.0 81.5h0M185.5 84.0h0M184.1 83.8h0M191.5 81.2h0M184.5 77.9h0M183.2 75.0h0M188.0 78.3h0M189.9 78.6h0M192.8 77.1h0M188.5 73.8h0M183.4 82.2h0M187.9 76.3h0M187.7 75.3h0M186.3 74.7h0M180.6 77.4h0M182.6 77.3h0M183.8 80.2h0M188.5 74.6h0M185.9 81.7h0M177.7 79.9h0M180.1 76.5h0M182.9 78.0h0M181.1 77.9h0M181.4 77.1h0M174.9 77.7h0M179.0 77.4h0M178.6 76.3h0M177.0 77.0h0M178.8 78.7h0M175.9 75.5h0M177.2 80.8h0M181.2 76.0h0M177.2 77.4h0M178.2 75.4h0M196.0 85.2h0M199.6 83.1h0M194.5 87.6h0M198.2 87.7h0M197.7 88.4h0M201.9 84.3h0M195.5 88.0h0M201.6 86.4h0M199.3 86.3h0M199.3 86.7h0M197.1 81.1h0M203.8 78.1h0M196.0 85.4h0M199.4 85.3h0M202.7 77.8h0M197.0 87.8h0M203.2 82.3h0M202.6 82.6h0M200.2 77.8h0M199.3 77.9h0M199.2 76.7h0M198.8 81.3h0M204.0 79.3h0M196.5 81.4h0M202.1 86.0h0M202.0 74.8h0M199.2 73.7h0M200.9 78.2h0M200.9 74.5h0M203.7 77.6h0M199.6 79.0h0M200.1 78.2h0M202.6 81.7h0M201.0 74.2h0M201.1 75.0h0M198.1 75.5h0M200.8 74.4h0M201.8 75.1h0M199.8 77.1h0M205.3 74.9h0M205.0 74.1h0M203.4 77.3h0M205.7 72.4h0M202.6 74.4h0M203.8 73.0h0M208.1 69.7h0M204.0 71.5h0M211.0 72.7h0M204.1 76.9h0M208.6 75.7h0M206.7 73.3h0M205.5 70.4h0M206.5 69.5h0M205.7 73.9h0M202.8 71.5h0M202.1 68.7h0M211.8 68.8h0M204.4 69.2h0M208.7 70.0h0M205.7 69.7h0M208.5 71.8h0M206.4 66.8h0M205.7 64.9h0M212.9 70.1h0M210.9 70.9h0M204.9 69.4h0M205.0 67.9h0M208.6 67.7h0M213.0 64.7h0M206.3 67.7h0M202.1 83.7h0M198.5 87.0h0M199.2 84.0h0M199.8 85.4h0M198.4 89.0h0M201.5 82.6h0M200.5 81.0h0M202.4 82.4h0M200.3 84.7h0M199.9 86.8h0M203.7 85.1h0M201.3 84.9h0M209.0 78.8h0M196.5 86.0h0M201.6 81.7h0M204.4 77.4h0M201.3 74.2h0M199.7 79.6h0M200.3 77.2h0M200.7 83.7h0M200.1 81.2h0M201.6 79.0h0M204.5 80.6h0M201.1 80.2h0M197.8 82.3h0M202.9 80.8h0M202.6 75.4h0M204.5 76.7h0M203.7 75.7h0M197.2 76.3h0M199.1 73.5h0M199.1 74.7h0M205.0 75.6h0M199.7 75.4h0M200.6 75.9h0M200.3 75.6h0M208.9 72.7h0M197.6 68.5h0M204.4 75.2h0M196.4 74.8h0M200.3 70.7h0M202.4 71.4h0M202.0 77.3h0M204.5 73.6h0M202.7 73.4h0M200.8 73.5h0M198.8 67.4h0M203.6 69.2h0M204.9 72.3h0M199.1 71.4h0M205.9 67.4h0M201.4 68.6h0M203.3 69.6h0M198.6 71.8h0M200.4 68.8h0M205.5 70.8h0M203.3 68.3h0M200.9 67.4h0M200.7 65.4h0M201.9 67.0h0M200.8 86.7h0M200.1 89.7h0M201.1 88.5h0M198.1 86.0h0M200.6 88.0h0M209.8 85.3h0M202.7 85.2h0M204.9 82.6h0M201.1 84.9h0M204.7 90.0h0M204.6 84.2h0M209.7 86.0h0M207.6 85.6h0M204.1 87.1h0M205.3 85.7h0M204.0 87.6h0M203.8 87.8h0M206.3 83.0h0M206.2 87.0h0M205.5 88.3h0M207.2 77.8h0M206.4 87.9h0M208.6 87.9h0M212.3 85.5h0M206.4 84.0h0M210.6 81.1h0M207.5 78.9h0M210.0 87.8h0M208.3 86.1h0M206.8 83.9h0M207.2 85.5h0M208.6 85.4h0M212.2 81.5h0M211.5 84.6h0M209.9 85.9h0M213.7 85.2h0M213.9 79.8h0M211.6 83.9h0M210.1 77.8h0M207.0 83.3h0M217.6 84.6h0M218.4 80.1h0M213.2 83.8h0M214.7 81.3h0M216.5 76.5h0M217.4 76.9h0M215.8 82.1h0M212.6 79.3h0M214.4 79.4h0M217.8 76.9h0M210.8 80.8h0M215.2 75.5h0M221.1 79.4h0M211.8 82.4h0M219.8 78.3h0M217.0 79.5h0M221.0 76.7h0M224.7 77.7h0M219.2 77.5h0M220.5 80.8h0M213.7 89.0h0M213.2 85.1h0M209.0 84.8h0M214.5 90.4h0M209.7 85.3h0M213.1 89.9h0M214.5 89.8h0M212.9 92.3h0M214.2 86.5h0M218.3 90.2h0M215.0 92.7h0M216.0 91.6h0M221.1 89.9h0M219.8 89.9h0M220.5 89.3h0M215.3 87.1h0M216.1 88.1h0M210.3 88.5h0M216.2 86.9h0M221.1 89.5h0M214.1 87.3h0M215.6 91.4h0M214.4 88.1h0M218.3 89.4h0M220.3 89.4h0M218.2 91.0h0M219.9 93.1h0M222.1 93.0h0M222.8 91.0h0M220.9 91.6h0M201.7 86.2h0M203.2 87.4h0M204.1 92.1h0M205.0 83.8h0M204.5 83.4h0M207.2 83.5h0M204.4 88.2h0M206.8 85.7h0M206.4 84.7h0M206.8 86.5h0M210.4 82.4h0M211.6 90.1h0M213.4 87.2h0M210.4 86.6h0M212.4 88.3h0M206.8 87.2h0M204.1 89.2h0M204.5 89.3h0M210.3 89.2h0M199.6 86.5h0M206.2 84.1h0M203.8 96.6h0M203.9 87.6h0M203.5 90.1h0M204.4 91.3h0M204.6 90.3h0M202.7 89.3h0M208.5 96.5h0M206.1 95.6h0M209.0 97.2h0M207.7 84.3h0M202.7 87.7h0M207.5 86.8h0M205.7 86.4h0M209.0 88.0h0M208.3 83.8h0M204.1 80.1h0M207.5 82.7h0M207.8 82.8h0M209.7 81.9h0M208.6 81.9h0M207.2 83.6h0M210.1 86.9h0M208.1 86.6h0M207.1 86.2h0M208.1 85.9h0M212.3 83.3h0M207.9 90.2h0M212.9 85.5h0M211.5 90.4h0M209.4 89.9h0M210.3 84.7h0M211.1 83.6h0M213.6 82.7h0M209.2 86.9h0M204.8 89.2h0M207.0 87.4h0M208.5 87.0h0M211.9 87.5h0M210.9 87.3h0M212.6 80.2h0M212.8 85.7h0M211.8 90.6h0M214.1 82.0h0M212.1 82.6h0M213.4 85.5h0M215.6 86.4h0M217.1 84.5h0M213.1 86.3h0M212.8 90.8h0M219.3 87.0h0M217.5 89.1h0M217.2 89.1h0M212.0 84.0h0M210.5 91.8h0M215.1 94.1h0M214.3 89.6h0M213.2 86.8h0M215.4 86.9h0M218.7 92.9h0M214.7 90.4h0M211.7 87.2h0M219.4 88.2h0M211.5 84.2h0M209.0 82.6h0M210.4 85.4h0M216.0 87.8h0M218.0 83.5h0M217.9 85.9h0M214.7 85.2h0M217.8 83.2h0M215.7 86.0h0M218.2 85.3h0M204.4 91.6h0M199.9 84.4h0M207.6 87.2h0M206.2 85.9h0M204.2 84.6h0M211.1 86.9h0M208.1 86.0h0M205.9 86.2h0M206.2 81.8h0M209.3 78.7h0M205.3 83.3h0M203.9 82.9h0M206.7 86.1h0M204.7 85.3h0M205.8 87.1h0M204.9 89.0h0M210.4 85.5h0M207.7 91.6h0M208.2 90.5h0M208.1 92.0h0M211.0 89.3h0M214.6 89.6h0M211.4 90.0h0M208.9 92.7h0M213.3 93.5h0M211.7 83.5h0M214.2 93.1h0M210.1 89.1h0M209.2 89.3h0M216.2 86.4h0M213.7 84.6h0M210.9 87.9h0M215.0 92.0h0M213.6 87.9h0M214.7 84.2h0M218.0 88.8h0M220.2 82.8h0M222.7 85.5h0M212.9 84.4h0M210.8 87.0h0M214.2 89.6h0M216.0 94.0h0M217.4 89.6h0M215.7 90.9h0M216.4 89.2h0M216.9 91.5h0M211.5 89.8h0M217.3 92.0h0M215.2 91.6h0M223.5 93.5h0M218.3 96.0h0M199.6 88.1h0M200.0 87.0h0M200.2 90.8h0M199.1 83.5h0M199.1 92.6h0M199.0 94.7h0M199.7 88.2h0M198.6 90.7h0M200.8 84.4h0M197.0 92.6h0M198.9 92.8h0M198.5 97.0h0M195.4 94.1h0M195.6 93.6h0M195.4 92.9h0M199.2 101.1h0M202.9 102.1h0M193.9 97.6h0M197.9 94.8h0M198.7 94.6h0M200.9 97.2h0M203.2 98.8h0M201.1 99.8h0M205.3 99.7h0M192.7 91.0h0M196.1 98.3h0M191.0 101.2h0M190.5 104.1h0M194.9 97.5h0M191.3 97.5h0M192.2 97.2h0M196.0 101.0h0M190.8 100.0h0M197.9 86.7h0M197.8 88.1h0M195.2 84.8h0M195.8 87.0h0M198.1 93.1h0M200.2 84.9h0M198.8 93.0h0M201.8 88.1h0M197.2 93.6h0M200.9 92.7h0M201.7 92.7h0M201.0 90.4h0M195.6 92.1h0M194.4 87.2h0M191.8 89.7h0M194.2 88.5h0M196.5 97.0h0M196.7 97.1h0M197.9 90.7h0M194.6 98.4h0M193.6 97.5h0M195.2 97.7h0M201.6 95.6h0M194.9 95.8h0M195.5 96.5h0M199.0 97.5h0M193.9 98.1h0M189.8 95.7h0M194.8 96.1h0M191.8 93.4h0M189.8 95.1h0M191.5 97.0h0M195.1 92.5h0M193.8 94.9h0M192.3 94.9h0M192.9 99.6h0M189.8 101.4h0M187.9 93.5h0M185.4 101.1h0M182.4 92.3h0M189.5 92.7h0M188.2 96.4h0M184.7 102.2h0M185.1 95.4h0M188.0 95.5h0M181.7 100.7h0M183.2 100.0h0M181.9 100.0h0M191.4 95.7h0M193.9 89.3h0M196.3 93.2h0M191.7 89.4h0M190.9 88.0h0M191.1 89.9h0M189.0 90.6h0M190.0 92.1h0M190.8 92.9h0M188.4 90.4h0M182.5 83.0h0M185.4 90.3h0M190.8 88.5h0M188.7 90.3h0M189.2 88.4h0M185.1 89.5h0M189.0 90.4h0M185.3 87.9h0M182.9 88.4h0M183.4 90.0h0M185.4 90.2h0M177.1 90.1h0M185.6 89.4h0M184.7 89.6h0M184.5 88.1h0M181.9 89.6h0M183.2 90.4h0M175.4 93.9h0M180.8 91.0h0M179.5 95.6h0M176.7 91.6h0M175.5 92.1h0M178.4 93.4h0M181.6 88.7h0M179.5 89.8h0M188.6 87.3h0M181.8 89.7h0M179.2 92.6h0M185.4 93.8h0M180.7 97.5h0M179.5 92.9h0M175.2 95.3h0M183.3 95.1h0M177.1 93.0h0M184.1 94.1h0M175.0 93.9h0M176.4 88.9h0M175.4 94.5h0M179.5 98.5h0M181.9 92.4h0M178.6 91.4h0M179.5 93.6h0M179.2 92.4h0M180.7 93.4h0M173.1 95.0h0M183.4 98.3h0M177.8 93.4h0M171.6 91.5h0M179.5 94.1h0M173.7 97.5h0M179.4 89.8h0M175.1 90.6h0M179.5 96.0h0M175.9 92.3h0M174.8 91.9h0M172.6 94.5h0M191.5 90.4h0M189.9 75.5h0M192.3 82.3h0M193.6 86.6h0M189.9 81.7h0M189.7 77.4h0M191.8 85.0h0M192.1 82.6h0M191.7 83.1h0M190.0 87.1h0M187.5 84.8h0M188.9 82.5h0M186.5 88.7h0M184.9 84.6h0M190.5 85.9h0M188.7 88.8h0M185.9 90.0h0M188.3 90.3h0M190.9 83.9h0M189.7 82.1h0M191.0 80.1h0M191.0 84.4h0M184.4 82.7h0M187.5 79.8h0M188.2 85.7h0M188.4 79.4h0M183.3 80.4h0M187.2 79.7h0M183.6 82.4h0M181.0 81.0h0M182.2 79.9h0M187.0 78.1h0M181.4 89.4h0M185.7 77.2h0M181.9 80.9h0M180.8 76.2h0M181.2 82.5h0M183.3 81.4h0M187.6 79.0h0M187.7 78.6h0M186.4 77.8h0M188.0 79.4h0M182.2 77.9h0M184.1 74.6h0M182.8 74.6h0M184.1 75.9h0M182.4 79.3h0M187.9 73.0h0M190.3 73.0h0M185.7 76.0h0M183.8 76.0h0M185.9 71.1h0M184.5 72.9h0M181.6 71.5h0M182.0 75.4h0M184.9 78.3h0M182.0 83.4h0M188.8 79.7h0M181.5 78.7h0M181.7 78.8h0M178.7 73.5h0M190.2 77.9h0M181.3 75.0h0M183.5 76.2h0M181.9 72.1h0M184.2 74.0h0M183.1 74.9h0M185.1 76.5h0M178.6 71.9h0M184.2 71.8h0M185.7 72.0h0M182.4 70.0h0M193.8 81.9h0M198.5 80.9h0M201.1 82.1h0M197.7 79.5h0M202.6 81.3h0M194.6 80.8h0M195.6 79.4h0M192.0 81.3h0M193.1 79.1h0M192.8 75.1h0M192.3 78.4h0M196.7 81.2h0M194.8 73.3h0M193.4 73.8h0M194.8 79.4h0M203.0 74.9h0M202.2 74.7h0M202.4 76.4h0M207.1 78.3h0M201.1 73.7h0M206.1 70.7h0M206.7 76.4h0M204.5 72.3h0M201.9 74.4h0M203.5 70.2h0M204.7 71.0h0M203.5 71.7h0M200.9 74.1h0M201.7 77.9h0M205.6 77.2h0M202.1 72.2h0M206.1 77.7h0M205.8 78.6h0M209.8 74.2h0M207.1 73.2h0M208.7 78.6h0M213.9 75.7h0M212.1 76.5h0M207.1 75.7h0M210.3 74.2h0M211.1 76.6h0M212.0 73.6h0M210.4 72.5h0M215.4 71.6h0M212.9 74.1h0M203.3 70.7h0M210.7 75.0h0M205.5 74.5h0M210.2 68.4h0M203.1 70.4h0M203.7 71.3h0M209.2 71.2h0M200.0 75.6h0M203.2 68.8h0M210.1 68.5h0M199.9 71.6h0M205.7 62.3h0M202.6 77.5h0M203.3 70.2h0M207.3 71.5h0M210.0 69.4h0M209.7 70.1h0M205.2 65.5h0M208.5 68.9h0M209.8 69.3h0M206.9 65.0h0M207.7 67.4h0M208.5 69.0h0M208.9 69.2h0M209.6 62.9h0M211.7 65.8h0M208.1 66.8h0M210.5 69.6h0M208.1 71.8h0M205.5 67.6h0M201.0 67.7h0M206.3 69.9h0M204.3 70.1h0M202.3 62.7h0M203.2 65.0h0M201.1 65.8h0M202.4 66.3h0M205.5 67.6h0M201.5 68.2h0M210.2 69.6h0M201.3 66.8h0M211.2 71.5h0M211.0 70.7h0M206.8 69.6h0M211.5 66.1h0M201.2 65.7h0M205.8 67.4h0M209.8 64.8h0M205.9 67.5h0M208.6 68.3h0M207.4 65.3h0M206.6 68.0h0M211.2 65.3h0M209.4 61.2h0M203.8 62.2h0M204.7 64.0h0M207.0 60.0h0M201.3 81.8h0M202.4 80.0h0M201.3 81.0h0M201.6 83.3h0M202.2 78.7h0M197.7 80.5h0M198.6 80.6h0M198.7 82.7h0M194.8 80.0h0M202.0 76.9h0M197.7 79.0h0M198.9 74.7h0M204.9 81.1h0M207.6 82.7h0M201.2 82.1h0M202.8 80.9h0M206.4 79.6h0M199.3 81.7h0M201.6 78.5h0M199.2 80.5h0M197.5 80.1h0M198.7 80.8h0M201.2 76.2h0M200.8 77.3h0M204.0 73.7h0M197.3 78.1h0M205.6 72.9h0M204.9 77.6h0M201.2 81.5h0M201.7 81.3h0M207.4 79.3h0M206.3 81.3h0M202.3 77.0h0M206.8 78.9h0M205.9 74.0h0M202.1 76.0h0M198.9 79.4h0M202.6 78.8h0M199.5 77.6h0M201.4 77.6h0M201.2 73.8h0M201.5 70.1h0M204.9 76.5h0M206.1 76.3h0M203.4 70.7h0M206.9 70.9h0M203.9 73.2h0M200.8 75.1h0M209.0 73.2h0M205.8 73.5h0M203.5 72.2h0M207.9 66.8h0M207.9 71.5h0M206.0 72.3h0M201.4 74.9h0M205.4 72.9h0M198.5 75.5h0M202.0 73.4h0M203.5 67.9h0M205.0 71.6h0M210.7 65.8h0M206.4 69.3h0M207.4 72.3h0M204.1 65.6h0M203.0 68.9h0M204.7 70.5h0M202.3 89.0h0M199.6 89.0h0M209.2 84.9h0M205.5 86.5h0M204.0 86.4h0M203.0 83.1h0M205.7 86.7h0M204.9 81.9h0M206.9 79.1h0M206.1 81.0h0M204.9 83.3h0M203.9 82.7h0M208.5 81.2h0M206.4 82.3h0M210.3 80.0h0M212.5 84.7h0M210.2 76.9h0M205.2 76.8h0M203.9 87.4h0M204.7 85.2h0M202.3 87.6h0M207.3 82.5h0M211.6 83.9h0M206.9 87.1h0M208.5 83.1h0M206.1 85.8h0M209.9 85.7h0M209.6 82.9h0M211.9 84.3h0M213.6 83.6h0M213.4 88.8h0M214.9 83.2h0M216.4 87.9h0M212.8 86.1h0M206.8 82.7h0M210.9 85.3h0M209.8 87.2h0M209.7 86.2h0M210.4 82.0h0M212.7 82.1h0M216.2 83.1h0M218.2 83.7h0M215.0 84.3h0M218.9 85.0h0M216.3 80.2h0M215.2 85.1h0M219.6 83.6h0M220.0 81.2h0M208.1 89.9h0M215.4 85.5h0M213.9 78.9h0M216.3 82.0h0M213.0 84.4h0M215.3 85.1h0M213.5 76.6h0M214.6 74.7h0M216.4 80.5h0M210.3 75.0h0M218.9 81.4h0M214.1 74.4h0M218.3 81.5h0M212.3 83.4h0M217.9 85.6h0M217.2 82.8h0M217.8 80.4h0M216.6 78.1h0M215.2 79.6h0M213.4 79.7h0M212.8 80.2h0M217.8 79.4h0M216.0 75.9h0M216.2 76.4h0M214.0 70.9h0M215.1 73.6h0M219.9 77.4h0M217.2 71.1h0M210.3 77.7h0M218.8 74.4h0M216.5 79.0h0M214.4 81.8h0M216.3 82.7h0M218.4 79.6h0M218.1 74.5h0M219.7 82.1h0M215.8 74.2h0M217.9 78.7h0M219.4 81.3h0M218.6 77.4h0M219.5 76.9h0M217.1 70.7h0M219.8 70.1h0M220.9 80.8h0M221.0 69.8h0M224.0 75.2h0M226.1 73.5h0M224.7 74.0h0M216.9 76.2h0M214.1 80.3h0M218.3 79.1h0M223.6 78.5h0M219.9 79.1h0M222.5 76.7h0M218.0 75.9h0M221.0 81.3h0M219.3 76.5h0M222.4 74.6h0M217.2 74.0h0M219.1 77.8h0M224.7 75.0h0M220.2 72.2h0M222.6 73.9h0M214.5 78.1h0M218.6 76.3h0M221.9 82.2h0M218.4 85.8h0M220.1 78.3h0M219.9 80.7h0M222.1 75.5h0M223.6 80.3h0M223.1 81.6h0M227.1 84.7h0M224.0 84.9h0M220.4 84.6h0M222.7 78.0h0M224.1 83.5h0M227.6 79.5h0M172.1 92.5h0M201.4 89.1h0M200.1 90.4h0M180.7 102.8h0M207.9 90.9h0M157.8 78.5h0M203.9 97.6h0M190.7 70.6h0M209.8 90.7h0M196.3 101.7h0M217.0 86.9h0M200.5 89.9h0M240.5 81.6h0M184.1 115.1h0M167.9 106.8h0M200.5 85.4h0M195.3 91.7h0M176.7 92.2h0M193.3 88.1h0M177.5 68.6h0M192.7 98.3h0M174.3 88.7h0M158.4 68.5h0M209.4 104.1h0M231.3 62.7h0M191.8 85.5h0M204.2 114.8h0M188.7 82.1h0M197.9 92.4h0M212.4 76.7h0M194.8 98.3h0M209.4 69.4h0M200.5 88.8h0M194.0 86.8h0M203.4 100.1h0M199.2 92.6h0M191.2 101.1h0M197.7 99.7h0M207.2 101.2h0M191.1 104.2h0M198.0 87.6h0M191.8 91.1h0M199.4 89.0h0M200.6 94.4h0M203.1 76.6h0M199.7 90.0h0M196.0 98.8h0M228.9 89.4h0M185.9 76.9h0M168.1 116.8h0M151.4 82.0h0M201.2 89.1h0M195.0 94.8h0M184.8 76.2h0M182.8 110.4h0M206.5 40.4h0M188.4 73.4h0M200.0 90.1h0M200.7 90.5h0M204.3 82.9h0M212.6 90.3h0M216.3 78.3h0M181.1 101.8h0M156.9 75.2h0M200.4 86.5h0M204.8 97.0h0M184.1 105.9h0M209.6 96.5h0M151.4 109.2h0M194.7 67.9h0M207.6 93.3h0M176.7 76.9h0M178.9 67.9h0M184.4 99.7h0M202.3 113.6h0M186.9 91.7h0M172.5 58.8h0M205.1 84.6h0M168.6 85.6h0M219.6 81.5h0M193.4 91.3h0M169.0 89.1h0M199.6 90.5h0M198.2 86.3h0M200.7 90.9h0M184.1 97.2h0M205.7 100.8h0M174.6 82.4h0M202.6 90.3h0M202.4 93.1h0M200.6 90.0h0M231.5 68.1h0M196.1 92.5h0M198.1 90.9h0M199.8 92.2h0M206.9 82.8h0M209.0 92.2h0M169.8 64.1h0M209.2 99.7h0M221.0 80.8h0M188.9 85.7h0M200.2 89.6h0M196.5 91.5h0M209.2 83.3h0M195.9 84.1h0M195.4 92.2h0M206.1 86.7h0M205.7 96.2h0M200.1 85.1h0M192.8 87.0h0M210.7 75.1h0M200.3 90.1h0M209.0 115.7h0M197.0 68.6h0M202.6 108.5h0M199.2 95.3h0M190.9 107.8h0M180.1 74.5h0M195.0 86.0h0M195.8 86.3h0M181.5 98.7h0M203.2 90.8h0M190.5 96.4h0M204.7 93.4h0M197.9 105.6h0M179.5 90.9h0M205.9 103.3h0M204.4 105.9h0M224.2 94.0h0M197.4 94.5h0M191.9 97.6h0M208.2 81.9h0M184.3 73.7h0M179.6 91.8h0M201.4 94.0h0M183.3 109.2h0M175.5 97.2h0M230.4 89.1h0M164.6 99.6h0M184.9 54.3h0M164.9 70.1h0M200.3 88.6h0M194.0 97.6h0M200.5 89.4h0M195.3 92.9h0M193.9 101.6h0M158.5 112.9h0M207.6 99.0h0M213.0 67.0h0M196.8 84.5h0M218.6 89.8h0M155.6 83.9h0M175.5 107.4h0M207.6 102.8h0M194.0 67.9h0M206.4 88.5h0M180.4 84.4h0M203.8 85.8h0M208.9 84.2h0M180.1 98.8h0M200.8 90.5h0M203.1 84.6h0M196.2 85.4h0M187.7 102.9h0M190.1 90.9h0M223.9 100.8h0M235.3 98.3h0M198.3 89.0h0M196.7 88.8h0M178.1 78.5h0M236.5 73.6h0M191.1 92.3h0M190.9 113.8h0M191.8 87.1h0M180.9 89.1h0M196.4 83.1h0M188.9 72.6h0M239.5 77.1h0M208.5 85.9h0M210.3 85.4h0M226.2 66.9h0M181.6 100.9h0M236.2 91.9h0M190.0 98.5h0M201.2 107.3h0M188.1 102.7h0M217.5 72.7h0M215.3 88.3h0M210.3 103.4h0M200.6 89.6h0M199.6 75.6h0M221.9 88.5h0M210.7 83.6h0M185.6 95.3h0M193.2 100.1h0M153.1 87.8h0M222.1 82.3h0M205.9 86.1h0M202.3 92.4h0M185.0 96.2h0M171.3 102.1h0M215.2 90.9h0M194.0 91.9h0M200.6 79.5h0M173.0 78.5h0M200.3 89.3h0M191.4 80.0h0M208.0 60.5h0M234.5 62.9h0M213.0 114.7h0M182.6 98.1h0M195.2 88.6h0M234.8 86.3h0M249.1 91.2h0M209.2 84.4h0M215.5 91.8h0M202.5 35.5h0M155.1 116.2h0M179.2 97.2h0M255.1 112.1h0M206.2 90.6h0M231.4 108.0h0M209.0 91.0h0M201.5 106.7h0M238.9 72.4h0M201.5 86.9h0M167.8 81.5h0M194.1 72.9h0M160.7 105.4h0M203.1 81.2h0M200.1 90.1h0M202.2 96.4h0M193.9 82.6h0M202.3 79.0h0M161.7 93.6h0M203.8 85.8h0M238.5 91.9h0M200.3 101.4h0M184.3 84.6h0M203.6 96.4h0M195.8 99.9h0M200.6 90.0h0M181.0 84.3h0M243.7 107.6h0M192.2 96.9h0M204.7 99.7h0M191.9 93.1h0M208.2 94.0h0M250.3 103.7h0M193.8 98.5h0M193.6 82.7h0M204.2 92.3h0M227.3 77.3h0M160.2 110.6h0M164.5 46.3h0M186.2 95.0h0M197.8 88.9h0M179.6 83.5h0M216.0 78.9h0M205.6 70.1h0M196.2 80.2h0M164.6 75.0h0M189.6 109.2h0M213.1 84.6h0M192.6 90.6h0M220.7 102.1h0M202.1 106.9h0M191.6 87.8h0M189.1 91.6h0M189.8 83.8h0M205.4 83.4h0M200.4 88.6h0M193.2 88.2h0M187.0 101.6h0M200.9 105.6h0M199.9 95.6h0M197.2 56.9h0M211.4 89.8h0M171.4 71.7h0M166.3 71.1h0M183.2 83.7h0M193.5 99.8h0M185.0 54.0h0M215.4 78.7h0M214.0 84.6h0M203.6 108.9h0M203.7 94.9h0M240.7 92.8h0M159.0 115.0h0M236.8 86.7h0M195.7 88.1h0M207.5 103.7h0M190.4 83.5h0M155.9 74.0h0M201.1 88.2h0M198.5 116.2h0M210.2 90.0h0M170.8 70.0h0M200.5 90.4h0M179.4 87.1h0M188.0 91.6h0M189.9 83.5h0M204.5 87.7h0M188.1 104.7h0M191.8 98.3h0M216.3 68.9h0M209.9 91.1h0M239.8 87.5h0M196.8 71.3h0M194.7 101.8h0M224.2 91.5h0M182.5 87.8h0M165.1 104.6h0M183.2 98.9h0M192.0 71.9h0M245.0 83.6h0M174.7 77.5h0M200.2 90.5h0M222.6 102.9h0M166.3 65.1h0M167.3 81.8h0M238.8 66.5h0M224.0 88.4h0M187.1 96.9h0M194.6 89.9h0M203.2 90.2h0M202.4 91.1h0M197.0 92.2h0M213.0 85.6h0M200.4 85.5h0M151.1 63.8h0M198.6 80.1h0M167.5 66.1h0M227.5 92.7h0M215.8 81.6h0M195.5 100.1h0M207.3 86.8h0M221.8 95.0h0M223.6 106.5h0M210.0 92.4h0M200.9 90.8h0M211.0 79.8h0M214.3 101.5h0M200.9 83.7h0M200.4 90.1h0M184.8 99.7h0M178.5 83.6h0M184.8 79.7h0M199.8 89.3h0M218.1 88.9h0M194.5 83.0h0M200.0 91.2h0M200.6 89.7h0M210.3 81.8h0M151.4 87.0h0M201.7 84.8h0M192.9 75.3h0M198.2 91.0h0M182.5 67.1h0M175.0 83.5h0M197.5 93.2h0M225.8 79.0h0M201.1 90.4h0M211.2 104.1h0M200.2 89.7h0M197.8 88.3h0M200.1 89.9h0M195.9 92.4h0M202.3 90.6h0M179.6 67.5h0M185.4 63.8h0M198.7 89.8h0M164.5 91.9h0M206.7 86.2h0M208.6 93.8h0M200.4 91.2h0M210.0 83.9h0M212.5 82.0h0M176.4 54.7h0M215.5 69.2h0M199.3 91.8h0M213.0 81.7h0M206.2 93.6h0M209.3 93.4h0M206.1 116.9h0M223.4 102.8h0M190.6 89.0h0M201.2 96.7h0M247.7 96.6h0M171.1 85.8h0M221.4 91.4h0M215.5 89.8h0M200.2 89.9h0M192.4 91.9h0M169.8 62.3h0M195.7 77.3h0M192.6 71.2h0M182.7 90.1h0M198.4 90.1h0M225.6 95.1h0M173.0 61.0h0M201.0 71.1h0M196.5 90.1h0M194.6 100.9h0M239.5 103.2h0M186.6 87.6h0M200.0 95.3h0M181.9 53.0h0M179.4 70.2h0M196.8 86.2h0M223.8 60.3h0M202.3 89.1h0M202.2 87.8h0M197.5 89.7h0M190.2 79.0h0M191.6 68.5h0M200.8 87.5h0M200.6 87.5h0M198.3 89.8h0M200.4 89.5h0M204.0 68.6h0M201.8 94.0h0M208.0 83.0h0M245.5 105.0h0M204.4 100.4h0M184.3 87.3h0M205.5 89.0h0M237.6 90.1h0M239.9 64.2h0M194.2 85.0h0M240.9 56.8h0M200.2 90.2h0M209.6 92.7h0M199.2 95.8h0M208.0 105.4h0M202.6 94.4h0M200.1 89.8h0M229.1 86.4h0M201.8 109.4h0M213.2 72.6h0M189.0 80.2h0M229.8 85.4h0M210.6 116.4h0M194.9 80.6h0M201.7 90.9h0M235.2 101.9h0M219.7 76.8h0M198.3 98.6h0M200.5 86.2h0M184.5 84.9h0M213.4 100.9h0M172.4 86.1h0M190.7 93.9h0M250.0 89.4h0M182.6 96.8h0M200.3 91.3h0M219.6 87.2h0M223.1 71.2h0M196.0 78.6h0M198.0 91.1h0M188.8 81.4h0M200.8 103.1h0M225.1 102.6h0M179.9 75.9h0M199.6 91.0h0M215.1 76.9h0M192.1 83.7h0M173.0 91.2h0" stroke="#2e9e40" stroke-width="1.5" stroke-linecap="round" opacity="0.6"/>
<g transform="translate(200,86) scale(0.62,0.55)" fill="none" stroke="#33a646" stroke-linecap="round" stroke-linejoin="round" opacity="0.7"><path d="M2 4l5 2l6 0l6 0l6 1l6-1l6 1l6-1l6 2l6-1M5 2l5 3l6 2l6 0l6 1l5 0l6-1l5-4l5-4l5-2M4-5l4 4l6 3l6 0l6 0l6 1l5 3l4 4l6 3l4 4M1 1l0 6l0 6l0 6l-2 6l-3 5l-5 3l-3 6l-4 4l-5 4M-1-1l-4 4l-2 6l-5 4l-4 4l-4 5l-4 4l-5 3l-4 5l-3 5M-3 6l-6 2l-5 2l-6 1l-6 0l-6 2l-5 4l-4 4l-6 1l-6-1l-6 1l-6 1l-6 0M-5-6l-6-1l-5-3l-6-1l-5-4l-6-1l-4-4l-6-3l-5-3l-5-2l-6-1l-6 1l-6 1M3 1l-1-5l-2-6l1-6l-1-6l2-6l2-5l4-5l4-4l5-4l3-6l2-5l0-6l1-6M2-2l4-5l1-6l2-6l-1-6l-2-5l0-6l0-6l1-6l0-6l1-6l0-6M3 2l6-2l6-1l5-2l6-1l6-2l6-2l4-4l4-4l4-5l5-3l5-3" stroke-width="4"/><path d="M37 7l5 3l6 0l6 0l6 1M49 8l3 6l3 4l4 5l6 3M10 5l5-3l5-2l6 2l5 3M16 7l1 5l1 6l1 6l1 6M22 7l4-5l2-6l2-5M28 8l3-4l4-5l3-5M33 8l4-5l4-5l2-5l5-4M39 7l5 3l5 3l6 3M44 3l2-5l4-5l5-3M14 2l3-5l4-5l4-5M26 2l3 5l3 6l4 4l5 2M41 10l6 0l6 0l6-2M47 13l5 3l4 4l4 4M1 7l-1 6l-2 6l-3 5M-4 30l2 5l4 5l1 6M-16 43l-6 1l-6 1M-5 3l2 6l2 5l1 6M-16 17l0 6l0 6l1 6l1 6M-24 26l0 6l0 6M-36 39l-6 1l-6 2l-4 3M-20 11l-6-2l-6 0l-6 0M-37 17l-6-2l-5 2l-6 3l-4 3l-6 2l-6 0M-53 21l-5 3l-4 5l-5 3l-5 3M-65 23l-3 5l-1 6l-4 4M-71 23l-5 3M-22-11l-5 2l-5 4l-4 5l-3 5l-3 5M-33-16l-5 3l-6-1l-6 0l-6-2l-5-4M-43-23l-3-5l-2-5l-1-6l-2-6l0-6M-48-26l-3-5l-2-5l-1-6l-1-6l-1-6M0-22l-5-2l-5-3l-5-4l-5-2M8-38l0-6l2-6l2-5M12-42l5 3l6 1l6 0l6-1l6-2M17-46l2-6l2-6l-1-6M20-52l3-4l3-6l1-5l2-6M22-57l-5-4l-4-4l-2-6M22-63l4-5l3-5M23-69l-1-6l-2-6M7-13l-2-6l-3-4l-1-6M9-19l-4-4l-3-5l0-6l-1-6M8-25l4-4l4-5M6-30l3-5l5-4l3-5l2-6l2-5M7-48l5-3l3-6l0-6M15-1l1-6l3-5l4-5l3-5l1-6M20-3l6 0l6 1l6 1l6 0M32-6l6 1l6-2l5-2l5-4M42-12l1-6l1-5l2-6M46-16l2-6l1-6l3-5l4-4l3-5M50-21l4-5l4-4l4-4l5-4l4-4M55-24l4-4l4-5l5-3l5-4M60-27l5 4l5 2l5 3l6 2" stroke-width="2.4"/></g>
<ellipse cx="200.5" cy="83" rx="6" ry="7.5" fill="#43b556"/>
<ellipse cx="200.5" cy="83" rx="8.5" ry="9.5" fill="#3aa84c" opacity="0.5"/>
</g></g>
<ellipse cx="227.6" cy="113.5" rx="3.5" ry="4" fill="#3fae50"/>
<text x="151" y="27.4" font-size="13" font-weight="bold" fill="#4cc45e">GFP</text>
<text x="241.5" y="25.8" font-size="10.5" font-weight="bold" fill="#fff" text-anchor="middle">20µm</text>
<rect x="230.9" y="30.5" width="21.9" height="1.8" fill="#fff"/>
<path d="M223.0 202.5h0M158.0 207.8h0M220.0 215.5h0M154.0 203.9h0M250.7 216.0h0M229.2 208.9h0M176.7 218.2h0M167.5 221.2h0M157.4 213.4h0M238.6 201.1h0M177.4 209.4h0M150.7 213.7h0M254.5 213.4h0M211.5 212.7h0M158.3 222.8h0M194.8 203.1h0M184.9 219.6h0M185.9 213.2h0M207.7 226.6h0" stroke="#2f9a3e" stroke-width="1.0" stroke-linecap="round" opacity="0.5"/>
<path d="M239.3 213.9h0M212.1 200.6h0M156.9 204.2h0M205.7 224.7h0M153.0 216.0h0M166.3 213.4h0M177.5 212.9h0M233.5 202.1h0M208.7 206.6h0M243.0 217.7h0M166.4 221.3h0M183.7 205.4h0M247.9 205.5h0M199.9 214.0h0M234.5 206.0h0M187.5 220.1h0M200.0 212.2h0M162.9 200.3h0M181.2 205.1h0M185.7 213.1h0M187.8 225.7h0M172.6 216.8h0M252.3 218.3h0M206.1 218.6h0" stroke="#2f9a3e" stroke-width="1.0" stroke-linecap="round" opacity="0.3"/>
<path d="M206.5 202.9h0M238.5 215.2h0M153.6 214.2h0M172.8 216.7h0M206.8 212.8h0M181.5 205.7h0M182.1 200.1h0M251.2 216.8h0M234.6 216.6h0M251.8 217.6h0M231.7 219.4h0M162.7 216.2h0M210.4 221.3h0M157.3 226.5h0M230.5 210.0h0M189.8 216.8h0M194.5 218.3h0M159.0 201.4h0M217.4 215.4h0M208.6 220.9h0M162.8 218.8h0M253.4 210.0h0M243.3 221.2h0M203.3 219.0h0" stroke="#2f9a3e" stroke-width="1.0" stroke-linecap="round" opacity="0.4"/>
<path d="M180.2 210.2h0M216.9 207.6h0M210.3 201.5h0M242.0 225.2h0M235.8 225.6h0M164.4 217.5h0M235.1 210.7h0M231.4 221.7h0" stroke="#2f9a3e" stroke-width="2.0" stroke-linecap="round" opacity="0.4"/>
<path d="M252.7 226.2h0M150.9 217.7h0M183.9 205.2h0M187.1 214.8h0M154.6 222.3h0M235.9 216.9h0" stroke="#2f9a3e" stroke-width="2.0" stroke-linecap="round" opacity="0.2"/>
<path d="M242.1 219.7h0M158.0 214.8h0M188.7 203.9h0M199.7 211.0h0M216.3 223.5h0M241.3 216.7h0M161.4 220.7h0" stroke="#2f9a3e" stroke-width="2.0" stroke-linecap="round" opacity="0.3"/>
<path d="M226.9 218.9h0M219.5 209.2h0M240.9 218.2h0M157.3 212.1h0M168.7 219.2h0M199.2 214.5h0M206.2 206.7h0M195.0 224.2h0M214.1 226.2h0M175.8 212.3h0M163.7 217.9h0M234.3 213.6h0" stroke="#2f9a3e" stroke-width="1.0" stroke-linecap="round" opacity="0.6"/>
<path d="M209.6 200.1h0M167.7 206.3h0M160.6 226.0h0M219.7 216.4h0M165.1 202.6h0M208.6 220.0h0" stroke="#2f9a3e" stroke-width="1.0" stroke-linecap="round" opacity="0.2"/>
<path d="M237.9 219.0h0M230.9 216.7h0M174.1 211.8h0M227.7 222.0h0M177.0 217.7h0M221.8 201.7h0M208.4 225.9h0M162.1 206.4h0M180.3 212.1h0M161.5 209.6h0" stroke="#2f9a3e" stroke-width="2.0" stroke-linecap="round" opacity="0.5"/>
<path d="M174.3 203.1h0M221.9 208.6h0M210.0 224.4h0M254.5 225.6h0" stroke="#2f9a3e" stroke-width="2.0" stroke-linecap="round" opacity="0.6"/>
<g clip-path="url(#cpa3d)"><g filter="url(#rough)"><use href="#R" transform="translate(204,185) scale(1.22,1.0)"/></g></g>
<text x="150.5" y="139" font-size="12.4" font-weight="bold" fill="#4cc45e">3D reconstruction</text>
<defs><filter id="ysp1" x="0" y="0" width="100%" height="100%" color-interpolation-filters="sRGB"><feTurbulence type="fractalNoise" baseFrequency="0.5" numOctaves="2" seed="3"/><feColorMatrix type="matrix" values="0 0 0 0 0.85 0 0 0 0 0.85 0 0 0 0 0.15 10 0 0 0 -6.6"/></filter><filter id="ysp2" x="0" y="0" width="100%" height="100%" color-interpolation-filters="sRGB"><feTurbulence type="fractalNoise" baseFrequency="0.5" numOctaves="2" seed="5"/><feColorMatrix type="matrix" values="0 0 0 0 0.85 0 0 0 0 0.85 0 0 0 0 0.15 10 0 0 0 -5.9"/></filter><filter id="ysp3" x="0" y="0" width="100%" height="100%" color-interpolation-filters="sRGB"><feTurbulence type="fractalNoise" baseFrequency="0.32" numOctaves="2" seed="7"/><feColorMatrix type="matrix" values="0 0 0 0 0.9 0 0 0 0 0.9 0 0 0 0 0.2 8 0 0 0 -4.5"/></filter><filter id="ysp4" x="0" y="0" width="100%" height="100%" color-interpolation-filters="sRGB"><feTurbulence type="fractalNoise" baseFrequency="0.45" numOctaves="2" seed="9"/><feColorMatrix type="matrix" values="0 0 0 0 0.9 0 0 0 0 0.9 0 0 0 0 0.2 10 0 0 0 -6.0"/></filter><filter id="yhz1" x="0" y="0" width="100%" height="100%" color-interpolation-filters="sRGB"><feTurbulence type="fractalNoise" baseFrequency="0.12" numOctaves="3" seed="12"/><feColorMatrix type="matrix" values="0 0 0 0 0.8 0 0 0 0 0.8 0 0 0 0 0.1 1.6 0 0 0 -0.6"/></filter><filter id="yhz2" x="0" y="0" width="100%" height="100%" color-interpolation-filters="sRGB"><feTurbulence type="fractalNoise" baseFrequency="0.12" numOctaves="3" seed="14"/><feColorMatrix type="matrix" values="0 0 0 0 0.8 0 0 0 0 0.8 0 0 0 0 0.1 1.8 0 0 0 -0.55"/></filter><filter id="yhz3" x="0" y="0" width="100%" height="100%" color-interpolation-filters="sRGB"><feTurbulence type="fractalNoise" baseFrequency="0.35" numOctaves="2" seed="16"/><feColorMatrix type="matrix" values="0 0 0 0 0.8 0 0 0 0 0.8 0 0 0 0 0.12 2.0 0 0 0 -0.75"/></filter><filter id="rough3" x="-5%" y="-5%" width="110%" height="110%" color-interpolation-filters="sRGB"><feTurbulence type="fractalNoise" baseFrequency="0.7" numOctaves="2" seed="9" result="t"/><feDisplacementMap in="SourceGraphic" in2="t" scale="2.5" xChannelSelector="R" yChannelSelector="G"/></filter><linearGradient id="dk1" x1="0" y1="0" x2="0" y2="1"><stop offset="0" stop-color="#000" stop-opacity="0"/><stop offset="0.35" stop-color="#000" stop-opacity="0.1"/><stop offset="0.5" stop-color="#000" stop-opacity="0.45"/><stop offset="1" stop-color="#000" stop-opacity="0.5"/></linearGradient></defs>
<rect x="33.7" y="477.5" width="98.6" height="99.0" fill="#000"/>
<rect x="137.1" y="477.5" width="98.3" height="99.0" fill="#000"/>
<rect x="255.3" y="477.5" width="98.6" height="99.0" fill="#000"/>
<rect x="357.5" y="477.5" width="98.9" height="99.0" fill="#000"/>
<rect x="33.7" y="587" width="98.6" height="98.1" fill="#000"/>
<rect x="137.1" y="587" width="98.3" height="98.1" fill="#000"/>
<rect x="255.3" y="587" width="98.6" height="97.8" fill="#000"/>
<rect x="357.5" y="587" width="98.9" height="97.8" fill="#000"/>
<defs><clipPath id="cpn1"><rect x="33.7" y="477.5" width="98.6" height="99.0"/></clipPath><clipPath id="cpn2"><rect x="137.1" y="477.5" width="98.3" height="99.0"/></clipPath><clipPath id="cps1"><rect x="255.3" y="477.5" width="98.6" height="99.0"/></clipPath><clipPath id="cps2"><rect x="357.5" y="477.5" width="98.9" height="99.0"/></clipPath><clipPath id="cpc1"><rect x="33.7" y="587" width="98.6" height="98.1"/></clipPath><clipPath id="cpc2"><rect x="137.1" y="587" width="98.3" height="98.1"/></clipPath><clipPath id="cpd1"><rect x="255.3" y="587" width="98.6" height="97.8"/></clipPath><clipPath id="cpd2"><rect x="357.5" y="587" width="98.9" height="97.8"/></clipPath></defs>
<rect x="33.7" y="477.5" width="98.6" height="99.0" filter="url(#ysp1)" opacity="0.22"/>
<rect x="137.1" y="477.5" width="98.3" height="99.0" filter="url(#ysp1)" opacity="0.28"/>
<g clip-path="url(#cpn2)"><g filter="url(#rough3)">
<g transform="translate(164.9,541) scale(0.5)" fill="none" stroke="#e6e33a" stroke-linecap="round" opacity="1.0"><path d="M-4 6l8 1l8 0l8 0l8-1l8-3l8-2l7-1M4 0l8 3l7 4l6 4l7 5l6 5l6 5l6 6M2-2l5 7l4 6l6 6l6 5l5 6M-1-5l-5 6l-6 6l-5 6l-5 6l-5 6M5 2l-7 4l-7 4l-7 4l-7 3l-7 5l-7 3l-8 1M5 0l-8-2l-7-3l-8-2l-7-3l-8-3M5-4l-5-7l-5-6l-5-7l-5-5l-5-7l-5-6M-3 6l2-8l3-8l3-7l3-8l0-7l-1-8l-2-8M4 4l5-6l7-5l7-3l8-2l7-2" stroke-width="2.0"/><path d="M4 7l6-6l6-5M20 7l7 4l6 5M28 6l7 4l6 5M51 0l7-4M44 26l-1 8l0 8M28 28l8 0l8-1M-6 1l-8 2l-8 1M-12 7l-8-1l-8 1M-17 13l-1 8l1 8M-16 14l-7 1l-8 0l-8 2M-23 17l-3 8l-5 6M-3-2l-8 2l-7 3M-10-5l-6 6l-5 6M-25-10l-8 2l-8 3M-33-13l-3-8l-4-6M-15-29l-8 0l-8 2l-8 2M8-32l7-4l7-5M38-14l7 4l6 5" stroke-width="1.2"/><path d="M23 22l-4 4M38-14l1 5" stroke-width="0.8"/></g>
<g transform="translate(201.7,505.7) scale(0.5)" fill="none" stroke="#e6e33a" stroke-linecap="round" opacity="1.0"><path d="M1-4l8-2l8-1l8-1l8-1M5 4l4 7l3 7l3 8l4 7M1-1l-4 7l-4 7l-5 7l-3 7M1 0l-7 0l-8-3l-8-1l-8 1M0 4l-6-6l-7-4l-7-4l-6-5M4-5l7-5l6-5l7-4" stroke-width="2.4"/><path d="M33-9M15 26l-4 7M-14-3l-1-8l-2-8M-22-4l-6-6l-6-4M-30-3l-7-4M-13-6l1-8l-1-8M-26-15l-8-1M24-19l7 5l6 5" stroke-width="1.4"/></g>
<g transform="translate(150,500) scale(0.5)" fill="none" stroke="#e6e33a" stroke-linecap="round" opacity="0.5"><path d="M-1 3l8 1l8 0l8 2l8 1M2-3l-1 8l1 8l-1 8M0-4l-8 1l-8 3l-6 5M1 3l2-7l2-8l3-7" stroke-width="1.2"/><path d="M23 6l5-6l6-5M1 5l6 6l6 5" stroke-width="0.8"/></g>
</g></g>
<rect x="255.3" y="477.5" width="98.6" height="99.0" filter="url(#yhz3)" opacity="0.55"/>
<rect x="255.3" y="477.5" width="98.6" height="99.0" filter="url(#ysp3)" opacity="0.6"/>
<rect x="255.3" y="477.5" width="98.6" height="99.0" fill="url(#dk1)"/>
<rect x="357.5" y="477.5" width="98.9" height="99.0" filter="url(#ysp2)" opacity="0.6"/>
<g clip-path="url(#cps2)"><g filter="url(#rough3)">
<g transform="translate(365.6,479.9) scale(0.5)" fill="none" stroke="#e6e33a" stroke-linecap="round" opacity="0.99"><path d="M-4 3l6 1l6-1l6 1l5 3l6 2M6-3l2 5l1 6l1 6l2 6l4 5l5 3M-6 6l0 6l-2 6l-3 5l-1 6l-3 5l-2 5l-1 6M-1 1l-6-2l-6 0l-6-2l-5-2l-4-5M0-5l-1-6l-2-5l-2-6l-3-5l-4-4M-6-6l4-4l5-4l5-2l6-1l6-2" stroke-width="2.6"/><path d="M2 4l3 5l4 4M8 3l6-3l6-1M14 4l4-4l5-3M25 9l5 4l5 3M8 2l6 1l6-2M12 20l3 5l3 6l0 6M16 25l0 6l2 5M-6 12l-1 6l-4 5M-8 18l4 4l2 6l2 6M-12 29l5 3l6 3M-17 39l-6 2l-6 1M-18 45M-19-3l-5 2l-6 3M-28-10l-6-2l-5-3M3-14l5-4l5-2M8-16l4-5l4-4M14-17l4-5l4-4M20-19l6 0l6-2" stroke-width="1.5"/><path d="M19 7l3-3M10 14l8 1M18 37l-4 1M16 25l5-5M-2 28l6-3M-11 23l2 4M-1 35l5-1M-13-1l1-7M-8-27l-7 3M-12-31l-4 3" stroke-width="0.9"/></g>
<g transform="translate(358.9,509.9) scale(0.5)" fill="none" stroke="#e6e33a" stroke-linecap="round" opacity="0.9"><path d="M-2-6l6-1l5-3l6-1l6-1l6 1l5 1M5-6l3 6l3 5l1 6l0 6l-2 6l-1 6l-2 5M4-3l-3 6l-3 5l-2 5l-1 6l-1 6l0 6M2 2l-5 3l-3 5l-2 6l-4 5l-4 3l-4 6l-3 4l-3 6M3-3l-2-6l-2-6l0-6l-2-5l-3-5l-5-5M3 3l5-3l5-4l2-6l1-6l0-6l1-6l1-6" stroke-width="2.6"/><path d="M4-7l5 4l3 5M9-10l1-6l0-6M21-12l5 3l4 4M27-11l5-4l4-4M32-10l5 3l4 5M12 11l-3 5l-3 5M12 17l3 5l2 6l4 4M10 23l5 4l3 5l5 3M7 34l1 6l2 5M1 3l-6 2l-6 0M-2 8l-6 1l-6 2M-4 13l5 4l4 4M-5 19l-1 6l1 6M-6 25l-6 2l-5 4M-6 10l0 6l-1 6l1 6M-8 16l4 4l2 6l3 5M-16 24l1 6l2 6l0 6l0 6M-23 34l-2 6M-26 40M-1-15l-5-3l-4-4l-3-5M-1-21l-5-3l-6-2M-11-36l-1-6l1-5M13-4l5-2l6-1M16-16l-6-3l-5-3M16-22l-5-4l-2-5l-3-6" stroke-width="1.5"/><path d="M9-3l1 5M9-10l3 6M27-11l4 5M8 0l7-3M6 21l6 2M15 27l-3 4M23 35l4-3M10 45l6-4M-5 5l-2-6M-11 5l1 6M5 21l6-1M-5 19l-7 3M-17 31l-4-5M-6 28l-7 2M-8 16l7 2M-13 36l7 4M-6-18l2-5M-10-22l-5 3M-12-42l-7-1M8 0l0-4M13-4l-4-3M18-6l4 3M18-34l5-2" stroke-width="0.9"/></g>
<g transform="translate(357.4,529.7) scale(0.5)" fill="none" stroke="#e6e33a" stroke-linecap="round" opacity="0.9"><path d="M2-1l6 2l5 1l6 2l6 2l6 0M-6 5l3 6l2 5l1 6l-1 6l-2 6l-4 4l-5 4l-5 3M0 3l-2 6l-4 4l-4 5l-2 6l-4 4l-5 4M2-1l-6-2l-4-4l-4-5l-5-3l-5-3l-6-1l-5-3l-6 0M-2 5l-5-2l-6-1l-6 0l-6 2l-6-2l-6 1l-5 2M-4 1l3-5l1-6l0-6l-1-6l-1-6l-2-6" stroke-width="2.6"/><path d="M8 1l5 2l5 3M13 2l6-1l6 0M19 4l5-4l5-3M25 6l2 5l4 5M31 6l4 3l6 3M-3 11l5 3l3 5l2 6M-1 16l5 4l5 3l6 1M-3 34l4 4l4 5M-7 38l1 6l4 5M-17 45l-6 0M-2 9l2 5l0 6M-6 13l-6-2l-6-1M-12 24l-1 6l1 6M-4-3l-4-5l-3-5l-2-5M-8-7l-6-1l-6-1l-5-2M-33-22l-6 0l-6 0M-39-22l-2 5l0 6M-7 3l-5 4l-4 4l-6 1M-25 4l-5 3l-5 3l-4 4M-31 2l-4-4l-5-3M-42 5l0 6l-1 6M0-10l-1-6l1-6M0-16l4-5l5-3M-1-22l4-5l3-5M-2-28l2-6l2-5M-4-34l4-4l4-4" stroke-width="1.5"/><path d="M24 0l5 1M29-3l-3-6M-1 28l-3 4M-12 24l-6-1M-13 30l7 2M-16 28l-4 1M-39-22l-3 4M-41-17l-6 2M-16 11l-1 4M-25 4l-1-6M-1-4l5-1M-1-22l-8 1M-2-28l-6 0M2-39l-8-2" stroke-width="0.9"/></g>
<g transform="translate(362.7,555.3) scale(0.5)" fill="none" stroke="#e6e33a" stroke-linecap="round" opacity="0.94"><path d="M4 1l6 0l6 1l6 0l6-1l5-2M-4 0l1 6l-1 6l-1 6l-4 4l-4 5l-4 5M-5-5l-3 5l-4 5l-5 3l-6 0l-6 1M3-1l-6-3l-4-4l-6-2l-5-3l-6 0l-6 1l-6 2M6 5l0-6l3-5l2-6l0-6l0-6M4-1l4-4l3-6l3-5l4-4l5-4l5-4" stroke-width="2.6"/><path d="M28 1l5-3l5-3M-3 6l-3 5l-1 6M-4 12l-2 6l-4 4M-17 32l-2 5l-3 5M-8 0l-5 2l-6 2M-12 5l1 6l-1 6M-17 8l-5 3l-5 2M-29 9l-4-4l-2-6M-3-4l-1-6l-2-6l-2-5M-18-13l-5-4l-2-5l-4-4M-30-12l-6-1l-5-3M-36-10l-4 4l-5 3M6-1l-4-5l-2-5M11-24l-2-6l-1-5M11-11l-2-6l-2-6M14-16l0-6l-2-5M18-20l1-6l2-6" stroke-width="1.5"/><path d="M22 2l5-4M-4 12l3 4M-5 18l8 1M-8 0l2 5M-12 5l-7-2M-17 8l-4-2M-23 8l-2-6M-18-13l-6 4M-36-13l-2-5M-41-16l-5 1M-45-3l-2 5M12-27l7-2" stroke-width="0.9"/></g>
<g transform="translate(381.7,483.6) scale(0.5)" fill="none" stroke="#e6e33a" stroke-linecap="round" opacity="0.64"><path d="M-5 1l6 0l6-1l5-2l6-1l6-2M4 3l3 5l2 6l1 6l1 6l2 6l-1 6l0 6l-1 5M4 2l-2 6l-3 5l-2 6l0 6l0 6l0 6l-2 5M6 2l-5-4l-5-2l-6-2l-6-2l-6-1l-5 1l-6 1l-6 1M3 1l0-6l1-6l2-5l3-6l4-4l4-5M-3-6l5-3l6-2l6-1l6-1l6 2l6 1l5 3" stroke-width="2.6"/><path d="M7 0l4-4l5-3M12-2l5 4l5 3M24-5l5 3l6 2M9 14l-2 6l-1 6l-2 5M11 26l-4 4l-4 4l-5 4M13 32l-2 5l0 6M-1 13l4 4l5 3l6 2M-3 25l5 3l5 3M-3 31l3 4l4 5M-3 37l5 3l4 4M-5 42l6 3l5 3M-4-4l-6 1l-6 1l-6 2M-16-8l-5 2l-6 1l-6 0M-27-8l-1 6l-1 6M4-11l3-5l2-6l1-6M13-26l-1-6l0-6M17-31l-2-5l-3-6M8-11l4-5l2-5M14-12l5 2l6 2M20-13l5-3l6-2M26-11l6 0l6 1M32-10l5-3l5-3M37-7l6-3l4-3" stroke-width="1.5"/><path d="M4 31l-6-2M3 17l8 0M6 44l5-3M-28-2l8 2M-33-7l0-6M14-12l3-6M25-16l-5-5M47-13l-2-4" stroke-width="0.9"/></g>
<g transform="translate(386.0,510.2) scale(0.5)" fill="none" stroke="#e6e33a" stroke-linecap="round" opacity="0.78"><path d="M3 0l6 2l5 2l6 1l5 4l5 3l3 5M-1 2l2 6l-2 6l1 6l1 6l2 5M-4-4l-3 5l-5 4l-5 2l-5 4l-6 2M0 3l-6 1l-5 2l-5 3l-5 4l-4 5l-2 5l-3 5M3-5l-3-5l-5-4l-4-4l-5-4l-6-1l-6-1M4-2l1-6l1-6l2-5l4-5l3-6l2-5l4-4" stroke-width="2.6"/><path d="M25 9l1 6l3 5M33 17l6-2l6-1M3 31l5 3l6 2M-12 5l-6-1l-6-1M-22 11l-6-1l-6-1M-28 13l-3 5l-4 5M-6 4l-5 3l-5 2l-6 0M-11 6l-3 5l-5 4l-3 5M-16 9l-6 0l-6 2M-5-14l0-6l1-6M-9-18l-6-2l-6 0M-14-22l0-6l-2-5M-20-23l-5 1l-6 2M-26-24l-3 5l-4 4M6-14l-2-5l-2-6l0-6M8-19l0-6l1-6M15-30l5-1l6-1l6 0M17-35l1-6l1-6M21-39l3-6" stroke-width="1.5"/><path d="M14 4l6-3M29 20l5-4M-12 5l-3-3M-31 18l2 5M-22 9l-4 3M-19 15l-2-4M-9-18l-4 3M-29-19l-7-4M5-8l4-1M8-19l-2-4M20-31l5 4M19-47l-4-2" stroke-width="0.9"/></g>
<g transform="translate(380.3,535.5) scale(0.5)" fill="none" stroke="#e6e33a" stroke-linecap="round" opacity="0.63"><path d="M-2 3l6 1l6 1l6 0l5 2l6-1l6 0l6 0l6-2M3 2l4 4l4 5l4 4l6 1l6 2l6 2l5 2M-6 1l-1 6l-3 5l-3 5l-5 5l-3 4l-4 5l-3 5M5-4l-6 1l-6-2l-6-1l-6 0l-5-1l-6 0l-6-2l-6-2M-1-2l-6-3l-5-3l-6 0l-6 1l-5 3l-5 4l-4 4l-2 6M-2 2l1-6l2-5l3-5l4-5l2-6" stroke-width="2.6"/><path d="M4 4l1 6l1 6M16 5l2 5l4 4l6 3l5 3M27 6l5 4l6 2l5 1M33 6l6 1l6 0M11 11l5 3l6 2l5 2M15 15l6 0l6-2l6 0M21 16l6 0l6 1M-7 7l2 5l2 6M-18 22l4 5l3 5l3 5M-28 36l-5 4M-7-5l-6 2l-5 2M-13-6l-1-6l-3-5M-19-6l-4-3l-5-4l-4-5M-24-7l-5 4l-5 3l-6 1M-36-9l-1-6l1-6M-42-11l-6-1M-12-8l-6 3l-5 3l-3 4M-24-7l-6 0l-6 1l-6 1M-34 0l-6-1l-6 2M-40 10l2 5l2 6l1 6M-1-4l6-1l6 0M10-25l1-6l3-5" stroke-width="1.5"/><path d="M5 10l6 2M38 12l-3 6M11 11l-1 5M27 16l5 6M-7-5l-3 6M-23-2l-5-4M-18-8l-3-3M5-5l7 3" stroke-width="0.9"/></g>
<g transform="translate(382.1,557.8) scale(0.5)" fill="none" stroke="#e6e33a" stroke-linecap="round" opacity="0.91"><path d="M2 4l6-1l5-3l6-1l6-1l6 1M0 0l1 6l3 5l2 6l5 4l5 3l5 3l3 5M6-3l-1 6l-1 6l0 6l2 6l4 5l4 4l3 5M-3 0l-6-1l-5-3l-5-4l-5-3l-6 0l-5-2l-6 0l-6-1M1-2l-4-5l-4-4l-5-3l-4-5l-5-3l-4-4M0-3l3-5l1-6l2-6l3-5l3-5" stroke-width="2.6"/><path d="M8 3l4 4l6 3M13 0l1-6l-1-6M19-1l5-4l4-4M4 11l-1 6l0 6M11 21l6 0l6 1M16 24l3 5l5 4M21 27l6 2l5 2l5 4M24 32l6-1l6 1M10 26l6 0l5 3M-14-4l-2-5l-1-6l-1-6M-19-8l3-5l1-6l-2-6l-3-5M-24-11l-5 2l-5 4M-30-11l-3 5l-4 5l-1 5l-4 5M-3-7l-5-1l-5-4M-12-14l-3-5l-1-6M-16-19l-5 3l-5 2M-21-22l0-6l1-6M-25-26l-6 2l-6 1M4-14l6-3l4-4M6-20l2-5l0-6M12-30l6-1l6 0" stroke-width="1.5"/><path d="M3 23l-7 0M37 35l4-5M5 3l5 6M4 9l-6 1M10 26l-2 3M16 26l3-7M-9-1l-3-4M-24-11l3-7M-30-11l-1-5M-35-13l-5 5M-47-14l2-6M-26-14l0 5M-20-34l-5-2M-25-26l-4 5M-37-23l-1-5M10-17l0-6M14-21l4 5" stroke-width="0.9"/></g>
<g transform="translate(410.1,486.0) scale(0.5)" fill="none" stroke="#e6e33a" stroke-linecap="round" opacity="0.82"><path d="M3-5l6-3l5-3l5-3l5-3l6-1l5-3l3-5M-2 5l2 6l3 5l0 6l2 6l0 6l0 6M5 6l-2 5l-5 4l-3 5l-2 6l-2 6l-3 5l-5 4M-4 5l-6-1l-6 0l-6-1l-6 1l-6 2M-6 1l-3-5l-3-6l-2-6l1-6l1-5l1-6M0-2l-1-6l-1-6l2-6l3-5l5-4l5-3l5-3" stroke-width="2.6"/><path d="M19-14l3-5l2-6l4-5M24-17l6 2l6 2M0 11l6 1l6 0M3 16l-2 6l-1 6M3 22l4 5l3 5M5 28l0 6l-1 6M5 34l-3 5l-3 6M5 40l-2 6l0 6M-5 20l3 6l3 5M-7 26l-5 2l-5 5l-2 5M-12 37l-1 6l-4 5M-12-10l2-6l-1-6M-13-22l-4-4l-3-5M-12-27l-5-3l-4-5M-11-33l5-3l4-4M-1-8l-5-3l-6-2M-2-14l-2-6l-4-4M0-20l-3-5l-2-6M3-25l1-6l3-6M18-35l-2-6l-4-4" stroke-width="1.5"/><path d="M35-21l6 5M-1 45l2 4M5 40l3 3M-17 41l-3-2M-12-10l-7 3M-12-27l5 1M-17-30l0-8M-21-35l1-5" stroke-width="0.9"/></g>
<g transform="translate(406.2,503.9) scale(0.5)" fill="none" stroke="#e6e33a" stroke-linecap="round" opacity="0.64"><path d="M-6 6l6 1l6 2l5 3l5 3l6 1l6 0M-1-1l-1 6l1 6l2 5l1 6l3 6l3 5M1 3l-1 6l1 5l1 6l2 6l3 5M4-4l-5 1l-6 1l-6 1l-6 3l-4 3l-4 5M-5 5l-4-5l-4-4l-3-5l-3-6l-4-4l-2-5l-3-6l-3-5M-2 4l0-6l2-5l3-5l3-5l4-5" stroke-width="2.6"/><path d="M0 7l3-5l5-3M6 9l0 6l0 6M16 15l5 3l6 2M28 16l4 4l5 4M-1 11l-4 4l-2 6l-1 6M1 16l-1 6l-1 6M5 28l-3 5l-3 5M8 33l5 2l6 2M0 9l2 5l2 6M1 14l3 6l1 6M7 31l3 5l2 6M-1-3l-5-4l-4-3l-3-6M-7-2l-3 5l-4 5M-13-1l-6-2l-5-3l-5-2M-19 2l-3 5l-2 5M-13-4l-6 0l-6 1l-6 2l-6-1M-19-15l-5-1l-6 0l-6 1M-25-24l2-6l0-6M-28-30l-6-1l-5-2M-31-35l5-4l3-5M-2-2l-3-5l-3-5M10-22l4-5l2-5" stroke-width="1.5"/><path d="M3 2l4 2M-1 11l-6 2M-1 38l1 6M8 33l6 3M19 37l4-2M-6-7l-5 0M-24-6l-1 4M-37-2l-4 2M-34-31l-1 6M-2-2l-4-4M3-12l-5-6M14-27l-5-3" stroke-width="0.9"/></g>
<g transform="translate(405.0,533.3) scale(0.5)" fill="none" stroke="#e6e33a" stroke-linecap="round" opacity="0.78"><path d="M2 3l6-2l5-4l4-4l5-4l5-2l6 0M1-2l3 5l2 6l2 6l0 6l0 6l1 6l1 5M3-2l-3 5l-4 5l-2 5l-2 6l-1 6l-3 5l-4 5M5 1l-6 1l-6-1l-6 2l-6 1l-6-1l-5-3l-5-3M3-3l-1-6l-2-5l-3-6l0-6l-1-6l0-6l-1-6M-3 3l3-5l4-4l4-5l6-3l6-1l6 1" stroke-width="2.6"/><path d="M8 1l5 4l4 4l4 4M17-7l5-2l6-3M6 9l5 3l3 6M8 21l-2 5l-1 6l1 6M-9 25l-5 4l-4 5l-3 5M-16 35l-6 0l-5-2M-1 2l-5-4l-6-1M-19 4l-5-3l-5-4l-3-5M-25 3l-5 4l-3 4M-35-3l-6 1l-6 1M2-9l6-2l6-1l6-1M-3-20l-6-2l-6 0M-4-32l-5-3l-5-3M-4-38l5-3l4-4M-5-44l-6-3M0-2l-3-5l-3-5M8-11l6 1l6 2M20-15l5 2l6 0M26-14l5 2l6 0l6 2" stroke-width="1.5"/><path d="M8 1l5 4M13-3l7 2M6 9l4 3M8 21l-4 1M6 26l8 1M-21 39l2 5M-41-2l0-6M-47-1l-6-4M20-13l1 5M0-14l-4 2M-9-22l0-6M-4-38l-8 0M14-14l6 2M43-10l-4 7" stroke-width="0.9"/></g>
<g transform="translate(410.4,550.5) scale(0.5)" fill="none" stroke="#e6e33a" stroke-linecap="round" opacity="0.91"><path d="M3-6l6 1l6-1l5-2l6-1l6 0l6 2l6 0l5 3M-3-3l3 6l1 5l-2 6l-2 6l-1 6l-1 6M-3-3l-1 6l-2 6l-3 4l-2 6l-1 6M-4 1l-6 0l-6-1l-6 0l-6 3l-5 3M-2-4l-1-6l-4-5l-1-5l-4-5l-2-6l-3-5l-1-6M2 4l4-5l3-5l3-5l4-5l2-6l3-5l2-5l1-6" stroke-width="2.6"/><path d="M32-9l2-6l2-5l2-6M38-7l3-5l4-5M44-7l6-1M-1 14l-6 2l-5 2M-4 3l-6 2l-5 2M-6 9l1 6l2 5M-9 13l-6 1l-6 1M-10 1l-5 3l-6 2M-16 0l-5-3l-6-3M-33 6l-2 6l-1 5M-3-10l4-3l4-5M-7-15l-6 2l-6-2l-6 0M-12-25l1-6l-2-6l-1-6M-14-31l-6-1l-6-2M-17-36l-6-2l-4-4M9-6l-3-6l-3-4l-4-5M18-22l3-5l4-4M23-32l6-3l5-3M24-38l4-5" stroke-width="1.5"/><path d="M1 8l6 0M-4 26l7 0M-9 13l-7-3M-12 25l3 4M-21 6l-5-4M-27-6l-4 6M-36 17l-6-1M5-18l7 2M-19-15l-7 3M-14-31l-6 0M-23-38l-5 2M-1-21l-6 0M16-16l-3-6M23-32l-6-4M28-43l-2-5" stroke-width="0.9"/></g>
<g transform="translate(430.3,477.0) scale(0.5)" fill="none" stroke="#e6e33a" stroke-linecap="round" opacity="0.82"><path d="M6 2l6 1l6-2l5-2l5-4l3-5M6 1l5 2l5 4l3 5l5 4l6 2M5-3l-2 5l-2 6l-1 6l0 6l-2 5M1 4l-6-3l-6-1l-5-2l-6-1l-6-1l-6 1l-6 0l-6 0M0-4l-1-6l-2-5l-5-4l-5-4l-5-3l-5-2l-6-2l-5-2M1-2l4-5l3-5l4-4l3-6l1-6l2-5" stroke-width="2.6"/><path d="M12 3l3-5l3-6M28-5l-1-6l1-6M31-10l6-1l5-2M11 3l3 6l2 5M16 7l6 1l6-1M1 8l-6-2l-5-3M-2 25l-5 4l-6 2M-11 0l-6-1l-5-2M-22-3l-4-5l-4-4l-6-2M-40-3l-3-5l-4-5M-46-3l-4 5M-13-23l-1-6l-2-6M-18-26l-1-6l0-6M-23-28l-4 5l-3 5M-29-30l-3-5M-34-32l-5 4M8-12l6 1l6-1M12-16l6-2l6-2M15-22l3-5l5-4" stroke-width="1.5"/><path d="M15-2l-3-5M18-8l-3-3M31-10l5 5M16 7l-2 3M22 8l0 7M24 16l5 0M3 2l3 7M-11 0l-2 7M-22-3l-2-5M-43-8l-5 2M-46-3l-3 7M-3-15l5-5M-8-19l4-5M-16-35l4-3M-18-26l-6 1M-27-23l2 7M-34-32l0-5M-39-28l2 5M18-27l6-1" stroke-width="0.9"/></g>
<g transform="translate(430.4,506.7) scale(0.5)" fill="none" stroke="#e6e33a" stroke-linecap="round" opacity="0.65"><path d="M-3-6l5-1l6 0l6-1l6 1l6 2l6 0M5-5l3 5l5 4l4 4l5 4l6 1l5 2M5-3l1 6l0 6l-3 5l-3 5l-1 6l-4 5M5-3l-6-1l-5-3l-6-1l-6 0l-6 1l-6 0l-6 1l-5 3M1 3l-5-2l-5-3l-6-1l-6 0l-6-1l-6 2l-6-1M-5 0l1-6l-2-5l-2-6l-3-5l-4-5l-5-3l-3-5" stroke-width="2.6"/><path d="M2-7l3-6l0-6l1-6M8-7l4 4l4 5M14-8l5 4l3 5l4 5M20-7l0 6l3 6M32-5l5 3l4 5M13 4l6 0l6 1M17 8l5 2l5 4M22 12l6 1l5 2M6 3l4 4l6 3l6 1M6 9l-6 2l-4 4M0 19l-6 1l-6-1M-1 25l-6 2l-5 4M-6-7l-6 3l-5 2M-18-8l-4-4l-5-4M-24-7l-4 4l-4 5l-3 5l-1 6M-36-6l-1 6l1 6l1 6M-41-3l-5 3l-6 2M-15-3l-4 4l-3 5M-21-3l-4-4l-5-4M-33-2l-2 5l-3 5l-5 4M-39-3l-4-4l-4-5M-4-6l-6-2l-6-1M-6-11l3-6l4-4M-8-17l-4-5l-1-5M-11-22l-6 1l-6 2M-15-27l-5-3l-5-4l-5-3" stroke-width="1.5"/><path d="M8-7l2 4M19-4l5-1M22 1l7-2M20-1l4 3M8 0l4 0M22 10l5-6M-1 25l-6 4M-12-4l1 5M-12-8l-2-4M-35 7l5 3M-41-3l-4-1M-19 1l-5 0M-22 6l5 5M-35 3l5 5M-47-12l0-7M1-21l-2-5M-20-30l-2-8M-25-34l4-5" stroke-width="0.9"/></g>
<g transform="translate(433.3,532.5) scale(0.5)" fill="none" stroke="#e6e33a" stroke-linecap="round" opacity="0.97"><path d="M-2-2l6-1l6-1l6-1l6-1l6 1l5 3l6 2M-2-4l4 5l3 5l3 5l0 6l3 6l4 4l5 3M5 6l-2 5l-3 5l-4 5l-4 5l-4 4M5 1l-6 0l-6 2l-6 2l-5 3l-6 0l-6-1M-3-2l-2-5l-5-4l-5-2l-6-3l-4-5l-2-5l-2-6M-6 3l6-1l6 1l6 0l6-3l6 0l5-3" stroke-width="2.6"/><path d="M4-3l1-6l1-6M33-2l4 4l6 3M5 6l6 2l5 2l5 3M8 11l-5 4l-4 5M11 23l-5 3l-6 3l-4 4M-4 21l-5 2l-6 2M-5-7l4-4l3-5M-27-26l4-5l1-6M-29-32l-6-1" stroke-width="1.5"/><path d="M39 0l5-6M-4 21l-2-3M-24 8l-3-6M-10-11l-3 5M-35-33l-3-7M6 3l1 7" stroke-width="0.9"/></g>
<g transform="translate(428.9,558.1) scale(0.5)" fill="none" stroke="#e6e33a" stroke-linecap="round" opacity="0.62"><path d="M5-5l5-3l4-4l4-5l2-6l1-6l-2-6M-4-4l5 3l6 1l6 2l4 4l6 2M1-3l1 6l0 6l0 6l1 6l1 6l-1 6l1 6M5 3l-6 0l-5 3l-4 4l-4 5l-3 5l-1 6l-1 6M6-3l-4-5l-1-6l-1-6l-1-6l-1-6l0-6M2-2l3-5l2-6l3-5l3-5l1-6l2-5l4-5l1-6" stroke-width="2.6"/><path d="M10-8l3-5l3-6M14-12l6-1l6-3M18-17l-3-6l-1-5M20-23l6-1l6 2M21-29l5-3l5-3M19-35l-5-2l-5-4M7 0l6-2l6-1M17 6l-3 6l-1 5M23 8l4-4l6-2M2 3l4 5l4 5M2 15l-3 5l-5 4M-6 6l-5-4l-4-4l-5-4M-10 10l-6 0l-6 0l-6 0M-14 15l-6 1l-6 0M2-8l-6-1l-5-3l-4-3M0-20l5-4l5-4M5-7l4-4l5-4l4-4M7-13l5-2l5-4l5-3M14-29l6-1l4-4l6-3" stroke-width="1.5"/><path d="M10-8l4 1M26-24l-1-6M14-37l-5 4M14 12l3 3M33 2l0-7M2 15l-4 2M-6 6l-1-4M-10 10l2 8M-28 10l-3 7M-17 20l-4-2M10-28l4 4M5-7l4 2M17-19l-1-5M14-29l-4-3" stroke-width="0.9"/></g>
</g></g>
<rect x="33.7" y="587" width="98.6" height="98.1" filter="url(#yhz1)" opacity="0.15"/>
<rect x="33.7" y="587" width="98.6" height="98.1" filter="url(#ysp1)" opacity="0.3"/>
<rect x="137.1" y="587" width="98.3" height="98.1" filter="url(#ysp4)" opacity="0.35"/>
<g clip-path="url(#cpc2)"><g filter="url(#rough3)">
<g transform="translate(198.6,629.5) scale(0.5)" fill="none" stroke="#e6e33a" stroke-linecap="round" opacity="1.0"><path d="M4 0l6-2l7 0l7 2l7 2M2-5l7 3l7 2l7 0l7-1l7 0l6 1M5 0l2 7l1 7l3 6l1 7M3-3l2 6l3 7l1 7l1 7M4 4l-3 7l-4 5l-3 6l-3 7l-2 7M2-1l-7 0l-7-1l-7-1l-6-2M0 0l-4-5l-4-6l-4-6l-5-5M6-6l0-7l-1-7l0-7l-2-7l-2-6M-2-4l3-7l1-6l2-7l2-7l1-7M6 3l6-3l6-4l6-4l4-5" stroke-width="2.0"/><path d="M10-2l5-5l6-4M17-2l7 4l5 4M31 2l7-2M16 0l4-6l6-4M23 0l6 2l7 3M30-1l6 3l5 4M37-1l4-6M43 0M7 7l6 3l6 4M11 20l-2 7l-1 7M8 10l6 2l6 5M10 24l-4 5l-4 6M1 11l-7 0l-7 0M-3 16l-2 7l-3 6M-9 29l2 7l0 7M-11 36M-19-3l-6 4l-6 3M-4-5l-3-7l-1-7M-12-17l-7 1l-7 0M6-13l-5-4l-5-5M6-31l5-5l4-5M18-4l6 4l5 5" stroke-width="1.4"/><path d="M17-2l4-5M29 6l3-4M31 2l3 4M26-10l1-7M-6 11l-1-4M3-34l-6 0M7-38l6-3" stroke-width="1.0"/></g>
<g transform="translate(148,641.8) scale(0.5)" fill="none" stroke="#e6e33a" stroke-linecap="round" opacity="1.0"><path d="M0 1l7 1l7 0l7 2M-3-6l5 5l6 4l6 2M-2 3l-2 6l-2 7l-3 6M0-3l-7 0l-7 1M-2-5l-7-2l-6-3l-7-1l-6-3M-2 6l-1-7l0-7M3 3l5-5l6-4l6-3" stroke-width="1.8"/><path d="M7 2l6-5l6-4M14 2l5 5l5 5M14 5l5-6l3-5M-9 22l-7-1l-7-2M-28-14M8-2l6 3l6 3M20-9l5 4l6 3" stroke-width="1.2"/><path d="M7 2l4 7M19-7l-5-6M19 7l-1 5M8 3l5-5M19-1l-4-4M-4 9l3 4M-16 21l-4-7M-14-2l-4 4M-28-14l1-7" stroke-width="0.8"/></g>
<g transform="translate(160,600) scale(0.5)" fill="none" stroke="#e6e33a" stroke-linecap="round" opacity="0.5"><path d="M6-4l7 0l7 0l7 1l6 1l7 3M4 2l4 6l3 7l1 6l1 7l2 7M-3 1l-5 5l-6 3l-4 6l-5 5l-3 6M4-6l-7 0l-7 0l-6-1l-7-3l-6-3l-6-3M-6 2l-6-4l-6-4l-5-4M-5-5l6-4l5-5l6-4l4-5" stroke-width="1.4"/><path d="M33-2l7 3M-14 9l-7 1l-6 2M-18 15l-2 6l-3 7M-26 26l3 7l3 6M-3-6l-5 4l-4 6M-23-10l-4-5l-6-5M-12-2l2-7l-1-7M-18-6l2-6l2-7M1-9l1-7l0-7M6-14l-1-7l0-7M12-18l6-2l7 0M16-23l7-2l6-4" stroke-width="1.0"/><path d="M40 1l4-3M-23 28l2 5M-3-6l1-6M18-20l3 3" stroke-width="0.8"/></g>
<g transform="translate(215,660) scale(0.5)" fill="none" stroke="#e6e33a" stroke-linecap="round" opacity="0.5"><path d="M-1 4l7-2l6-3l6-4l6-3M-2-4l6 5l4 6l3 6l2 6M2-6l-6 4l-6 5l-6 3l-6 3M-1-1l-6-4l-6-4l-5-4M-5-1l-2-7l-5-5l-3-6l-5-5M-5-5l6-4l4-6l5-5l4-6l5-5" stroke-width="1.4"/><path d="M6 2l-1-7l0-7M18-5l7 1l7 2M24-8l2-7l4-6M11 13l-2 6l-2 7M-4-2l-3 7l-2 6M-16 6l-6-3l-7-2M-13-9l0-7l-2-7M-18-13l-1-7l-3-6M-12-13l4-6l3-7M-20-24l-2-7l1-7M5-15l0-7l-1-7M10-20l-2-6l-2-7M14-26l-1-7l-1-7" stroke-width="1.0"/><path d="M30-21l8 1M8 7l4 2M11 13l-2 3M-29 1l-3-6" stroke-width="0.8"/></g>
<g transform="translate(150,675) scale(0.5)" fill="none" stroke="#e6e33a" stroke-linecap="round" opacity="0.5"><path d="M1 2l6-3l6-3l7-3l7-2M5-3l6 4l6 3l7 2l6 3M-3 3l-5 5l-7 2l-7 1l-7-1M-4-2l-7 1l-7-1l-7 1l-7-1l-7 2M6 2l-1-7l-2-7l-2-6l-4-6M-4 0l3-7l3-6l1-7l2-7" stroke-width="1.4"/><path d="M30 9l7-1M-8 8l0 7l1 7M-15 10l-7-1l-7-2M-3-24l-6-4l-5-5M5-27l-1-7l1-7" stroke-width="1.0"/><path d="M-8 8l-4-2M-11-1l-2-5M4-34l4-2" stroke-width="0.8"/></g>
<g transform="translate(225,600) scale(0.5)" fill="none" stroke="#e6e33a" stroke-linecap="round" opacity="0.5"><path d="M0-4l7-2l7-1l7-1l7 2l6 1M3-2l6 4l6 3l7 0l7 0M5 0l-4 6l-3 6l-3 7l-2 6M1-2l-7 1l-7 0l-7 0l-7 1l-7 1M-1 0l-5-5l-3-6l-3-6l-4-6l-3-6M3-5l3-6l4-6l3-6l3-7" stroke-width="1.4"/><path d="M7-6l4-5l6-5M14-7l7 1l7 1M21-8l6 4l6 4M28-6l4 5l6 4M15 5l7-1l7-1M22 5l6-3l6-4M29 5l6-3l7-3M-5 19l2 6l4 6M-6-1l-6-3l-7-2M10-17l1-7l2-7M16-30l-3-6l-3-6" stroke-width="1.0"/><path d="M32-1l3-4M6-11l-7-2" stroke-width="0.8"/></g>
<g transform="translate(185,665) scale(0.5)" fill="none" stroke="#e6e33a" stroke-linecap="round" opacity="0.5"><path d="M-2 2l7 1l6 0l7-2l7 0l7-2M-6-4l4 6l1 6l2 7l4 6l6 4M3-2l-5 5l-3 6l-4 6l-4 6M4-3l-6-1l-7-1l-7 1l-7-1M-5 4l-5-6l-4-5l-3-7l-2-7l-3-6l-2-7M0-5l3-6l5-5l4-6l2-7" stroke-width="1.4"/><path d="M25 1l3-7l5-5M1 15l7 3l6 3M11 25l2 7l3 6M-2 3l-6 2l-7 2M-9 15l1 7l1 7M-13 21l0 7l-3 6M-16-4l-6-4l-4-6M-23-5l-3-6l-3-7M-24-34l5-5M8-16l7-1l7-1" stroke-width="1.0"/><path d="M5 3l-2 7M28-6l-3-5M33-11l-1-6M13 32l-6 5M-9-5l-4-6M-16-4l-2 7" stroke-width="0.8"/></g>
<g transform="translate(145,615) scale(0.5)" fill="none" stroke="#e6e33a" stroke-linecap="round" opacity="0.5"><path d="M6-2l6-2l7-1l7-2l7-2l5-3M-1-2l0 7l-1 7l0 7l-3 7l-1 6M0-5l-4 5l-3 7l-2 6l-5 6M5-2l-7-2l-7-2l-6-3l-6-4M-4 0l-5-5l-4-5l-6-5l-5-5M3-4l4-5l3-7l4-5l5-5l6-4" stroke-width="1.4"/><path d="M26-7l4-5l3-7M38-12M-1 5l-4 6l-5 5M-2 19l-6 3l-7 1M-5 26l2 6l2 7M-4 0l-7 1l-7 1M-9-6l-4-6l-3-6M-15-9l-5 5l-7 3M-21-13l-1-7l-3-7M-13-10l-6-5l-4-6M7-9l-3-7l-3-6M10-16l6-4l5-4M19-26l7 0l7 0" stroke-width="1.0"/><path d="M-3 32l-7 0M-27-1l1 6" stroke-width="0.8"/></g>
<g transform="translate(200,600) scale(0.5)" fill="none" stroke="#e6e33a" stroke-linecap="round" opacity="0.5"><path d="M-6-4l6-3l6-5l6-2l6-4l4-6l2-6M-4-5l2 7l0 7l0 7l-2 7l-2 7M5 1l1 7l2 7l4 6M-5 4l-7-1l-7 0l-7-1l-7-1M6-5l0-7l2-7l-1-7l-1-7M3-5l6-4l5-5l3-6l3-6l3-6" stroke-width="1.4"/><path d="M-2 16l5 5l6 5M-6 30l6 4l6 3M8 15l7-1l7 1M12 21l6 1l7 2M-26 2l-5 6l-2 6M8-19l7 0l7 0M17-20l-1-6l-3-7" stroke-width="1.0"/><path d="M24-30l-4-6M-4 23l2 5" stroke-width="0.8"/></g>
<g transform="translate(170,655) scale(0.5)" fill="none" stroke="#e6e33a" stroke-linecap="round" opacity="0.5"><path d="M-4-3l7 0l7 1l7 2l7 2M-1 5l5 6l3 6l5 5l4 6l3 6M4-2l-2 7l0 7l0 7l1 7l0 7M1-2l-7-1l-6-2l-7 0l-7 0M-6-3l-3-6l-1-7l-1-7M-1-2l1-7l4-6l2-7l1-7" stroke-width="1.4"/><path d="M17 0l3 6l5 5M24 2l-1 7l-1 6M4 11l7 0l7 0M7 17l7 2l6 3M19 34M2 5l-6 3l-6 4M2 19l6 4l6 3M3 26l5 4l4 6M-19-5l-6 4l-7 2M-11-23l2-7l0-7" stroke-width="1.0"/><path d="M2 5l-6-2M-10 12l1 5M8 30l5-2M-32 1l-3-4M-26-5l-5 5" stroke-width="0.8"/></g>
<g transform="translate(228,635) scale(0.5)" fill="none" stroke="#e6e33a" stroke-linecap="round" opacity="0.5"><path d="M-3-5l7 3l6 2l7 0l7 0M-6 3l1 7l-2 7l-1 7l-2 6l0 7M6 2l-4 6l-5 5l-4 5l-6 5l-4 6M-2-1l-7 1l-6 3l-5 5l-5 5M6-6l-4-6l-4-5l-6-5l-6-3M2-5l4-6l1-7l0-7l1-6" stroke-width="1.4"/><path d="M10 0l6 4l4 5M-5 10l3 6l3 6M-7 17l4 6l2 6M-10 37M-7 18l-3 7l-1 7M-9 0l-3-6l-4-6M-15 3l-7-1l-7 0M2-12l4-6l3-6M7-25l-6-3l-6-4" stroke-width="1.0"/><path d="M-3 23l8 0M-10 25l-6-2M-13 23l-6-3" stroke-width="0.8"/></g>
<g transform="translate(185,690) scale(0.5)" fill="none" stroke="#e6e33a" stroke-linecap="round" opacity="0.5"><path d="M2-6l6 3l7 2l7 0l7 1M2-4l3 7l4 5l3 6l4 6l3 7M2 5l-1 7l-2 7l-3 6l-3 6M3 0l-7 2l-6 3l-6 4l-6 2l-7 2M-6 5l-6-4l-5-4l-5-6l-2-7M-4 4l3-6l4-6l3-6l3-6l1-7" stroke-width="1.4"/><path d="M22-1l3-6l2-7M29 0l6 3l6 4M12 14l-3 6l-4 6M16 20l5 5l5 5M1 12l4 6l4 6M-10 5l-2 7l-2 6M-22 11l-7 0l-7 1M-17-3l-7 0l-7-1M-22-9l-7 0l-6 2M6-14l-3-6l-4-6" stroke-width="1.0"/><path d="M-22 11l-2 5M-17-3l2-5" stroke-width="0.8"/></g>
<g transform="translate(150,590) scale(0.5)" fill="none" stroke="#e6e33a" stroke-linecap="round" opacity="0.5"><path d="M6-1l7-1l6-3l7-1l6-2l7-1M1 1l1 7l3 6l2 7M-4 2l-2 7l-3 6l-2 7l-3 6l-3 6M-3-6l-7-1l-7-2l-7 0M5 4l-3-7l0-7l2-7M2 2l3-6l4-5l3-7l4-5l2-7" stroke-width="1.4"/><path d="M13-2l5-5l6-3M32-8l4-6M39-9M-9 15l3 7l3 6M-11 22l1 6l3 7M-14 28l7 3l6 4M2-10l6-4l5-5M4-17l-4-5l-5-6M9-9l6-4l5-6M12-16l0-7l1-6M16-21l7 0l7 2" stroke-width="1.0"/><path d="M19-5l-2-5M26-6l1 8M7 21l5 3M-14 28l-5 2M-17-9l0-8M-24-9l0-8" stroke-width="0.8"/></g>
</g></g>
<rect x="255.3" y="587" width="98.6" height="97.8" filter="url(#yhz1)" opacity="0.45"/>
<rect x="255.3" y="587" width="98.6" height="97.8" filter="url(#ysp2)" opacity="0.3"/>
<rect x="357.5" y="587" width="98.9" height="97.8" filter="url(#ysp1)" opacity="0.3"/>
<g clip-path="url(#cpd2)"><g filter="url(#rough3)">
<g transform="translate(414,663.2) scale(0.5)" fill="none" stroke="#e6e33a" stroke-linecap="round" opacity="1.0"><path d="M-1 4l7 1l7 1l7 0l7-1l7-2l6-1M1 3l4 6l3 6l2 6l2 5l3 6M-1-1l6 4l6 3l6 3l4 5l5 5M-4-4l-3 6l-2 6l-1 6l-1 6l-1 6M3-1l-4 5l-5 4l-6 4l-5 4l-4 5l-5 5M1 3l-5 3l-6 5l-5 4l-6 3M6 5l-7 1l-7 2l-6 3l-7 2M-3 0l-4-5l-5-5l-4-5l-3-6M-3-1l-2-7l-2-5l-3-6l-1-7M0 6l5-4l5-4l7-3l6-2M4-5l5-4l6-3l6-4l7-2l7-1l7-1" stroke-width="2.0"/><path d="M34 3l5-4l4-5M5 9l-1 6l-2 6M12 26l-2 7l-2 5M15 32l5 5M5 3l7-1l7-1M17 9l7-1l7 0M26 19l1 6l0 6M-7 2l2 6l3 5M-9 8l-6 1l-7 1M-11 20l4 5l3 6M-1 4l0 6l0 6M-12 12l-7-1l-7 2l-6 3M-21 21l-7 2l-6 3M-15 15l-2 6l-4 5M-21 18l-7 1l-7-1M-7-5l-1-6l0-7M-12-10l-7 1l-7 2M-19-21l4-5l3-6M-5-8l4-5l3-5M-11-26l5-4l5-4M5 2l0-7l1-6M10-2l3-6l1-6M9-9l1-6l2-6M15-12l1-7l1-6M21-16l3-5l1-7M28-18l5 5l4 5M35-19l4-5" stroke-width="1.4"/><path d="M34 3l0 7M5 3l-2 6M17 9l5-2M21 14l6 0M27 31l-4 2M-26 13l-4-2M-10-19l-4-2M10-15l7-1M35-19l1 6" stroke-width="1.0"/></g>
<g transform="translate(434,628) scale(0.5)" fill="none" stroke="#e6e33a" stroke-linecap="round" opacity="0.7"><path d="M-5 2l7 2l7 2l6 1l7 2M-1-2l1 7l1 7l0 7l0 7l-2 6M-4-6l-1 7l-2 7l-4 6l-3 6M-4 3l-6 4l-7 2l-7 0l-6-1l-7 0M0 5l-7-1l-7-2l-6-2M1 0l0-7l-2-7l0-7l-2-7M-5 3l2-7l3-7l3-6l2-6" stroke-width="1.6"/><path d="M2 4l7 2l7 0M9 6l3 6l4 6M22 9l5-5l4-6M0 5l4 5l3 7M-1 32l5 4M-7 8l2 6l3 7M-11 14l-7 0l-7 1M-10 7l-2 6l-2 7M-7 4l-5-5l-6-3M1-7l3-6l4-6M-1-14l-6-3l-7-2M0-11l4-5l6-5M3-17l7-2l7-1" stroke-width="1.2"/><path d="M9 6l2-6M16 18l-3 6M1 26l-4 0M-5 14l4 3M-24 9l-2-5M-30 8l-4 4M-12-1l1-7" stroke-width="0.8"/></g>
<g transform="translate(380,605) scale(0.5)" fill="none" stroke="#e6e33a" stroke-linecap="round" opacity="0.6"><path d="M-2 3l7 3l5 4l4 6l3 6M3 0l0 7l3 6l1 7l0 7M-5-4l-6 2l-7 0M-1 5l-6-2l-7-1l-7 1M4-2l-1-7l1-7l0-7" stroke-width="1.4"/><path d="M14 16l7 2M7 20l-4 6l-3 6M-7 3l-2-7l-3-6M-14 2l-4 6l-5 5M4-23l6-4" stroke-width="1.0"/><path d="M7 27l-7 2M4-16l8 0" stroke-width="0.8"/></g>
</g></g>
<text x="37.5" y="488" font-size="12" font-weight="bold" fill="#e6e034">GFAP</text>
<path d="M33.7,501 C45,520 80,542 132,554" fill="none" stroke="#e8e8e8" stroke-width="1.1" stroke-dasharray="3.5,2.5"/>
<path d="M256.7,508.7 C270,528 300,545 353.9,559.3" fill="none" stroke="#e8e8e8" stroke-width="1.1" stroke-dasharray="3.5,2.5"/>
<path d="M33.7,618.2 C45,640 80,660 132,670.9" fill="none" stroke="#e8e8e8" stroke-width="1.1" stroke-dasharray="3.5,2.5"/>
<path d="M255.3,611 C270,632 300,650 353.9,661" fill="none" stroke="#e8e8e8" stroke-width="1.1" stroke-dasharray="3.5,2.5"/>
<rect x="99.9" y="494" width="15.3" height="15.3" fill="none" stroke="#e0e0e0" stroke-width="1.2"/>
<rect x="331.2" y="501" width="15.6" height="14.5" fill="none" stroke="#e0e0e0" stroke-width="1.2"/>
<rect x="105.1" y="612" width="15.6" height="15.4" fill="none" stroke="#e0e0e0" stroke-width="1.2"/>
<rect x="335.2" y="611.1" width="15.4" height="14.7" fill="none" stroke="#e0e0e0" stroke-width="1.2"/>
<text x="49" y="517.9" font-size="9.8" font-weight="bold" fill="#f2f2f2">CeL</text>
<text x="49" y="551" font-size="9.8" font-weight="bold" fill="#f2f2f2">CeM</text>
<text x="270.8" y="521" font-size="9.8" font-weight="bold" fill="#f2f2f2">CeL</text>
<text x="270.8" y="555.3" font-size="9.8" font-weight="bold" fill="#f2f2f2">CeM</text>
<text x="49" y="632.6" font-size="9.8" font-weight="bold" fill="#f2f2f2">CeL</text>
<text x="49" y="666.3" font-size="9.8" font-weight="bold" fill="#f2f2f2">CeM</text>
<text x="270.8" y="623.4" font-size="9.8" font-weight="bold" fill="#f2f2f2">CeL</text>
<text x="270.8" y="658.6" font-size="9.8" font-weight="bold" fill="#f2f2f2">CeM</text>
<text x="117.2" y="571" font-size="9.8" font-weight="bold" fill="#fff" text-anchor="middle">400µm</text>
<rect x="110.3" y="573.5" width="13.2" height="1.8" fill="#fff"/>
<text x="222.1" y="571" font-size="9.8" font-weight="bold" fill="#fff" text-anchor="middle">25µm</text>
<rect x="215.5" y="573.5" width="13.8" height="1.8" fill="#fff"/>
<defs><filter id="gmot" x="0" y="0" width="100%" height="100%" color-interpolation-filters="sRGB"><feTurbulence type="fractalNoise" baseFrequency="0.35" numOctaves="2" seed="21"/><feColorMatrix type="matrix" values="0 0 0 0 0.04 0 0 0 0 0.25 0 0 0 0 0.08 3.2 0 0 0 -1.35"/></filter><filter id="gmot2" x="0" y="0" width="100%" height="100%" color-interpolation-filters="sRGB"><feTurbulence type="fractalNoise" baseFrequency="0.3" numOctaves="2" seed="23"/><feColorMatrix type="matrix" values="0 0 0 0 0.16 0 0 0 0 0.55 0 0 0 0 0.24 3 0 0 0 -1.2"/></filter><filter id="rmot" x="0" y="0" width="100%" height="100%" color-interpolation-filters="sRGB"><feTurbulence type="fractalNoise" baseFrequency="0.4" numOctaves="2" seed="25"/><feColorMatrix type="matrix" values="0 0 0 0 0.5 0 0 0 0 0.08 0 0 0 0 0.03 1.4 0 0 0 -0.45"/></filter><filter id="ysp5" x="0" y="0" width="100%" height="100%" color-interpolation-filters="sRGB"><feTurbulence type="fractalNoise" baseFrequency="0.5" numOctaves="2" seed="27"/><feColorMatrix type="matrix" values="0 0 0 0 0.95 0 0 0 0 0.7 0 0 0 0 0.1 10 0 0 0 -6.2"/></filter><filter id="rough4" x="-5%" y="-5%" width="110%" height="110%" color-interpolation-filters="sRGB"><feTurbulence type="fractalNoise" baseFrequency="0.25" numOctaves="2" seed="12" result="t"/><feDisplacementMap in="SourceGraphic" in2="t" scale="3" xChannelSelector="R" yChannelSelector="G"/></filter><clipPath id="ce00"><rect x="33.7" y="724.3" width="82.9" height="79.7"/></clipPath><clipPath id="ce01"><rect x="120.6" y="724.3" width="81.7" height="79.7"/></clipPath><clipPath id="ce02"><rect x="207.1" y="724.3" width="81.9" height="79.7"/></clipPath><clipPath id="ce10"><rect x="33.7" y="809.8" width="82.9" height="67.7"/></clipPath><clipPath id="ce11"><rect x="120.6" y="809.8" width="81.7" height="67.7"/></clipPath><clipPath id="ce12"><rect x="207.1" y="809.8" width="81.9" height="67.7"/></clipPath></defs>
<g clip-path="url(#ce00)">
<rect x="33.7" y="724.3" width="82.9" height="79.7" fill="#33a44b" />
<rect x="33.7" y="724.3" width="82.9" height="79.7" fill="#000" filter="url(#gmot)"/>
<g filter="url(#rough)"><g transform="translate(73,765) scale(0.5)" fill="none" stroke="#48bd5e" stroke-linecap="round" stroke-linejoin="round" opacity="0.85"><path d="M2-3l7-1l6-1l7-2l7-2l6-3l7-2l6-4l6-4l5-5l4-5M-6 4l5 4l5 6l5 4l6 4l5 5l3 6l5 5M-1-5l0 7l0 7l0 7l3 7l1 7l2 7l-1 6l2 7l0 7l1 7M5 4l-6 4l-5 5l-6 4l-4 6l-3 6l-4 6l-3 6l-4 6l-5 4l-6 4M-5 2l-6 3l-6 4l-4 5l-6 5l-5 4l-6 4M-6 0l-7 0l-6 2l-7 2l-6 4l-5 4l-4 6l-3 6l-4 6l-5 5M4-2l-6-4l-6-4l-5-5l-4-5l-3-7l-5-5l-5-4l-6-4l-4-6l-5-5M-1-6l1-7l-2-6l-2-7l-2-7l0-7l-2-6l-2-7l-2-7l-2-6l-1-7M-2 3l6-4l6-3l7-1l6-3l7-3l6-3l6-4l4-5l6-4l6-3l7-2" stroke-width="9.0"/><path d="M29-9l4 5l4 6l5 5l4 5M35-12l4 7l1 7l4 5l2 7M54-22l4-5l5-5l3-6M63-32l6-3M4 14l7-3l7 0M23 33l5 5l6 5M-1 2l-6 4l-7 2M3 30l-5 4l-6 4l-6 3M5 37l-5 5l-4 5l-6 4M4 43l-6 3l-7 3M7 64l7 2l7 1l7 0M-6 13l3 6l1 7l0 7M-12 17l-6-1l-7-2l-7-1M-23 35l1 7l3 6l2 7M-30 47l-7 2l-7 0l-6 3l-6 3M-41 55l2 7l1 7M-11 5l-6-3l-5-5M-17 9l-3 6l-4 6M-21 14l-1 7l-3 7M-13 0l-3-6l-2-7l-1-7l-1-7M-19 2l-6-5l-5-5l-6-3M-32 8l-7-3l-6-1l-7-2M-44 24l-6 5l-4 5l-4 6l-5 5M-53 35l1 7l-1 7l0 7M-2-6l-2-7l-1-7l0-7l-1-7M-13-15l-7 2l-6 4M-17-20l-7 0l-7 1l-7 1M-20-27l-6-4l-3-6l-5-5l-6-4M-40-46l1-7l2-6l4-6M-45-51l3-6l4-5l5-5M-8-46l2-7l2-7l2-6l4-6l4-6M-15-73l6-4M4-1l6 3l7 1l7-1l7 0l7-1M17-5l6 4l6 3l6 3l6 3l6 5M23-8l7 0l7 2l7 0l7 2M30-11l5 4l5 5l6 4M65-32l7 1" stroke-width="5.6"/><path d="M22-7l5 3M37 2l-2 7M63-32l-5-6M20 27l8-2M23 33l6 0M28 38l-3 6M-1 2l6 1M-7 6l-3-4M-8 38l-2 7M7 64l-2 3M-3 19l6 3M-2 33l6 5M-16 23l0 5M-22 42l7-1M-56 55l-2 7M-17 2l-2-7M-20 15l-7-1M-21 14l-5 1M-32 23l3 4M-16-6l4-6M-30-8l-4 2M-36-11l-3 2M-32 8l-3-5M-53 49l4 3M-6-34l-4 2M-20-13l0-4M-26-9l-4-5M-17-20l1-4M-31-19l-3-6M-30-36l-7 1M-36-40l-2 5M-2-19l7-2M4-1l5 2M10-4l4 2M36-14l-1-5M52-27l8 0" stroke-width="3.2"/></g></g>
</g>
<g clip-path="url(#ce01)">
<rect x="120.6" y="724.3" width="81.7" height="79.7" fill="#3a0705" />
<rect x="120.6" y="724.3" width="81.7" height="79.7" fill="#000" filter="url(#rmot)"/>
<g filter="url(#rough4)"><g transform="translate(0,0)" fill="none" stroke-linecap="round"><path d="M156.4,725.2 C158,733 156,745 153.9,754.3 C153,758 152.5,761 152.1,764 C149,768 146,770 144.2,772.5 C141,775 139,776 138.2,777.3 C136,781 135,784 134.5,787 C133.5,790 132.5,792 132.1,794.3" stroke="#a0501a" stroke-width="3.5" opacity="0.45"/><path d="M152.1,764 C156,767 159,770 162.4,772.5 C165,774 168,776 170.9,777.3" stroke="#a0501a" stroke-width="2.4" opacity="0.45"/><path d="M152.1,764 C148,761 144,759 140.6,758" stroke="#a0501a" stroke-width="2.0" opacity="0.45"/><path d="M144.2,725.2 C152,728 162,731 170.9,733.7 C177,735.5 182,737 186.7,738.5 C192,740 198,742 203,743.4" stroke="#a0501a" stroke-width="4.8" opacity="0.45"/><path d="M170.9,725.2 C174,728 178,731 183,733.7 C190,733 196,731 203,730" stroke="#a0501a" stroke-width="3.1" opacity="0.45"/><path d="M152.7,796.7 C158,796 165,796 170.9,795.5 C175,794 179,792.5 183,791.9 C187,793 190,796 192.7,799.2" stroke="#a0501a" stroke-width="2.6" opacity="0.45"/><path d="M123.6,739.8 C125,742 126.5,745 127.3,748.2" stroke="#a0501a" stroke-width="2.2" opacity="0.45"/><path d="M121.2,782.2 C122.5,784 123.8,785.5 124.8,787" stroke="#a0501a" stroke-width="2.6" opacity="0.45"/><path d="M192.7,754.3 C196,758 199,762 202.4,766.4" stroke="#a0501a" stroke-width="2.2" opacity="0.45"/><path d="M162,742 C168,748 172,752 176,760" stroke="#a0501a" stroke-width="1.3" opacity="0.45"/><path d="M156.4,725.2 C158,733 156,745 153.9,754.3 C153,758 152.5,761 152.1,764 C149,768 146,770 144.2,772.5 C141,775 139,776 138.2,777.3 C136,781 135,784 134.5,787 C133.5,790 132.5,792 132.1,794.3" stroke="#e9b02a" stroke-width="1.6"/><path d="M152.1,764 C156,767 159,770 162.4,772.5 C165,774 168,776 170.9,777.3" stroke="#e9b02a" stroke-width="1.1"/><path d="M152.1,764 C148,761 144,759 140.6,758" stroke="#e9b02a" stroke-width="0.9"/><path d="M144.2,725.2 C152,728 162,731 170.9,733.7 C177,735.5 182,737 186.7,738.5 C192,740 198,742 203,743.4" stroke="#e9b02a" stroke-width="2.2"/><path d="M170.9,725.2 C174,728 178,731 183,733.7 C190,733 196,731 203,730" stroke="#e9b02a" stroke-width="1.4"/><path d="M152.7,796.7 C158,796 165,796 170.9,795.5 C175,794 179,792.5 183,791.9 C187,793 190,796 192.7,799.2" stroke="#e9b02a" stroke-width="1.2"/><path d="M123.6,739.8 C125,742 126.5,745 127.3,748.2" stroke="#e9b02a" stroke-width="1.0"/><path d="M121.2,782.2 C122.5,784 123.8,785.5 124.8,787" stroke="#e9b02a" stroke-width="1.2"/><path d="M192.7,754.3 C196,758 199,762 202.4,766.4" stroke="#e9b02a" stroke-width="1.0"/><path d="M162,742 C168,748 172,752 176,760" stroke="#e9b02a" stroke-width="0.6"/></g></g>
</g>
<g clip-path="url(#ce02)">
<rect x="207.1" y="724.3" width="81.9" height="79.7" fill="#2f9043" />
<rect x="207.1" y="724.3" width="81.9" height="79.7" fill="#000" filter="url(#gmot)" transform="translate(0,0)"/>
<g filter="url(#rough)"><g transform="translate(246.4,765) scale(0.5)" fill="none" stroke="#48bd5e" stroke-linecap="round" stroke-linejoin="round" opacity="0.8"><path d="M2-3l7-1l6-1l7-2l7-2l6-3l7-2l6-4l6-4l5-5l4-5M-6 4l5 4l5 6l5 4l6 4l5 5l3 6l5 5M-1-5l0 7l0 7l0 7l3 7l1 7l2 7l-1 6l2 7l0 7l1 7M5 4l-6 4l-5 5l-6 4l-4 6l-3 6l-4 6l-3 6l-4 6l-5 4l-6 4M-5 2l-6 3l-6 4l-4 5l-6 5l-5 4l-6 4M-6 0l-7 0l-6 2l-7 2l-6 4l-5 4l-4 6l-3 6l-4 6l-5 5M4-2l-6-4l-6-4l-5-5l-4-5l-3-7l-5-5l-5-4l-6-4l-4-6l-5-5M-1-6l1-7l-2-6l-2-7l-2-7l0-7l-2-6l-2-7l-2-7l-2-6l-1-7M-2 3l6-4l6-3l7-1l6-3l7-3l6-3l6-4l4-5l6-4l6-3l7-2" stroke-width="9.0"/><path d="M29-9l4 5l4 6l5 5l4 5M35-12l4 7l1 7l4 5l2 7M54-22l4-5l5-5l3-6M63-32l6-3M4 14l7-3l7 0M23 33l5 5l6 5M-1 2l-6 4l-7 2M3 30l-5 4l-6 4l-6 3M5 37l-5 5l-4 5l-6 4M4 43l-6 3l-7 3M7 64l7 2l7 1l7 0M-6 13l3 6l1 7l0 7M-12 17l-6-1l-7-2l-7-1M-23 35l1 7l3 6l2 7M-30 47l-7 2l-7 0l-6 3l-6 3M-41 55l2 7l1 7M-11 5l-6-3l-5-5M-17 9l-3 6l-4 6M-21 14l-1 7l-3 7M-13 0l-3-6l-2-7l-1-7l-1-7M-19 2l-6-5l-5-5l-6-3M-32 8l-7-3l-6-1l-7-2M-44 24l-6 5l-4 5l-4 6l-5 5M-53 35l1 7l-1 7l0 7M-2-6l-2-7l-1-7l0-7l-1-7M-13-15l-7 2l-6 4M-17-20l-7 0l-7 1l-7 1M-20-27l-6-4l-3-6l-5-5l-6-4M-40-46l1-7l2-6l4-6M-45-51l3-6l4-5l5-5M-8-46l2-7l2-7l2-6l4-6l4-6M-15-73l6-4M4-1l6 3l7 1l7-1l7 0l7-1M17-5l6 4l6 3l6 3l6 3l6 5M23-8l7 0l7 2l7 0l7 2M30-11l5 4l5 5l6 4M65-32l7 1" stroke-width="5.6"/><path d="M22-7l5 3M37 2l-2 7M63-32l-5-6M20 27l8-2M23 33l6 0M28 38l-3 6M-1 2l6 1M-7 6l-3-4M-8 38l-2 7M7 64l-2 3M-3 19l6 3M-2 33l6 5M-16 23l0 5M-22 42l7-1M-56 55l-2 7M-17 2l-2-7M-20 15l-7-1M-21 14l-5 1M-32 23l3 4M-16-6l4-6M-30-8l-4 2M-36-11l-3 2M-32 8l-3-5M-53 49l4 3M-6-34l-4 2M-20-13l0-4M-26-9l-4-5M-17-20l1-4M-31-19l-3-6M-30-36l-7 1M-36-40l-2 5M-2-19l7-2M4-1l5 2M10-4l4 2M36-14l-1-5M52-27l8 0" stroke-width="3.2"/></g></g>
<g filter="url(#rough4)"><g transform="translate(86.7,0)" fill="none" stroke-linecap="round"><path d="M156.4,725.2 C158,733 156,745 153.9,754.3 C153,758 152.5,761 152.1,764 C149,768 146,770 144.2,772.5 C141,775 139,776 138.2,777.3 C136,781 135,784 134.5,787 C133.5,790 132.5,792 132.1,794.3" stroke="#a0501a" stroke-width="3.5" opacity="0.45"/><path d="M152.1,764 C156,767 159,770 162.4,772.5 C165,774 168,776 170.9,777.3" stroke="#a0501a" stroke-width="2.4" opacity="0.45"/><path d="M152.1,764 C148,761 144,759 140.6,758" stroke="#a0501a" stroke-width="2.0" opacity="0.45"/><path d="M144.2,725.2 C152,728 162,731 170.9,733.7 C177,735.5 182,737 186.7,738.5 C192,740 198,742 203,743.4" stroke="#a0501a" stroke-width="4.8" opacity="0.45"/><path d="M170.9,725.2 C174,728 178,731 183,733.7 C190,733 196,731 203,730" stroke="#a0501a" stroke-width="3.1" opacity="0.45"/><path d="M152.7,796.7 C158,796 165,796 170.9,795.5 C175,794 179,792.5 183,791.9 C187,793 190,796 192.7,799.2" stroke="#a0501a" stroke-width="2.6" opacity="0.45"/><path d="M123.6,739.8 C125,742 126.5,745 127.3,748.2" stroke="#a0501a" stroke-width="2.2" opacity="0.45"/><path d="M121.2,782.2 C122.5,784 123.8,785.5 124.8,787" stroke="#a0501a" stroke-width="2.6" opacity="0.45"/><path d="M192.7,754.3 C196,758 199,762 202.4,766.4" stroke="#a0501a" stroke-width="2.2" opacity="0.45"/><path d="M162,742 C168,748 172,752 176,760" stroke="#a0501a" stroke-width="1.3" opacity="0.45"/><path d="M156.4,725.2 C158,733 156,745 153.9,754.3 C153,758 152.5,761 152.1,764 C149,768 146,770 144.2,772.5 C141,775 139,776 138.2,777.3 C136,781 135,784 134.5,787 C133.5,790 132.5,792 132.1,794.3" stroke="#dcd232" stroke-width="1.6"/><path d="M152.1,764 C156,767 159,770 162.4,772.5 C165,774 168,776 170.9,777.3" stroke="#dcd232" stroke-width="1.1"/><path d="M152.1,764 C148,761 144,759 140.6,758" stroke="#dcd232" stroke-width="0.9"/><path d="M144.2,725.2 C152,728 162,731 170.9,733.7 C177,735.5 182,737 186.7,738.5 C192,740 198,742 203,743.4" stroke="#dcd232" stroke-width="2.2"/><path d="M170.9,725.2 C174,728 178,731 183,733.7 C190,733 196,731 203,730" stroke="#dcd232" stroke-width="1.4"/><path d="M152.7,796.7 C158,796 165,796 170.9,795.5 C175,794 179,792.5 183,791.9 C187,793 190,796 192.7,799.2" stroke="#dcd232" stroke-width="1.2"/><path d="M123.6,739.8 C125,742 126.5,745 127.3,748.2" stroke="#dcd232" stroke-width="1.0"/><path d="M121.2,782.2 C122.5,784 123.8,785.5 124.8,787" stroke="#dcd232" stroke-width="1.2"/><path d="M192.7,754.3 C196,758 199,762 202.4,766.4" stroke="#dcd232" stroke-width="1.0"/><path d="M162,742 C168,748 172,752 176,760" stroke="#dcd232" stroke-width="0.6"/></g></g>
</g>
<g clip-path="url(#ce10)">
<rect x="33.7" y="809.8" width="82.9" height="67.7" fill="#0f4a1c" />
<rect x="33.7" y="809.8" width="82.9" height="67.7" fill="#000" filter="url(#gmot2)"/>
<g filter="url(#rough)"><g transform="translate(52,845) scale(0.5)" fill="none" stroke="#3cb550" stroke-linecap="round" stroke-linejoin="round" opacity="0.9"><path d="M-4-2l7 0l7-1l7 1l7-1l7-2M-4 4l2 6l1 7l-2 7l0 7l-2 7M0 0l-4 6l-5 4l-5 6l-6 4M2 4l-5 5l-5 5l-4 6l-5 5M0-1l-6-3l-7-3l-6-3l-5-5M0 1l1-7l0-7l1-7l0-7l-1-7M-4 4l1-7l0-7l0-7l0-7" stroke-width="8.0"/><path d="M31-5l6-3M-3 31l-3 6M-5 38M-4 6l-6 3l-7 2M-9 10l-7 2l-7 1M-20 20l0 6l-1 7M-8 14l-7 2l-7 0M-12 20l-7 1l-7 1M-6-4l-1-7l2-7M-24-15l-2-6l-4-6M1-13l5-5l6-3M2-27l3-6l4-6M-3-3l-4-6l-4-6M-3-10l6-4l7-2" stroke-width="5.0"/><path d="M3-2l0 4M10-3l5 5M24-3l-1-4M31-5l1-4M-2 10l-6 2M-1 17l-7 4M-6 37l3 6M-20 20l3 4M-20 26l8 0M-26 22l2 5M-13-7l0-6M-26-21l4-7M1-34l5 1M-11-15l4-4M3-14l-2-7M-3-24l-6 1" stroke-width="3.0"/></g></g>
<g filter="url(#rough)"><g transform="translate(95,832) scale(0.5)" fill="none" stroke="#3cb550" stroke-linecap="round" stroke-linejoin="round" opacity="0.85"><path d="M-2-4l7 0l7 1l7 2l6 3M5-4l3 6l2 7l2 7l2 6M1 1l-3 6l-4 6l-2 7l-1 6M4-5l-7 1l-7 1l-6 3l-6 5l-5 5M1-1l-4-6l-5-5l-5-5M-4-3l2-7l2-7l-1-7l1-6" stroke-width="8.0"/><path d="M5-4l5 5l4 6M25 2l5 5l3 7M-2 7l3 6l2 7M-6 13l3 6l1 7M-9 26l-5 5M-16 0l-3 7l-3 6M-27 10l-7 0M-8-12l0-7l-3-6M-2-10l-2-6l-1-7M-1-24l1-6l1-7" stroke-width="5.0"/><path d="M5-4l1 4M33 14l5 1M8 2l5 2M1 13l5 0M-3-4l-4-6M-10-3l0-7M-19 7l4 7M-22 5l-6-2M-3-7l-7-2M-8-19l-7-2" stroke-width="3.0"/></g></g>
</g>
<g clip-path="url(#ce11)">
<rect x="120.6" y="809.8" width="81.7" height="67.7" fill="#300804" />
<rect x="120.6" y="809.8" width="81.7" height="67.7" fill="#000" filter="url(#rmot)"/>
<g filter="url(#rough4)"><g transform="translate(140,830) scale(0.5)" fill="none" stroke="#b86a18" stroke-linecap="round" stroke-linejoin="round" opacity="0.4"><path d="M-5 4l8 1l7 2l8 3l8 1l7 2M0 2l4 6l3 8l2 7l1 8l1 8l3 8M-2 6l-6 5l-5 6l-5 6l-6 5l-4 7M2 4l-6-5l-4-7l-6-6l-6-5l-6-5M2 2l4-7l2-8l4-7l1-8l4-7" stroke-width="6.0"/><path d="M26 11l7 4l5 6M10 31l6 5l6 6M11 39l-7 4l-7 2M14 47l-5 6M-18 23l-8 2l-8 2M-14-14l4-7l5-6M-26-24l0-8l-2-7M8-13l7-4l7-4M13-28l6-5l6-6" stroke-width="4.0"/><path d="M-13 17l-7-1M6-5l8 0" stroke-width="2.4"/></g></g>
<g filter="url(#rough4)"><g transform="translate(175,825) scale(0.5)" fill="none" stroke="#b86a18" stroke-linecap="round" stroke-linejoin="round" opacity="0.4"><path d="M4-3l8-1l8 2l8 0l8 0l8 1l8-1M4-4l2 7l3 8l4 7l4 7l2 8l3 7M0 1l-7 5l-7 4l-6 5l-5 6l-5 6M-1-2l-7-5l-6-5l-6-5l-5-7l-5-5M-2 4l6-6l6-5l7-4l7-4l6-6" stroke-width="6.0"/><path d="M28-2l6 6l6 5M-20 15l-8 2l-8 0" stroke-width="4.0"/><path d="M10-7l4 6" stroke-width="2.4"/></g></g>
<g filter="url(#rough4)"><g transform="translate(150,860) scale(0.5)" fill="none" stroke="#b86a18" stroke-linecap="round" stroke-linejoin="round" opacity="0.4"><path d="M-1 4l6-4l8-2l7-4l7-5l6-5M2-1l2 8l4 7l3 7l5 7l3 7M-4-3l-6 4l-8 4l-7 3l-7 3l-8 4l-7 1M2 0l-6-5l-7-3l-7-4l-6-6l-5-6M5-5l2-8l1-8l1-8l3-8" stroke-width="6.0"/><path d="M13-2l4-7l5-6M27-11l7 4l7 3M19 35l-3 8l-4 7M-25 8l-8 1l-8 0M-32 11l-3 8l-2 8M-40 15l-6 5M-24-18l-8 1l-8-1M-29-24l-2-8l-1-8M7-13l7-4l7-3" stroke-width="4.0"/><path d="M-18 5l-2-4" stroke-width="2.4"/></g></g>
<g filter="url(#rough4)"><g transform="translate(190,860) scale(0.5)" fill="none" stroke="#b86a18" stroke-linecap="round" stroke-linejoin="round" opacity="0.4"><path d="M2-3l8 1l8 1l8 0l8 2l7 3M-5 1l-1 8l-2 8l-3 8l-4 7l-4 6M3-3l-6 5l-7 4l-6 5l-6 6l-5 5l-6 6M3 1l-6-5l-7-4l-6-6l-5-6M3-6l3-7l2-8l4-7l5-6" stroke-width="6.0"/><path d="M18-1l2 8l1 8M26-1l8 1l8 0M34 1l4 7l5 6M41 4l0 8l0 8M-8 17l5 6l6 5M-3 2l-7 3l-7 5M-16 11l-7-4l-8-2M-22 17l-1 7l-1 8M-27 22l-8-3l-7-2M-21-20l0-8l2-7M17-34l-1-8l-1-8" stroke-width="4.0"/><path d="M17-34l4-1" stroke-width="2.4"/></g></g>
<g filter="url(#rough4)"><g transform="translate(130,815) scale(0.5)" fill="none" stroke="#b86a18" stroke-linecap="round" stroke-linejoin="round" opacity="0.4"><path d="M-6-3l8 1l8 2l7 3l8 1l8 3M-4-4l4 7l4 7l5 6l6 6M3 1l-7 4l-5 6l-5 7l-6 5M2-4l-8-3l-7-2l-7-4l-8-2M3 2l-1-8l0-8l-3-7l0-8" stroke-width="6.0"/><path d="M2-2l5-6l3-7M10 0l5 6l7 5M-14 18l-8 0l-7 3M-13-9l-6 5l-6 5M-20-13l-1-8l1-8M2-6l8-3l7-4" stroke-width="4.0"/><path d="M-20-29l5 0" stroke-width="2.4"/></g></g>
<g filter="url(#rough4)"><g transform="translate(165,850) scale(0.5)" fill="none" stroke="#b86a18" stroke-linecap="round" stroke-linejoin="round" opacity="0.4"><path d="M6 0l7 2l7 4l7 5l6 5l6 4l8 3M2 0l0 8l0 8l-3 8l-3 7l-3 7M1 4l-7 4l-6 5l-7 4l-7 2l-8 3M-4 5l-7-2l-8-1l-8 1l-8-1l-8-1M-4-5l2-8l1-8l1-8l1-8" stroke-width="6.0"/><path d="M13 2l-1 8l-3 8M27 11l7-3l7-4M33 16l8 1l7-2M-4 31l-8 0l-8-1M-12 13l1 8l3 8M-19 2l-5-6l-5-7M-43 1l-4-7l-5-7" stroke-width="4.0"/><path d="M41 17l5-6M-7 38l-6 3" stroke-width="2.4"/></g></g>
<g filter="url(#rough4)"><g transform="translate(140,830) scale(0.5)" fill="none" stroke="#f0c230" stroke-linecap="round" stroke-linejoin="round" opacity="0.85"><path d="M-5 4l8 1l7 2l8 3l8 1l7 2M0 2l4 6l3 8l2 7l1 8l1 8l3 8M-2 6l-6 5l-5 6l-5 6l-6 5l-4 7M2 4l-6-5l-4-7l-6-6l-6-5l-6-5M2 2l4-7l2-8l4-7l1-8l4-7" stroke-width="2.8"/><path d="M26 11l7 4l5 6M10 31l6 5l6 6M11 39l-7 4l-7 2M14 47l-5 6M-18 23l-8 2l-8 2M-14-14l4-7l5-6M-26-24l0-8l-2-7M8-13l7-4l7-4M13-28l6-5l6-6" stroke-width="1.8"/><path d="M-13 17l-7-1M6-5l8 0" stroke-width="1.2"/></g></g>
<g filter="url(#rough4)"><g transform="translate(175,825) scale(0.5)" fill="none" stroke="#f0c230" stroke-linecap="round" stroke-linejoin="round" opacity="0.85"><path d="M4-3l8-1l8 2l8 0l8 0l8 1l8-1M4-4l2 7l3 8l4 7l4 7l2 8l3 7M0 1l-7 5l-7 4l-6 5l-5 6l-5 6M-1-2l-7-5l-6-5l-6-5l-5-7l-5-5M-2 4l6-6l6-5l7-4l7-4l6-6" stroke-width="2.8"/><path d="M28-2l6 6l6 5M-20 15l-8 2l-8 0" stroke-width="1.8"/><path d="M10-7l4 6" stroke-width="1.2"/></g></g>
<g filter="url(#rough4)"><g transform="translate(150,860) scale(0.5)" fill="none" stroke="#f0c230" stroke-linecap="round" stroke-linejoin="round" opacity="0.85"><path d="M-1 4l6-4l8-2l7-4l7-5l6-5M2-1l2 8l4 7l3 7l5 7l3 7M-4-3l-6 4l-8 4l-7 3l-7 3l-8 4l-7 1M2 0l-6-5l-7-3l-7-4l-6-6l-5-6M5-5l2-8l1-8l1-8l3-8" stroke-width="2.8"/><path d="M13-2l4-7l5-6M27-11l7 4l7 3M19 35l-3 8l-4 7M-25 8l-8 1l-8 0M-32 11l-3 8l-2 8M-40 15l-6 5M-24-18l-8 1l-8-1M-29-24l-2-8l-1-8M7-13l7-4l7-3" stroke-width="1.8"/><path d="M-18 5l-2-4" stroke-width="1.2"/></g></g>
<g filter="url(#rough4)"><g transform="translate(190,860) scale(0.5)" fill="none" stroke="#f0c230" stroke-linecap="round" stroke-linejoin="round" opacity="0.85"><path d="M2-3l8 1l8 1l8 0l8 2l7 3M-5 1l-1 8l-2 8l-3 8l-4 7l-4 6M3-3l-6 5l-7 4l-6 5l-6 6l-5 5l-6 6M3 1l-6-5l-7-4l-6-6l-5-6M3-6l3-7l2-8l4-7l5-6" stroke-width="2.8"/><path d="M18-1l2 8l1 8M26-1l8 1l8 0M34 1l4 7l5 6M41 4l0 8l0 8M-8 17l5 6l6 5M-3 2l-7 3l-7 5M-16 11l-7-4l-8-2M-22 17l-1 7l-1 8M-27 22l-8-3l-7-2M-21-20l0-8l2-7M17-34l-1-8l-1-8" stroke-width="1.8"/><path d="M17-34l4-1" stroke-width="1.2"/></g></g>
<g filter="url(#rough4)"><g transform="translate(130,815) scale(0.5)" fill="none" stroke="#f0c230" stroke-linecap="round" stroke-linejoin="round" opacity="0.85"><path d="M-6-3l8 1l8 2l7 3l8 1l8 3M-4-4l4 7l4 7l5 6l6 6M3 1l-7 4l-5 6l-5 7l-6 5M2-4l-8-3l-7-2l-7-4l-8-2M3 2l-1-8l0-8l-3-7l0-8" stroke-width="2.8"/><path d="M2-2l5-6l3-7M10 0l5 6l7 5M-14 18l-8 0l-7 3M-13-9l-6 5l-6 5M-20-13l-1-8l1-8M2-6l8-3l7-4" stroke-width="1.8"/><path d="M-20-29l5 0" stroke-width="1.2"/></g></g>
<g filter="url(#rough4)"><g transform="translate(165,850) scale(0.5)" fill="none" stroke="#f0c230" stroke-linecap="round" stroke-linejoin="round" opacity="0.85"><path d="M6 0l7 2l7 4l7 5l6 5l6 4l8 3M2 0l0 8l0 8l-3 8l-3 7l-3 7M1 4l-7 4l-6 5l-7 4l-7 2l-8 3M-4 5l-7-2l-8-1l-8 1l-8-1l-8-1M-4-5l2-8l1-8l1-8l1-8" stroke-width="2.8"/><path d="M13 2l-1 8l-3 8M27 11l7-3l7-4M33 16l8 1l7-2M-4 31l-8 0l-8-1M-12 13l1 8l3 8M-19 2l-5-6l-5-7M-43 1l-4-7l-5-7" stroke-width="1.8"/><path d="M41 17l5-6M-7 38l-6 3" stroke-width="1.2"/></g></g>
</g>
<g clip-path="url(#ce12)">
<rect x="207.1" y="809.8" width="81.9" height="67.7" fill="#173a14" />
<rect x="207.1" y="809.8" width="81.9" height="67.7" fill="#000" filter="url(#gmot2)" transform="translate(0,0)"/>
<g filter="url(#rough)"><g transform="translate(225.4,845) scale(0.5)" fill="none" stroke="#3cb550" stroke-linecap="round" stroke-linejoin="round" opacity="0.9"><path d="M-4-2l7 0l7-1l7 1l7-1l7-2M-4 4l2 6l1 7l-2 7l0 7l-2 7M0 0l-4 6l-5 4l-5 6l-6 4M2 4l-5 5l-5 5l-4 6l-5 5M0-1l-6-3l-7-3l-6-3l-5-5M0 1l1-7l0-7l1-7l0-7l-1-7M-4 4l1-7l0-7l0-7l0-7" stroke-width="8.0"/><path d="M31-5l6-3M-3 31l-3 6M-5 38M-4 6l-6 3l-7 2M-9 10l-7 2l-7 1M-20 20l0 6l-1 7M-8 14l-7 2l-7 0M-12 20l-7 1l-7 1M-6-4l-1-7l2-7M-24-15l-2-6l-4-6M1-13l5-5l6-3M2-27l3-6l4-6M-3-3l-4-6l-4-6M-3-10l6-4l7-2" stroke-width="5.0"/><path d="M3-2l0 4M10-3l5 5M24-3l-1-4M31-5l1-4M-2 10l-6 2M-1 17l-7 4M-6 37l3 6M-20 20l3 4M-20 26l8 0M-26 22l2 5M-13-7l0-6M-26-21l4-7M1-34l5 1M-11-15l4-4M3-14l-2-7M-3-24l-6 1" stroke-width="3.0"/></g></g>
<g filter="url(#rough)"><g transform="translate(268.4,832) scale(0.5)" fill="none" stroke="#3cb550" stroke-linecap="round" stroke-linejoin="round" opacity="0.85"><path d="M-2-4l7 0l7 1l7 2l6 3M5-4l3 6l2 7l2 7l2 6M1 1l-3 6l-4 6l-2 7l-1 6M4-5l-7 1l-7 1l-6 3l-6 5l-5 5M1-1l-4-6l-5-5l-5-5M-4-3l2-7l2-7l-1-7l1-6" stroke-width="8.0"/><path d="M5-4l5 5l4 6M25 2l5 5l3 7M-2 7l3 6l2 7M-6 13l3 6l1 7M-9 26l-5 5M-16 0l-3 7l-3 6M-27 10l-7 0M-8-12l0-7l-3-6M-2-10l-2-6l-1-7M-1-24l1-6l1-7" stroke-width="5.0"/><path d="M5-4l1 4M33 14l5 1M8 2l5 2M1 13l5 0M-3-4l-4-6M-10-3l0-7M-19 7l4 7M-22 5l-6-2M-3-7l-7-2M-8-19l-7-2" stroke-width="3.0"/></g></g>
<g filter="url(#rough4)"><g transform="translate(226.7,830) scale(0.5)" fill="none" stroke="#e8c830" stroke-linecap="round" stroke-linejoin="round" opacity="0.8"><path d="M-5 4l8 1l7 2l8 3l8 1l7 2M0 2l4 6l3 8l2 7l1 8l1 8l3 8M-2 6l-6 5l-5 6l-5 6l-6 5l-4 7M2 4l-6-5l-4-7l-6-6l-6-5l-6-5M2 2l4-7l2-8l4-7l1-8l4-7" stroke-width="2.8"/><path d="M26 11l7 4l5 6M10 31l6 5l6 6M11 39l-7 4l-7 2M14 47l-5 6M-18 23l-8 2l-8 2M-14-14l4-7l5-6M-26-24l0-8l-2-7M8-13l7-4l7-4M13-28l6-5l6-6" stroke-width="1.8"/><path d="M-13 17l-7-1M6-5l8 0" stroke-width="1.2"/></g></g>
<g filter="url(#rough4)"><g transform="translate(261.7,825) scale(0.5)" fill="none" stroke="#e8c830" stroke-linecap="round" stroke-linejoin="round" opacity="0.8"><path d="M4-3l8-1l8 2l8 0l8 0l8 1l8-1M4-4l2 7l3 8l4 7l4 7l2 8l3 7M0 1l-7 5l-7 4l-6 5l-5 6l-5 6M-1-2l-7-5l-6-5l-6-5l-5-7l-5-5M-2 4l6-6l6-5l7-4l7-4l6-6" stroke-width="2.8"/><path d="M28-2l6 6l6 5M-20 15l-8 2l-8 0" stroke-width="1.8"/><path d="M10-7l4 6" stroke-width="1.2"/></g></g>
<g filter="url(#rough4)"><g transform="translate(236.7,860) scale(0.5)" fill="none" stroke="#e8c830" stroke-linecap="round" stroke-linejoin="round" opacity="0.8"><path d="M-1 4l6-4l8-2l7-4l7-5l6-5M2-1l2 8l4 7l3 7l5 7l3 7M-4-3l-6 4l-8 4l-7 3l-7 3l-8 4l-7 1M2 0l-6-5l-7-3l-7-4l-6-6l-5-6M5-5l2-8l1-8l1-8l3-8" stroke-width="2.8"/><path d="M13-2l4-7l5-6M27-11l7 4l7 3M19 35l-3 8l-4 7M-25 8l-8 1l-8 0M-32 11l-3 8l-2 8M-40 15l-6 5M-24-18l-8 1l-8-1M-29-24l-2-8l-1-8M7-13l7-4l7-3" stroke-width="1.8"/><path d="M-18 5l-2-4" stroke-width="1.2"/></g></g>
<g filter="url(#rough4)"><g transform="translate(276.7,860) scale(0.5)" fill="none" stroke="#e8c830" stroke-linecap="round" stroke-linejoin="round" opacity="0.8"><path d="M2-3l8 1l8 1l8 0l8 2l7 3M-5 1l-1 8l-2 8l-3 8l-4 7l-4 6M3-3l-6 5l-7 4l-6 5l-6 6l-5 5l-6 6M3 1l-6-5l-7-4l-6-6l-5-6M3-6l3-7l2-8l4-7l5-6" stroke-width="2.8"/><path d="M18-1l2 8l1 8M26-1l8 1l8 0M34 1l4 7l5 6M41 4l0 8l0 8M-8 17l5 6l6 5M-3 2l-7 3l-7 5M-16 11l-7-4l-8-2M-22 17l-1 7l-1 8M-27 22l-8-3l-7-2M-21-20l0-8l2-7M17-34l-1-8l-1-8" stroke-width="1.8"/><path d="M17-34l4-1" stroke-width="1.2"/></g></g>
<g filter="url(#rough4)"><g transform="translate(216.7,815) scale(0.5)" fill="none" stroke="#e8c830" stroke-linecap="round" stroke-linejoin="round" opacity="0.8"><path d="M-6-3l8 1l8 2l7 3l8 1l8 3M-4-4l4 7l4 7l5 6l6 6M3 1l-7 4l-5 6l-5 7l-6 5M2-4l-8-3l-7-2l-7-4l-8-2M3 2l-1-8l0-8l-3-7l0-8" stroke-width="2.8"/><path d="M2-2l5-6l3-7M10 0l5 6l7 5M-14 18l-8 0l-7 3M-13-9l-6 5l-6 5M-20-13l-1-8l1-8M2-6l8-3l7-4" stroke-width="1.8"/><path d="M-20-29l5 0" stroke-width="1.2"/></g></g>
<g filter="url(#rough4)"><g transform="translate(251.7,850) scale(0.5)" fill="none" stroke="#e8c830" stroke-linecap="round" stroke-linejoin="round" opacity="0.8"><path d="M6 0l7 2l7 4l7 5l6 5l6 4l8 3M2 0l0 8l0 8l-3 8l-3 7l-3 7M1 4l-7 4l-6 5l-7 4l-7 2l-8 3M-4 5l-7-2l-8-1l-8 1l-8-1l-8-1M-4-5l2-8l1-8l1-8l1-8" stroke-width="2.8"/><path d="M13 2l-1 8l-3 8M27 11l7-3l7-4M33 16l8 1l7-2M-4 31l-8 0l-8-1M-12 13l1 8l3 8M-19 2l-5-6l-5-7M-43 1l-4-7l-5-7" stroke-width="1.8"/><path d="M41 17l5-6M-7 38l-6 3" stroke-width="1.2"/></g></g>
</g>
<rect x="84" y="784" width="32.6" height="20" fill="#000" opacity="0.55"/>
<rect x="84" y="860" width="32.6" height="17.5" fill="#000" opacity="0.45"/>
<text x="100" y="796" font-size="10.5" fill="#fff" text-anchor="middle">10µm</text>
<rect x="87" y="799.5" width="28" height="2" fill="#fff"/>
<text x="100" y="871" font-size="10.5" fill="#fff" text-anchor="middle">10µm</text>
<rect x="87" y="874" width="28" height="2" fill="#fff"/>
<defs><filter id="gry" x="0" y="0" width="100%" height="100%" color-interpolation-filters="sRGB"><feTurbulence type="fractalNoise" baseFrequency="0.18" numOctaves="4" seed="41"/><feColorMatrix type="matrix" values="0.2 0 0 0 0.36  0.2 0 0 0 0.4  0.2 0 0 0 0.41  0 0 0 0 1"/></filter></defs>
<rect x="17.3" y="1028.2" width="127.2" height="94.5" fill="#6b7578" filter="url(#gry)"/>
<path d="M17.3,1075 L35,1079 L17.3,1081 Z" fill="#3a4244" opacity="0.7"/>
<path d="M144.5,1072 L112,1077 L144.5,1083 Z" fill="#3a4244" opacity="0.7"/>
<text x="31" y="1113" font-size="9" font-weight="bold" fill="#fff" text-anchor="middle">20µm</text>
<rect x="21.5" y="1116.5" width="18.5" height="1.6" fill="#fff"/>
<rect x="18.6" y="925.5" width="124.8" height="90.6" rx="8" fill="#e9e9eb" stroke="#a8a8ac" stroke-width="2"/>
<text x="25" y="939.5" font-size="9.5" font-weight="bold" fill="#333">CeL/C</text>
<circle cx="42" cy="960.7" r="6.2" fill="#8e9196" stroke="#6c6f74" stroke-width="0.8"/>
<circle cx="86.2" cy="943" r="6.2" fill="#8e9196" stroke="#6c6f74" stroke-width="0.8"/>
<circle cx="91.2" cy="1002.7" r="6.2" fill="#8e9196" stroke="#6c6f74" stroke-width="0.8"/>
<path d="M115.6,945.7 C118.8,941.9 123.6,945.1 127.2,941.1 M115.6,945.7 C120.2,947.6 118.6,953.1 123.5,955.4 M115.6,945.7 C115.3,950.7 109.5,950.9 108.9,956.2 M115.6,945.7 C110.7,946.9 108.8,941.5 103.5,942.6 M115.6,945.7 C112.9,941.5 117.5,937.9 114.9,933.2" fill="none" stroke="#3bb54a" stroke-width="2.4" stroke-linecap="round"/><path d="M111.1,945.7 a4.5,4.5 0 1,0 9.0,0 a4.5,4.5 0 1,0 -9.0,0" fill="#3bb54a"/>
<path d="M42.0,991.7 C46.9,990.8 48.5,996.4 53.8,995.7 M42.0,991.7 C44.4,996.1 39.6,999.3 41.9,1004.2 M42.0,991.7 C38.5,995.3 34.0,991.7 30.1,995.4 M42.0,991.7 C37.5,989.5 39.5,984.1 34.8,981.5 M42.0,991.7 C42.7,986.7 48.5,987.0 49.5,981.7" fill="none" stroke="#3bb54a" stroke-width="2.4" stroke-linecap="round"/><path d="M37.5,991.7 a4.5,4.5 0 1,0 9.0,0 a4.5,4.5 0 1,0 -9.0,0" fill="#3bb54a"/>
<defs><linearGradient id="pipg" x1="0" y1="0" x2="1" y2="0"><stop offset="0" stop-color="#7fb0cf"/><stop offset="0.5" stop-color="#d8eaf5"/><stop offset="1" stop-color="#8cbad6"/></linearGradient></defs>
<path d="M57.4,957.3 L65.6,967.8" stroke="#333" stroke-width="0.6"/><g transform="translate(63.1,964.6) rotate(52.1)"><path d="M0,-3.9 L42.8,0 L0,3.9 Z" fill="url(#pipg)" stroke="#4d6678" stroke-width="0.6" gradientTransform=""/><path d="M0,-1.4 L15.0,-0.6" stroke="#4d6678" stroke-width="0.5"/><ellipse cx="0" cy="0" rx="1.3" ry="3.9" fill="#b8d6ea" stroke="#4d6678" stroke-width="0.6"/></g>
<path d="M161.2,951.1 L150.4,960.0" stroke="#333" stroke-width="0.6"/><g transform="translate(153.4,957.3) rotate(138.3)"><path d="M0,-3.9 L44.6,0 L0,3.9 Z" fill="url(#pipg)" stroke="#4d6678" stroke-width="0.6" gradientTransform=""/><path d="M0,-1.4 L15.6,-0.6" stroke="#4d6678" stroke-width="0.5"/><ellipse cx="0" cy="0" rx="1.3" ry="3.9" fill="#b8d6ea" stroke="#4d6678" stroke-width="0.6"/></g>
<path d="M120.5,986.5 L115.5,990 M121,987.5 L116.5,991.5 M119.5,985.5 L114.5,988.5" stroke="#555" stroke-width="0.5"/>
<path d="M117.1,996.9A3.2,3.2 0 0,1 114.2,1000.3A3.2,3.2 0 0,1 109.0,1001.1A3.2,3.2 0 0,1 104.7,998.8A3.2,3.2 0 0,1 103.7,994.7A3.2,3.2 0 0,1 106.6,991.3A3.2,3.2 0 0,1 111.8,990.5A3.2,3.2 0 0,1 116.1,992.8A3.2,3.2 0 0,1 117.1,996.9Z" fill="#fff" stroke="#555" stroke-width="0.6" stroke-dasharray="1.2,0.7"/>
<text x="110" y="999" font-size="8" fill="#333" text-anchor="middle">K<tspan font-size="5" dy="-3.5">+</tspan></text>
<text x="0" y="16" font-size="17.5" fill="#000" text-anchor="start" font-weight="bold">a</text>
<text x="275" y="16" font-size="17.5" fill="#000" text-anchor="start" font-weight="bold">b</text>
<text x="0" y="260" font-size="17.5" fill="#000" text-anchor="start" font-weight="bold">c</text>
<text x="0" y="470" font-size="17.5" fill="#000" text-anchor="start" font-weight="bold">d</text>
<text x="0" y="721" font-size="17.5" fill="#000" text-anchor="start" font-weight="bold">e</text>
<text x="2" y="919" font-size="17.5" fill="#000" text-anchor="start" font-weight="bold">f</text>
<text x="152" y="919" font-size="17.5" fill="#000" text-anchor="start" font-weight="bold">g</text>
<text x="286" y="919" font-size="17.5" fill="#000" text-anchor="start" font-weight="bold">h</text>
<text x="489" y="919" font-size="17.5" fill="#000" text-anchor="start" font-weight="bold">i</text>
<g>
<path d="M78.5,30.5 C84,28.5 90,24.5 94.5,25 C97.5,26.5 95,30.5 90.5,33.5" fill="none" stroke="#b98a82" stroke-width="1.4" stroke-linecap="round"/>
<path d="M77,35 L80.5,37.5 L78,38.5 Z" fill="#c1928a"/>
<path d="M54,41 L57.5,41 L57.8,46.5 L57,48.3 L51.8,48.3 L52.5,47 L55,46.5 Z" fill="#c1928a"/>
<path d="M66.5,43 L71,43 L71,49.5 L73.8,51.8 L67.3,52.3 L68,50 Z" fill="#c1928a"/>
<path d="M53,40 L57.8,40 L57.8,45 L54,45 Z M66.5,42 L71,42 L71,47.5 L67,47.5 Z" fill="#4b4b4e"/>
<path d="M44.7,27 C46,23 49,21 52.4,20.5 C58,19.5 66,20 71.8,23 C76,25 79,28 79.2,32 C79.5,36 78,40 74,43 C70,46 64,46.5 59,44.5 C55,42.5 52,39 50,35 C48,32 46,29.5 44.7,27 Z" fill="#4b4b4e"/>
<path d="M49.5,21.5 L52.5,14.5 L55,20.5 Z" fill="#4b4b4e"/><path d="M50.5,20.5 L52.6,15.8 L53,20.5Z" fill="#b98a82"/>
<ellipse cx="64.6" cy="21.8" rx="4.4" ry="5.3" fill="#b98a82"/>
<circle cx="45.3" cy="26.9" r="1.1" fill="#c99a94"/><circle cx="55.2" cy="24.5" r="0.9" fill="#111"/>
</g>
<text x="24.3" y="69.6" font-size="14.3" fill="#1a1a1a" text-anchor="start">OTR fl/fl mice</text>
<line x1="6" y1="83.5" x2="132" y2="83.5" stroke="#4d4f53" stroke-width="1.3"/>
<circle cx="6.5" cy="83.5" r="1.6" fill="#4d4f53"/><circle cx="131.5" cy="83.5" r="1.6" fill="#4d4f53"/>
<rect x="11.6" y="77.2" width="7.2" height="12.6" fill="#d3d5d8"/>
<rect x="117.5" y="77.2" width="6.8" height="12.6" fill="#d3d5d8"/>
<rect x="21" y="77.2" width="21.9" height="12.6" fill="#a7aab0"/>
<rect x="46" y="77.2" width="68.4" height="12.6" fill="#3db54a"/>
<text x="79.5" y="86.8" font-size="9.4" fill="#1b3a1e" text-anchor="middle">GFP-IRES-Cre</text>
<text x="24.5" y="86.4" font-size="9" fill="#333" text-anchor="start">P</text>
<text x="29.6" y="88.0" font-size="4.6" fill="#444" text-anchor="start">GFAP</text>
<text x="17.2" y="83.5" font-size="5.6" fill="#555" text-anchor="middle" transform="rotate(-90 17.2 83.5)">ITR</text>
<text x="122.9" y="83.5" font-size="5.6" fill="#555" text-anchor="middle" transform="rotate(-90 122.9 83.5)">ITR</text>
<line x1="6" y1="101.3" x2="132" y2="101.3" stroke="#4d4f53" stroke-width="1.3"/>
<circle cx="6.5" cy="101.3" r="1.6" fill="#4d4f53"/><circle cx="131.5" cy="101.3" r="1.6" fill="#4d4f53"/>
<rect x="11.6" y="95.0" width="7.2" height="12.6" fill="#d3d5d8"/>
<rect x="117.5" y="95.0" width="6.8" height="12.6" fill="#d3d5d8"/>
<rect x="21" y="95.0" width="21.9" height="12.6" fill="#a7aab0"/>
<rect x="46" y="95.0" width="68.4" height="12.6" fill="#3db54a"/>
<text x="81" y="104.6" font-size="9.4" fill="#1b3a1e" text-anchor="middle">eGFP</text>
<text x="24.5" y="104.2" font-size="9" fill="#333" text-anchor="start">P</text>
<text x="29.6" y="105.8" font-size="4.6" fill="#444" text-anchor="start">GFAP</text>
<text x="17.2" y="101.3" font-size="5.6" fill="#555" text-anchor="middle" transform="rotate(-90 17.2 101.3)">ITR</text>
<text x="122.9" y="101.3" font-size="5.6" fill="#555" text-anchor="middle" transform="rotate(-90 122.9 101.3)">ITR</text>
<path d="M69.5,130.2 C62,125 55,124.5 49,125.1 C40,126 32,128.5 26.6,132.3 C15,141 8,156 8.2,171.1 C8.3,185 11,195 15.3,201.7 C19,209 24,214 30.7,216 C38,218 45,213 50.1,204.8 C51,209 52,212 53.1,214 C58,217 64,216 69.5,215 C75,216 81,217 85.9,214 C87,212 88,209 88.9,204.8 C94,213 101,218 108.3,216 C115,214 120,209 123.7,201.7 C128,195 130.7,185 130.8,171.1 C131,156 124,141 112.4,132.3 C107,128.5 99,126 90,125.1 C84,124.5 77,125 69.5,130.2 Z" fill="#c8cace" stroke="#a3a5a9" stroke-width="0.6"/>
<path d="M69.5,137 C60,132 45,134 36.8,139.5 C29,146 26,160 27.5,175 C29,190 36,201 47,206 C55,210 62,211 69.5,213 C77,211 84,210 92,206 C103,201 110,190 111.5,175 C113,160 110,146 102.2,139.5 C94,134 79,132 69.5,137 Z" fill="#d6d7da" stroke="#ececed" stroke-width="1.2"/>
<path d="M40,192 C36,180 38,172 44,168 M99,192 C103,180 101,172 95,168" fill="none" stroke="#e8e8ea" stroke-width="3"/>
<path d="M36,158 C40,145 56,140 67,149 M103,158 C99,145 83,140 72,149" fill="none" stroke="#efeff1" stroke-width="3.2"/>
<path d="M37,159 C41,147 56,142 66,151 M102,159 C98,147 83,142 73,151" fill="none" stroke="#8f9196" stroke-width="0.6"/>
<path d="M42,156 C47,150 55,149 61,154 M97,156 C92,150 84,149 78,154" fill="none" stroke="#9a9ca0" stroke-width="0.6"/>
<path d="M69.5,150 L67.5,156 L69,158 L67.8,163 L69.5,166 L71.2,163 L70,158 L71.5,156 Z" fill="#fff"/>
<path d="M105,160 L107,168 L105.5,174 L104,168 Z M34,160 L32,168 L33.5,174 L35,168 Z" fill="#fff"/>
<path d="M48,180 C56,186 64,186 68,182 M91,180 C83,186 75,186 71,182" fill="none" stroke="#e6e6e8" stroke-width="2"/>
<circle cx="64" cy="171" r="1.8" fill="#e4e5e7"/>
<circle cx="75" cy="171" r="1.8" fill="#e4e5e7"/>
<circle cx="62" cy="195" r="1.3" fill="#e4e5e7"/>
<circle cx="77" cy="195" r="1.3" fill="#e4e5e7"/>
<circle cx="60" cy="205" r="1.5" fill="#e4e5e7"/>
<circle cx="79" cy="205" r="1.5" fill="#e4e5e7"/>
<path d="M107,184 C109,181 113,180 113,182 C112,185 109,186 107,184Z" fill="#2f9e3e"/>
<path d="M28,180 C29,178 32,178 33,180 C33,183 31,184 30,184 C29,183 28,182 28,180Z" fill="#2f9e3e"/>
<line x1="30.3" y1="163" x2="30.3" y2="181" stroke="#555" stroke-width="0.8"/>
<rect x="26.5" y="121" width="9.5" height="43" fill="#c7cacc" stroke="#8c8f93" stroke-width="0.6"/>
<rect x="26.8" y="137.5" width="8.9" height="23" fill="#3fa157"/>
<rect x="26.5" y="160.5" width="9.5" height="3.5" fill="#333"/>
<rect x="24" y="119.5" width="14.5" height="2.2" fill="#6f7276"/>
<rect x="30.2" y="113" width="2.2" height="7" fill="#555"/>
<rect x="27.5" y="113" width="7.5" height="1.6" fill="#555"/>
<path d="M101.4,336.6C107.0,336.1 112.4,334.5 116.4,330.9M116.4,330.9C118.2,327.0 121.9,324.3 124.7,321.9M101.4,336.6C104.5,340.6 111.4,339.0 113.3,345.2M113.3,345.2C116.4,347.1 120.4,343.7 123.4,347.5M93.5,351.2C98.5,350.6 103.6,351.6 107.7,354.2M107.7,354.2C111.1,352.2 114.8,350.9 118.8,352.7M107.7,354.2C110.4,356.6 113.5,358.3 115.9,360.3M93.5,351.2C95.2,355.2 95.1,359.7 100.6,361.4M100.6,361.4C103.5,362.4 105.5,365.0 108.3,365.2M100.6,361.4C101.8,364.1 102.1,367.0 102.9,369.3M85.4,359.5C89.7,361.3 94.0,362.9 97.2,365.5M97.2,365.5C100.6,365.1 103.7,367.7 106.8,366.9M85.4,359.5C86.1,364.3 91.4,367.1 88.9,372.9M88.9,372.9C90.9,375.5 90.3,379.2 94.3,380.4M88.9,372.9C86.9,375.2 87.7,379.0 86.1,381.3M79.1,368.8C84.4,371.7 90.8,372.2 92.1,380.4M92.1,380.4C93.3,385.5 98.5,388.5 95.7,394.8M79.1,368.8C76.4,375.3 76.1,382.6 77.3,389.0M77.3,389.0C75.6,394.1 68.6,395.4 69.5,402.2M63.3,366.7C65.0,372.0 66.7,377.3 70.8,380.7M70.8,380.7C70.6,384.9 74.5,388.4 72.3,392.8M63.3,366.7C61.1,371.6 57.3,375.6 54.0,378.9M54.0,378.9C51.8,382.3 49.4,385.6 51.8,390.3M54.0,378.9C50.0,379.4 46.1,380.7 43.9,384.3M51.8,363.5C48.7,368.6 46.6,374.4 48.7,380.5M48.7,380.5C49.3,384.9 52.9,388.2 53.5,392.2M51.8,363.5C46.8,365.0 42.6,368.6 40.1,372.9M40.1,372.9C38.7,375.9 36.4,378.5 36.3,381.7M40.1,372.9C36.8,374.6 32.8,373.9 30.0,376.1M46.4,359.1C46.0,365.5 49.5,371.5 43.2,377.1M43.2,377.1C43.7,381.2 46.5,384.7 46.3,388.5M46.4,359.1C42.6,364.3 36.0,366.7 30.3,367.9M30.3,367.9C28.3,372.0 22.3,372.2 21.9,377.8M30.3,367.9C26.2,368.0 22.2,367.1 18.6,367.8M35.2,341.0C29.7,343.0 26.0,348.3 21.2,350.1M21.2,350.1C18.6,354.3 15.1,357.9 14.4,362.5M21.2,350.1C17.2,350.3 13.3,351.6 9.8,350.7M35.2,341.0C30.1,341.3 25.3,338.8 21.0,338.4M21.0,338.4C17.2,339.6 13.2,336.3 9.5,339.8M21.0,338.4C18.6,335.0 13.5,334.8 11.3,331.7M32.7,330.5C26.8,333.6 20.3,335.1 14.5,335.5M14.5,335.5C10.2,337.4 9.3,343.2 4.2,343.9M32.7,330.5C26.4,326.6 18.0,328.6 14.5,319.8M14.5,319.8C8.6,320.8 2.8,317.7 -2.5,320.4M14.5,319.8C12.1,314.3 4.6,312.9 3.4,306.6M41.4,317.1C35.5,317.0 29.5,318.0 24.8,313.6M24.8,313.6C20.6,311.9 19.4,306.5 15.5,304.8M41.4,317.1C38.7,312.4 37.0,307.1 33.2,303.9M33.2,303.9C29.6,301.8 26.8,298.7 23.2,297.6M33.2,303.9C33.4,299.9 30.6,296.4 31.7,292.6M53.8,302.9C48.6,299.5 44.8,294.3 39.8,291.9M39.8,291.9C36.0,293.0 32.2,293.8 28.6,290.7M53.8,302.9C52.2,297.9 49.3,293.3 52.5,287.8M52.5,287.8C51.8,283.4 49.5,279.5 45.7,277.1M52.5,287.8C54.5,285.0 53.9,281.0 54.7,278.2M63.5,303.0C61.7,298.5 62.9,293.2 57.2,290.5M57.2,290.5C53.5,288.7 49.7,287.3 47.4,284.1M57.2,290.5C55.7,287.1 55.5,283.2 57.4,279.7M63.5,303.0C67.2,298.1 70.3,292.7 69.6,286.5M69.6,286.5C71.5,281.8 68.8,276.4 68.7,272.1M78.8,305.2C78.4,300.3 81.6,295.8 77.1,291.3M77.1,291.3C74.5,289.0 75.2,284.7 72.5,282.6M77.1,291.3C78.3,287.9 79.3,284.4 79.5,281.3M78.8,305.2C82.0,301.0 88.7,301.7 89.3,294.5M89.3,294.5C89.5,290.8 91.1,287.2 92.8,284.4M86.6,309.6C87.4,303.8 89.5,298.1 90.4,293.2M90.4,293.2C88.5,289.1 87.6,284.5 89.2,280.2M90.4,293.2C92.7,289.2 96.8,286.6 100.0,284.3M86.6,309.6C91.0,305.1 95.1,300.3 101.8,300.1M101.8,300.1C104.1,296.0 109.4,294.5 108.5,288.5M101.8,300.1C106.2,300.1 110.5,299.2 114.3,300.4M97.5,326.4C102.3,323.2 107.5,320.8 110.0,315.8M110.0,315.8C112.6,313.5 114.7,310.7 114.6,307.0M110.0,315.8C114.3,313.9 119.3,317.6 123.5,314.3M97.5,326.4C102.6,326.2 107.7,327.4 111.9,328.9" fill="none" stroke="#7cc68a" stroke-width="1.8" stroke-linecap="round"/>
<path d="M77.4,335.2C85.5,333.0 93.0,328.9 101.4,336.6M76.0,340.5C79.9,346.5 84.3,352.2 93.5,351.2M73.4,343.3C75.8,350.0 82.5,354.1 85.4,359.5M71.4,344.5C77.5,351.0 80.2,360.0 79.1,368.8M65.2,345.1C62.1,352.0 66.9,360.2 63.3,366.7M62.2,343.8C57.2,349.8 54.2,357.1 51.8,363.5M60.0,342.0C54.2,347.1 47.9,351.5 46.4,359.1M57.5,336.4C49.5,335.5 41.6,334.9 35.2,341.0M57.4,334.3C49.0,332.1 41.4,327.3 32.7,330.5M60.0,328.5C52.4,327.7 45.2,324.7 41.4,317.1M63.5,326.1C61.6,317.5 63.7,308.5 53.8,302.9M65.5,325.5C65.1,317.6 61.5,310.2 63.5,303.0M70.8,325.9C71.8,318.2 74.9,310.9 78.8,305.2M73.7,327.5C80.3,323.5 80.3,313.6 86.6,309.6M76.8,331.8C84.1,330.1 91.8,331.1 97.5,326.4" fill="none" stroke="#7cc68a" stroke-width="2.8" stroke-linecap="round"/>
<polygon points="80.1,335.3 77.3,337.4 76.4,339.3 77.7,342.8 74.9,343.6 72.5,344.2 71.6,348.1 68.5,345.9 66.2,346.6 63.4,347.5 62.4,343.9 59.9,343.6 55.8,343.7 57.0,339.9 57.1,337.5 54.2,335.3 57.7,333.2 57.1,330.7 56.0,327.1 60.3,327.4 61.9,325.7 63.4,322.9 66.3,324.8 68.6,324.0 71.3,323.2 72.8,326.0 74.0,328.0 78.9,327.0 77.6,330.8 78.0,333.1" fill="#8fcb98" stroke="#8fcb98" stroke-width="1.5" stroke-linejoin="round"/>
<circle cx="67.4" cy="335.3" r="15.3" fill="none" stroke="#222" stroke-width="0.9"/>
<circle cx="67.4" cy="335.3" r="23.5" fill="none" stroke="#222" stroke-width="0.9"/>
<circle cx="67.4" cy="335.3" r="31.7" fill="none" stroke="#222" stroke-width="0.9"/>
<circle cx="67.4" cy="335.3" r="39.9" fill="none" stroke="#222" stroke-width="0.9"/>
<circle cx="67.4" cy="335.3" r="48" fill="none" stroke="#222" stroke-width="0.9"/>
<circle cx="67.4" cy="335.3" r="55.6" fill="none" stroke="#222" stroke-width="0.9"/>
<circle cx="67.4" cy="335.3" r="63.4" fill="none" stroke="#222" stroke-width="0.9"/>
<path d="M189.5,264.5 H194.5 V396.8 H453.6" fill="none" stroke="#1a1a1a" stroke-width="1.3"/>
<line x1="189.5" y1="396.8" x2="194.5" y2="396.8" stroke="#1a1a1a" stroke-width="1.3"/>
<text x="185.4" y="401.90000000000003" font-size="14.3" fill="#1a1a1a" text-anchor="end">0</text>
<line x1="189.5" y1="354.1" x2="194.5" y2="354.1" stroke="#1a1a1a" stroke-width="1.3"/>
<text x="185.4" y="359.15000000000003" font-size="14.3" fill="#1a1a1a" text-anchor="end">10</text>
<line x1="189.5" y1="311.3" x2="194.5" y2="311.3" stroke="#1a1a1a" stroke-width="1.3"/>
<text x="185.4" y="316.40000000000003" font-size="14.3" fill="#1a1a1a" text-anchor="end">20</text>
<line x1="189.5" y1="264.5" x2="194.5" y2="264.5" stroke="#1a1a1a" stroke-width="1.3"/>
<text x="185.4" y="273.8" font-size="14.3" fill="#1a1a1a" text-anchor="end">30</text>
<text x="194.5" y="418.3" font-size="14.3" fill="#1a1a1a" text-anchor="middle">0</text>
<line x1="225.1" y1="396.8" x2="225.1" y2="402.3" stroke="#1a1a1a" stroke-width="1.3"/>
<text x="225.06" y="418.3" font-size="14.3" fill="#1a1a1a" text-anchor="middle">10</text>
<line x1="255.6" y1="396.8" x2="255.6" y2="402.3" stroke="#1a1a1a" stroke-width="1.3"/>
<text x="255.62" y="418.3" font-size="14.3" fill="#1a1a1a" text-anchor="middle">20</text>
<line x1="286.2" y1="396.8" x2="286.2" y2="402.3" stroke="#1a1a1a" stroke-width="1.3"/>
<text x="286.18" y="418.3" font-size="14.3" fill="#1a1a1a" text-anchor="middle">30</text>
<line x1="316.7" y1="396.8" x2="316.7" y2="402.3" stroke="#1a1a1a" stroke-width="1.3"/>
<text x="316.74" y="418.3" font-size="14.3" fill="#1a1a1a" text-anchor="middle">40</text>
<line x1="347.3" y1="396.8" x2="347.3" y2="402.3" stroke="#1a1a1a" stroke-width="1.3"/>
<text x="347.3" y="418.3" font-size="14.3" fill="#1a1a1a" text-anchor="middle">50</text>
<line x1="377.9" y1="396.8" x2="377.9" y2="402.3" stroke="#1a1a1a" stroke-width="1.3"/>
<text x="377.86" y="418.3" font-size="14.3" fill="#1a1a1a" text-anchor="middle">60</text>
<line x1="408.4" y1="396.8" x2="408.4" y2="402.3" stroke="#1a1a1a" stroke-width="1.3"/>
<text x="408.42" y="418.3" font-size="14.3" fill="#1a1a1a" text-anchor="middle">70</text>
<line x1="439.0" y1="396.8" x2="439.0" y2="402.3" stroke="#1a1a1a" stroke-width="1.3"/>
<text x="438.98" y="418.3" font-size="14.3" fill="#1a1a1a" text-anchor="middle">80</text>
<text x="315.5" y="438.2" font-size="15.5" fill="#1a1a1a" text-anchor="middle">Distance from the soma (µm)</text>
<text x="160.6" y="332.8" font-size="15.2" fill="#1a1a1a" text-anchor="middle" transform="rotate(-90 160.6 332.8)">Sholl intersections</text>
<path d="M203.7,382.4V385.7M206.7,374.5V378.9M209.8,368.1V373.2M212.8,361.8V367.7M215.9,355.0V361.7M218.9,348.0V355.6M222.0,341.4V349.8M225.1,335.7V344.7M228.1,330.5V340.2M231.2,325.8V336.0M234.2,321.5V332.3M237.3,318.5V329.7M240.3,315.8V327.3M243.4,313.6V325.3M246.5,312.1V324.1M249.5,311.7V323.7M252.6,311.7V323.7M255.6,311.7V323.7M258.7,311.8V323.7M261.7,312.9V324.7M264.8,315.1V326.6M267.8,317.4V328.7M270.9,320.0V331.0M274.0,323.1V333.7M277.0,326.7V336.8M280.1,331.5V341.0M283.1,337.0V345.9M286.2,342.2V350.5M289.2,346.9V354.6M292.3,351.2V358.4M295.3,355.0V361.7M298.4,358.0V364.4M301.5,360.7V366.7M304.5,363.1V368.8M307.6,365.6V371.1M310.6,368.4V373.5M313.7,371.5V376.2M316.7,374.5V378.9M319.8,377.1V381.1M322.9,379.2V383.0M325.9,381.2V384.7M329.0,383.0V386.3M332.0,384.6V387.7M335.1,386.0V388.9" stroke="#111" stroke-width="0.9"/>
<path d="M194.5 396.8h0M197.6 394.3h0M200.6 390.4h0M203.7 384.1h0M206.7 376.7h0M209.8 370.7h0M212.8 364.7h0M215.9 358.4h0M218.9 351.8h0M222.0 345.6h0M225.1 340.2h0M228.1 335.4h0M231.2 330.9h0M234.2 326.9h0M237.3 324.1h0M240.3 321.6h0M243.4 319.5h0M246.5 318.1h0M249.5 317.7h0M252.6 317.7h0M255.6 317.7h0M258.7 317.7h0M261.7 318.8h0M264.8 320.8h0M267.8 323.1h0M270.9 325.5h0M274.0 328.4h0M277.0 331.8h0M280.1 336.2h0M283.1 341.5h0M286.2 346.4h0M289.2 350.7h0M292.3 354.8h0M295.3 358.3h0M298.4 361.2h0M301.5 363.7h0M304.5 366.0h0M307.6 368.3h0M310.6 371.0h0M313.7 373.9h0M316.7 376.7h0M319.8 379.1h0M322.9 381.1h0M325.9 383.0h0M329.0 384.6h0M332.0 386.1h0M335.1 387.5h0M338.1 388.7h0M341.2 389.9h0M344.2 390.9h0M347.3 391.7h0M350.4 392.3h0M353.4 393.0h0M356.5 393.5h0M359.5 394.0h0M362.6 394.4h0M365.6 394.8h0M368.7 395.1h0M371.7 395.3h0M374.8 395.6h0M377.9 395.8h0M380.9 396.0h0M384.0 396.1h0M387.0 396.2h0M390.1 396.3h0M393.1 396.4h0M396.2 396.4h0M399.3 396.4h0M402.3 396.4h0M405.4 396.5h0M408.4 396.5h0M411.5 396.5h0M414.5 396.5h0M417.6 396.5h0M420.6 396.5h0M423.7 396.5h0M426.8 396.6h0M429.8 396.6h0M432.9 396.6h0M435.9 396.6h0M439.0 396.6h0M442.0 396.6h0M445.1 396.6h0M448.1 396.6h0" stroke="#d87e96" stroke-width="5" stroke-linecap="round"/>
<path d="M203.7,381.5V385.0M206.7,373.2V377.7M209.8,366.3V371.6M212.8,359.5V365.7M215.9,352.3V359.3M218.9,344.8V352.8M222.0,337.9V346.7M225.1,332.0V341.5M228.1,326.9V337.1M231.2,322.0V332.8M234.2,317.4V328.7M237.3,314.1V325.8M240.3,311.0V323.1M243.4,308.4V320.8M246.5,306.7V319.3M249.5,306.3V318.9M252.6,306.3V318.9M255.6,306.3V318.9M258.7,306.3V318.9M261.7,307.4V319.9M264.8,309.6V321.8M267.8,312.0V323.9M270.9,314.7V326.3M274.0,318.2V329.4M277.0,322.2V332.9M280.1,327.4V337.5M283.1,333.5V342.8M286.2,339.0V347.7M289.2,343.7V351.8M292.3,347.9V355.5M295.3,351.6V358.7M298.4,354.6V361.4M301.5,357.3V363.7M304.5,359.8V365.9M307.6,362.4V368.2M310.6,365.3V370.8M313.7,368.7V373.7M316.7,372.1V376.7M319.8,374.9V379.1M322.9,377.3V381.3M325.9,379.5V383.2M329.0,381.4V384.9M332.0,383.2V386.5M335.1,384.8V387.9M338.1,386.4V389.3" stroke="#111" stroke-width="0.9"/>
<path d="M194.5 396.8h0M197.6 394.2h0M200.6 390.0h0M203.7 383.2h0M206.7 375.4h0M209.8 368.9h0M212.8 362.6h0M215.9 355.8h0M218.9 348.8h0M222.0 342.3h0M225.1 336.8h0M228.1 332.0h0M231.2 327.4h0M234.2 323.1h0M237.3 320.0h0M240.3 317.1h0M243.4 314.6h0M246.5 313.0h0M249.5 312.6h0M252.6 312.6h0M255.6 312.6h0M258.7 312.6h0M261.7 313.7h0M264.8 315.7h0M267.8 317.9h0M270.9 320.5h0M274.0 323.8h0M277.0 327.5h0M280.1 332.5h0M283.1 338.2h0M286.2 343.4h0M289.2 347.7h0M292.3 351.7h0M295.3 355.1h0M298.4 358.0h0M301.5 360.5h0M304.5 362.8h0M307.6 365.3h0M310.6 368.0h0M313.7 371.2h0M316.7 374.4h0M319.8 377.0h0M322.9 379.3h0M325.9 381.3h0M329.0 383.2h0M332.0 384.8h0M335.1 386.4h0M338.1 387.8h0M341.2 389.2h0M344.2 390.3h0M347.3 391.2h0M350.4 392.0h0M353.4 392.7h0M356.5 393.3h0M359.5 393.9h0M362.6 394.4h0M365.6 394.8h0M368.7 395.1h0M371.7 395.3h0M374.8 395.6h0M377.9 395.8h0M380.9 396.0h0M384.0 396.1h0M387.0 396.2h0M390.1 396.3h0M393.1 396.4h0M396.2 396.4h0M399.3 396.4h0M402.3 396.4h0M405.4 396.5h0M408.4 396.5h0M411.5 396.5h0M414.5 396.5h0M417.6 396.5h0M420.6 396.5h0M423.7 396.5h0M426.8 396.6h0M429.8 396.6h0M432.9 396.6h0M435.9 396.6h0M439.0 396.6h0M442.0 396.6h0M445.1 396.6h0M448.1 396.6h0" stroke="#d42027" stroke-width="5" stroke-linecap="round"/>
<path d="M200.6,382.3V385.6M203.7,373.5V377.9M206.7,365.1V370.6M209.8,357.2V363.7M212.8,350.1V357.4M215.9,343.2V351.4M218.9,336.0V345.0M222.0,328.4V338.4M225.1,320.6V331.5M228.1,312.6V324.5M231.2,305.2V318.0M234.2,297.7V311.4M237.3,291.0V305.5M240.3,286.1V301.2M243.4,282.9V298.4M246.5,280.0V295.9M249.5,277.8V294.0M252.6,276.7V293.0M255.6,276.8V293.1M258.7,277.7V293.8M261.7,278.9V294.9M264.8,281.2V296.9M267.8,285.7V300.9M270.9,291.0V305.6M274.0,295.9V309.9M277.0,300.9V314.2M280.1,306.4V319.0M283.1,313.0V324.8M286.2,321.6V332.4M289.2,329.9V339.7M292.3,335.7V344.8M295.3,340.0V348.6M298.4,343.9V351.9M301.5,348.0V355.6M304.5,352.3V359.4M307.6,356.6V363.1M310.6,360.7V366.8M313.7,364.8V370.3M316.7,368.7V373.7M319.8,372.5V377.1M322.9,376.4V380.5M325.9,379.6V383.3M329.0,381.8V385.2M332.0,383.7V386.9M335.1,385.4V388.4M338.1,386.8V389.6" stroke="#111" stroke-width="0.9"/>
<path d="M194.5 396.8h0M197.6 391.5h0M200.6 383.9h0M203.7 375.7h0M206.7 367.9h0M209.8 360.5h0M212.8 353.8h0M215.9 347.3h0M218.9 340.5h0M222.0 333.4h0M225.1 326.1h0M228.1 318.5h0M231.2 311.6h0M234.2 304.6h0M237.3 298.3h0M240.3 293.7h0M243.4 290.6h0M246.5 287.9h0M249.5 285.9h0M252.6 284.9h0M255.6 285.0h0M258.7 285.7h0M261.7 286.9h0M264.8 289.1h0M267.8 293.3h0M270.9 298.3h0M274.0 302.9h0M277.0 307.6h0M280.1 312.7h0M283.1 318.9h0M286.2 327.0h0M289.2 334.8h0M292.3 340.2h0M295.3 344.3h0M298.4 347.9h0M301.5 351.8h0M304.5 355.9h0M307.6 359.9h0M310.6 363.8h0M313.7 367.5h0M316.7 371.2h0M319.8 374.8h0M322.9 378.5h0M325.9 381.4h0M329.0 383.5h0M332.0 385.3h0M335.1 386.9h0M338.1 388.2h0M341.2 389.3h0M344.2 390.2h0M347.3 391.1h0M350.4 391.9h0M353.4 392.5h0M356.5 393.1h0M359.5 393.6h0M362.6 394.0h0M365.6 394.4h0M368.7 394.7h0M371.7 395.0h0M374.8 395.2h0M377.9 395.4h0M380.9 395.6h0M384.0 395.7h0M387.0 395.8h0M390.1 396.0h0M393.1 396.1h0M396.2 396.1h0M399.3 396.2h0M402.3 396.3h0M405.4 396.3h0M408.4 396.4h0M411.5 396.4h0M414.5 396.4h0M417.6 396.5h0M420.6 396.5h0M423.7 396.5h0M426.8 396.5h0M429.8 396.5h0M432.9 396.5h0M435.9 396.6h0M439.0 396.6h0M442.0 396.6h0M445.1 396.6h0M448.1 396.6h0" stroke="#1ea0dc" stroke-width="5" stroke-linecap="round"/>
<path d="M203.7,380.2V383.8M206.7,375.9V380.1M209.8,370.6V375.4M212.8,364.9V370.4M215.9,358.8V365.1M218.9,353.0V359.9M222.0,347.9V355.4M225.1,342.4V350.6M228.1,334.2V343.5M231.2,329.1V338.9M234.2,326.3V336.5M237.3,324.6V335.0M240.3,323.9V334.4M243.4,323.6V334.1M246.5,323.3V333.9M249.5,323.2V333.8M252.6,323.1V333.7M255.6,323.1V333.7M258.7,323.3V333.9M261.7,323.6V334.1M264.8,324.0V334.5M267.8,325.5V335.8M270.9,328.9V338.8M274.0,333.2V342.5M277.0,337.1V346.0M280.1,340.7V349.2M283.1,344.5V352.5M286.2,348.3V355.8M289.2,352.1V359.2M292.3,356.1V362.6M295.3,360.3V366.4M298.4,364.3V369.9M301.5,367.5V372.7M304.5,370.1V374.9M307.6,372.3V376.9M310.6,374.5V378.9M313.7,376.9V380.9M316.7,379.2V382.9M319.8,381.4V384.9M322.9,383.4V386.6M325.9,385.0V388.1M329.0,386.4V389.3" stroke="#111" stroke-width="0.9"/>
<path d="M194.5 396.8h0M197.6 395.1h0M200.6 390.9h0M203.7 382.0h0M206.7 378.0h0M209.8 373.0h0M212.8 367.6h0M215.9 361.9h0M218.9 356.4h0M222.0 351.6h0M225.1 346.5h0M228.1 338.8h0M231.2 334.0h0M234.2 331.4h0M237.3 329.8h0M240.3 329.2h0M243.4 328.8h0M246.5 328.6h0M249.5 328.5h0M252.6 328.4h0M255.6 328.4h0M258.7 328.6h0M261.7 328.8h0M264.8 329.2h0M267.8 330.6h0M270.9 333.9h0M274.0 337.9h0M277.0 341.6h0M280.1 345.0h0M283.1 348.5h0M286.2 352.0h0M289.2 355.7h0M292.3 359.4h0M295.3 363.4h0M298.4 367.1h0M301.5 370.1h0M304.5 372.5h0M307.6 374.6h0M310.6 376.7h0M313.7 378.9h0M316.7 381.0h0M319.8 383.1h0M322.9 385.0h0M325.9 386.5h0M329.0 387.9h0M332.0 389.1h0M335.1 390.2h0M338.1 391.1h0M341.2 391.9h0M344.2 392.6h0M347.3 393.2h0M350.4 393.8h0M353.4 394.3h0M356.5 394.7h0M359.5 395.1h0M362.6 395.3h0M365.6 395.5h0M368.7 395.6h0M371.7 395.8h0M374.8 395.9h0M377.9 396.0h0M380.9 396.1h0M384.0 396.2h0M387.0 396.3h0M390.1 396.3h0M393.1 396.4h0M396.2 396.4h0M399.3 396.4h0M402.3 396.4h0M405.4 396.5h0M408.4 396.5h0M411.5 396.5h0M414.5 396.5h0M417.6 396.5h0M420.6 396.5h0M423.7 396.5h0M426.8 396.6h0M429.8 396.6h0M432.9 396.6h0M435.9 396.6h0M439.0 396.6h0M442.0 396.6h0M445.1 396.6h0M448.1 396.6h0" stroke="#2450a8" stroke-width="5" stroke-linecap="round"/>
<circle cx="323.2" cy="276.5" r="4" fill="#1ea0dc"/>
<text x="333" y="281.5" font-size="15" fill="#111" text-anchor="start">Naive</text>
<circle cx="323.2" cy="303" r="4" fill="#2450a8"/>
<text x="333" y="308" font-size="15" fill="#111" text-anchor="start">Stress</text>
<circle cx="323.2" cy="329.3" r="4" fill="#d87e96"/>
<text x="333" y="334.3" font-size="15" fill="#111" text-anchor="start">Naive</text>
<circle cx="323.2" cy="356" r="4" fill="#d42027"/>
<text x="333" y="361" font-size="15" fill="#111" text-anchor="start">Stress</text>
<line x1="384.1" y1="268" x2="384.1" y2="310.5" stroke="#111" stroke-width="1.3"/>
<line x1="384.1" y1="319.6" x2="384.1" y2="361.7" stroke="#111" stroke-width="1.3"/>
<text x="390" y="292.8" font-size="14" fill="#111" text-anchor="start">WT</text>
<text x="390" y="346.7" font-size="14" fill="#111" text-anchor="start">GFAP OTR cKO</text>
<line x1="559.2" y1="248.49999999999997" x2="559.2" y2="399.4" stroke="#1a1a1a" stroke-width="1.3"/>
<line x1="553.7" y1="399.4" x2="559.2" y2="399.4" stroke="#1a1a1a" stroke-width="1.3"/>
<text x="549.3000000000001" y="405.0" font-size="14.2" fill="#1a1a1a" text-anchor="end">0</text>
<line x1="553.7" y1="349.1" x2="559.2" y2="349.1" stroke="#1a1a1a" stroke-width="1.3"/>
<text x="549.3000000000001" y="354.7" font-size="14.2" fill="#1a1a1a" text-anchor="end">10</text>
<line x1="553.7" y1="298.8" x2="559.2" y2="298.8" stroke="#1a1a1a" stroke-width="1.3"/>
<text x="549.3000000000001" y="304.4" font-size="14.2" fill="#1a1a1a" text-anchor="end">20</text>
<line x1="553.7" y1="248.5" x2="559.2" y2="248.5" stroke="#1a1a1a" stroke-width="1.3"/>
<text x="549.3000000000001" y="254.09999999999997" font-size="14.2" fill="#1a1a1a" text-anchor="end">30</text>
<text x="525" y="319.6" font-size="15.3" fill="#1a1a1a" text-anchor="middle" transform="rotate(-90 525 319.6)">Peak Sholl value</text>
<rect x="568.3" y="266.1" width="20.5" height="134.8" fill="#0e9ad7"/>
<path d="M578.55,260.6V271.6M573.55,260.6h10M573.55,271.6h10" stroke="#1a1a1a" stroke-width="1.1" fill="none"/>
<circle cx="578.5" cy="286.7" r="2.2" fill="#fff" stroke="#1a1a1a" stroke-width="1"/>
<circle cx="578.5" cy="269.6" r="2.2" fill="#fff" stroke="#1a1a1a" stroke-width="1"/>
<circle cx="584.4" cy="267.6" r="2.2" fill="#fff" stroke="#1a1a1a" stroke-width="1"/>
<circle cx="572.7" cy="266.6" r="2.2" fill="#fff" stroke="#1a1a1a" stroke-width="1"/>
<circle cx="578.5" cy="262.6" r="2.2" fill="#fff" stroke="#1a1a1a" stroke-width="1"/>
<circle cx="581.5" cy="257.6" r="2.2" fill="#fff" stroke="#1a1a1a" stroke-width="1"/>
<circle cx="575.6" cy="255.5" r="2.2" fill="#fff" stroke="#1a1a1a" stroke-width="1"/>
<circle cx="587.3" cy="254.5" r="2.2" fill="#fff" stroke="#1a1a1a" stroke-width="1"/>
<text x="581.8499999999999" y="403.4" font-size="14.5" fill="#1a1a1a" text-anchor="end" transform="rotate(-90 581.8499999999999 403.4)">Naive</text>
<rect x="597.2" y="335.5" width="19.8" height="65.4" fill="#2452a4"/>
<path d="M607.1,331.0V340.0M602.1,331.0h10M602.1,340.0h10" stroke="#1a1a1a" stroke-width="1.1" fill="none"/>
<circle cx="607.1" cy="348.1" r="2.2" fill="#fff" stroke="#1a1a1a" stroke-width="1"/>
<circle cx="612.9" cy="346.6" r="2.2" fill="#fff" stroke="#1a1a1a" stroke-width="1"/>
<circle cx="607.1" cy="341.1" r="2.2" fill="#fff" stroke="#1a1a1a" stroke-width="1"/>
<circle cx="612.9" cy="340.0" r="2.2" fill="#fff" stroke="#1a1a1a" stroke-width="1"/>
<circle cx="607.1" cy="333.0" r="2.2" fill="#fff" stroke="#1a1a1a" stroke-width="1"/>
<circle cx="612.9" cy="330.5" r="2.2" fill="#fff" stroke="#1a1a1a" stroke-width="1"/>
<circle cx="607.1" cy="325.0" r="2.2" fill="#fff" stroke="#1a1a1a" stroke-width="1"/>
<circle cx="607.1" cy="317.4" r="2.2" fill="#fff" stroke="#1a1a1a" stroke-width="1"/>
<text x="610.4" y="403.4" font-size="14.5" fill="#1a1a1a" text-anchor="end" transform="rotate(-90 610.4 403.4)">Stress</text>
<rect x="627.2" y="290.8" width="19.7" height="110.1" fill="#d4768f"/>
<path d="M637.05,284.7V296.8M632.05,284.7h10M632.05,296.8h10" stroke="#1a1a1a" stroke-width="1.1" fill="none"/>
<circle cx="637.0" cy="304.8" r="2.2" fill="#fff" stroke="#1a1a1a" stroke-width="1"/>
<circle cx="637.0" cy="294.8" r="2.2" fill="#fff" stroke="#1a1a1a" stroke-width="1"/>
<circle cx="642.9" cy="292.8" r="2.2" fill="#fff" stroke="#1a1a1a" stroke-width="1"/>
<circle cx="634.1" cy="289.7" r="2.2" fill="#fff" stroke="#1a1a1a" stroke-width="1"/>
<circle cx="640.0" cy="287.7" r="2.2" fill="#fff" stroke="#1a1a1a" stroke-width="1"/>
<circle cx="634.1" cy="284.2" r="2.2" fill="#fff" stroke="#1a1a1a" stroke-width="1"/>
<circle cx="640.0" cy="281.7" r="2.2" fill="#fff" stroke="#1a1a1a" stroke-width="1"/>
<circle cx="637.0" cy="269.1" r="2.2" fill="#fff" stroke="#1a1a1a" stroke-width="1"/>
<text x="640.3499999999999" y="403.4" font-size="14.5" fill="#1a1a1a" text-anchor="end" transform="rotate(-90 640.3499999999999 403.4)">Naive</text>
<rect x="655.4" y="299.3" width="19.8" height="101.6" fill="#d71f2a"/>
<path d="M665.3,294.3V304.3M660.3,294.3h10M660.3,304.3h10" stroke="#1a1a1a" stroke-width="1.1" fill="none"/>
<circle cx="665.3" cy="311.4" r="2.2" fill="#fff" stroke="#1a1a1a" stroke-width="1"/>
<circle cx="671.1" cy="310.4" r="2.2" fill="#fff" stroke="#1a1a1a" stroke-width="1"/>
<circle cx="665.3" cy="302.3" r="2.2" fill="#fff" stroke="#1a1a1a" stroke-width="1"/>
<circle cx="671.1" cy="301.8" r="2.2" fill="#fff" stroke="#1a1a1a" stroke-width="1"/>
<circle cx="662.4" cy="297.8" r="2.2" fill="#fff" stroke="#1a1a1a" stroke-width="1"/>
<circle cx="668.2" cy="295.8" r="2.2" fill="#fff" stroke="#1a1a1a" stroke-width="1"/>
<circle cx="665.3" cy="289.7" r="2.2" fill="#fff" stroke="#1a1a1a" stroke-width="1"/>
<circle cx="665.3" cy="277.2" r="2.2" fill="#fff" stroke="#1a1a1a" stroke-width="1"/>
<text x="668.5999999999999" y="403.4" font-size="14.5" fill="#1a1a1a" text-anchor="end" transform="rotate(-90 668.5999999999999 403.4)">Stress</text>
<text x="590.0" y="247.29999999999998" font-size="20.5" fill="#1a1a1a" text-anchor="middle">****</text>
<line x1="577.1" y1="243.1" x2="602.9" y2="243.1" stroke="#1a1a1a" stroke-width="1.4"/>
<line x1="570.3" y1="449.7" x2="612" y2="449.7" stroke="#555" stroke-width="1.3"/>
<line x1="626.8" y1="449.7" x2="669.5" y2="449.7" stroke="#555" stroke-width="1.3"/>
<text x="589.7" y="466.6" font-size="14" fill="#1a1a1a" text-anchor="middle">WT</text>
<text x="647.6" y="466.6" font-size="14.5" fill="#1a1a1a" text-anchor="middle">GFAP</text>
<text x="650.2" y="482.90000000000003" font-size="14" fill="#1a1a1a" text-anchor="middle">OTR cKO</text>
<line x1="557.8" y1="483.2" x2="557.8" y2="626" stroke="#1a1a1a" stroke-width="1.3"/>
<line x1="552.3" y1="626.0" x2="557.8" y2="626.0" stroke="#1a1a1a" stroke-width="1.3"/>
<text x="549.3" y="631.6" font-size="14.2" fill="#1a1a1a" text-anchor="end">0</text>
<line x1="552.3" y1="578.4" x2="557.8" y2="578.4" stroke="#1a1a1a" stroke-width="1.3"/>
<text x="549.3" y="584.0" font-size="14.2" fill="#1a1a1a" text-anchor="end">500</text>
<line x1="552.3" y1="530.8" x2="557.8" y2="530.8" stroke="#1a1a1a" stroke-width="1.3"/>
<text x="549.3" y="536.4" font-size="14.2" fill="#1a1a1a" text-anchor="end">1000</text>
<line x1="552.3" y1="483.2" x2="557.8" y2="483.2" stroke="#1a1a1a" stroke-width="1.3"/>
<text x="549.3" y="488.8" font-size="14.2" fill="#1a1a1a" text-anchor="end">1500</text>
<text x="502" y="553.5" font-size="15.5" fill="#1a1a1a" text-anchor="middle" transform="rotate(-90 502 553.5)">GFAP volume (µm<tspan font-size="10.5" dy="-6">3</tspan><tspan dy="6">)</tspan></text>
<rect x="567.4" y="587.9" width="20.4" height="38.1" fill="#0e9ad7"/>
<path d="M577.5999999999999,583.6V592.2M572.5999999999999,583.6h10M572.5999999999999,592.2h10" stroke="#1a1a1a" stroke-width="1.1" fill="none"/>
<circle cx="577.6" cy="604.1" r="2.2" fill="#fff" stroke="#1a1a1a" stroke-width="1"/>
<circle cx="577.6" cy="598.7" r="2.2" fill="#fff" stroke="#1a1a1a" stroke-width="1"/>
<circle cx="577.6" cy="589.1" r="2.2" fill="#fff" stroke="#1a1a1a" stroke-width="1"/>
<circle cx="580.5" cy="584.1" r="2.2" fill="#fff" stroke="#1a1a1a" stroke-width="1"/>
<circle cx="574.7" cy="583.1" r="2.2" fill="#fff" stroke="#1a1a1a" stroke-width="1"/>
<circle cx="583.4" cy="579.4" r="2.2" fill="#fff" stroke="#1a1a1a" stroke-width="1"/>
<circle cx="577.6" cy="577.9" r="2.2" fill="#fff" stroke="#1a1a1a" stroke-width="1"/>
<circle cx="571.8" cy="577.9" r="2.2" fill="#fff" stroke="#1a1a1a" stroke-width="1"/>
<text x="583.3" y="631.5" font-size="14.5" fill="#1a1a1a" text-anchor="end" transform="rotate(-90 583.3 631.5)">Naive</text>
<rect x="596.7" y="536.5" width="20.1" height="89.5" fill="#2452a4"/>
<path d="M606.75,530.8V542.2M601.75,530.8h10M601.75,542.2h10" stroke="#1a1a1a" stroke-width="1.1" fill="none"/>
<circle cx="606.8" cy="557.5" r="2.2" fill="#fff" stroke="#1a1a1a" stroke-width="1"/>
<circle cx="612.6" cy="556.0" r="2.2" fill="#fff" stroke="#1a1a1a" stroke-width="1"/>
<circle cx="606.8" cy="539.5" r="2.2" fill="#fff" stroke="#1a1a1a" stroke-width="1"/>
<circle cx="612.6" cy="539.5" r="2.2" fill="#fff" stroke="#1a1a1a" stroke-width="1"/>
<circle cx="609.7" cy="534.9" r="2.2" fill="#fff" stroke="#1a1a1a" stroke-width="1"/>
<circle cx="603.8" cy="531.9" r="2.2" fill="#fff" stroke="#1a1a1a" stroke-width="1"/>
<circle cx="615.5" cy="531.9" r="2.2" fill="#fff" stroke="#1a1a1a" stroke-width="1"/>
<circle cx="606.8" cy="525.8" r="2.2" fill="#fff" stroke="#1a1a1a" stroke-width="1"/>
<circle cx="606.8" cy="505.5" r="2.2" fill="#fff" stroke="#1a1a1a" stroke-width="1"/>
<text x="611.55" y="631.5" font-size="14.5" fill="#1a1a1a" text-anchor="end" transform="rotate(-90 611.55 631.5)">Stress</text>
<rect x="625.8" y="581.3" width="19.7" height="44.7" fill="#d4768f"/>
<path d="M635.65,576.0V586.5M630.65,576.0h10M630.65,586.5h10" stroke="#1a1a1a" stroke-width="1.1" fill="none"/>
<circle cx="635.6" cy="598.1" r="2.2" fill="#fff" stroke="#1a1a1a" stroke-width="1"/>
<circle cx="635.6" cy="587.5" r="2.2" fill="#fff" stroke="#1a1a1a" stroke-width="1"/>
<circle cx="641.5" cy="587.5" r="2.2" fill="#fff" stroke="#1a1a1a" stroke-width="1"/>
<circle cx="635.6" cy="581.3" r="2.2" fill="#fff" stroke="#1a1a1a" stroke-width="1"/>
<circle cx="641.5" cy="577.6" r="2.2" fill="#fff" stroke="#1a1a1a" stroke-width="1"/>
<circle cx="635.6" cy="574.0" r="2.2" fill="#fff" stroke="#1a1a1a" stroke-width="1"/>
<circle cx="635.6" cy="559.0" r="2.2" fill="#fff" stroke="#1a1a1a" stroke-width="1"/>
<text x="639.85" y="631.5" font-size="14.5" fill="#1a1a1a" text-anchor="end" transform="rotate(-90 639.85 631.5)">Naive</text>
<rect x="654.5" y="586.0" width="20.1" height="40.0" fill="#d71f2a"/>
<path d="M664.55,581.7V590.3M659.55,581.7h10M659.55,590.3h10" stroke="#1a1a1a" stroke-width="1.1" fill="none"/>
<circle cx="664.5" cy="600.5" r="2.2" fill="#fff" stroke="#1a1a1a" stroke-width="1"/>
<circle cx="664.5" cy="592.0" r="2.2" fill="#fff" stroke="#1a1a1a" stroke-width="1"/>
<circle cx="670.4" cy="589.6" r="2.2" fill="#fff" stroke="#1a1a1a" stroke-width="1"/>
<circle cx="664.5" cy="586.0" r="2.2" fill="#fff" stroke="#1a1a1a" stroke-width="1"/>
<circle cx="667.5" cy="581.5" r="2.2" fill="#fff" stroke="#1a1a1a" stroke-width="1"/>
<circle cx="661.6" cy="581.5" r="2.2" fill="#fff" stroke="#1a1a1a" stroke-width="1"/>
<circle cx="664.5" cy="569.7" r="2.2" fill="#fff" stroke="#1a1a1a" stroke-width="1"/>
<text x="668.8499999999999" y="631.5" font-size="14.5" fill="#1a1a1a" text-anchor="end" transform="rotate(-90 668.8499999999999 631.5)">Stress</text>
<text x="592.6" y="501.59999999999997" font-size="20.5" fill="#1a1a1a" text-anchor="middle">****</text>
<line x1="578" y1="497.4" x2="607.2" y2="497.4" stroke="#1a1a1a" stroke-width="1.4"/>
<line x1="574.2" y1="676.4" x2="615.8" y2="676.4" stroke="#555" stroke-width="1.3"/>
<line x1="628.8" y1="676.4" x2="671.9" y2="676.4" stroke="#555" stroke-width="1.3"/>
<text x="593.3" y="693.5" font-size="14" fill="#1a1a1a" text-anchor="middle">WT</text>
<text x="648.3" y="693.5" font-size="14.5" fill="#1a1a1a" text-anchor="middle">GFAP</text>
<text x="650" y="709.8" font-size="14" fill="#1a1a1a" text-anchor="middle">OTR cKO</text>
<line x1="552.1" y1="912.3000000000001" x2="552.1" y2="1078.9" stroke="#1a1a1a" stroke-width="1.3"/>
<line x1="546.6" y1="1078.9" x2="552.1" y2="1078.9" stroke="#1a1a1a" stroke-width="1.3"/>
<text x="542.1" y="1084.5" font-size="14.2" fill="#1a1a1a" text-anchor="end">0</text>
<line x1="546.6" y1="1037.2" x2="552.1" y2="1037.2" stroke="#1a1a1a" stroke-width="1.3"/>
<text x="542.1" y="1042.85" font-size="14.2" fill="#1a1a1a" text-anchor="end">10</text>
<line x1="546.6" y1="995.6" x2="552.1" y2="995.6" stroke="#1a1a1a" stroke-width="1.3"/>
<text x="542.1" y="1001.2000000000002" font-size="14.2" fill="#1a1a1a" text-anchor="end">20</text>
<line x1="546.6" y1="954.0" x2="552.1" y2="954.0" stroke="#1a1a1a" stroke-width="1.3"/>
<text x="542.1" y="959.5500000000001" font-size="14.2" fill="#1a1a1a" text-anchor="end">30</text>
<line x1="546.6" y1="912.3" x2="552.1" y2="912.3" stroke="#1a1a1a" stroke-width="1.3"/>
<text x="542.1" y="917.9000000000001" font-size="14.2" fill="#1a1a1a" text-anchor="end">40</text>
<text x="521.5" y="997.5" font-size="15.5" fill="#1a1a1a" text-anchor="middle" transform="rotate(-90 521.5 997.5)">K<tspan font-size="10" dy="-6">+</tspan><tspan dy="6">-induced depol. (mV)</tspan></text>
<rect x="564.7" y="1033.1" width="22.5" height="45.3" fill="#0e9ad7"/>
<path d="M575.95,1024.8V1041.4M570.95,1024.8h10M570.95,1041.4h10" stroke="#1a1a1a" stroke-width="1.1" fill="none"/>
<circle cx="576.0" cy="1072.7" r="2.2" fill="#fff" stroke="#1a1a1a" stroke-width="1"/>
<circle cx="581.8" cy="1070.6" r="2.2" fill="#fff" stroke="#1a1a1a" stroke-width="1"/>
<circle cx="570.1" cy="1068.5" r="2.2" fill="#fff" stroke="#1a1a1a" stroke-width="1"/>
<circle cx="576.0" cy="1066.4" r="2.2" fill="#fff" stroke="#1a1a1a" stroke-width="1"/>
<circle cx="581.8" cy="1062.2" r="2.2" fill="#fff" stroke="#1a1a1a" stroke-width="1"/>
<circle cx="576.0" cy="1058.1" r="2.2" fill="#fff" stroke="#1a1a1a" stroke-width="1"/>
<circle cx="581.8" cy="1053.9" r="2.2" fill="#fff" stroke="#1a1a1a" stroke-width="1"/>
<circle cx="576.0" cy="1049.7" r="2.2" fill="#fff" stroke="#1a1a1a" stroke-width="1"/>
<circle cx="581.8" cy="1045.6" r="2.2" fill="#fff" stroke="#1a1a1a" stroke-width="1"/>
<circle cx="576.0" cy="1041.4" r="2.2" fill="#fff" stroke="#1a1a1a" stroke-width="1"/>
<circle cx="581.8" cy="1038.1" r="2.2" fill="#fff" stroke="#1a1a1a" stroke-width="1"/>
<circle cx="576.0" cy="1035.2" r="2.2" fill="#fff" stroke="#1a1a1a" stroke-width="1"/>
<circle cx="570.1" cy="1033.1" r="2.2" fill="#fff" stroke="#1a1a1a" stroke-width="1"/>
<circle cx="576.0" cy="1026.8" r="2.2" fill="#fff" stroke="#1a1a1a" stroke-width="1"/>
<circle cx="581.8" cy="1026.0" r="2.2" fill="#fff" stroke="#1a1a1a" stroke-width="1"/>
<circle cx="570.1" cy="1024.8" r="2.2" fill="#fff" stroke="#1a1a1a" stroke-width="1"/>
<circle cx="576.0" cy="1012.3" r="2.2" fill="#fff" stroke="#1a1a1a" stroke-width="1"/>
<circle cx="576.0" cy="997.7" r="2.2" fill="#fff" stroke="#1a1a1a" stroke-width="1"/>
<circle cx="581.8" cy="993.5" r="2.2" fill="#fff" stroke="#1a1a1a" stroke-width="1"/>
<circle cx="576.0" cy="991.4" r="2.2" fill="#fff" stroke="#1a1a1a" stroke-width="1"/>
<text x="580.25" y="1083.9" font-size="14.5" fill="#1a1a1a" text-anchor="end" transform="rotate(-90 580.25 1083.9)">Naive</text>
<rect x="595.2" y="997.3" width="22.5" height="81.1" fill="#2452a4"/>
<path d="M606.45,982.7V1011.8M601.45,982.7h10M601.45,1011.8h10" stroke="#1a1a1a" stroke-width="1.1" fill="none"/>
<circle cx="606.5" cy="1058.1" r="2.2" fill="#fff" stroke="#1a1a1a" stroke-width="1"/>
<circle cx="612.3" cy="1053.9" r="2.2" fill="#fff" stroke="#1a1a1a" stroke-width="1"/>
<circle cx="606.5" cy="1045.6" r="2.2" fill="#fff" stroke="#1a1a1a" stroke-width="1"/>
<circle cx="612.3" cy="1041.4" r="2.2" fill="#fff" stroke="#1a1a1a" stroke-width="1"/>
<circle cx="606.5" cy="1037.2" r="2.2" fill="#fff" stroke="#1a1a1a" stroke-width="1"/>
<circle cx="612.3" cy="1033.1" r="2.2" fill="#fff" stroke="#1a1a1a" stroke-width="1"/>
<circle cx="606.5" cy="1026.8" r="2.2" fill="#fff" stroke="#1a1a1a" stroke-width="1"/>
<circle cx="606.5" cy="1020.6" r="2.2" fill="#fff" stroke="#1a1a1a" stroke-width="1"/>
<circle cx="612.3" cy="1016.4" r="2.2" fill="#fff" stroke="#1a1a1a" stroke-width="1"/>
<circle cx="606.5" cy="1012.3" r="2.2" fill="#fff" stroke="#1a1a1a" stroke-width="1"/>
<circle cx="606.5" cy="1003.9" r="2.2" fill="#fff" stroke="#1a1a1a" stroke-width="1"/>
<circle cx="606.5" cy="995.6" r="2.2" fill="#fff" stroke="#1a1a1a" stroke-width="1"/>
<circle cx="612.3" cy="995.6" r="2.2" fill="#fff" stroke="#1a1a1a" stroke-width="1"/>
<circle cx="600.6" cy="993.5" r="2.2" fill="#fff" stroke="#1a1a1a" stroke-width="1"/>
<circle cx="606.5" cy="987.3" r="2.2" fill="#fff" stroke="#1a1a1a" stroke-width="1"/>
<circle cx="606.5" cy="978.9" r="2.2" fill="#fff" stroke="#1a1a1a" stroke-width="1"/>
<circle cx="606.5" cy="972.7" r="2.2" fill="#fff" stroke="#1a1a1a" stroke-width="1"/>
<circle cx="612.3" cy="970.6" r="2.2" fill="#fff" stroke="#1a1a1a" stroke-width="1"/>
<circle cx="606.5" cy="920.6" r="2.2" fill="#fff" stroke="#1a1a1a" stroke-width="1"/>
<circle cx="606.5" cy="891.5" r="2.2" fill="#fff" stroke="#1a1a1a" stroke-width="1"/>
<text x="610.0500000000001" y="1083.9" font-size="14.5" fill="#1a1a1a" text-anchor="end" transform="rotate(-90 610.0500000000001 1083.9)">Stress</text>
<rect x="625.8" y="1048.9" width="21.8" height="29.5" fill="#d4768f"/>
<path d="M636.7,1043.9V1053.9M631.7,1043.9h10M631.7,1053.9h10" stroke="#1a1a1a" stroke-width="1.1" fill="none"/>
<circle cx="636.7" cy="1077.7" r="2.2" fill="#fff" stroke="#1a1a1a" stroke-width="1"/>
<circle cx="642.5" cy="1076.8" r="2.2" fill="#fff" stroke="#1a1a1a" stroke-width="1"/>
<circle cx="633.8" cy="1072.7" r="2.2" fill="#fff" stroke="#1a1a1a" stroke-width="1"/>
<circle cx="639.6" cy="1068.5" r="2.2" fill="#fff" stroke="#1a1a1a" stroke-width="1"/>
<circle cx="633.8" cy="1066.4" r="2.2" fill="#fff" stroke="#1a1a1a" stroke-width="1"/>
<circle cx="636.7" cy="1060.2" r="2.2" fill="#fff" stroke="#1a1a1a" stroke-width="1"/>
<circle cx="642.5" cy="1056.0" r="2.2" fill="#fff" stroke="#1a1a1a" stroke-width="1"/>
<circle cx="636.7" cy="1053.9" r="2.2" fill="#fff" stroke="#1a1a1a" stroke-width="1"/>
<circle cx="642.5" cy="1049.7" r="2.2" fill="#fff" stroke="#1a1a1a" stroke-width="1"/>
<circle cx="636.7" cy="1045.6" r="2.2" fill="#fff" stroke="#1a1a1a" stroke-width="1"/>
<circle cx="642.5" cy="1043.5" r="2.2" fill="#fff" stroke="#1a1a1a" stroke-width="1"/>
<circle cx="630.9" cy="1041.4" r="2.2" fill="#fff" stroke="#1a1a1a" stroke-width="1"/>
<circle cx="636.7" cy="1039.3" r="2.2" fill="#fff" stroke="#1a1a1a" stroke-width="1"/>
<circle cx="642.5" cy="1037.2" r="2.2" fill="#fff" stroke="#1a1a1a" stroke-width="1"/>
<circle cx="636.7" cy="1033.1" r="2.2" fill="#fff" stroke="#1a1a1a" stroke-width="1"/>
<circle cx="636.7" cy="1026.8" r="2.2" fill="#fff" stroke="#1a1a1a" stroke-width="1"/>
<text x="639.5" y="1083.9" font-size="14.5" fill="#1a1a1a" text-anchor="end" transform="rotate(-90 639.5 1083.9)">Naive</text>
<rect x="656.0" y="1026.0" width="22.4" height="52.4" fill="#d83a2c"/>
<path d="M667.2,1013.5V1038.5M662.2,1013.5h10M662.2,1038.5h10" stroke="#1a1a1a" stroke-width="1.1" fill="none"/>
<circle cx="667.2" cy="1062.2" r="2.2" fill="#fff" stroke="#1a1a1a" stroke-width="1"/>
<circle cx="673.0" cy="1061.4" r="2.2" fill="#fff" stroke="#1a1a1a" stroke-width="1"/>
<circle cx="661.4" cy="1060.2" r="2.2" fill="#fff" stroke="#1a1a1a" stroke-width="1"/>
<circle cx="678.9" cy="1060.2" r="2.2" fill="#fff" stroke="#1a1a1a" stroke-width="1"/>
<circle cx="655.5" cy="1058.1" r="2.2" fill="#fff" stroke="#1a1a1a" stroke-width="1"/>
<circle cx="667.2" cy="1056.0" r="2.2" fill="#fff" stroke="#1a1a1a" stroke-width="1"/>
<circle cx="673.0" cy="1051.8" r="2.2" fill="#fff" stroke="#1a1a1a" stroke-width="1"/>
<circle cx="667.2" cy="1049.7" r="2.2" fill="#fff" stroke="#1a1a1a" stroke-width="1"/>
<circle cx="667.2" cy="1039.3" r="2.2" fill="#fff" stroke="#1a1a1a" stroke-width="1"/>
<circle cx="667.2" cy="1026.0" r="2.2" fill="#fff" stroke="#1a1a1a" stroke-width="1"/>
<circle cx="667.2" cy="1020.6" r="2.2" fill="#fff" stroke="#1a1a1a" stroke-width="1"/>
<circle cx="667.2" cy="1014.3" r="2.2" fill="#fff" stroke="#1a1a1a" stroke-width="1"/>
<circle cx="673.0" cy="1012.3" r="2.2" fill="#fff" stroke="#1a1a1a" stroke-width="1"/>
<circle cx="661.4" cy="1010.2" r="2.2" fill="#fff" stroke="#1a1a1a" stroke-width="1"/>
<circle cx="667.2" cy="999.8" r="2.2" fill="#fff" stroke="#1a1a1a" stroke-width="1"/>
<circle cx="667.2" cy="983.1" r="2.2" fill="#fff" stroke="#1a1a1a" stroke-width="1"/>
<circle cx="667.2" cy="966.4" r="2.2" fill="#fff" stroke="#1a1a1a" stroke-width="1"/>
<circle cx="667.2" cy="943.5" r="2.2" fill="#fff" stroke="#1a1a1a" stroke-width="1"/>
<text x="671.7" y="1083.9" font-size="14.5" fill="#1a1a1a" text-anchor="end" transform="rotate(-90 671.7 1083.9)">Stress</text>
<text x="588.5" y="911.2" font-size="20.5" fill="#1a1a1a" text-anchor="middle">***</text>
<line x1="574.3" y1="907" x2="602.7" y2="907" stroke="#1a1a1a" stroke-width="1.4"/>
<line x1="570.2" y1="1128.1" x2="617.2" y2="1128.1" stroke="#555" stroke-width="1.3"/>
<line x1="630" y1="1128.1" x2="676.5" y2="1128.1" stroke="#555" stroke-width="1.3"/>
<text x="596.3" y="1146.2" font-size="14" fill="#1a1a1a" text-anchor="middle">WT</text>
<text x="654.7" y="1146.2" font-size="14.5" fill="#1a1a1a" text-anchor="middle">GFAP</text>
<text x="654.5" y="1162.5" font-size="14" fill="#1a1a1a" text-anchor="middle">OTR cKO</text>
<path d="M397.4 759.7h0M397.3 752.3h0M397.6 765.3h0M397.3 746.5h0M396.8 780.6h0M397.2 770.8h0M397.6 774.9h0M397.0 773.1h0M397.8 770.0h0M397.6 766.4h0M396.8 756.9h0M397.1 783.9h0M397.8 777.3h0M397.2 770.3h0M403.8 758.0h0M404.7 751.3h0M404.0 789.1h0M404.2 767.2h0M404.6 770.9h0M403.9 768.8h0M404.7 770.5h0M404.6 781.6h0M404.3 771.6h0M404.5 795.7h0M404.6 761.0h0M403.9 761.4h0M404.1 746.8h0M404.1 785.7h0M411.6 787.2h0M411.0 770.1h0M411.3 768.2h0M411.6 773.2h0M411.2 790.3h0M411.4 773.8h0M411.2 770.9h0M411.2 755.6h0M410.9 770.7h0M411.6 766.6h0M410.9 784.8h0M410.7 758.9h0M411.4 751.0h0M411.0 764.1h0M418.4 784.5h0M418.5 795.0h0M418.5 810.7h0M418.1 753.2h0M417.9 764.2h0M417.7 786.8h0M417.5 770.2h0M418.3 781.9h0M418.4 773.7h0M417.5 791.8h0M417.9 776.7h0M417.6 764.7h0M418.4 764.7h0M418.5 770.8h0M424.6 778.4h0M425.4 793.7h0M424.4 800.0h0M424.6 781.6h0M425.3 765.0h0M425.0 798.9h0M425.3 794.3h0M424.7 769.8h0M425.2 788.8h0M424.4 780.4h0M424.4 791.5h0M425.0 809.4h0M425.0 794.7h0M424.6 799.2h0M432.2 808.8h0M431.4 760.4h0M431.3 774.8h0M431.7 776.4h0M432.0 762.3h0M431.4 758.4h0M431.8 791.7h0M431.5 782.8h0M431.7 775.4h0M432.0 772.3h0M432.0 783.9h0M432.2 781.2h0M431.3 776.2h0M431.8 804.0h0M438.3 760.1h0M438.9 772.6h0M438.5 782.1h0M438.2 760.4h0M439.1 790.8h0M438.5 774.1h0M439.2 799.2h0M438.3 782.1h0M439.0 795.0h0M439.2 791.5h0M438.7 789.6h0M438.8 761.9h0M439.2 758.4h0M438.5 771.9h0M445.2 801.7h0M445.1 743.9h0M445.9 760.9h0M445.5 772.4h0M445.8 785.6h0M445.5 785.5h0M445.5 797.3h0M445.3 785.1h0M445.3 769.6h0M445.8 779.2h0M445.6 774.5h0M445.3 803.8h0M445.7 795.6h0M446.1 773.1h0M452.5 772.0h0M452.7 777.5h0M452.6 767.0h0M452.8 800.8h0M452.7 799.0h0M452.7 809.3h0M452.4 784.6h0M452.6 754.8h0M453.0 769.4h0M452.0 817.2h0M452.4 790.1h0M452.1 774.5h0M452.3 790.8h0M453.0 787.4h0M459.0 788.1h0M459.9 802.8h0M459.2 790.1h0M459.6 796.4h0M459.9 791.9h0M459.2 797.2h0M459.0 788.1h0M459.6 760.7h0M459.2 781.6h0M459.3 769.7h0M459.3 773.0h0M459.5 793.0h0M459.3 789.0h0M459.1 779.0h0M465.8 776.0h0M466.6 756.7h0M465.8 769.5h0M466.3 797.9h0M466.5 771.0h0M466.0 784.7h0M465.9 772.0h0M466.1 788.5h0M466.2 817.4h0M465.9 781.0h0M466.3 782.6h0M465.8 814.1h0M466.4 783.9h0M466.0 776.3h0M473.7 782.6h0M473.6 816.3h0M472.7 773.0h0M473.6 789.2h0M472.9 791.6h0M472.7 814.5h0M473.3 783.7h0M473.2 808.5h0M472.9 787.3h0M473.0 803.1h0M473.6 796.9h0M472.7 772.7h0M473.4 776.1h0M472.9 784.4h0M479.6 793.7h0M480.1 788.3h0M479.7 801.5h0M479.7 811.3h0M480.0 777.5h0M480.3 800.3h0M479.6 795.4h0M480.5 809.7h0M479.9 792.2h0M480.1 789.2h0M480.3 799.0h0M480.1 799.2h0M480.4 778.9h0M480.5 770.1h0M487.3 799.1h0M487.4 803.7h0M487.5 824.5h0M486.9 801.2h0M487.3 764.6h0M486.5 806.5h0M487.1 806.3h0M487.3 779.7h0M487.5 799.9h0M487.0 801.5h0M487.5 788.0h0M487.1 801.3h0M487.4 791.3h0M486.8 817.3h0M493.5 788.4h0M493.9 792.0h0M493.5 793.2h0M493.4 805.1h0M493.4 808.0h0M494.1 791.0h0M494.4 795.7h0M493.9 792.4h0M493.5 787.8h0M493.6 803.9h0M494.2 809.0h0M494.2 790.6h0M493.8 801.1h0M493.8 802.8h0M500.8 806.2h0M500.8 798.2h0M500.9 781.4h0M501.1 794.8h0M501.3 800.0h0M500.7 814.1h0M501.0 799.4h0M500.9 798.2h0M500.5 828.2h0M500.5 814.1h0M500.8 800.5h0M500.3 816.1h0M500.8 811.0h0M500.8 785.7h0M507.8 810.9h0M507.9 792.0h0M507.6 790.0h0M507.4 812.5h0M508.2 797.2h0M507.4 817.2h0M507.2 789.0h0M507.5 817.0h0M508.1 804.2h0M507.4 804.6h0M507.4 803.9h0M507.4 807.9h0M507.4 815.7h0M507.9 800.4h0M514.5 809.5h0M514.3 790.6h0M514.8 800.4h0M514.5 799.9h0M514.8 788.4h0M514.1 788.7h0M514.5 804.5h0M514.6 815.2h0M514.8 793.5h0M514.7 804.7h0M514.9 808.3h0M514.7 795.9h0M514.3 813.5h0M514.9 799.4h0M521.5 790.8h0M521.2 802.7h0M521.0 815.2h0M521.5 810.9h0M521.3 795.7h0M521.3 789.6h0M521.2 803.7h0M521.1 801.4h0M521.2 817.5h0M521.1 817.4h0M521.4 809.0h0M521.8 805.4h0M521.5 800.1h0M521.0 790.2h0M528.0 805.6h0M528.1 793.3h0M528.4 821.9h0M528.6 814.4h0M528.2 798.2h0M528.9 805.8h0M527.9 816.7h0M528.4 793.2h0M528.5 793.5h0M528.0 816.6h0M528.9 802.8h0M528.7 808.0h0M528.0 808.5h0M528.2 817.8h0M535.2 815.3h0M535.6 820.1h0M534.8 800.7h0M535.1 805.5h0M534.9 803.9h0M535.1 823.6h0M535.2 797.4h0M535.0 799.0h0M535.2 821.6h0M535.5 794.5h0M535.4 815.7h0M535.1 815.9h0M535.1 804.6h0M535.1 797.6h0M542.1 801.8h0M541.9 790.5h0M542.6 803.5h0M542.0 808.7h0M542.4 813.5h0M542.1 816.0h0M542.1 811.0h0M542.0 821.7h0M542.4 825.0h0M542.2 820.1h0M542.6 819.6h0M541.8 792.3h0M542.4 817.1h0M542.7 824.9h0M549.6 806.7h0M548.9 816.9h0M548.7 831.0h0M549.0 794.0h0M548.8 817.3h0M549.4 817.3h0M549.4 823.9h0M549.5 822.2h0M549.6 797.9h0M549.1 822.9h0M549.6 815.3h0M549.3 822.9h0M548.9 824.7h0M548.7 805.9h0M555.5 817.7h0M555.6 810.4h0M555.5 829.4h0M556.2 809.2h0M555.8 805.1h0M555.9 806.4h0M555.9 816.1h0M556.3 823.4h0M556.2 807.2h0M556.4 807.9h0M556.1 806.5h0M555.8 814.7h0M555.6 819.3h0M555.8 831.4h0M563.0 807.5h0M563.3 819.2h0M562.4 818.7h0M562.7 799.2h0M562.6 811.3h0M562.4 808.0h0M563.0 813.7h0M563.0 821.3h0M563.0 804.8h0M562.5 830.7h0M563.4 815.4h0M562.7 820.0h0M562.8 815.8h0M563.2 809.0h0M570.1 807.9h0M569.5 830.1h0M569.7 821.1h0M570.2 810.2h0M570.3 813.6h0M570.3 817.7h0M570.1 831.8h0M569.5 814.0h0M569.3 802.2h0M570.0 831.9h0M569.4 815.8h0M577.0 824.1h0M576.9 820.9h0M576.3 811.4h0M576.8 817.8h0M577.2 821.8h0M577.2 822.0h0M576.5 831.1h0M576.8 814.9h0M577.0 827.7h0M576.4 813.3h0M576.4 824.3h0M576.2 804.0h0M576.6 814.7h0M576.5 822.4h0M583.6 822.0h0M583.2 812.4h0M583.1 824.4h0M583.3 822.0h0M583.4 820.8h0M584.0 812.6h0M583.9 827.2h0M583.8 830.4h0M583.9 826.6h0M583.6 809.2h0M584.1 821.1h0M584.1 822.6h0M583.6 807.1h0M590.7 819.7h0M590.2 825.6h0M590.5 823.2h0M590.9 823.1h0M590.7 815.8h0M590.3 826.5h0M591.0 826.6h0M590.7 819.8h0M590.5 811.9h0M590.8 831.7h0M590.4 822.4h0M590.7 813.1h0M597.6 828.5h0M597.3 831.7h0M597.3 817.2h0M597.1 824.3h0M597.8 812.9h0M597.4 830.7h0M604.2 818.6h0M604.1 823.7h0M604.5 829.9h0M604.8 825.6h0M604.1 826.4h0M604.6 820.9h0M603.9 824.6h0M604.4 810.8h0M603.8 829.6h0M611.2 811.0h0M610.8 820.7h0M611.2 818.2h0M610.9 823.3h0M611.3 827.4h0M617.9 816.8h0M617.7 831.3h0M618.0 826.7h0M624.5 829.6h0M625.0 832.4h0M625.0 832.7h0M624.8 823.6h0M625.2 824.9h0M625.3 826.9h0M632.1 831.4h0M632.1 818.5h0M631.6 828.9h0M632.2 831.7h0M638.7 821.7h0M639.2 817.1h0M639.1 828.0h0M638.3 828.3h0M646.1 824.3h0M646.0 828.1h0M645.4 829.9h0M645.3 821.6h0M652.6 827.4h0M652.6 829.0h0M652.2 827.1h0M652.6 816.1h0" stroke="#8fc8ef" stroke-width="3.6" stroke-linecap="round"/>
<path d="M424.7 801.5h0M424.6 794.7h0M424.4 791.7h0M425.0 787.5h0M425.0 806.4h0M425.4 803.7h0M425.0 797.8h0M424.6 794.2h0M432.0 782.6h0M432.2 799.3h0M431.7 797.9h0M431.6 790.2h0M432.0 803.7h0M431.3 792.5h0M432.3 801.6h0M431.9 799.0h0M438.9 804.2h0M438.9 802.3h0M438.4 791.4h0M438.8 804.0h0M438.5 788.3h0M438.9 795.6h0M438.3 792.8h0M438.2 792.2h0M445.5 801.2h0M445.6 786.7h0M445.3 795.3h0M445.8 818.6h0M445.4 797.6h0M445.6 812.1h0M445.6 798.9h0M445.7 805.2h0M452.7 797.9h0M452.2 805.1h0M452.7 796.7h0M452.7 794.4h0M452.5 797.1h0M452.5 802.3h0M452.1 801.9h0M452.2 785.6h0M459.6 792.4h0M459.1 799.5h0M459.1 793.3h0M459.9 806.6h0M459.8 798.3h0M459.0 806.7h0M459.9 806.1h0M459.2 796.1h0M466.7 806.4h0M466.0 799.8h0M466.4 799.3h0M466.7 808.1h0M466.5 803.8h0M466.4 794.5h0M466.1 811.2h0M465.9 797.4h0M473.3 794.5h0M473.5 803.3h0M473.1 798.1h0M473.2 795.3h0M473.1 799.8h0M473.4 811.1h0M473.2 795.5h0M472.7 792.6h0M480.6 821.3h0M480.0 802.9h0M479.9 806.4h0M479.6 788.7h0M480.3 804.7h0M479.6 797.0h0M479.9 810.4h0M479.7 795.2h0M487.2 807.5h0M487.0 812.9h0M487.5 802.6h0M487.3 813.4h0M487.1 807.2h0M486.9 813.6h0M487.3 793.0h0M487.3 799.1h0M494.4 801.2h0M493.9 813.5h0M493.8 803.9h0M494.0 807.1h0M494.2 803.2h0M493.8 814.3h0M494.0 812.2h0M493.4 817.8h0M500.6 807.7h0M500.4 807.8h0M501.0 807.3h0M500.3 811.8h0M501.3 804.8h0M500.3 797.4h0M500.9 812.9h0M500.3 812.2h0M508.1 805.8h0M507.7 808.3h0M507.9 811.4h0M508.1 811.0h0M508.1 804.7h0M508.2 797.2h0M507.5 817.7h0M508.0 812.6h0M514.7 813.1h0M515.1 800.6h0M514.2 808.8h0M514.4 812.6h0M514.3 818.3h0M514.7 802.9h0M514.8 815.2h0M514.5 807.8h0M521.9 806.9h0M521.7 811.0h0M521.7 813.2h0M521.8 809.8h0M521.5 816.9h0M521.0 801.7h0M521.5 806.7h0M521.8 815.1h0M528.3 801.8h0M528.8 821.0h0M528.3 806.5h0M528.8 804.3h0M528.7 813.2h0M528.2 821.4h0M528.2 814.5h0M528.1 810.4h0M535.8 812.8h0M535.4 816.0h0M535.2 815.7h0M535.4 811.3h0M535.1 800.7h0M535.2 797.5h0M535.1 813.9h0M535.7 805.9h0M542.3 807.5h0M542.2 810.5h0M541.7 816.9h0M542.0 806.3h0M542.1 824.2h0M542.1 808.7h0M542.3 816.5h0M541.9 817.9h0M549.3 820.7h0M549.5 820.1h0M548.8 808.6h0M549.0 807.1h0M549.1 816.5h0M549.4 799.2h0M548.9 822.5h0M556.2 811.9h0M556.2 812.1h0M556.5 814.7h0M555.8 815.0h0M555.6 807.8h0M556.3 813.3h0M556.5 824.6h0M555.6 817.0h0M563.0 813.6h0M562.8 804.4h0M563.4 822.2h0M563.4 808.7h0M562.5 799.6h0M562.4 825.7h0M562.9 813.7h0M562.9 820.8h0M569.4 809.8h0M569.5 818.4h0M569.4 806.7h0M570.3 824.4h0M569.9 824.9h0M570.2 809.2h0M569.9 818.9h0M570.2 817.1h0M576.6 829.1h0M576.5 811.3h0M576.7 821.3h0M577.2 814.3h0M576.3 828.1h0M576.6 824.5h0M576.2 824.1h0M577.1 821.4h0M584.1 812.1h0M583.4 811.7h0M583.6 819.8h0M584.1 812.9h0M584.0 815.9h0M583.4 815.0h0M583.0 824.6h0M583.1 828.7h0M590.7 819.2h0M590.5 823.2h0M590.1 819.4h0M590.5 820.9h0M590.5 818.4h0M590.0 821.1h0M590.0 815.3h0M596.9 807.3h0M597.6 806.9h0M597.2 829.8h0M597.9 818.5h0M597.3 818.5h0M597.9 827.6h0M597.5 813.2h0M597.5 809.3h0M603.8 831.0h0M604.0 823.8h0M603.8 824.9h0M604.5 818.1h0M604.2 831.9h0M604.8 816.6h0M604.2 821.6h0M604.6 813.7h0M611.1 817.0h0M611.3 816.5h0M611.7 822.0h0M610.8 814.3h0M611.1 805.2h0M610.7 826.1h0M610.6 822.5h0M617.7 823.6h0M617.7 827.0h0M618.1 826.2h0M618.1 826.8h0M617.8 814.2h0M618.4 823.2h0M617.9 824.2h0M625.0 817.2h0M624.7 830.4h0M625.5 816.3h0M624.8 816.7h0M625.1 831.1h0M632.0 832.7h0M632.3 815.2h0M631.6 816.7h0M631.7 827.2h0M631.5 823.2h0M631.5 829.5h0M632.4 814.1h0M638.5 816.2h0M638.6 832.3h0M639.3 824.2h0M639.2 823.8h0M638.3 826.3h0M639.3 823.2h0M638.8 829.4h0M645.7 824.5h0M645.5 826.4h0M646.1 832.8h0M645.5 818.1h0M653.0 830.4h0M652.1 825.9h0M652.6 828.0h0M653.1 827.2h0M652.3 823.8h0M652.8 826.3h0M652.8 831.2h0M653.0 825.3h0" stroke="#6a78c4" stroke-opacity="0.5" stroke-width="3.6" stroke-linecap="round"/>
<line x1="397.7" y1="770.8" x2="639" y2="836.4" stroke="#1b9ad8" stroke-width="3"/>
<line x1="425.2" y1="797.5" x2="651.7" y2="829.2" stroke="#27489e" stroke-width="3"/>
<path d="M386.4,728.3 H390.4 V834.5 H668.4" fill="none" stroke="#1a1a1a" stroke-width="1.3"/>
<line x1="386.4" y1="834.5" x2="390.4" y2="834.5" stroke="#1a1a1a" stroke-width="1.3"/>
<line x1="385.4" y1="834.5" x2="390.4" y2="834.5" stroke="#1a1a1a" stroke-width="1.3"/>
<text x="382.4" y="839.4" font-size="13.4" fill="#1a1a1a" text-anchor="end">0</text>
<line x1="385.4" y1="808.0" x2="390.4" y2="808.0" stroke="#1a1a1a" stroke-width="1.3"/>
<text x="382.4" y="812.85" font-size="13.4" fill="#1a1a1a" text-anchor="end">2500</text>
<line x1="385.4" y1="781.4" x2="390.4" y2="781.4" stroke="#1a1a1a" stroke-width="1.3"/>
<text x="382.4" y="786.3" font-size="13.4" fill="#1a1a1a" text-anchor="end">5000</text>
<line x1="385.4" y1="754.9" x2="390.4" y2="754.9" stroke="#1a1a1a" stroke-width="1.3"/>
<text x="382.4" y="759.75" font-size="13.4" fill="#1a1a1a" text-anchor="end">7500</text>
<line x1="385.4" y1="728.3" x2="390.4" y2="728.3" stroke="#1a1a1a" stroke-width="1.3"/>
<text x="382.4" y="733.1999999999999" font-size="13.4" fill="#1a1a1a" text-anchor="end">10000</text>
<line x1="390.4" y1="834.5" x2="390.4" y2="838.5" stroke="#1a1a1a" stroke-width="1.3"/>
<text x="390.4" y="854.8" font-size="14.5" fill="#1a1a1a" text-anchor="middle">0</text>
<line x1="459.4" y1="834.5" x2="459.4" y2="838.5" stroke="#1a1a1a" stroke-width="1.3"/>
<text x="459.4" y="854.8" font-size="14.5" fill="#1a1a1a" text-anchor="middle">10</text>
<line x1="528.4" y1="834.5" x2="528.4" y2="838.5" stroke="#1a1a1a" stroke-width="1.3"/>
<text x="528.4" y="854.8" font-size="14.5" fill="#1a1a1a" text-anchor="middle">20</text>
<line x1="597.4" y1="834.5" x2="597.4" y2="838.5" stroke="#1a1a1a" stroke-width="1.3"/>
<text x="597.4" y="854.8" font-size="14.5" fill="#1a1a1a" text-anchor="middle">30</text>
<line x1="666.4" y1="834.5" x2="666.4" y2="838.5" stroke="#1a1a1a" stroke-width="1.3"/>
<text x="666.4" y="854.8" font-size="14.5" fill="#1a1a1a" text-anchor="middle">40</text>
<text x="536.4" y="873.5" font-size="15.6" fill="#1a1a1a" text-anchor="middle">Peak sholl value</text>
<text x="334.4" y="784.3" font-size="16" fill="#1a1a1a" text-anchor="middle" transform="rotate(-90 334.4 784.3)">GFAP volume (µm<tspan font-size="10.5" dy="-6">3</tspan><tspan dy="6">)</tspan></text>
<text x="519.4" y="737.8" font-size="14" fill="#27489e" text-anchor="start">WT Naive</text>
<text x="598.6" y="737.8" font-size="14" fill="#1b9ad8" text-anchor="start">WT Stress</text>
<text x="520.5" y="753.6" font-size="10.8" fill="#27489e" text-anchor="start">p &lt; 0.0001</text>
<text x="520.5" y="766.6" font-size="10.8" fill="#27489e" text-anchor="start">r = -0.7546</text>
<text x="600.3" y="753.6" font-size="10.8" fill="#1b9ad8" text-anchor="start">p &lt; 0.0001</text>
<text x="600.3" y="766.6" font-size="10.8" fill="#1b9ad8" text-anchor="start">r = -0.7868</text>
<line x1="201.4" y1="911.4" x2="201.4" y2="1078" stroke="#1a1a1a" stroke-width="1.3"/>
<line x1="196.4" y1="1078.0" x2="201.4" y2="1078.0" stroke="#1a1a1a" stroke-width="1.3"/>
<text x="195.3" y="1084.6" font-size="15" fill="#1a1a1a" text-anchor="end">0</text>
<line x1="196.4" y1="1044.7" x2="201.4" y2="1044.7" stroke="#1a1a1a" stroke-width="1.3"/>
<text x="195.3" y="1051.28" font-size="15" fill="#1a1a1a" text-anchor="end">1</text>
<line x1="196.4" y1="1011.4" x2="201.4" y2="1011.4" stroke="#1a1a1a" stroke-width="1.3"/>
<text x="195.3" y="1017.96" font-size="15" fill="#1a1a1a" text-anchor="end">2</text>
<line x1="196.4" y1="978.0" x2="201.4" y2="978.0" stroke="#1a1a1a" stroke-width="1.3"/>
<text x="195.3" y="984.64" font-size="15" fill="#1a1a1a" text-anchor="end">3</text>
<line x1="196.4" y1="944.7" x2="201.4" y2="944.7" stroke="#1a1a1a" stroke-width="1.3"/>
<text x="195.3" y="951.32" font-size="15" fill="#1a1a1a" text-anchor="end">4</text>
<line x1="196.4" y1="911.4" x2="201.4" y2="911.4" stroke="#1a1a1a" stroke-width="1.3"/>
<text x="195.3" y="918.0" font-size="15" fill="#1a1a1a" text-anchor="end">5</text>
<text x="177.8" y="998.5" font-size="15.3" fill="#1a1a1a" text-anchor="middle" transform="rotate(-90 177.8 998.5)">Spontaneous AP freq. (Hz)</text>
<rect x="207" y="1075.7" width="29" height="2.3" fill="#0e9ad7"/>
<path d="M221.6,1070.3V1078M214,1070.3h15" stroke="#1a1a1a" stroke-width="1.1"/>
<rect x="243.1" y="1051.0" width="28.9" height="27.0" fill="#2452a4"/>
<path d="M257.8,1033.0V1066.7M250.2,1033.0h15.2M250.2,1066.7h15.2" stroke="#1a1a1a" stroke-width="1.1"/>
<circle cx="221.6" cy="1047.7" r="2.3" fill="#fff" stroke="#1a1a1a" stroke-width="1"/>
<circle cx="208" cy="1078.0" r="2.3" fill="#fff" stroke="#1a1a1a" stroke-width="1"/>
<circle cx="212.8" cy="1078.0" r="2.3" fill="#fff" stroke="#1a1a1a" stroke-width="1"/>
<circle cx="217.2" cy="1078.0" r="2.3" fill="#fff" stroke="#1a1a1a" stroke-width="1"/>
<circle cx="221.6" cy="1078.0" r="2.3" fill="#fff" stroke="#1a1a1a" stroke-width="1"/>
<circle cx="226" cy="1078.0" r="2.3" fill="#fff" stroke="#1a1a1a" stroke-width="1"/>
<circle cx="230.4" cy="1078.0" r="2.3" fill="#fff" stroke="#1a1a1a" stroke-width="1"/>
<circle cx="234.7" cy="1078.0" r="2.3" fill="#fff" stroke="#1a1a1a" stroke-width="1"/>
<circle cx="226" cy="1071.7" r="2.3" fill="#fff" stroke="#1a1a1a" stroke-width="1"/>
<circle cx="257.8" cy="932.4" r="2.3" fill="#fff" stroke="#1a1a1a" stroke-width="1"/>
<circle cx="257.8" cy="1008.7" r="2.3" fill="#fff" stroke="#1a1a1a" stroke-width="1"/>
<circle cx="257.8" cy="1059.3" r="2.3" fill="#fff" stroke="#1a1a1a" stroke-width="1"/>
<circle cx="257.8" cy="1067.3" r="2.3" fill="#fff" stroke="#1a1a1a" stroke-width="1"/>
<circle cx="251.1" cy="1072.7" r="2.3" fill="#fff" stroke="#1a1a1a" stroke-width="1"/>
<circle cx="244.2" cy="1078.0" r="2.3" fill="#fff" stroke="#1a1a1a" stroke-width="1"/>
<circle cx="257.8" cy="1077.3" r="2.3" fill="#fff" stroke="#1a1a1a" stroke-width="1"/>
<circle cx="264.2" cy="1076.3" r="2.3" fill="#fff" stroke="#1a1a1a" stroke-width="1"/>
<circle cx="270.8" cy="1078.0" r="2.3" fill="#fff" stroke="#1a1a1a" stroke-width="1"/>
<text x="241.8" y="921.2" font-size="20.5" fill="#1a1a1a" text-anchor="middle">*</text>
<line x1="227.7" y1="918.4" x2="256.2" y2="918.4" stroke="#1a1a1a" stroke-width="1.4"/>
<text x="228.8" y="1091" font-size="15.5" fill="#1a1a1a" text-anchor="end" transform="rotate(-56 228.8 1091)">Naive</text>
<text x="263.5" y="1091" font-size="15.5" fill="#1a1a1a" text-anchor="end" transform="rotate(-56 263.5 1091)">Stress</text>
<circle cx="388.9" cy="1033.4" r="8.2" fill="none" stroke="#c4c4c4" stroke-width="1.1"/>
<circle cx="388.9" cy="1033.4" r="16.4" fill="none" stroke="#c4c4c4" stroke-width="1.1"/>
<circle cx="388.9" cy="1033.4" r="24.6" fill="none" stroke="#c4c4c4" stroke-width="1.1"/>
<circle cx="388.9" cy="1033.4" r="32.8" fill="none" stroke="#c4c4c4" stroke-width="1.1"/>
<circle cx="388.9" cy="1033.4" r="41" fill="none" stroke="#c4c4c4" stroke-width="1.1"/>
<circle cx="388.9" cy="1033.4" r="49.2" fill="none" stroke="#c4c4c4" stroke-width="1.1"/>
<circle cx="388.9" cy="1033.4" r="57.4" fill="none" stroke="#c4c4c4" stroke-width="1.1"/>
<circle cx="388.9" cy="1033.4" r="65.6" fill="none" stroke="#c4c4c4" stroke-width="1.1"/>
<line x1="388.9" y1="1033.4" x2="469.6" y2="1034.2" stroke="#c4c4c4" stroke-width="1.1"/>
<line x1="388.9" y1="1033.4" x2="439.9" y2="970.8" stroke="#c4c4c4" stroke-width="1.1"/>
<line x1="388.9" y1="1033.4" x2="371.8" y2="954.5" stroke="#c4c4c4" stroke-width="1.1"/>
<line x1="388.9" y1="1033.4" x2="316.6" y2="997.6" stroke="#c4c4c4" stroke-width="1.1"/>
<line x1="388.9" y1="1033.4" x2="315.8" y2="1067.7" stroke="#c4c4c4" stroke-width="1.1"/>
<line x1="388.9" y1="1033.4" x2="370.1" y2="1111.9" stroke="#c4c4c4" stroke-width="1.1"/>
<line x1="388.9" y1="1033.4" x2="438.6" y2="1097.0" stroke="#c4c4c4" stroke-width="1.1"/>
<polygon points="469.6,1034.2 439.9,970.8 371.8,954.5 316.6,997.6 315.8,1067.7 370.1,1111.9 438.6,1097.0" fill="none" stroke="#222" stroke-width="1.1"/>
<polygon points="390.7,1030.2 470.8,1034.5 395.6,1043.1 373.3,1097.7 369.0,1044.4 384.5,1032" fill="#dde2f4" fill-opacity="0.9" stroke="#2a5db8" stroke-width="1.8" stroke-linejoin="miter"/>
<circle cx="388.9" cy="1033.4" r="26" fill="none" stroke="#d8323a" stroke-width="1.1"/>
<polygon points="388.5,1028.5 420.5,1034 390,1036.5 385.5,1051.5 370.5,1044.5 384,1034" fill="#f0b98e" stroke="#d42a2f" stroke-width="1.8"/>
<text x="382.5" y="921" font-size="16.5" fill="#3b74bd" text-anchor="middle">IStep</text>
<text x="372.5" y="947" font-size="14" fill="#3b74bd" text-anchor="middle">nSpike</text>
<text x="446.5" y="960.5" font-size="14" fill="#3b74bd" text-anchor="middle">Threshold</text>
<text x="303.5" y="984.5" font-size="14" fill="#3b74bd" text-anchor="middle">Latency</text>
<text x="486" y="1063" font-size="14" fill="#222" text-anchor="middle">Decay</text>
<text x="461" y="1115" font-size="14" fill="#222" text-anchor="middle">δ Spike</text>
<text x="366.5" y="1128" font-size="14" fill="#222" text-anchor="middle">δ Vm</text>
<text x="305" y="1084" font-size="14" fill="#222" text-anchor="middle">Rise</text>
<text x="389.5" y="1155" font-size="17" fill="#222" text-anchor="middle">Puff K<tspan font-size="11" dy="-7">+</tspan></text>
<text x="427.5" y="992.5" font-size="9.5" fill="#222" text-anchor="middle">0.001</text>
<text x="414" y="1008" font-size="9.5" fill="#222" text-anchor="middle">0.01</text>
<text x="402" y="1024.5" font-size="9.5" fill="#222" text-anchor="middle">0.1</text>
<text x="377" y="1022" font-size="10" fill="#d8323a" text-anchor="middle" transform="rotate(-47 377 1022)">α = 0.05</text>
<text x="397.4" y="12" font-size="15.2" fill="#111" text-anchor="middle">Naive</text>
<text x="584.3" y="12" font-size="15.2" fill="#111" text-anchor="middle">Stress</text>
<text x="288.5" y="66" font-size="15" fill="#111" text-anchor="middle" transform="rotate(-90 288.5 66)">WT</text>
<text x="288" y="175.5" font-size="15" fill="#111" text-anchor="middle" transform="rotate(-90 288 175.5)">GFAP OTR cKO</text>
<text x="134" y="469" font-size="15.2" fill="#111" text-anchor="middle">Naive</text>
<text x="357" y="469" font-size="15.2" fill="#111" text-anchor="middle">Stress</text>
<text x="27.5" y="527" font-size="15" fill="#111" text-anchor="middle" transform="rotate(-90 27.5 527)">WT</text>
<text x="27.5" y="635" font-size="15" fill="#111" text-anchor="middle" transform="rotate(-90 27.5 635)">GFAP OTR cKO</text>
<text x="69.8" y="720" font-size="15" fill="#3cb44b" text-anchor="middle">GFP</text>
<text x="159" y="720" font-size="15" fill="#e3a237" text-anchor="middle">GFAP</text>
<text x="248" y="720" font-size="15" fill="#222" text-anchor="middle">Merge</text>
<text x="28.5" y="763.5" font-size="15" fill="#111" text-anchor="middle" transform="rotate(-90 28.5 763.5)">Naive</text>
<text x="28.5" y="843.5" font-size="15" fill="#111" text-anchor="middle" transform="rotate(-90 28.5 843.5)">Stress</text>
</svg></body></html>
